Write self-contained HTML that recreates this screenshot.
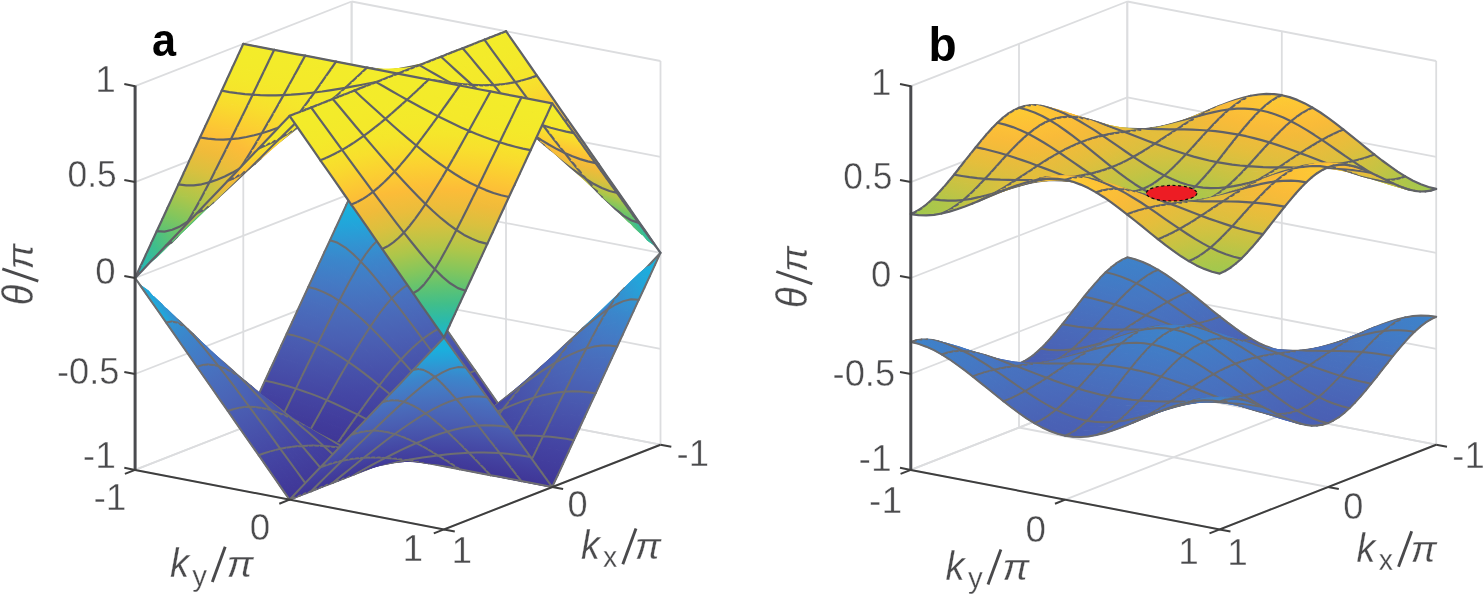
<!DOCTYPE html>
<html><head><meta charset="utf-8"><title>bands</title>
<style>
html,body{margin:0;padding:0;background:#fff;}
body{width:1484px;height:595px;overflow:hidden;font-family:"Liberation Sans",sans-serif;}
svg{display:block;}
path{stroke-width:1.2;stroke-linejoin:round;}
.c1{fill:url(#g1);stroke:url(#g1)}.c2{fill:url(#g2);stroke:url(#g2)}.c3{fill:url(#g3);stroke:url(#g3)}.c4{fill:url(#g4);stroke:url(#g4)}.c5{fill:url(#g5);stroke:url(#g5)}.c6{fill:url(#g6);stroke:url(#g6)}.c7{fill:url(#g7);stroke:url(#g7)}.c8{fill:url(#g8);stroke:url(#g8)}.c9{fill:url(#g9);stroke:url(#g9)}.c10{fill:url(#g10);stroke:url(#g10)}.c11{fill:url(#g11);stroke:url(#g11)}.c12{fill:url(#g12);stroke:url(#g12)}.c13{fill:url(#g13);stroke:url(#g13)}.c14{fill:url(#g14);stroke:url(#g14)}.c15{fill:url(#g15);stroke:url(#g15)}.c16{fill:url(#g16);stroke:url(#g16)}.c17{fill:url(#g17);stroke:url(#g17)}.c18{fill:url(#g18);stroke:url(#g18)}.c19{fill:url(#g19);stroke:url(#g19)}.c20{fill:url(#g20);stroke:url(#g20)}.c21{fill:url(#g21);stroke:url(#g21)}.c22{fill:url(#g22);stroke:url(#g22)}.c23{fill:url(#g23);stroke:url(#g23)}.c24{fill:url(#g24);stroke:url(#g24)}.c25{fill:url(#g25);stroke:url(#g25)}.c26{fill:url(#g26);stroke:url(#g26)}.c27{fill:url(#g27);stroke:url(#g27)}.c28{fill:url(#g28);stroke:url(#g28)}.c29{fill:url(#g29);stroke:url(#g29)}.c30{fill:url(#g30);stroke:url(#g30)}.c31{fill:url(#g31);stroke:url(#g31)}.c32{fill:url(#g32);stroke:url(#g32)}.c33{fill:url(#g33);stroke:url(#g33)}.c34{fill:url(#g34);stroke:url(#g34)}.c35{fill:url(#g35);stroke:url(#g35)}.c36{fill:url(#g36);stroke:url(#g36)}.c37{fill:url(#g37);stroke:url(#g37)}.c38{fill:url(#g38);stroke:url(#g38)}.c39{fill:url(#g39);stroke:url(#g39)}.c40{fill:url(#g40);stroke:url(#g40)}.c41{fill:url(#g41);stroke:url(#g41)}.c42{fill:url(#g42);stroke:url(#g42)}.c43{fill:url(#g43);stroke:url(#g43)}.c44{fill:url(#g44);stroke:url(#g44)}.c45{fill:url(#g45);stroke:url(#g45)}.c46{fill:url(#g46);stroke:url(#g46)}.c47{fill:url(#g47);stroke:url(#g47)}.c48{fill:url(#g48);stroke:url(#g48)}.c49{fill:url(#g49);stroke:url(#g49)}.c50{fill:url(#g50);stroke:url(#g50)}.c51{fill:url(#g51);stroke:url(#g51)}.c52{fill:url(#g52);stroke:url(#g52)}.c53{fill:url(#g53);stroke:url(#g53)}.c54{fill:url(#g54);stroke:url(#g54)}.c55{fill:url(#g55);stroke:url(#g55)}.c56{fill:url(#g56);stroke:url(#g56)}.c57{fill:url(#g57);stroke:url(#g57)}.c58{fill:url(#g58);stroke:url(#g58)}.c59{fill:url(#g59);stroke:url(#g59)}.c60{fill:url(#g60);stroke:url(#g60)}.c61{fill:url(#g61);stroke:url(#g61)}.c62{fill:url(#g62);stroke:url(#g62)}.c63{fill:url(#g63);stroke:url(#g63)}.c64{fill:url(#g64);stroke:url(#g64)}.c65{fill:url(#g65);stroke:url(#g65)}.c66{fill:url(#g66);stroke:url(#g66)}.c67{fill:url(#g67);stroke:url(#g67)}.c68{fill:url(#g68);stroke:url(#g68)}.c69{fill:url(#g69);stroke:url(#g69)}.c70{fill:url(#g70);stroke:url(#g70)}.c71{fill:url(#g71);stroke:url(#g71)}.c72{fill:url(#g72);stroke:url(#g72)}.c73{fill:url(#g73);stroke:url(#g73)}.c74{fill:url(#g74);stroke:url(#g74)}.c75{fill:url(#g75);stroke:url(#g75)}.c76{fill:url(#g76);stroke:url(#g76)}.c77{fill:url(#g77);stroke:url(#g77)}.c78{fill:url(#g78);stroke:url(#g78)}.c79{fill:url(#g79);stroke:url(#g79)}.c80{fill:url(#g80);stroke:url(#g80)}.c81{fill:url(#g81);stroke:url(#g81)}.c82{fill:url(#g82);stroke:url(#g82)}.c83{fill:url(#g83);stroke:url(#g83)}.c84{fill:url(#g84);stroke:url(#g84)}.c85{fill:url(#g85);stroke:url(#g85)}.c86{fill:url(#g86);stroke:url(#g86)}.c87{fill:url(#g87);stroke:url(#g87)}.c88{fill:url(#g88);stroke:url(#g88)}.c89{fill:url(#g89);stroke:url(#g89)}.c90{fill:url(#g90);stroke:url(#g90)}.c91{fill:url(#g91);stroke:url(#g91)}.c92{fill:url(#g92);stroke:url(#g92)}.c93{fill:url(#g93);stroke:url(#g93)}.c94{fill:url(#g94);stroke:url(#g94)}.c95{fill:url(#g95);stroke:url(#g95)}.c96{fill:url(#g96);stroke:url(#g96)}.c97{fill:url(#g97);stroke:url(#g97)}.c98{fill:url(#g98);stroke:url(#g98)}.c99{fill:url(#g99);stroke:url(#g99)}.c100{fill:url(#g100);stroke:url(#g100)}.c101{fill:url(#g101);stroke:url(#g101)}.c102{fill:url(#g102);stroke:url(#g102)}.c103{fill:url(#g103);stroke:url(#g103)}.c104{fill:url(#g104);stroke:url(#g104)}.c105{fill:url(#g105);stroke:url(#g105)}.c106{fill:url(#g106);stroke:url(#g106)}.c107{fill:url(#g107);stroke:url(#g107)}.c108{fill:url(#g108);stroke:url(#g108)}.c109{fill:url(#g109);stroke:url(#g109)}.c110{fill:url(#g110);stroke:url(#g110)}.c111{fill:url(#g111);stroke:url(#g111)}.c112{fill:url(#g112);stroke:url(#g112)}.c113{fill:url(#g113);stroke:url(#g113)}.c114{fill:url(#g114);stroke:url(#g114)}.c115{fill:url(#g115);stroke:url(#g115)}.c116{fill:url(#g116);stroke:url(#g116)}.c117{fill:url(#g117);stroke:url(#g117)}.c118{fill:url(#g118);stroke:url(#g118)}.c119{fill:url(#g119);stroke:url(#g119)}.c120{fill:url(#g120);stroke:url(#g120)}.c121{fill:url(#g121);stroke:url(#g121)}.c122{fill:url(#g122);stroke:url(#g122)}.c123{fill:url(#g123);stroke:url(#g123)}.c124{fill:url(#g124);stroke:url(#g124)}.c125{fill:url(#g125);stroke:url(#g125)}.c126{fill:url(#g126);stroke:url(#g126)}.c127{fill:url(#g127);stroke:url(#g127)}.c128{fill:url(#g128);stroke:url(#g128)}.c129{fill:url(#g129);stroke:url(#g129)}.c130{fill:url(#g130);stroke:url(#g130)}.c131{fill:url(#g131);stroke:url(#g131)}.c132{fill:url(#g132);stroke:url(#g132)}.c133{fill:url(#g133);stroke:url(#g133)}.c134{fill:url(#g134);stroke:url(#g134)}.c135{fill:url(#g135);stroke:url(#g135)}.c136{fill:url(#g136);stroke:url(#g136)}.c137{fill:url(#g137);stroke:url(#g137)}.c138{fill:url(#g138);stroke:url(#g138)}.c139{fill:url(#g139);stroke:url(#g139)}.c140{fill:url(#g140);stroke:url(#g140)}.c141{fill:url(#g141);stroke:url(#g141)}.c142{fill:url(#g142);stroke:url(#g142)}.c143{fill:url(#g143);stroke:url(#g143)}.c144{fill:url(#g144);stroke:url(#g144)}.c145{fill:url(#g145);stroke:url(#g145)}.c146{fill:url(#g146);stroke:url(#g146)}.c147{fill:url(#g147);stroke:url(#g147)}.c148{fill:url(#g148);stroke:url(#g148)}.c149{fill:url(#g149);stroke:url(#g149)}.c150{fill:url(#g150);stroke:url(#g150)}.c151{fill:url(#g151);stroke:url(#g151)}.c152{fill:url(#g152);stroke:url(#g152)}.c153{fill:url(#g153);stroke:url(#g153)}.c154{fill:url(#g154);stroke:url(#g154)}.c155{fill:url(#g155);stroke:url(#g155)}.c156{fill:url(#g156);stroke:url(#g156)}.c157{fill:url(#g157);stroke:url(#g157)}.c158{fill:url(#g158);stroke:url(#g158)}.c159{fill:url(#g159);stroke:url(#g159)}.c160{fill:url(#g160);stroke:url(#g160)}.c161{fill:url(#g161);stroke:url(#g161)}.c162{fill:url(#g162);stroke:url(#g162)}.c163{fill:url(#g163);stroke:url(#g163)}.c164{fill:url(#g164);stroke:url(#g164)}.c165{fill:url(#g165);stroke:url(#g165)}.c166{fill:url(#g166);stroke:url(#g166)}.c167{fill:url(#g167);stroke:url(#g167)}.c168{fill:url(#g168);stroke:url(#g168)}.c169{fill:url(#g169);stroke:url(#g169)}.c170{fill:url(#g170);stroke:url(#g170)}.c171{fill:url(#g171);stroke:url(#g171)}.c172{fill:url(#g172);stroke:url(#g172)}.c173{fill:url(#g173);stroke:url(#g173)}.c174{fill:url(#g174);stroke:url(#g174)}.c175{fill:url(#g175);stroke:url(#g175)}.c176{fill:url(#g176);stroke:url(#g176)}.c177{fill:url(#g177);stroke:url(#g177)}.c178{fill:url(#g178);stroke:url(#g178)}.c179{fill:url(#g179);stroke:url(#g179)}.c180{fill:url(#g180);stroke:url(#g180)}.c181{fill:url(#g181);stroke:url(#g181)}.c182{fill:url(#g182);stroke:url(#g182)}.c183{fill:url(#g183);stroke:url(#g183)}.c184{fill:url(#g184);stroke:url(#g184)}.c185{fill:url(#g185);stroke:url(#g185)}.c186{fill:url(#g186);stroke:url(#g186)}.c187{fill:url(#g187);stroke:url(#g187)}.c188{fill:url(#g188);stroke:url(#g188)}.c189{fill:url(#g189);stroke:url(#g189)}.c190{fill:url(#g190);stroke:url(#g190)}.c191{fill:url(#g191);stroke:url(#g191)}.c192{fill:url(#g192);stroke:url(#g192)}.c193{fill:url(#g193);stroke:url(#g193)}.c194{fill:url(#g194);stroke:url(#g194)}.c195{fill:url(#g195);stroke:url(#g195)}.c196{fill:url(#g196);stroke:url(#g196)}.c197{fill:url(#g197);stroke:url(#g197)}.c198{fill:url(#g198);stroke:url(#g198)}.c199{fill:url(#g199);stroke:url(#g199)}.c200{fill:url(#g200);stroke:url(#g200)}.c201{fill:url(#g201);stroke:url(#g201)}.c202{fill:url(#g202);stroke:url(#g202)}.c203{fill:url(#g203);stroke:url(#g203)}.c204{fill:url(#g204);stroke:url(#g204)}.c205{fill:url(#g205);stroke:url(#g205)}.c206{fill:url(#g206);stroke:url(#g206)}.c207{fill:url(#g207);stroke:url(#g207)}.c208{fill:#4870be;stroke:#4870be}.c209{fill:url(#g208);stroke:url(#g208)}.c210{fill:url(#g209);stroke:url(#g209)}.c211{fill:url(#g210);stroke:url(#g210)}.c212{fill:url(#g211);stroke:url(#g211)}.c213{fill:url(#g212);stroke:url(#g212)}.c214{fill:url(#g213);stroke:url(#g213)}.c215{fill:#4a67b8;stroke:#4a67b8}.c216{fill:url(#g214);stroke:url(#g214)}.c217{fill:url(#g215);stroke:url(#g215)}.c218{fill:url(#g216);stroke:url(#g216)}.c219{fill:url(#g217);stroke:url(#g217)}.c220{fill:url(#g218);stroke:url(#g218)}.c221{fill:url(#g219);stroke:url(#g219)}.c222{fill:url(#g220);stroke:url(#g220)}.c223{fill:#4870be;stroke:#4870be}.c224{fill:url(#g221);stroke:url(#g221)}.c225{fill:url(#g222);stroke:url(#g222)}.c226{fill:url(#g223);stroke:url(#g223)}.c227{fill:url(#g224);stroke:url(#g224)}.c228{fill:#4870be;stroke:#4870be}.c229{fill:url(#g225);stroke:url(#g225)}.c230{fill:url(#g226);stroke:url(#g226)}.c231{fill:url(#g227);stroke:url(#g227)}.c232{fill:url(#g228);stroke:url(#g228)}.c233{fill:url(#g229);stroke:url(#g229)}.c234{fill:url(#g230);stroke:url(#g230)}.c235{fill:url(#g231);stroke:url(#g231)}.c236{fill:#4479c4;stroke:#4479c4}.c237{fill:url(#g232);stroke:url(#g232)}.c238{fill:url(#g233);stroke:url(#g233)}.c239{fill:url(#g234);stroke:url(#g234)}.c240{fill:url(#g235);stroke:url(#g235)}.c241{fill:url(#g236);stroke:url(#g236)}.c242{fill:url(#g237);stroke:url(#g237)}.c243{fill:#4870be;stroke:#4870be}.c244{fill:url(#g238);stroke:url(#g238)}.c245{fill:url(#g239);stroke:url(#g239)}.c246{fill:url(#g240);stroke:url(#g240)}.c247{fill:url(#g241);stroke:url(#g241)}.c248{fill:url(#g242);stroke:url(#g242)}.c249{fill:url(#g243);stroke:url(#g243)}.c250{fill:url(#g244);stroke:url(#g244)}.c251{fill:url(#g245);stroke:url(#g245)}.c252{fill:url(#g246);stroke:url(#g246)}.c253{fill:#4870be;stroke:#4870be}.c254{fill:url(#g247);stroke:url(#g247)}.c255{fill:url(#g248);stroke:url(#g248)}.c256{fill:url(#g249);stroke:url(#g249)}.c257{fill:url(#g250);stroke:url(#g250)}.c258{fill:url(#g251);stroke:url(#g251)}.c259{fill:url(#g252);stroke:url(#g252)}.c260{fill:url(#g253);stroke:url(#g253)}.c261{fill:url(#g254);stroke:url(#g254)}.c262{fill:url(#g255);stroke:url(#g255)}.c263{fill:url(#g256);stroke:url(#g256)}.c264{fill:url(#g257);stroke:url(#g257)}.c265{fill:url(#g258);stroke:url(#g258)}.c266{fill:url(#g259);stroke:url(#g259)}.c267{fill:url(#g260);stroke:url(#g260)}.c268{fill:url(#g261);stroke:url(#g261)}.c269{fill:url(#g262);stroke:url(#g262)}.c270{fill:#4a67b8;stroke:#4a67b8}.c271{fill:url(#g263);stroke:url(#g263)}.c272{fill:url(#g264);stroke:url(#g264)}.c273{fill:#4870be;stroke:#4870be}.c274{fill:url(#g265);stroke:url(#g265)}.c275{fill:url(#g266);stroke:url(#g266)}.c276{fill:url(#g267);stroke:url(#g267)}.c277{fill:url(#g268);stroke:url(#g268)}.c278{fill:#4870be;stroke:#4870be}.c279{fill:url(#g269);stroke:url(#g269)}.c280{fill:url(#g270);stroke:url(#g270)}.c281{fill:#4479c4;stroke:#4479c4}.c282{fill:url(#g271);stroke:url(#g271)}.c283{fill:url(#g272);stroke:url(#g272)}.c284{fill:url(#g273);stroke:url(#g273)}.c285{fill:url(#g274);stroke:url(#g274)}.c286{fill:url(#g275);stroke:url(#g275)}.c287{fill:url(#g276);stroke:url(#g276)}.c288{fill:url(#g277);stroke:url(#g277)}.c289{fill:url(#g278);stroke:url(#g278)}.c290{fill:url(#g279);stroke:url(#g279)}.c291{fill:url(#g280);stroke:url(#g280)}.c292{fill:url(#g281);stroke:url(#g281)}.c293{fill:url(#g282);stroke:url(#g282)}.c294{fill:url(#g283);stroke:url(#g283)}.c295{fill:url(#g284);stroke:url(#g284)}.c296{fill:url(#g285);stroke:url(#g285)}.c297{fill:url(#g286);stroke:url(#g286)}.c298{fill:#4870be;stroke:#4870be}.c299{fill:url(#g287);stroke:url(#g287)}.c300{fill:url(#g288);stroke:url(#g288)}.c301{fill:url(#g289);stroke:url(#g289)}.c302{fill:url(#g290);stroke:url(#g290)}.c303{fill:#e4be3c;stroke:#e4be3c}.c304{fill:url(#g291);stroke:url(#g291)}.c305{fill:url(#g292);stroke:url(#g292)}.c306{fill:url(#g293);stroke:url(#g293)}.c307{fill:url(#g294);stroke:url(#g294)}.c308{fill:url(#g295);stroke:url(#g295)}.c309{fill:url(#g296);stroke:url(#g296)}.c310{fill:url(#g297);stroke:url(#g297)}.c311{fill:url(#g298);stroke:url(#g298)}.c312{fill:url(#g299);stroke:url(#g299)}.c313{fill:url(#g300);stroke:url(#g300)}.c314{fill:url(#g301);stroke:url(#g301)}.c315{fill:url(#g302);stroke:url(#g302)}.c316{fill:url(#g303);stroke:url(#g303)}.c317{fill:url(#g304);stroke:url(#g304)}.c318{fill:url(#g305);stroke:url(#g305)}.c319{fill:url(#g306);stroke:url(#g306)}.c320{fill:#c5c343;stroke:#c5c343}.c321{fill:url(#g307);stroke:url(#g307)}.c322{fill:url(#g308);stroke:url(#g308)}.c323{fill:#e4be3c;stroke:#e4be3c}.c324{fill:url(#g309);stroke:url(#g309)}.c325{fill:url(#g310);stroke:url(#g310)}.c326{fill:url(#g311);stroke:url(#g311)}.c327{fill:url(#g312);stroke:url(#g312)}.c328{fill:#e4be3c;stroke:#e4be3c}.c329{fill:url(#g313);stroke:url(#g313)}.c330{fill:url(#g314);stroke:url(#g314)}.c331{fill:#f9bb39;stroke:#f9bb39}.c332{fill:url(#g315);stroke:url(#g315)}.c333{fill:url(#g316);stroke:url(#g316)}.c334{fill:url(#g317);stroke:url(#g317)}.c335{fill:url(#g318);stroke:url(#g318)}.c336{fill:url(#g319);stroke:url(#g319)}.c337{fill:url(#g320);stroke:url(#g320)}.c338{fill:url(#g321);stroke:url(#g321)}.c339{fill:url(#g322);stroke:url(#g322)}.c340{fill:url(#g323);stroke:url(#g323)}.c341{fill:url(#g324);stroke:url(#g324)}.c342{fill:url(#g325);stroke:url(#g325)}.c343{fill:url(#g326);stroke:url(#g326)}.c344{fill:url(#g327);stroke:url(#g327)}.c345{fill:url(#g328);stroke:url(#g328)}.c346{fill:url(#g329);stroke:url(#g329)}.c347{fill:url(#g330);stroke:url(#g330)}.c348{fill:#e4be3c;stroke:#e4be3c}.c349{fill:url(#g331);stroke:url(#g331)}.c350{fill:url(#g332);stroke:url(#g332)}.c351{fill:url(#g333);stroke:url(#g333)}.c352{fill:url(#g334);stroke:url(#g334)}.c353{fill:url(#g335);stroke:url(#g335)}.c354{fill:url(#g336);stroke:url(#g336)}.c355{fill:url(#g337);stroke:url(#g337)}.c356{fill:url(#g338);stroke:url(#g338)}.c357{fill:url(#g339);stroke:url(#g339)}.c358{fill:#e4be3c;stroke:#e4be3c}.c359{fill:url(#g340);stroke:url(#g340)}.c360{fill:url(#g341);stroke:url(#g341)}.c361{fill:url(#g342);stroke:url(#g342)}.c362{fill:url(#g343);stroke:url(#g343)}.c363{fill:url(#g344);stroke:url(#g344)}.c364{fill:url(#g345);stroke:url(#g345)}.c365{fill:#c5c343;stroke:#c5c343}.c366{fill:url(#g346);stroke:url(#g346)}.c367{fill:url(#g347);stroke:url(#g347)}.c368{fill:url(#g348);stroke:url(#g348)}.c369{fill:url(#g349);stroke:url(#g349)}.c370{fill:url(#g350);stroke:url(#g350)}.c371{fill:url(#g351);stroke:url(#g351)}.c372{fill:url(#g352);stroke:url(#g352)}.c373{fill:#e4be3c;stroke:#e4be3c}.c374{fill:url(#g353);stroke:url(#g353)}.c375{fill:url(#g354);stroke:url(#g354)}.c376{fill:url(#g355);stroke:url(#g355)}.c377{fill:url(#g356);stroke:url(#g356)}.c378{fill:#e4be3c;stroke:#e4be3c}.c379{fill:url(#g357);stroke:url(#g357)}.c380{fill:url(#g358);stroke:url(#g358)}.c381{fill:url(#g359);stroke:url(#g359)}.c382{fill:url(#g360);stroke:url(#g360)}.c383{fill:url(#g361);stroke:url(#g361)}.c384{fill:url(#g362);stroke:url(#g362)}.c385{fill:url(#g363);stroke:url(#g363)}.c386{fill:#f9bb39;stroke:#f9bb39}.c387{fill:url(#g364);stroke:url(#g364)}.c388{fill:url(#g365);stroke:url(#g365)}.c389{fill:url(#g366);stroke:url(#g366)}.c390{fill:url(#g367);stroke:url(#g367)}.c391{fill:url(#g368);stroke:url(#g368)}.c392{fill:url(#g369);stroke:url(#g369)}.c393{fill:#e4be3c;stroke:#e4be3c}.c394{fill:url(#g370);stroke:url(#g370)}.c395{fill:url(#g371);stroke:url(#g371)}.c396{fill:url(#g372);stroke:url(#g372)}.c397{fill:url(#g373);stroke:url(#g373)}.c398{fill:url(#g374);stroke:url(#g374)}.c399{fill:url(#g375);stroke:url(#g375)}.c400{fill:url(#g376);stroke:url(#g376)}
.g{stroke:#dcdddf;stroke-width:1.8;fill:none;}
.ax{stroke:#3e3e3e;stroke-width:2;fill:none;stroke-linejoin:miter;}
.az{stroke:#4a4b4f;stroke-width:3;fill:none;}
.mu{stroke:#5f6168;stroke-width:2.2;fill:none;stroke-linejoin:round;stroke-linecap:round;}
.ml{stroke:#6e6e70;stroke-width:2;fill:none;stroke-linejoin:round;stroke-linecap:round;}
.mb{stroke:#6b6b6d;stroke-width:2;fill:none;stroke-linejoin:round;stroke-linecap:round;}
text{font-family:"Liberation Sans",sans-serif;fill:#4a4a4c;}
.th{stroke:#fff;stroke-width:.3;}
.tk{stroke:#fff;stroke-width:.45;}
.sl{stroke:#4a4a4c;stroke-width:2.9;fill:none;}
</style></head><body>
<svg width="1484" height="595" viewBox="0 0 1484 595">
<rect width="1484" height="595" fill="#fff"/>
<defs>
<linearGradient id="g1" gradientUnits="userSpaceOnUse" x1="357.7" y1="261.1" x2="354.3" y2="191.8"><stop offset="0" stop-color="#3b86cb"/><stop offset="0.25" stop-color="#3194d2"/><stop offset="0.5" stop-color="#24a3d9"/><stop offset="0.75" stop-color="#1ab0dd"/><stop offset="1" stop-color="#1ab4d6"/></linearGradient>
<linearGradient id="g2" gradientUnits="userSpaceOnUse" x1="393.2" y1="297.8" x2="380.8" y2="238"><stop offset="0" stop-color="#4871bf"/><stop offset="0.33" stop-color="#437bc5"/><stop offset="0.67" stop-color="#3b86cb"/><stop offset="1" stop-color="#3096d3"/></linearGradient>
<linearGradient id="g3" gradientUnits="userSpaceOnUse" x1="425.7" y1="338.1" x2="410.2" y2="282.9"><stop offset="0" stop-color="#4a5db1"/><stop offset="0.33" stop-color="#4a65b7"/><stop offset="0.67" stop-color="#496dbc"/><stop offset="1" stop-color="#4676c2"/></linearGradient>
<linearGradient id="g4" gradientUnits="userSpaceOnUse" x1="457.4" y1="379.6" x2="440.2" y2="327.6"><stop offset="0" stop-color="#4547a4"/><stop offset="0.33" stop-color="#474fa9"/><stop offset="0.67" stop-color="#4957ae"/><stop offset="1" stop-color="#4a5fb3"/></linearGradient>
<linearGradient id="g5" gradientUnits="userSpaceOnUse" x1="488.8" y1="421.6" x2="470.5" y2="372.3"><stop offset="0" stop-color="#3f3696"/><stop offset="0.33" stop-color="#413b9b"/><stop offset="0.67" stop-color="#4341a0"/><stop offset="1" stop-color="#4548a5"/></linearGradient>
<linearGradient id="g6" gradientUnits="userSpaceOnUse" x1="514" y1="411.4" x2="507.2" y2="394.9"><stop offset="0" stop-color="#3f3696"/><stop offset="0.33" stop-color="#413b9b"/><stop offset="0.67" stop-color="#4341a0"/><stop offset="1" stop-color="#4548a5"/></linearGradient>
<linearGradient id="g7" gradientUnits="userSpaceOnUse" x1="545.1" y1="379.2" x2="538" y2="364.1"><stop offset="0" stop-color="#4547a4"/><stop offset="0.33" stop-color="#474fa9"/><stop offset="0.67" stop-color="#4957ae"/><stop offset="1" stop-color="#4a5fb3"/></linearGradient>
<linearGradient id="g8" gradientUnits="userSpaceOnUse" x1="575.8" y1="346.3" x2="569.1" y2="334.4"><stop offset="0" stop-color="#4a5db1"/><stop offset="0.33" stop-color="#4a65b7"/><stop offset="0.67" stop-color="#496dbc"/><stop offset="1" stop-color="#4676c2"/></linearGradient>
<linearGradient id="g9" gradientUnits="userSpaceOnUse" x1="604" y1="310.8" x2="602.6" y2="309.3"><stop offset="0" stop-color="#4871bf"/><stop offset="0.33" stop-color="#437bc5"/><stop offset="0.67" stop-color="#3b86cb"/><stop offset="1" stop-color="#3096d3"/></linearGradient>
<linearGradient id="g10" gradientUnits="userSpaceOnUse" x1="606" y1="302.6" x2="670.8" y2="261"><stop offset="0" stop-color="#3b86cb"/><stop offset="0.25" stop-color="#3194d2"/><stop offset="0.5" stop-color="#24a3d9"/><stop offset="0.75" stop-color="#1ab0dd"/><stop offset="1" stop-color="#1ab4d6"/></linearGradient>
<linearGradient id="g11" gradientUnits="userSpaceOnUse" x1="332.1" y1="300.1" x2="337.2" y2="240.8"><stop offset="0" stop-color="#4871bf"/><stop offset="0.33" stop-color="#437bc5"/><stop offset="0.67" stop-color="#3b86cb"/><stop offset="1" stop-color="#3096d3"/></linearGradient>
<linearGradient id="g12" gradientUnits="userSpaceOnUse" x1="366.9" y1="326.6" x2="363.8" y2="260.9"><stop offset="0" stop-color="#4a65b7"/><stop offset="0.33" stop-color="#486fbd"/><stop offset="0.67" stop-color="#447ac4"/><stop offset="1" stop-color="#3b86cb"/></linearGradient>
<linearGradient id="g13" gradientUnits="userSpaceOnUse" x1="400.5" y1="359.1" x2="391.7" y2="297.9"><stop offset="0" stop-color="#4856ad"/><stop offset="0.33" stop-color="#4a5fb3"/><stop offset="0.67" stop-color="#4a68b8"/><stop offset="1" stop-color="#4871bf"/></linearGradient>
<linearGradient id="g14" gradientUnits="userSpaceOnUse" x1="433.3" y1="394.2" x2="420.5" y2="339.1"><stop offset="0" stop-color="#4444a2"/><stop offset="0.33" stop-color="#464ca7"/><stop offset="0.67" stop-color="#4855ac"/><stop offset="1" stop-color="#4a5db1"/></linearGradient>
<linearGradient id="g15" gradientUnits="userSpaceOnUse" x1="465.6" y1="430.3" x2="449.6" y2="381.8"><stop offset="0" stop-color="#3f3696"/><stop offset="0.33" stop-color="#413b9a"/><stop offset="0.67" stop-color="#43419f"/><stop offset="1" stop-color="#4547a4"/></linearGradient>
<linearGradient id="g16" gradientUnits="userSpaceOnUse" x1="491.6" y1="419.2" x2="486" y2="407.3"><stop offset="0" stop-color="#3f3696"/><stop offset="0.33" stop-color="#413b9a"/><stop offset="0.67" stop-color="#43419f"/><stop offset="1" stop-color="#4547a4"/></linearGradient>
<linearGradient id="g17" gradientUnits="userSpaceOnUse" x1="521.1" y1="387.7" x2="518.6" y2="384.3"><stop offset="0" stop-color="#4444a2"/><stop offset="0.33" stop-color="#464ca7"/><stop offset="0.67" stop-color="#4855ac"/><stop offset="1" stop-color="#4a5db1"/></linearGradient>
<linearGradient id="g18" gradientUnits="userSpaceOnUse" x1="540.3" y1="354.7" x2="562.6" y2="365.9"><stop offset="0" stop-color="#4856ad"/><stop offset="0.33" stop-color="#4a5fb3"/><stop offset="0.67" stop-color="#4a68b8"/><stop offset="1" stop-color="#4871bf"/></linearGradient>
<linearGradient id="g19" gradientUnits="userSpaceOnUse" x1="552.9" y1="356" x2="614.5" y2="316.5"><stop offset="0" stop-color="#4a65b7"/><stop offset="0.33" stop-color="#486fbd"/><stop offset="0.67" stop-color="#447ac4"/><stop offset="1" stop-color="#3b86cb"/></linearGradient>
<linearGradient id="g20" gradientUnits="userSpaceOnUse" x1="602" y1="353.8" x2="623.6" y2="294.1"><stop offset="0" stop-color="#4871bf"/><stop offset="0.33" stop-color="#437bc5"/><stop offset="0.67" stop-color="#3b86cb"/><stop offset="1" stop-color="#3096d3"/></linearGradient>
<linearGradient id="g21" gradientUnits="userSpaceOnUse" x1="309.3" y1="342.9" x2="316.6" y2="288.1"><stop offset="0" stop-color="#4a5db1"/><stop offset="0.33" stop-color="#4a65b7"/><stop offset="0.67" stop-color="#496dbc"/><stop offset="1" stop-color="#4676c2"/></linearGradient>
<linearGradient id="g22" gradientUnits="userSpaceOnUse" x1="342.7" y1="361.4" x2="345" y2="300.7"><stop offset="0" stop-color="#4856ad"/><stop offset="0.33" stop-color="#4a5fb3"/><stop offset="0.67" stop-color="#4a68b8"/><stop offset="1" stop-color="#4871bf"/></linearGradient>
<linearGradient id="g23" gradientUnits="userSpaceOnUse" x1="376" y1="384.9" x2="373.2" y2="326.2"><stop offset="0" stop-color="#464ba7"/><stop offset="0.33" stop-color="#4854ac"/><stop offset="0.67" stop-color="#4a5db1"/><stop offset="1" stop-color="#4a65b7"/></linearGradient>
<linearGradient id="g24" gradientUnits="userSpaceOnUse" x1="409" y1="411.5" x2="401.4" y2="358.7"><stop offset="0" stop-color="#42409e"/><stop offset="0.33" stop-color="#4446a4"/><stop offset="0.67" stop-color="#464ea8"/><stop offset="1" stop-color="#4856ad"/></linearGradient>
<linearGradient id="g25" gradientUnits="userSpaceOnUse" x1="441.9" y1="439" x2="429.4" y2="394.7"><stop offset="0" stop-color="#3f3696"/><stop offset="0.5" stop-color="#413c9c"/><stop offset="1" stop-color="#4444a2"/></linearGradient>
<linearGradient id="g26" gradientUnits="userSpaceOnUse" x1="468.1" y1="427" x2="466.4" y2="424"><stop offset="0" stop-color="#3f3696"/><stop offset="0.5" stop-color="#413c9c"/><stop offset="1" stop-color="#4444a2"/></linearGradient>
<linearGradient id="g27" gradientUnits="userSpaceOnUse" x1="486.9" y1="399.7" x2="512.1" y2="412.5"><stop offset="0" stop-color="#42409e"/><stop offset="0.33" stop-color="#4446a4"/><stop offset="0.67" stop-color="#464ea8"/><stop offset="1" stop-color="#4856ad"/></linearGradient>
<linearGradient id="g28" gradientUnits="userSpaceOnUse" x1="502.3" y1="404.8" x2="560.6" y2="367.4"><stop offset="0" stop-color="#464ba7"/><stop offset="0.33" stop-color="#4854ac"/><stop offset="0.67" stop-color="#4a5db1"/><stop offset="1" stop-color="#4a65b7"/></linearGradient>
<linearGradient id="g29" gradientUnits="userSpaceOnUse" x1="545.2" y1="402.8" x2="576.7" y2="342.6"><stop offset="0" stop-color="#4856ad"/><stop offset="0.33" stop-color="#4a5fb3"/><stop offset="0.67" stop-color="#4a68b8"/><stop offset="1" stop-color="#4871bf"/></linearGradient>
<linearGradient id="g30" gradientUnits="userSpaceOnUse" x1="583.6" y1="396.7" x2="598.3" y2="341.5"><stop offset="0" stop-color="#4a5db1"/><stop offset="0.33" stop-color="#4a65b7"/><stop offset="0.67" stop-color="#496dbc"/><stop offset="1" stop-color="#4676c2"/></linearGradient>
<linearGradient id="g31" gradientUnits="userSpaceOnUse" x1="287.1" y1="387.1" x2="295.5" y2="335.3"><stop offset="0" stop-color="#4547a4"/><stop offset="0.33" stop-color="#474fa9"/><stop offset="0.67" stop-color="#4957ae"/><stop offset="1" stop-color="#4a5fb3"/></linearGradient>
<linearGradient id="g32" gradientUnits="userSpaceOnUse" x1="319.5" y1="399" x2="325.1" y2="344.5"><stop offset="0" stop-color="#4444a2"/><stop offset="0.33" stop-color="#464ca7"/><stop offset="0.67" stop-color="#4855ac"/><stop offset="1" stop-color="#4a5db1"/></linearGradient>
<linearGradient id="g33" gradientUnits="userSpaceOnUse" x1="352.1" y1="413.7" x2="354.1" y2="361.5"><stop offset="0" stop-color="#42409e"/><stop offset="0.33" stop-color="#4446a4"/><stop offset="0.67" stop-color="#464ea8"/><stop offset="1" stop-color="#4856ad"/></linearGradient>
<linearGradient id="g34" gradientUnits="userSpaceOnUse" x1="384.9" y1="430.3" x2="382.7" y2="384.2"><stop offset="0" stop-color="#413b9a"/><stop offset="0.5" stop-color="#4342a0"/><stop offset="1" stop-color="#464ba7"/></linearGradient>
<linearGradient id="g35" gradientUnits="userSpaceOnUse" x1="417.8" y1="447.3" x2="410" y2="410.3"><stop offset="0" stop-color="#3f3696"/><stop offset="0.5" stop-color="#413b9a"/><stop offset="1" stop-color="#42409e"/></linearGradient>
<linearGradient id="g36" gradientUnits="userSpaceOnUse" x1="441.9" y1="434.5" x2="451.8" y2="446.1"><stop offset="0" stop-color="#3f3696"/><stop offset="0.5" stop-color="#413b9a"/><stop offset="1" stop-color="#42409e"/></linearGradient>
<linearGradient id="g37" gradientUnits="userSpaceOnUse" x1="454.2" y1="442.8" x2="506.7" y2="409.1"><stop offset="0" stop-color="#413b9a"/><stop offset="0.5" stop-color="#4342a0"/><stop offset="1" stop-color="#464ba7"/></linearGradient>
<linearGradient id="g38" gradientUnits="userSpaceOnUse" x1="495" y1="444.1" x2="522.8" y2="390.6"><stop offset="0" stop-color="#42409e"/><stop offset="0.33" stop-color="#4446a4"/><stop offset="0.67" stop-color="#464ea8"/><stop offset="1" stop-color="#4856ad"/></linearGradient>
<linearGradient id="g39" gradientUnits="userSpaceOnUse" x1="529.9" y1="441" x2="547.9" y2="385.7"><stop offset="0" stop-color="#4444a2"/><stop offset="0.33" stop-color="#464ca7"/><stop offset="0.67" stop-color="#4855ac"/><stop offset="1" stop-color="#4a5db1"/></linearGradient>
<linearGradient id="g40" gradientUnits="userSpaceOnUse" x1="563.4" y1="440.7" x2="575.3" y2="388.7"><stop offset="0" stop-color="#4547a4"/><stop offset="0.33" stop-color="#474fa9"/><stop offset="0.67" stop-color="#4957ae"/><stop offset="1" stop-color="#4a5fb3"/></linearGradient>
<linearGradient id="g41" gradientUnits="userSpaceOnUse" x1="265.2" y1="431.7" x2="274.2" y2="382.3"><stop offset="0" stop-color="#3f3696"/><stop offset="0.33" stop-color="#413b9b"/><stop offset="0.67" stop-color="#4341a0"/><stop offset="1" stop-color="#4548a5"/></linearGradient>
<linearGradient id="g42" gradientUnits="userSpaceOnUse" x1="296.9" y1="437.6" x2="304.6" y2="389.6"><stop offset="0" stop-color="#3f3696"/><stop offset="0.33" stop-color="#413b9a"/><stop offset="0.67" stop-color="#43419f"/><stop offset="1" stop-color="#4547a4"/></linearGradient>
<linearGradient id="g43" gradientUnits="userSpaceOnUse" x1="328.9" y1="443.6" x2="334.7" y2="400.4"><stop offset="0" stop-color="#3f3696"/><stop offset="0.5" stop-color="#413c9c"/><stop offset="1" stop-color="#4444a2"/></linearGradient>
<linearGradient id="g44" gradientUnits="userSpaceOnUse" x1="361.1" y1="449.2" x2="364.2" y2="413.7"><stop offset="0" stop-color="#3f3696"/><stop offset="0.5" stop-color="#413b9a"/><stop offset="1" stop-color="#42409e"/></linearGradient>
<linearGradient id="g45" gradientUnits="userSpaceOnUse" x1="393.5" y1="453.8" x2="392.2" y2="427.4"><stop offset="0" stop-color="#3f3696"/><stop offset="1" stop-color="#413b9a"/></linearGradient>
<linearGradient id="g46" gradientUnits="userSpaceOnUse" x1="413.1" y1="460.1" x2="456.5" y2="432.3"><stop offset="0" stop-color="#3f3696"/><stop offset="1" stop-color="#413b9a"/></linearGradient>
<linearGradient id="g47" gradientUnits="userSpaceOnUse" x1="449.7" y1="468.2" x2="463.4" y2="429.7"><stop offset="0" stop-color="#3f3696"/><stop offset="0.5" stop-color="#413b9a"/><stop offset="1" stop-color="#42409e"/></linearGradient>
<linearGradient id="g48" gradientUnits="userSpaceOnUse" x1="480.7" y1="473.7" x2="492.5" y2="429.6"><stop offset="0" stop-color="#3f3696"/><stop offset="0.5" stop-color="#413c9c"/><stop offset="1" stop-color="#4444a2"/></linearGradient>
<linearGradient id="g49" gradientUnits="userSpaceOnUse" x1="511.6" y1="479.4" x2="522.6" y2="431.1"><stop offset="0" stop-color="#3f3696"/><stop offset="0.33" stop-color="#413b9a"/><stop offset="0.67" stop-color="#43419f"/><stop offset="1" stop-color="#4547a4"/></linearGradient>
<linearGradient id="g50" gradientUnits="userSpaceOnUse" x1="542.7" y1="485.3" x2="552.7" y2="435.8"><stop offset="0" stop-color="#3f3696"/><stop offset="0.33" stop-color="#413b9b"/><stop offset="0.67" stop-color="#4341a0"/><stop offset="1" stop-color="#4548a5"/></linearGradient>
<linearGradient id="g51" gradientUnits="userSpaceOnUse" x1="245.6" y1="427.8" x2="250.5" y2="403.6"><stop offset="0" stop-color="#3f3696"/><stop offset="0.33" stop-color="#413b9b"/><stop offset="0.67" stop-color="#4341a0"/><stop offset="1" stop-color="#4548a5"/></linearGradient>
<linearGradient id="g52" gradientUnits="userSpaceOnUse" x1="276.6" y1="433.5" x2="281.4" y2="412.6"><stop offset="0" stop-color="#3f3696"/><stop offset="0.33" stop-color="#413b9a"/><stop offset="0.67" stop-color="#43419f"/><stop offset="1" stop-color="#4547a4"/></linearGradient>
<linearGradient id="g53" gradientUnits="userSpaceOnUse" x1="308.2" y1="439.1" x2="311.8" y2="425.6"><stop offset="0" stop-color="#3f3696"/><stop offset="0.5" stop-color="#413c9c"/><stop offset="1" stop-color="#4444a2"/></linearGradient>
<linearGradient id="g54" gradientUnits="userSpaceOnUse" x1="340.5" y1="444.4" x2="340.9" y2="443.4"><stop offset="0" stop-color="#3f3696"/><stop offset="0.5" stop-color="#413b9a"/><stop offset="1" stop-color="#42409e"/></linearGradient>
<linearGradient id="g55" gradientUnits="userSpaceOnUse" x1="379.8" y1="450.3" x2="347" y2="471.3"><stop offset="0" stop-color="#3f3696"/><stop offset="1" stop-color="#413b9a"/></linearGradient>
<linearGradient id="g56" gradientUnits="userSpaceOnUse" x1="402.4" y1="460.8" x2="402.5" y2="463.9"><stop offset="0" stop-color="#3f3696"/><stop offset="1" stop-color="#413b9a"/></linearGradient>
<linearGradient id="g57" gradientUnits="userSpaceOnUse" x1="433" y1="465.2" x2="433.8" y2="456.5"><stop offset="0" stop-color="#3f3696"/><stop offset="0.5" stop-color="#413b9a"/><stop offset="1" stop-color="#42409e"/></linearGradient>
<linearGradient id="g58" gradientUnits="userSpaceOnUse" x1="463.2" y1="470.6" x2="465.5" y2="453.1"><stop offset="0" stop-color="#3f3696"/><stop offset="0.5" stop-color="#413c9c"/><stop offset="1" stop-color="#4444a2"/></linearGradient>
<linearGradient id="g59" gradientUnits="userSpaceOnUse" x1="493.4" y1="476.1" x2="497.1" y2="453.1"><stop offset="0" stop-color="#3f3696"/><stop offset="0.33" stop-color="#413b9a"/><stop offset="0.67" stop-color="#43419f"/><stop offset="1" stop-color="#4547a4"/></linearGradient>
<linearGradient id="g60" gradientUnits="userSpaceOnUse" x1="523.8" y1="481.7" x2="528.3" y2="456.8"><stop offset="0" stop-color="#3f3696"/><stop offset="0.33" stop-color="#413b9b"/><stop offset="0.67" stop-color="#4341a0"/><stop offset="1" stop-color="#4548a5"/></linearGradient>
<linearGradient id="g61" gradientUnits="userSpaceOnUse" x1="223.5" y1="399" x2="229.2" y2="374.4"><stop offset="0" stop-color="#4547a4"/><stop offset="0.33" stop-color="#474fa9"/><stop offset="0.67" stop-color="#4957ae"/><stop offset="1" stop-color="#4a5fb3"/></linearGradient>
<linearGradient id="g62" gradientUnits="userSpaceOnUse" x1="254.2" y1="408.1" x2="260.6" y2="388.1"><stop offset="0" stop-color="#4444a2"/><stop offset="0.33" stop-color="#464ca7"/><stop offset="0.67" stop-color="#4855ac"/><stop offset="1" stop-color="#4a5db1"/></linearGradient>
<linearGradient id="g63" gradientUnits="userSpaceOnUse" x1="286.5" y1="418.6" x2="290" y2="411.9"><stop offset="0" stop-color="#42409e"/><stop offset="0.33" stop-color="#4446a4"/><stop offset="0.67" stop-color="#464ea8"/><stop offset="1" stop-color="#4856ad"/></linearGradient>
<linearGradient id="g64" gradientUnits="userSpaceOnUse" x1="329.2" y1="429.4" x2="305.3" y2="444.8"><stop offset="0" stop-color="#413b9a"/><stop offset="0.5" stop-color="#4342a0"/><stop offset="1" stop-color="#464ba7"/></linearGradient>
<linearGradient id="g65" gradientUnits="userSpaceOnUse" x1="362.2" y1="472.8" x2="330.2" y2="435.5"><stop offset="0" stop-color="#3f3696"/><stop offset="0.5" stop-color="#413b9a"/><stop offset="1" stop-color="#42409e"/></linearGradient>
<linearGradient id="g66" gradientUnits="userSpaceOnUse" x1="381.2" y1="466.6" x2="380" y2="460.8"><stop offset="0" stop-color="#3f3696"/><stop offset="0.5" stop-color="#413b9a"/><stop offset="1" stop-color="#42409e"/></linearGradient>
<linearGradient id="g67" gradientUnits="userSpaceOnUse" x1="412" y1="460.9" x2="411.2" y2="444.3"><stop offset="0" stop-color="#413b9a"/><stop offset="0.5" stop-color="#4342a0"/><stop offset="1" stop-color="#464ba7"/></linearGradient>
<linearGradient id="g68" gradientUnits="userSpaceOnUse" x1="442.1" y1="456.2" x2="443.1" y2="432.1"><stop offset="0" stop-color="#42409e"/><stop offset="0.33" stop-color="#4446a4"/><stop offset="0.67" stop-color="#464ea8"/><stop offset="1" stop-color="#4856ad"/></linearGradient>
<linearGradient id="g69" gradientUnits="userSpaceOnUse" x1="472.1" y1="453.5" x2="474.9" y2="425.6"><stop offset="0" stop-color="#4444a2"/><stop offset="0.33" stop-color="#464ca7"/><stop offset="0.67" stop-color="#4855ac"/><stop offset="1" stop-color="#4a5db1"/></linearGradient>
<linearGradient id="g70" gradientUnits="userSpaceOnUse" x1="502.2" y1="453.6" x2="506.5" y2="426.9"><stop offset="0" stop-color="#4547a4"/><stop offset="0.33" stop-color="#474fa9"/><stop offset="0.67" stop-color="#4957ae"/><stop offset="1" stop-color="#4a5fb3"/></linearGradient>
<linearGradient id="g71" gradientUnits="userSpaceOnUse" x1="201.4" y1="370.2" x2="208" y2="345.7"><stop offset="0" stop-color="#4a5db1"/><stop offset="0.33" stop-color="#4a65b7"/><stop offset="0.67" stop-color="#496dbc"/><stop offset="1" stop-color="#4676c2"/></linearGradient>
<linearGradient id="g72" gradientUnits="userSpaceOnUse" x1="232.3" y1="381.3" x2="239.2" y2="368.1"><stop offset="0" stop-color="#4856ad"/><stop offset="0.33" stop-color="#4a5fb3"/><stop offset="0.67" stop-color="#4a68b8"/><stop offset="1" stop-color="#4871bf"/></linearGradient>
<linearGradient id="g73" gradientUnits="userSpaceOnUse" x1="274.9" y1="394.8" x2="256.6" y2="406.6"><stop offset="0" stop-color="#464ba7"/><stop offset="0.33" stop-color="#4854ac"/><stop offset="0.67" stop-color="#4a5db1"/><stop offset="1" stop-color="#4a65b7"/></linearGradient>
<linearGradient id="g74" gradientUnits="userSpaceOnUse" x1="322.6" y1="442.8" x2="266.6" y2="414.4"><stop offset="0" stop-color="#42409e"/><stop offset="0.33" stop-color="#4446a4"/><stop offset="0.67" stop-color="#464ea8"/><stop offset="1" stop-color="#4856ad"/></linearGradient>
<linearGradient id="g75" gradientUnits="userSpaceOnUse" x1="339" y1="481.2" x2="314.3" y2="437.3"><stop offset="0" stop-color="#3f3696"/><stop offset="0.5" stop-color="#413c9c"/><stop offset="1" stop-color="#4444a2"/></linearGradient>
<linearGradient id="g76" gradientUnits="userSpaceOnUse" x1="360.7" y1="473.6" x2="357.1" y2="460.8"><stop offset="0" stop-color="#3f3696"/><stop offset="0.5" stop-color="#413c9c"/><stop offset="1" stop-color="#4444a2"/></linearGradient>
<linearGradient id="g77" gradientUnits="userSpaceOnUse" x1="391.4" y1="457.8" x2="388.3" y2="435.8"><stop offset="0" stop-color="#42409e"/><stop offset="0.33" stop-color="#4446a4"/><stop offset="0.67" stop-color="#464ea8"/><stop offset="1" stop-color="#4856ad"/></linearGradient>
<linearGradient id="g78" gradientUnits="userSpaceOnUse" x1="421.5" y1="443.4" x2="420.1" y2="414.3"><stop offset="0" stop-color="#464ba7"/><stop offset="0.33" stop-color="#4854ac"/><stop offset="0.67" stop-color="#4a5db1"/><stop offset="1" stop-color="#4a65b7"/></linearGradient>
<linearGradient id="g79" gradientUnits="userSpaceOnUse" x1="451.2" y1="432.1" x2="452.4" y2="399.5"><stop offset="0" stop-color="#4856ad"/><stop offset="0.33" stop-color="#4a5fb3"/><stop offset="0.67" stop-color="#4a68b8"/><stop offset="1" stop-color="#4871bf"/></linearGradient>
<linearGradient id="g80" gradientUnits="userSpaceOnUse" x1="480.8" y1="426" x2="484.6" y2="397"><stop offset="0" stop-color="#4a5db1"/><stop offset="0.33" stop-color="#4a65b7"/><stop offset="0.67" stop-color="#496dbc"/><stop offset="1" stop-color="#4676c2"/></linearGradient>
<linearGradient id="g81" gradientUnits="userSpaceOnUse" x1="179.1" y1="341" x2="187.1" y2="319"><stop offset="0" stop-color="#4871bf"/><stop offset="0.33" stop-color="#437bc5"/><stop offset="0.67" stop-color="#3b86cb"/><stop offset="1" stop-color="#3096d3"/></linearGradient>
<linearGradient id="g82" gradientUnits="userSpaceOnUse" x1="221.1" y1="350.6" x2="205.7" y2="360.4"><stop offset="0" stop-color="#4a65b7"/><stop offset="0.33" stop-color="#486fbd"/><stop offset="0.67" stop-color="#447ac4"/><stop offset="1" stop-color="#3b86cb"/></linearGradient>
<linearGradient id="g83" gradientUnits="userSpaceOnUse" x1="272.9" y1="403.6" x2="213.3" y2="373.8"><stop offset="0" stop-color="#4856ad"/><stop offset="0.33" stop-color="#4a5fb3"/><stop offset="0.67" stop-color="#4a68b8"/><stop offset="1" stop-color="#4871bf"/></linearGradient>
<linearGradient id="g84" gradientUnits="userSpaceOnUse" x1="293.2" y1="451.3" x2="256" y2="401"><stop offset="0" stop-color="#4444a2"/><stop offset="0.33" stop-color="#464ca7"/><stop offset="0.67" stop-color="#4855ac"/><stop offset="1" stop-color="#4a5db1"/></linearGradient>
<linearGradient id="g85" gradientUnits="userSpaceOnUse" x1="317" y1="489.3" x2="294.6" y2="441.4"><stop offset="0" stop-color="#3f3696"/><stop offset="0.33" stop-color="#413b9a"/><stop offset="0.67" stop-color="#43419f"/><stop offset="1" stop-color="#4547a4"/></linearGradient>
<linearGradient id="g86" gradientUnits="userSpaceOnUse" x1="340.1" y1="481" x2="334.4" y2="463.8"><stop offset="0" stop-color="#3f3696"/><stop offset="0.33" stop-color="#413b9a"/><stop offset="0.67" stop-color="#43419f"/><stop offset="1" stop-color="#4547a4"/></linearGradient>
<linearGradient id="g87" gradientUnits="userSpaceOnUse" x1="371" y1="456.6" x2="365.4" y2="432.8"><stop offset="0" stop-color="#4444a2"/><stop offset="0.33" stop-color="#464ca7"/><stop offset="0.67" stop-color="#4855ac"/><stop offset="1" stop-color="#4a5db1"/></linearGradient>
<linearGradient id="g88" gradientUnits="userSpaceOnUse" x1="401.3" y1="433.6" x2="396.9" y2="403.2"><stop offset="0" stop-color="#4856ad"/><stop offset="0.33" stop-color="#4a5fb3"/><stop offset="0.67" stop-color="#4a68b8"/><stop offset="1" stop-color="#4871bf"/></linearGradient>
<linearGradient id="g89" gradientUnits="userSpaceOnUse" x1="430.9" y1="413.6" x2="429.2" y2="377.7"><stop offset="0" stop-color="#4a65b7"/><stop offset="0.33" stop-color="#486fbd"/><stop offset="0.67" stop-color="#447ac4"/><stop offset="1" stop-color="#3b86cb"/></linearGradient>
<linearGradient id="g90" gradientUnits="userSpaceOnUse" x1="459.7" y1="399.7" x2="462.4" y2="367.2"><stop offset="0" stop-color="#4871bf"/><stop offset="0.33" stop-color="#437bc5"/><stop offset="0.67" stop-color="#3b86cb"/><stop offset="1" stop-color="#3096d3"/></linearGradient>
<linearGradient id="g91" gradientUnits="userSpaceOnUse" x1="168.3" y1="302.7" x2="152.4" y2="312.9"><stop offset="0" stop-color="#3b86cb"/><stop offset="0.25" stop-color="#3194d2"/><stop offset="0.5" stop-color="#24a3d9"/><stop offset="0.75" stop-color="#1ab0dd"/><stop offset="1" stop-color="#1ab4d6"/></linearGradient>
<linearGradient id="g92" gradientUnits="userSpaceOnUse" x1="214.1" y1="369.4" x2="169.6" y2="319"><stop offset="0" stop-color="#4871bf"/><stop offset="0.33" stop-color="#437bc5"/><stop offset="0.67" stop-color="#3b86cb"/><stop offset="1" stop-color="#3096d3"/></linearGradient>
<linearGradient id="g93" gradientUnits="userSpaceOnUse" x1="238" y1="413.1" x2="208.1" y2="360.3"><stop offset="0" stop-color="#4a5db1"/><stop offset="0.33" stop-color="#4a65b7"/><stop offset="0.67" stop-color="#496dbc"/><stop offset="1" stop-color="#4676c2"/></linearGradient>
<linearGradient id="g94" gradientUnits="userSpaceOnUse" x1="265.9" y1="455.4" x2="242" y2="404.3"><stop offset="0" stop-color="#4547a4"/><stop offset="0.33" stop-color="#474fa9"/><stop offset="0.67" stop-color="#4957ae"/><stop offset="1" stop-color="#4a5fb3"/></linearGradient>
<linearGradient id="g95" gradientUnits="userSpaceOnUse" x1="294.9" y1="497.7" x2="274.6" y2="448.6"><stop offset="0" stop-color="#3f3696"/><stop offset="0.33" stop-color="#413b9b"/><stop offset="0.67" stop-color="#4341a0"/><stop offset="1" stop-color="#4548a5"/></linearGradient>
<linearGradient id="g96" gradientUnits="userSpaceOnUse" x1="319.1" y1="488.5" x2="312.4" y2="470.3"><stop offset="0" stop-color="#3f3696"/><stop offset="0.33" stop-color="#413b9b"/><stop offset="0.67" stop-color="#4341a0"/><stop offset="1" stop-color="#4548a5"/></linearGradient>
<linearGradient id="g97" gradientUnits="userSpaceOnUse" x1="350.1" y1="458.2" x2="343.3" y2="437.5"><stop offset="0" stop-color="#4547a4"/><stop offset="0.33" stop-color="#474fa9"/><stop offset="0.67" stop-color="#4957ae"/><stop offset="1" stop-color="#4a5fb3"/></linearGradient>
<linearGradient id="g98" gradientUnits="userSpaceOnUse" x1="380.9" y1="428.5" x2="374.2" y2="404.6"><stop offset="0" stop-color="#4a5db1"/><stop offset="0.33" stop-color="#4a65b7"/><stop offset="0.67" stop-color="#496dbc"/><stop offset="1" stop-color="#4676c2"/></linearGradient>
<linearGradient id="g99" gradientUnits="userSpaceOnUse" x1="411.4" y1="400.4" x2="405.4" y2="371.6"><stop offset="0" stop-color="#4871bf"/><stop offset="0.33" stop-color="#437bc5"/><stop offset="0.67" stop-color="#3b86cb"/><stop offset="1" stop-color="#3096d3"/></linearGradient>
<linearGradient id="g100" gradientUnits="userSpaceOnUse" x1="440.2" y1="377.3" x2="438.3" y2="339.2"><stop offset="0" stop-color="#3b86cb"/><stop offset="0.25" stop-color="#3194d2"/><stop offset="0.5" stop-color="#24a3d9"/><stop offset="0.75" stop-color="#1ab0dd"/><stop offset="1" stop-color="#1ab4d6"/></linearGradient>
<linearGradient id="g101" gradientUnits="userSpaceOnUse" x1="357.3" y1="191.7" x2="355.4" y2="153.6"><stop offset="0" stop-color="#1ab4d6"/><stop offset="0.25" stop-color="#2ab9ad"/><stop offset="0.5" stop-color="#40be8b"/><stop offset="0.75" stop-color="#5fc372"/><stop offset="1" stop-color="#84c65c"/></linearGradient>
<linearGradient id="g102" gradientUnits="userSpaceOnUse" x1="390.2" y1="159.3" x2="384.2" y2="130.5"><stop offset="0" stop-color="#5ac275"/><stop offset="0.33" stop-color="#84c65c"/><stop offset="0.67" stop-color="#aec64a"/><stop offset="1" stop-color="#cfc240"/></linearGradient>
<linearGradient id="g103" gradientUnits="userSpaceOnUse" x1="421.4" y1="126.3" x2="414.7" y2="102.4"><stop offset="0" stop-color="#bfc445"/><stop offset="0.33" stop-color="#dbc03e"/><stop offset="0.67" stop-color="#f0bb3a"/><stop offset="1" stop-color="#fcc037"/></linearGradient>
<linearGradient id="g104" gradientUnits="userSpaceOnUse" x1="452.3" y1="93.4" x2="445.5" y2="72.7"><stop offset="0" stop-color="#fcbb38"/><stop offset="0.33" stop-color="#fcca33"/><stop offset="0.67" stop-color="#f9da2e"/><stop offset="1" stop-color="#f6e52b"/></linearGradient>
<linearGradient id="g105" gradientUnits="userSpaceOnUse" x1="483.2" y1="60.6" x2="476.5" y2="42.4"><stop offset="0" stop-color="#f6e42b"/><stop offset="0.33" stop-color="#f4e92a"/><stop offset="0.67" stop-color="#f3eb2a"/><stop offset="1" stop-color="#f3ec2a"/></linearGradient>
<linearGradient id="g106" gradientUnits="userSpaceOnUse" x1="521" y1="82.3" x2="500.7" y2="33.2"><stop offset="0" stop-color="#f6e42b"/><stop offset="0.33" stop-color="#f4e92a"/><stop offset="0.67" stop-color="#f3eb2a"/><stop offset="1" stop-color="#f3ec2a"/></linearGradient>
<linearGradient id="g107" gradientUnits="userSpaceOnUse" x1="553.6" y1="126.6" x2="529.7" y2="75.5"><stop offset="0" stop-color="#fcbb38"/><stop offset="0.33" stop-color="#fcca33"/><stop offset="0.67" stop-color="#f9da2e"/><stop offset="1" stop-color="#f6e52b"/></linearGradient>
<linearGradient id="g108" gradientUnits="userSpaceOnUse" x1="587.5" y1="170.6" x2="557.6" y2="117.8"><stop offset="0" stop-color="#bfc445"/><stop offset="0.33" stop-color="#dbc03e"/><stop offset="0.67" stop-color="#f0bb3a"/><stop offset="1" stop-color="#fcc037"/></linearGradient>
<linearGradient id="g109" gradientUnits="userSpaceOnUse" x1="626" y1="211.9" x2="581.5" y2="161.5"><stop offset="0" stop-color="#5ac275"/><stop offset="0.33" stop-color="#84c65c"/><stop offset="0.67" stop-color="#aec64a"/><stop offset="1" stop-color="#cfc240"/></linearGradient>
<linearGradient id="g110" gradientUnits="userSpaceOnUse" x1="643.2" y1="218" x2="627.3" y2="228.2"><stop offset="0" stop-color="#1ab4d6"/><stop offset="0.25" stop-color="#2ab9ad"/><stop offset="0.5" stop-color="#40be8b"/><stop offset="0.75" stop-color="#5fc372"/><stop offset="1" stop-color="#84c65c"/></linearGradient>
<linearGradient id="g111" gradientUnits="userSpaceOnUse" x1="333.2" y1="163.7" x2="335.9" y2="131.2"><stop offset="0" stop-color="#5ac275"/><stop offset="0.33" stop-color="#84c65c"/><stop offset="0.67" stop-color="#aec64a"/><stop offset="1" stop-color="#cfc240"/></linearGradient>
<linearGradient id="g112" gradientUnits="userSpaceOnUse" x1="366.4" y1="153.2" x2="364.7" y2="117.3"><stop offset="0" stop-color="#84c65c"/><stop offset="0.33" stop-color="#b1c649"/><stop offset="0.67" stop-color="#d5c13f"/><stop offset="1" stop-color="#efbb3a"/></linearGradient>
<linearGradient id="g113" gradientUnits="userSpaceOnUse" x1="398.7" y1="127.7" x2="394.3" y2="97.3"><stop offset="0" stop-color="#cfc240"/><stop offset="0.33" stop-color="#eabd3b"/><stop offset="0.67" stop-color="#fcbc38"/><stop offset="1" stop-color="#fcce32"/></linearGradient>
<linearGradient id="g114" gradientUnits="userSpaceOnUse" x1="430.2" y1="98.1" x2="424.6" y2="74.3"><stop offset="0" stop-color="#fcc037"/><stop offset="0.33" stop-color="#fbd031"/><stop offset="0.67" stop-color="#f8df2d"/><stop offset="1" stop-color="#f4e82a"/></linearGradient>
<linearGradient id="g115" gradientUnits="userSpaceOnUse" x1="461.2" y1="67.1" x2="455.5" y2="49.9"><stop offset="0" stop-color="#f6e52b"/><stop offset="0.33" stop-color="#f4e92a"/><stop offset="0.67" stop-color="#f3eb2a"/><stop offset="1" stop-color="#f3ec2a"/></linearGradient>
<linearGradient id="g116" gradientUnits="userSpaceOnUse" x1="501" y1="89.5" x2="478.6" y2="41.6"><stop offset="0" stop-color="#f6e52b"/><stop offset="0.33" stop-color="#f4e92a"/><stop offset="0.67" stop-color="#f3eb2a"/><stop offset="1" stop-color="#f3ec2a"/></linearGradient>
<linearGradient id="g117" gradientUnits="userSpaceOnUse" x1="539.6" y1="129.9" x2="502.4" y2="79.6"><stop offset="0" stop-color="#fcc037"/><stop offset="0.33" stop-color="#fbd031"/><stop offset="0.67" stop-color="#f8df2d"/><stop offset="1" stop-color="#f4e82a"/></linearGradient>
<linearGradient id="g118" gradientUnits="userSpaceOnUse" x1="582.3" y1="157.1" x2="522.7" y2="127.3"><stop offset="0" stop-color="#cfc240"/><stop offset="0.33" stop-color="#eabd3b"/><stop offset="0.67" stop-color="#fcbc38"/><stop offset="1" stop-color="#fcce32"/></linearGradient>
<linearGradient id="g119" gradientUnits="userSpaceOnUse" x1="589.9" y1="170.5" x2="574.5" y2="180.3"><stop offset="0" stop-color="#84c65c"/><stop offset="0.33" stop-color="#b1c649"/><stop offset="0.67" stop-color="#d5c13f"/><stop offset="1" stop-color="#efbb3a"/></linearGradient>
<linearGradient id="g120" gradientUnits="userSpaceOnUse" x1="608.5" y1="211.9" x2="616.5" y2="189.9"><stop offset="0" stop-color="#5ac275"/><stop offset="0.33" stop-color="#84c65c"/><stop offset="0.67" stop-color="#aec64a"/><stop offset="1" stop-color="#cfc240"/></linearGradient>
<linearGradient id="g121" gradientUnits="userSpaceOnUse" x1="311" y1="133.9" x2="314.8" y2="104.9"><stop offset="0" stop-color="#bfc445"/><stop offset="0.33" stop-color="#dbc03e"/><stop offset="0.67" stop-color="#f0bb3a"/><stop offset="1" stop-color="#fcc037"/></linearGradient>
<linearGradient id="g122" gradientUnits="userSpaceOnUse" x1="343.2" y1="131.4" x2="344.4" y2="98.8"><stop offset="0" stop-color="#cfc240"/><stop offset="0.33" stop-color="#eabd3b"/><stop offset="0.67" stop-color="#fcbc38"/><stop offset="1" stop-color="#fcce32"/></linearGradient>
<linearGradient id="g123" gradientUnits="userSpaceOnUse" x1="375.5" y1="116.6" x2="374.1" y2="87.5"><stop offset="0" stop-color="#efbb3a"/><stop offset="0.33" stop-color="#fcc037"/><stop offset="0.67" stop-color="#fbd131"/><stop offset="1" stop-color="#f7e12c"/></linearGradient>
<linearGradient id="g124" gradientUnits="userSpaceOnUse" x1="407.3" y1="95.1" x2="404.2" y2="73.1"><stop offset="0" stop-color="#fcce32"/><stop offset="0.33" stop-color="#f8dc2d"/><stop offset="0.67" stop-color="#f5e62b"/><stop offset="1" stop-color="#f4ea2a"/></linearGradient>
<linearGradient id="g125" gradientUnits="userSpaceOnUse" x1="438.5" y1="70.1" x2="434.9" y2="57.3"><stop offset="0" stop-color="#f4e82a"/><stop offset="0.5" stop-color="#f4ea2a"/><stop offset="1" stop-color="#f3ec2a"/></linearGradient>
<linearGradient id="g126" gradientUnits="userSpaceOnUse" x1="481.3" y1="93.6" x2="456.6" y2="49.7"><stop offset="0" stop-color="#f4e82a"/><stop offset="0.5" stop-color="#f4ea2a"/><stop offset="1" stop-color="#f3ec2a"/></linearGradient>
<linearGradient id="g127" gradientUnits="userSpaceOnUse" x1="529" y1="116.5" x2="473" y2="88.1"><stop offset="0" stop-color="#fcce32"/><stop offset="0.33" stop-color="#f8dc2d"/><stop offset="0.67" stop-color="#f5e62b"/><stop offset="1" stop-color="#f4ea2a"/></linearGradient>
<linearGradient id="g128" gradientUnits="userSpaceOnUse" x1="539" y1="124.3" x2="520.7" y2="136.1"><stop offset="0" stop-color="#efbb3a"/><stop offset="0.33" stop-color="#fcc037"/><stop offset="0.67" stop-color="#fbd131"/><stop offset="1" stop-color="#f7e12c"/></linearGradient>
<linearGradient id="g129" gradientUnits="userSpaceOnUse" x1="556.4" y1="162.8" x2="563.3" y2="149.6"><stop offset="0" stop-color="#cfc240"/><stop offset="0.33" stop-color="#eabd3b"/><stop offset="0.67" stop-color="#fcbc38"/><stop offset="1" stop-color="#fcce32"/></linearGradient>
<linearGradient id="g130" gradientUnits="userSpaceOnUse" x1="587.6" y1="185.2" x2="594.2" y2="160.7"><stop offset="0" stop-color="#bfc445"/><stop offset="0.33" stop-color="#dbc03e"/><stop offset="0.67" stop-color="#f0bb3a"/><stop offset="1" stop-color="#fcc037"/></linearGradient>
<linearGradient id="g131" gradientUnits="userSpaceOnUse" x1="289.1" y1="104" x2="293.4" y2="77.3"><stop offset="0" stop-color="#fcbb38"/><stop offset="0.33" stop-color="#fcca33"/><stop offset="0.67" stop-color="#f9da2e"/><stop offset="1" stop-color="#f6e52b"/></linearGradient>
<linearGradient id="g132" gradientUnits="userSpaceOnUse" x1="320.7" y1="105.3" x2="323.5" y2="77.4"><stop offset="0" stop-color="#fcc037"/><stop offset="0.33" stop-color="#fbd031"/><stop offset="0.67" stop-color="#f8df2d"/><stop offset="1" stop-color="#f4e82a"/></linearGradient>
<linearGradient id="g133" gradientUnits="userSpaceOnUse" x1="352.5" y1="98.8" x2="353.5" y2="74.7"><stop offset="0" stop-color="#fcce32"/><stop offset="0.33" stop-color="#f8dc2d"/><stop offset="0.67" stop-color="#f5e62b"/><stop offset="1" stop-color="#f4ea2a"/></linearGradient>
<linearGradient id="g134" gradientUnits="userSpaceOnUse" x1="384.4" y1="86.6" x2="383.6" y2="70"><stop offset="0" stop-color="#f7e12c"/><stop offset="0.5" stop-color="#f4e92a"/><stop offset="1" stop-color="#f3eb2a"/></linearGradient>
<linearGradient id="g135" gradientUnits="userSpaceOnUse" x1="415.6" y1="70.1" x2="414.4" y2="64.3"><stop offset="0" stop-color="#f4ea2a"/><stop offset="0.5" stop-color="#f3eb2a"/><stop offset="1" stop-color="#f3ec2a"/></linearGradient>
<linearGradient id="g136" gradientUnits="userSpaceOnUse" x1="465.4" y1="95.4" x2="433.4" y2="58.1"><stop offset="0" stop-color="#f4ea2a"/><stop offset="0.5" stop-color="#f3eb2a"/><stop offset="1" stop-color="#f3ec2a"/></linearGradient>
<linearGradient id="g137" gradientUnits="userSpaceOnUse" x1="490.3" y1="86.1" x2="466.4" y2="101.5"><stop offset="0" stop-color="#f7e12c"/><stop offset="0.5" stop-color="#f4e92a"/><stop offset="1" stop-color="#f3eb2a"/></linearGradient>
<linearGradient id="g138" gradientUnits="userSpaceOnUse" x1="505.6" y1="119" x2="509.1" y2="112.3"><stop offset="0" stop-color="#fcce32"/><stop offset="0.33" stop-color="#f8dc2d"/><stop offset="0.67" stop-color="#f5e62b"/><stop offset="1" stop-color="#f4ea2a"/></linearGradient>
<linearGradient id="g139" gradientUnits="userSpaceOnUse" x1="535" y1="142.8" x2="541.4" y2="122.8"><stop offset="0" stop-color="#fcc037"/><stop offset="0.33" stop-color="#fbd031"/><stop offset="0.67" stop-color="#f8df2d"/><stop offset="1" stop-color="#f4e82a"/></linearGradient>
<linearGradient id="g140" gradientUnits="userSpaceOnUse" x1="566.4" y1="156.5" x2="572.1" y2="131.9"><stop offset="0" stop-color="#fcbb38"/><stop offset="0.33" stop-color="#fcca33"/><stop offset="0.67" stop-color="#f9da2e"/><stop offset="1" stop-color="#f6e52b"/></linearGradient>
<linearGradient id="g141" gradientUnits="userSpaceOnUse" x1="267.3" y1="74.1" x2="271.8" y2="49.2"><stop offset="0" stop-color="#f6e42b"/><stop offset="0.33" stop-color="#f4e92a"/><stop offset="0.67" stop-color="#f3eb2a"/><stop offset="1" stop-color="#f3ec2a"/></linearGradient>
<linearGradient id="g142" gradientUnits="userSpaceOnUse" x1="298.5" y1="77.8" x2="302.2" y2="54.8"><stop offset="0" stop-color="#f6e52b"/><stop offset="0.33" stop-color="#f4e92a"/><stop offset="0.67" stop-color="#f3eb2a"/><stop offset="1" stop-color="#f3ec2a"/></linearGradient>
<linearGradient id="g143" gradientUnits="userSpaceOnUse" x1="330.1" y1="77.8" x2="332.4" y2="60.3"><stop offset="0" stop-color="#f4e82a"/><stop offset="0.5" stop-color="#f4ea2a"/><stop offset="1" stop-color="#f3ec2a"/></linearGradient>
<linearGradient id="g144" gradientUnits="userSpaceOnUse" x1="361.8" y1="74.4" x2="362.6" y2="65.7"><stop offset="0" stop-color="#f4ea2a"/><stop offset="0.5" stop-color="#f3eb2a"/><stop offset="1" stop-color="#f3ec2a"/></linearGradient>
<linearGradient id="g145" gradientUnits="userSpaceOnUse" x1="393.1" y1="67" x2="393.2" y2="70.1"><stop offset="0" stop-color="#f3eb2a"/><stop offset="1" stop-color="#f3ec2a"/></linearGradient>
<linearGradient id="g146" gradientUnits="userSpaceOnUse" x1="448.6" y1="59.6" x2="415.8" y2="80.6"><stop offset="0" stop-color="#f3eb2a"/><stop offset="1" stop-color="#f3ec2a"/></linearGradient>
<linearGradient id="g147" gradientUnits="userSpaceOnUse" x1="454.7" y1="87.5" x2="455.1" y2="86.5"><stop offset="0" stop-color="#f4ea2a"/><stop offset="0.5" stop-color="#f3eb2a"/><stop offset="1" stop-color="#f3ec2a"/></linearGradient>
<linearGradient id="g148" gradientUnits="userSpaceOnUse" x1="483.8" y1="105.3" x2="487.4" y2="91.8"><stop offset="0" stop-color="#f4e82a"/><stop offset="0.5" stop-color="#f4ea2a"/><stop offset="1" stop-color="#f3ec2a"/></linearGradient>
<linearGradient id="g149" gradientUnits="userSpaceOnUse" x1="514.2" y1="118.3" x2="519" y2="97.4"><stop offset="0" stop-color="#f6e52b"/><stop offset="0.33" stop-color="#f4e92a"/><stop offset="0.67" stop-color="#f3eb2a"/><stop offset="1" stop-color="#f3ec2a"/></linearGradient>
<linearGradient id="g150" gradientUnits="userSpaceOnUse" x1="545.1" y1="127.3" x2="550" y2="103.1"><stop offset="0" stop-color="#f6e42b"/><stop offset="0.33" stop-color="#f4e92a"/><stop offset="0.67" stop-color="#f3eb2a"/><stop offset="1" stop-color="#f3ec2a"/></linearGradient>
<linearGradient id="g151" gradientUnits="userSpaceOnUse" x1="242.9" y1="95.1" x2="252.9" y2="45.6"><stop offset="0" stop-color="#f6e42b"/><stop offset="0.33" stop-color="#f4e92a"/><stop offset="0.67" stop-color="#f3eb2a"/><stop offset="1" stop-color="#f3ec2a"/></linearGradient>
<linearGradient id="g152" gradientUnits="userSpaceOnUse" x1="273" y1="99.8" x2="284" y2="51.5"><stop offset="0" stop-color="#f6e52b"/><stop offset="0.33" stop-color="#f4e92a"/><stop offset="0.67" stop-color="#f3eb2a"/><stop offset="1" stop-color="#f3ec2a"/></linearGradient>
<linearGradient id="g153" gradientUnits="userSpaceOnUse" x1="303.1" y1="101.3" x2="314.9" y2="57.2"><stop offset="0" stop-color="#f4e82a"/><stop offset="0.5" stop-color="#f4ea2a"/><stop offset="1" stop-color="#f3ec2a"/></linearGradient>
<linearGradient id="g154" gradientUnits="userSpaceOnUse" x1="332.2" y1="101.2" x2="345.9" y2="62.7"><stop offset="0" stop-color="#f4ea2a"/><stop offset="0.5" stop-color="#f3eb2a"/><stop offset="1" stop-color="#f3ec2a"/></linearGradient>
<linearGradient id="g155" gradientUnits="userSpaceOnUse" x1="339.1" y1="98.6" x2="382.5" y2="70.8"><stop offset="0" stop-color="#f3eb2a"/><stop offset="1" stop-color="#f3ec2a"/></linearGradient>
<linearGradient id="g156" gradientUnits="userSpaceOnUse" x1="403.4" y1="103.5" x2="402.1" y2="77.1"><stop offset="0" stop-color="#f3eb2a"/><stop offset="1" stop-color="#f3ec2a"/></linearGradient>
<linearGradient id="g157" gradientUnits="userSpaceOnUse" x1="431.4" y1="117.2" x2="434.5" y2="81.7"><stop offset="0" stop-color="#f4ea2a"/><stop offset="0.5" stop-color="#f3eb2a"/><stop offset="1" stop-color="#f3ec2a"/></linearGradient>
<linearGradient id="g158" gradientUnits="userSpaceOnUse" x1="460.9" y1="130.5" x2="466.7" y2="87.3"><stop offset="0" stop-color="#f4e82a"/><stop offset="0.5" stop-color="#f4ea2a"/><stop offset="1" stop-color="#f3ec2a"/></linearGradient>
<linearGradient id="g159" gradientUnits="userSpaceOnUse" x1="491" y1="141.3" x2="498.7" y2="93.3"><stop offset="0" stop-color="#f6e52b"/><stop offset="0.33" stop-color="#f4e92a"/><stop offset="0.67" stop-color="#f3eb2a"/><stop offset="1" stop-color="#f3ec2a"/></linearGradient>
<linearGradient id="g160" gradientUnits="userSpaceOnUse" x1="521.4" y1="148.6" x2="530.4" y2="99.2"><stop offset="0" stop-color="#f6e42b"/><stop offset="0.33" stop-color="#f4e92a"/><stop offset="0.67" stop-color="#f3eb2a"/><stop offset="1" stop-color="#f3ec2a"/></linearGradient>
<linearGradient id="g161" gradientUnits="userSpaceOnUse" x1="220.3" y1="142.2" x2="232.2" y2="90.2"><stop offset="0" stop-color="#fcbb38"/><stop offset="0.33" stop-color="#fcca33"/><stop offset="0.67" stop-color="#f9da2e"/><stop offset="1" stop-color="#f6e52b"/></linearGradient>
<linearGradient id="g162" gradientUnits="userSpaceOnUse" x1="247.7" y1="145.2" x2="265.7" y2="89.9"><stop offset="0" stop-color="#fcc037"/><stop offset="0.33" stop-color="#fbd031"/><stop offset="0.67" stop-color="#f8df2d"/><stop offset="1" stop-color="#f4e82a"/></linearGradient>
<linearGradient id="g163" gradientUnits="userSpaceOnUse" x1="272.8" y1="140.3" x2="300.6" y2="86.8"><stop offset="0" stop-color="#fcce32"/><stop offset="0.33" stop-color="#f8dc2d"/><stop offset="0.67" stop-color="#f5e62b"/><stop offset="1" stop-color="#f4ea2a"/></linearGradient>
<linearGradient id="g164" gradientUnits="userSpaceOnUse" x1="288.9" y1="121.8" x2="341.4" y2="88.1"><stop offset="0" stop-color="#f7e12c"/><stop offset="0.5" stop-color="#f4e92a"/><stop offset="1" stop-color="#f3eb2a"/></linearGradient>
<linearGradient id="g165" gradientUnits="userSpaceOnUse" x1="343.8" y1="84.8" x2="353.7" y2="96.4"><stop offset="0" stop-color="#f4ea2a"/><stop offset="0.5" stop-color="#f3eb2a"/><stop offset="1" stop-color="#f3ec2a"/></linearGradient>
<linearGradient id="g166" gradientUnits="userSpaceOnUse" x1="385.6" y1="120.6" x2="377.8" y2="83.6"><stop offset="0" stop-color="#f4ea2a"/><stop offset="0.5" stop-color="#f3eb2a"/><stop offset="1" stop-color="#f3ec2a"/></linearGradient>
<linearGradient id="g167" gradientUnits="userSpaceOnUse" x1="412.9" y1="146.7" x2="410.7" y2="100.6"><stop offset="0" stop-color="#f7e12c"/><stop offset="0.5" stop-color="#f4e92a"/><stop offset="1" stop-color="#f3eb2a"/></linearGradient>
<linearGradient id="g168" gradientUnits="userSpaceOnUse" x1="441.5" y1="169.4" x2="443.5" y2="117.2"><stop offset="0" stop-color="#fcce32"/><stop offset="0.33" stop-color="#f8dc2d"/><stop offset="0.67" stop-color="#f5e62b"/><stop offset="1" stop-color="#f4ea2a"/></linearGradient>
<linearGradient id="g169" gradientUnits="userSpaceOnUse" x1="470.5" y1="186.4" x2="476.1" y2="131.9"><stop offset="0" stop-color="#fcc037"/><stop offset="0.33" stop-color="#fbd031"/><stop offset="0.67" stop-color="#f8df2d"/><stop offset="1" stop-color="#f4e82a"/></linearGradient>
<linearGradient id="g170" gradientUnits="userSpaceOnUse" x1="500.1" y1="195.6" x2="508.5" y2="143.8"><stop offset="0" stop-color="#fcbb38"/><stop offset="0.33" stop-color="#fcca33"/><stop offset="0.67" stop-color="#f9da2e"/><stop offset="1" stop-color="#f6e52b"/></linearGradient>
<linearGradient id="g171" gradientUnits="userSpaceOnUse" x1="197.3" y1="189.4" x2="212" y2="134.2"><stop offset="0" stop-color="#bfc445"/><stop offset="0.33" stop-color="#dbc03e"/><stop offset="0.67" stop-color="#f0bb3a"/><stop offset="1" stop-color="#fcc037"/></linearGradient>
<linearGradient id="g172" gradientUnits="userSpaceOnUse" x1="218.9" y1="188.3" x2="250.4" y2="128.1"><stop offset="0" stop-color="#cfc240"/><stop offset="0.33" stop-color="#eabd3b"/><stop offset="0.67" stop-color="#fcbc38"/><stop offset="1" stop-color="#fcce32"/></linearGradient>
<linearGradient id="g173" gradientUnits="userSpaceOnUse" x1="235" y1="163.5" x2="293.3" y2="126.1"><stop offset="0" stop-color="#efbb3a"/><stop offset="0.33" stop-color="#fcc037"/><stop offset="0.67" stop-color="#fbd131"/><stop offset="1" stop-color="#f7e12c"/></linearGradient>
<linearGradient id="g174" gradientUnits="userSpaceOnUse" x1="283.5" y1="118.4" x2="308.7" y2="131.2"><stop offset="0" stop-color="#fcce32"/><stop offset="0.33" stop-color="#f8dc2d"/><stop offset="0.67" stop-color="#f5e62b"/><stop offset="1" stop-color="#f4ea2a"/></linearGradient>
<linearGradient id="g175" gradientUnits="userSpaceOnUse" x1="329.2" y1="106.9" x2="327.5" y2="103.9"><stop offset="0" stop-color="#f4e82a"/><stop offset="0.5" stop-color="#f4ea2a"/><stop offset="1" stop-color="#f3ec2a"/></linearGradient>
<linearGradient id="g176" gradientUnits="userSpaceOnUse" x1="366.2" y1="136.2" x2="353.7" y2="91.9"><stop offset="0" stop-color="#f4e82a"/><stop offset="0.5" stop-color="#f4ea2a"/><stop offset="1" stop-color="#f3ec2a"/></linearGradient>
<linearGradient id="g177" gradientUnits="userSpaceOnUse" x1="394.2" y1="172.2" x2="386.6" y2="119.4"><stop offset="0" stop-color="#fcce32"/><stop offset="0.33" stop-color="#f8dc2d"/><stop offset="0.67" stop-color="#f5e62b"/><stop offset="1" stop-color="#f4ea2a"/></linearGradient>
<linearGradient id="g178" gradientUnits="userSpaceOnUse" x1="422.4" y1="204.7" x2="419.6" y2="146"><stop offset="0" stop-color="#efbb3a"/><stop offset="0.33" stop-color="#fcc037"/><stop offset="0.67" stop-color="#fbd131"/><stop offset="1" stop-color="#f7e12c"/></linearGradient>
<linearGradient id="g179" gradientUnits="userSpaceOnUse" x1="450.6" y1="230.2" x2="452.9" y2="169.5"><stop offset="0" stop-color="#cfc240"/><stop offset="0.33" stop-color="#eabd3b"/><stop offset="0.67" stop-color="#fcbc38"/><stop offset="1" stop-color="#fcce32"/></linearGradient>
<linearGradient id="g180" gradientUnits="userSpaceOnUse" x1="479" y1="242.8" x2="486.3" y2="188"><stop offset="0" stop-color="#bfc445"/><stop offset="0.33" stop-color="#dbc03e"/><stop offset="0.67" stop-color="#f0bb3a"/><stop offset="1" stop-color="#fcc037"/></linearGradient>
<linearGradient id="g181" gradientUnits="userSpaceOnUse" x1="172" y1="236.8" x2="193.6" y2="177.1"><stop offset="0" stop-color="#5ac275"/><stop offset="0.33" stop-color="#84c65c"/><stop offset="0.67" stop-color="#aec64a"/><stop offset="1" stop-color="#cfc240"/></linearGradient>
<linearGradient id="g182" gradientUnits="userSpaceOnUse" x1="181.1" y1="214.4" x2="242.7" y2="174.9"><stop offset="0" stop-color="#84c65c"/><stop offset="0.33" stop-color="#b1c649"/><stop offset="0.67" stop-color="#d5c13f"/><stop offset="1" stop-color="#efbb3a"/></linearGradient>
<linearGradient id="g183" gradientUnits="userSpaceOnUse" x1="233" y1="165" x2="255.3" y2="176.2"><stop offset="0" stop-color="#cfc240"/><stop offset="0.33" stop-color="#eabd3b"/><stop offset="0.67" stop-color="#fcbc38"/><stop offset="1" stop-color="#fcce32"/></linearGradient>
<linearGradient id="g184" gradientUnits="userSpaceOnUse" x1="277" y1="146.6" x2="274.5" y2="143.2"><stop offset="0" stop-color="#fcc037"/><stop offset="0.33" stop-color="#fbd031"/><stop offset="0.67" stop-color="#f8df2d"/><stop offset="1" stop-color="#f4e82a"/></linearGradient>
<linearGradient id="g185" gradientUnits="userSpaceOnUse" x1="309.6" y1="123.6" x2="304" y2="111.7"><stop offset="0" stop-color="#f6e52b"/><stop offset="0.33" stop-color="#f4e92a"/><stop offset="0.67" stop-color="#f3eb2a"/><stop offset="1" stop-color="#f3ec2a"/></linearGradient>
<linearGradient id="g186" gradientUnits="userSpaceOnUse" x1="346" y1="149.1" x2="330" y2="100.6"><stop offset="0" stop-color="#f6e52b"/><stop offset="0.33" stop-color="#f4e92a"/><stop offset="0.67" stop-color="#f3eb2a"/><stop offset="1" stop-color="#f3ec2a"/></linearGradient>
<linearGradient id="g187" gradientUnits="userSpaceOnUse" x1="375.1" y1="191.8" x2="362.3" y2="136.7"><stop offset="0" stop-color="#fcc037"/><stop offset="0.33" stop-color="#fbd031"/><stop offset="0.67" stop-color="#f8df2d"/><stop offset="1" stop-color="#f4e82a"/></linearGradient>
<linearGradient id="g188" gradientUnits="userSpaceOnUse" x1="403.9" y1="233" x2="395.1" y2="171.8"><stop offset="0" stop-color="#cfc240"/><stop offset="0.33" stop-color="#eabd3b"/><stop offset="0.67" stop-color="#fcbc38"/><stop offset="1" stop-color="#fcce32"/></linearGradient>
<linearGradient id="g189" gradientUnits="userSpaceOnUse" x1="431.8" y1="270" x2="428.7" y2="204.3"><stop offset="0" stop-color="#84c65c"/><stop offset="0.33" stop-color="#b1c649"/><stop offset="0.67" stop-color="#d5c13f"/><stop offset="1" stop-color="#efbb3a"/></linearGradient>
<linearGradient id="g190" gradientUnits="userSpaceOnUse" x1="458.4" y1="290.1" x2="463.5" y2="230.8"><stop offset="0" stop-color="#5ac275"/><stop offset="0.33" stop-color="#84c65c"/><stop offset="0.67" stop-color="#aec64a"/><stop offset="1" stop-color="#cfc240"/></linearGradient>
<linearGradient id="g191" gradientUnits="userSpaceOnUse" x1="124.8" y1="269.9" x2="189.6" y2="228.3"><stop offset="0" stop-color="#1ab4d6"/><stop offset="0.25" stop-color="#2ab9ad"/><stop offset="0.5" stop-color="#40be8b"/><stop offset="0.75" stop-color="#5fc372"/><stop offset="1" stop-color="#84c65c"/></linearGradient>
<linearGradient id="g192" gradientUnits="userSpaceOnUse" x1="193" y1="221.6" x2="191.6" y2="220.1"><stop offset="0" stop-color="#5ac275"/><stop offset="0.33" stop-color="#84c65c"/><stop offset="0.67" stop-color="#aec64a"/><stop offset="1" stop-color="#cfc240"/></linearGradient>
<linearGradient id="g193" gradientUnits="userSpaceOnUse" x1="226.5" y1="196.5" x2="219.8" y2="184.6"><stop offset="0" stop-color="#bfc445"/><stop offset="0.33" stop-color="#dbc03e"/><stop offset="0.67" stop-color="#f0bb3a"/><stop offset="1" stop-color="#fcc037"/></linearGradient>
<linearGradient id="g194" gradientUnits="userSpaceOnUse" x1="257.6" y1="166.8" x2="250.5" y2="151.7"><stop offset="0" stop-color="#fcbb38"/><stop offset="0.33" stop-color="#fcca33"/><stop offset="0.67" stop-color="#f9da2e"/><stop offset="1" stop-color="#f6e52b"/></linearGradient>
<linearGradient id="g195" gradientUnits="userSpaceOnUse" x1="288.4" y1="136" x2="281.6" y2="119.5"><stop offset="0" stop-color="#f6e42b"/><stop offset="0.33" stop-color="#f4e92a"/><stop offset="0.67" stop-color="#f3eb2a"/><stop offset="1" stop-color="#f3ec2a"/></linearGradient>
<linearGradient id="g196" gradientUnits="userSpaceOnUse" x1="325.1" y1="158.6" x2="306.8" y2="109.3"><stop offset="0" stop-color="#f6e42b"/><stop offset="0.33" stop-color="#f4e92a"/><stop offset="0.67" stop-color="#f3eb2a"/><stop offset="1" stop-color="#f3ec2a"/></linearGradient>
<linearGradient id="g197" gradientUnits="userSpaceOnUse" x1="355.4" y1="203.3" x2="338.2" y2="151.3"><stop offset="0" stop-color="#fcbb38"/><stop offset="0.33" stop-color="#fcca33"/><stop offset="0.67" stop-color="#f9da2e"/><stop offset="1" stop-color="#f6e52b"/></linearGradient>
<linearGradient id="g198" gradientUnits="userSpaceOnUse" x1="385.4" y1="248" x2="369.9" y2="192.8"><stop offset="0" stop-color="#bfc445"/><stop offset="0.33" stop-color="#dbc03e"/><stop offset="0.67" stop-color="#f0bb3a"/><stop offset="1" stop-color="#fcc037"/></linearGradient>
<linearGradient id="g199" gradientUnits="userSpaceOnUse" x1="414.8" y1="292.9" x2="402.4" y2="233.1"><stop offset="0" stop-color="#5ac275"/><stop offset="0.33" stop-color="#84c65c"/><stop offset="0.67" stop-color="#aec64a"/><stop offset="1" stop-color="#cfc240"/></linearGradient>
<linearGradient id="g200" gradientUnits="userSpaceOnUse" x1="441.3" y1="339.1" x2="437.9" y2="269.8"><stop offset="0" stop-color="#1ab4d6"/><stop offset="0.25" stop-color="#2ab9ad"/><stop offset="0.5" stop-color="#40be8b"/><stop offset="0.75" stop-color="#5fc372"/><stop offset="1" stop-color="#84c65c"/></linearGradient>
<linearGradient id="g201" gradientUnits="userSpaceOnUse" x1="1132.7" y1="284.6" x2="1131.4" y2="258.6"><stop offset="0" stop-color="#427bc5"/><stop offset="1" stop-color="#3e82c9"/></linearGradient>
<linearGradient id="g202" gradientUnits="userSpaceOnUse" x1="1166.7" y1="301.9" x2="1158.9" y2="269.8"><stop offset="0" stop-color="#4774c1"/><stop offset="0.5" stop-color="#4479c4"/><stop offset="1" stop-color="#407ec7"/></linearGradient>
<linearGradient id="g203" gradientUnits="userSpaceOnUse" x1="1200.2" y1="325" x2="1187.2" y2="291.8"><stop offset="0" stop-color="#4a6bba"/><stop offset="0.5" stop-color="#4870be"/><stop offset="1" stop-color="#4675c2"/></linearGradient>
<linearGradient id="g204" gradientUnits="userSpaceOnUse" x1="1236.5" y1="348.1" x2="1212.8" y2="313.8"><stop offset="0" stop-color="#4a62b5"/><stop offset="0.5" stop-color="#4a67b8"/><stop offset="1" stop-color="#496cbb"/></linearGradient>
<linearGradient id="g205" gradientUnits="userSpaceOnUse" x1="1268.6" y1="339.1" x2="1236.7" y2="359.5"><stop offset="0" stop-color="#4a5fb3"/><stop offset="1" stop-color="#4a65b7"/></linearGradient>
<linearGradient id="g206" gradientUnits="userSpaceOnUse" x1="1286.3" y1="352.3" x2="1286.4" y2="355.1"><stop offset="0" stop-color="#4a5fb3"/><stop offset="1" stop-color="#4a65b7"/></linearGradient>
<linearGradient id="g207" gradientUnits="userSpaceOnUse" x1="1317.4" y1="349.4" x2="1317.1" y2="348"><stop offset="0" stop-color="#4a62b5"/><stop offset="0.5" stop-color="#4a67b8"/><stop offset="1" stop-color="#496cbb"/></linearGradient>
<linearGradient id="g208" gradientUnits="userSpaceOnUse" x1="1375.5" y1="322.5" x2="1382.6" y2="332.7"><stop offset="0" stop-color="#4774c1"/><stop offset="0.5" stop-color="#4479c4"/><stop offset="1" stop-color="#407ec7"/></linearGradient>
<linearGradient id="g209" gradientUnits="userSpaceOnUse" x1="1384.9" y1="338.9" x2="1427.3" y2="311.7"><stop offset="0" stop-color="#427bc5"/><stop offset="1" stop-color="#3e82c9"/></linearGradient>
<linearGradient id="g210" gradientUnits="userSpaceOnUse" x1="1108.6" y1="303.6" x2="1111.9" y2="273.2"><stop offset="0" stop-color="#4774c1"/><stop offset="0.5" stop-color="#4479c4"/><stop offset="1" stop-color="#407ec7"/></linearGradient>
<linearGradient id="g211" gradientUnits="userSpaceOnUse" x1="1141.8" y1="313.9" x2="1140.3" y2="282.1"><stop offset="0" stop-color="#4772bf"/><stop offset="0.5" stop-color="#4677c2"/><stop offset="1" stop-color="#427bc5"/></linearGradient>
<linearGradient id="g212" gradientUnits="userSpaceOnUse" x1="1179" y1="334.5" x2="1165.1" y2="299.2"><stop offset="0" stop-color="#496cbb"/><stop offset="1" stop-color="#4774c1"/></linearGradient>
<linearGradient id="g213" gradientUnits="userSpaceOnUse" x1="1220.3" y1="321.8" x2="1190.7" y2="340.7"><stop offset="0" stop-color="#4a65b7"/><stop offset="0.5" stop-color="#4a69ba"/><stop offset="1" stop-color="#496ebd"/></linearGradient>
<linearGradient id="g214" gradientUnits="userSpaceOnUse" x1="1264.5" y1="353.6" x2="1265" y2="348.9"><stop offset="0" stop-color="#4a62b5"/><stop offset="0.5" stop-color="#4a67b8"/><stop offset="1" stop-color="#496cbb"/></linearGradient>
<linearGradient id="g215" gradientUnits="userSpaceOnUse" x1="1295.7" y1="352.5" x2="1295.6" y2="349.6"><stop offset="0" stop-color="#4a65b7"/><stop offset="0.5" stop-color="#4a69ba"/><stop offset="1" stop-color="#496ebd"/></linearGradient>
<linearGradient id="g216" gradientUnits="userSpaceOnUse" x1="1324.8" y1="342.2" x2="1328.2" y2="351"><stop offset="0" stop-color="#496cbb"/><stop offset="1" stop-color="#4774c1"/></linearGradient>
<linearGradient id="g217" gradientUnits="userSpaceOnUse" x1="1338.7" y1="354.4" x2="1384" y2="325.4"><stop offset="0" stop-color="#4772bf"/><stop offset="0.5" stop-color="#4677c2"/><stop offset="1" stop-color="#427bc5"/></linearGradient>
<linearGradient id="g218" gradientUnits="userSpaceOnUse" x1="1383.2" y1="358.4" x2="1393.4" y2="325.5"><stop offset="0" stop-color="#4774c1"/><stop offset="0.5" stop-color="#4479c4"/><stop offset="1" stop-color="#407ec7"/></linearGradient>
<linearGradient id="g219" gradientUnits="userSpaceOnUse" x1="1085.6" y1="329.1" x2="1091.6" y2="297.7"><stop offset="0" stop-color="#4a6bba"/><stop offset="0.5" stop-color="#4870be"/><stop offset="1" stop-color="#4675c2"/></linearGradient>
<linearGradient id="g220" gradientUnits="userSpaceOnUse" x1="1116.4" y1="335.3" x2="1122.6" y2="303.4"><stop offset="0" stop-color="#496cbb"/><stop offset="1" stop-color="#4774c1"/></linearGradient>
<linearGradient id="g221" gradientUnits="userSpaceOnUse" x1="1181.5" y1="330.1" x2="1181.1" y2="332.5"><stop offset="0" stop-color="#496cbb"/><stop offset="1" stop-color="#4774c1"/></linearGradient>
<linearGradient id="g222" gradientUnits="userSpaceOnUse" x1="1211.7" y1="339.8" x2="1212.7" y2="334.6"><stop offset="0" stop-color="#4a6bba"/><stop offset="0.5" stop-color="#4870be"/><stop offset="1" stop-color="#4675c2"/></linearGradient>
<linearGradient id="g223" gradientUnits="userSpaceOnUse" x1="1242.6" y1="345.8" x2="1243.6" y2="340.6"><stop offset="0" stop-color="#4a6bba"/><stop offset="0.5" stop-color="#4870be"/><stop offset="1" stop-color="#4675c2"/></linearGradient>
<linearGradient id="g224" gradientUnits="userSpaceOnUse" x1="1274.2" y1="347.9" x2="1273.7" y2="350.3"><stop offset="0" stop-color="#496cbb"/><stop offset="1" stop-color="#4774c1"/></linearGradient>
<linearGradient id="g225" gradientUnits="userSpaceOnUse" x1="1332.7" y1="377" x2="1338.8" y2="345.1"><stop offset="0" stop-color="#496cbb"/><stop offset="1" stop-color="#4774c1"/></linearGradient>
<linearGradient id="g226" gradientUnits="userSpaceOnUse" x1="1363.6" y1="382.7" x2="1369.7" y2="351.3"><stop offset="0" stop-color="#4a6bba"/><stop offset="0.5" stop-color="#4870be"/><stop offset="1" stop-color="#4675c2"/></linearGradient>
<linearGradient id="g227" gradientUnits="userSpaceOnUse" x1="1061.9" y1="354.9" x2="1072" y2="322"><stop offset="0" stop-color="#4a62b5"/><stop offset="0.5" stop-color="#4a67b8"/><stop offset="1" stop-color="#496cbb"/></linearGradient>
<linearGradient id="g228" gradientUnits="userSpaceOnUse" x1="1071.2" y1="355" x2="1116.6" y2="326"><stop offset="0" stop-color="#4a65b7"/><stop offset="0.5" stop-color="#4a69ba"/><stop offset="1" stop-color="#496ebd"/></linearGradient>
<linearGradient id="g229" gradientUnits="userSpaceOnUse" x1="1127" y1="329.4" x2="1130.5" y2="338.2"><stop offset="0" stop-color="#496cbb"/><stop offset="1" stop-color="#4774c1"/></linearGradient>
<linearGradient id="g230" gradientUnits="userSpaceOnUse" x1="1159.7" y1="330.8" x2="1159.6" y2="327.9"><stop offset="0" stop-color="#4772bf"/><stop offset="0.5" stop-color="#4677c2"/><stop offset="1" stop-color="#427bc5"/></linearGradient>
<linearGradient id="g231" gradientUnits="userSpaceOnUse" x1="1190.3" y1="331.5" x2="1190.8" y2="326.8"><stop offset="0" stop-color="#4774c1"/><stop offset="0.5" stop-color="#4479c4"/><stop offset="1" stop-color="#407ec7"/></linearGradient>
<linearGradient id="g232" gradientUnits="userSpaceOnUse" x1="1264.5" y1="339.7" x2="1235" y2="358.6"><stop offset="0" stop-color="#4772bf"/><stop offset="0.5" stop-color="#4677c2"/><stop offset="1" stop-color="#427bc5"/></linearGradient>
<linearGradient id="g233" gradientUnits="userSpaceOnUse" x1="1290.1" y1="381.2" x2="1276.3" y2="345.9"><stop offset="0" stop-color="#496cbb"/><stop offset="1" stop-color="#4774c1"/></linearGradient>
<linearGradient id="g234" gradientUnits="userSpaceOnUse" x1="1315" y1="398.3" x2="1313.5" y2="366.5"><stop offset="0" stop-color="#4a65b7"/><stop offset="0.5" stop-color="#4a69ba"/><stop offset="1" stop-color="#496ebd"/></linearGradient>
<linearGradient id="g235" gradientUnits="userSpaceOnUse" x1="1343.3" y1="407.2" x2="1346.6" y2="376.8"><stop offset="0" stop-color="#4a62b5"/><stop offset="0.5" stop-color="#4a67b8"/><stop offset="1" stop-color="#496cbb"/></linearGradient>
<linearGradient id="g236" gradientUnits="userSpaceOnUse" x1="1027.9" y1="368.7" x2="1070.3" y2="341.5"><stop offset="0" stop-color="#4a5fb3"/><stop offset="1" stop-color="#4a65b7"/></linearGradient>
<linearGradient id="g237" gradientUnits="userSpaceOnUse" x1="1072.7" y1="347.7" x2="1079.7" y2="357.9"><stop offset="0" stop-color="#4a62b5"/><stop offset="0.5" stop-color="#4a67b8"/><stop offset="1" stop-color="#496cbb"/></linearGradient>
<linearGradient id="g238" gradientUnits="userSpaceOnUse" x1="1138.2" y1="332.4" x2="1137.8" y2="331"><stop offset="0" stop-color="#4774c1"/><stop offset="0.5" stop-color="#4479c4"/><stop offset="1" stop-color="#407ec7"/></linearGradient>
<linearGradient id="g239" gradientUnits="userSpaceOnUse" x1="1168.8" y1="325.3" x2="1168.9" y2="328.1"><stop offset="0" stop-color="#427bc5"/><stop offset="1" stop-color="#3e82c9"/></linearGradient>
<linearGradient id="g240" gradientUnits="userSpaceOnUse" x1="1218.6" y1="320.9" x2="1186.7" y2="341.3"><stop offset="0" stop-color="#427bc5"/><stop offset="1" stop-color="#3e82c9"/></linearGradient>
<linearGradient id="g241" gradientUnits="userSpaceOnUse" x1="1242.5" y1="366.6" x2="1218.8" y2="332.3"><stop offset="0" stop-color="#4774c1"/><stop offset="0.5" stop-color="#4479c4"/><stop offset="1" stop-color="#407ec7"/></linearGradient>
<linearGradient id="g242" gradientUnits="userSpaceOnUse" x1="1268.1" y1="388.6" x2="1255" y2="355.4"><stop offset="0" stop-color="#4a6bba"/><stop offset="0.5" stop-color="#4870be"/><stop offset="1" stop-color="#4675c2"/></linearGradient>
<linearGradient id="g243" gradientUnits="userSpaceOnUse" x1="1296.4" y1="410.6" x2="1288.6" y2="378.5"><stop offset="0" stop-color="#4a62b5"/><stop offset="0.5" stop-color="#4a67b8"/><stop offset="1" stop-color="#496cbb"/></linearGradient>
<linearGradient id="g244" gradientUnits="userSpaceOnUse" x1="1323.8" y1="421.8" x2="1322.6" y2="395.8"><stop offset="0" stop-color="#4a5fb3"/><stop offset="1" stop-color="#4a65b7"/></linearGradient>
<linearGradient id="g245" gradientUnits="userSpaceOnUse" x1="1023.6" y1="364.9" x2="1023.7" y2="367.7"><stop offset="0" stop-color="#4a5fb3"/><stop offset="1" stop-color="#4a65b7"/></linearGradient>
<linearGradient id="g246" gradientUnits="userSpaceOnUse" x1="1054.7" y1="362" x2="1054.4" y2="360.6"><stop offset="0" stop-color="#4a62b5"/><stop offset="0.5" stop-color="#4a67b8"/><stop offset="1" stop-color="#496cbb"/></linearGradient>
<linearGradient id="g247" gradientUnits="userSpaceOnUse" x1="1112.8" y1="335.1" x2="1119.9" y2="345.3"><stop offset="0" stop-color="#4774c1"/><stop offset="0.5" stop-color="#4479c4"/><stop offset="1" stop-color="#407ec7"/></linearGradient>
<linearGradient id="g248" gradientUnits="userSpaceOnUse" x1="1122.2" y1="351.5" x2="1164.6" y2="324.3"><stop offset="0" stop-color="#427bc5"/><stop offset="1" stop-color="#3e82c9"/></linearGradient>
<linearGradient id="g249" gradientUnits="userSpaceOnUse" x1="1178.9" y1="356.7" x2="1177.6" y2="330.7"><stop offset="0" stop-color="#427bc5"/><stop offset="1" stop-color="#3e82c9"/></linearGradient>
<linearGradient id="g250" gradientUnits="userSpaceOnUse" x1="1212.9" y1="374" x2="1205.1" y2="341.9"><stop offset="0" stop-color="#4774c1"/><stop offset="0.5" stop-color="#4479c4"/><stop offset="1" stop-color="#407ec7"/></linearGradient>
<linearGradient id="g251" gradientUnits="userSpaceOnUse" x1="1246.4" y1="397.1" x2="1233.4" y2="363.9"><stop offset="0" stop-color="#4a6bba"/><stop offset="0.5" stop-color="#4870be"/><stop offset="1" stop-color="#4675c2"/></linearGradient>
<linearGradient id="g252" gradientUnits="userSpaceOnUse" x1="1282.7" y1="420.2" x2="1259" y2="385.9"><stop offset="0" stop-color="#4a62b5"/><stop offset="0.5" stop-color="#4a67b8"/><stop offset="1" stop-color="#496cbb"/></linearGradient>
<linearGradient id="g253" gradientUnits="userSpaceOnUse" x1="1314.8" y1="411.2" x2="1282.9" y2="431.6"><stop offset="0" stop-color="#4a5fb3"/><stop offset="1" stop-color="#4a65b7"/></linearGradient>
<linearGradient id="g254" gradientUnits="userSpaceOnUse" x1="1001.8" y1="366.2" x2="1002.3" y2="361.5"><stop offset="0" stop-color="#4a62b5"/><stop offset="0.5" stop-color="#4a67b8"/><stop offset="1" stop-color="#496cbb"/></linearGradient>
<linearGradient id="g255" gradientUnits="userSpaceOnUse" x1="1033" y1="365.1" x2="1032.9" y2="362.2"><stop offset="0" stop-color="#4a65b7"/><stop offset="0.5" stop-color="#4a69ba"/><stop offset="1" stop-color="#496ebd"/></linearGradient>
<linearGradient id="g256" gradientUnits="userSpaceOnUse" x1="1062.1" y1="354.8" x2="1065.5" y2="363.6"><stop offset="0" stop-color="#496cbb"/><stop offset="1" stop-color="#4774c1"/></linearGradient>
<linearGradient id="g257" gradientUnits="userSpaceOnUse" x1="1076" y1="367" x2="1121.3" y2="338"><stop offset="0" stop-color="#4772bf"/><stop offset="0.5" stop-color="#4677c2"/><stop offset="1" stop-color="#427bc5"/></linearGradient>
<linearGradient id="g258" gradientUnits="userSpaceOnUse" x1="1120.5" y1="371" x2="1130.7" y2="338.1"><stop offset="0" stop-color="#4774c1"/><stop offset="0.5" stop-color="#4479c4"/><stop offset="1" stop-color="#407ec7"/></linearGradient>
<linearGradient id="g259" gradientUnits="userSpaceOnUse" x1="1154.8" y1="375.7" x2="1158.1" y2="345.3"><stop offset="0" stop-color="#4774c1"/><stop offset="0.5" stop-color="#4479c4"/><stop offset="1" stop-color="#407ec7"/></linearGradient>
<linearGradient id="g260" gradientUnits="userSpaceOnUse" x1="1188" y1="386" x2="1186.5" y2="354.2"><stop offset="0" stop-color="#4772bf"/><stop offset="0.5" stop-color="#4677c2"/><stop offset="1" stop-color="#427bc5"/></linearGradient>
<linearGradient id="g261" gradientUnits="userSpaceOnUse" x1="1225.2" y1="406.6" x2="1211.3" y2="371.3"><stop offset="0" stop-color="#496cbb"/><stop offset="1" stop-color="#4774c1"/></linearGradient>
<linearGradient id="g262" gradientUnits="userSpaceOnUse" x1="1266.5" y1="393.9" x2="1236.9" y2="412.8"><stop offset="0" stop-color="#4a65b7"/><stop offset="0.5" stop-color="#4a69ba"/><stop offset="1" stop-color="#496ebd"/></linearGradient>
<linearGradient id="g263" gradientUnits="userSpaceOnUse" x1="979.9" y1="358.4" x2="980.9" y2="353.2"><stop offset="0" stop-color="#4a6bba"/><stop offset="0.5" stop-color="#4870be"/><stop offset="1" stop-color="#4675c2"/></linearGradient>
<linearGradient id="g264" gradientUnits="userSpaceOnUse" x1="1011.5" y1="360.5" x2="1011" y2="362.9"><stop offset="0" stop-color="#496cbb"/><stop offset="1" stop-color="#4774c1"/></linearGradient>
<linearGradient id="g265" gradientUnits="userSpaceOnUse" x1="1070" y1="389.6" x2="1076.1" y2="357.7"><stop offset="0" stop-color="#496cbb"/><stop offset="1" stop-color="#4774c1"/></linearGradient>
<linearGradient id="g266" gradientUnits="userSpaceOnUse" x1="1100.9" y1="395.3" x2="1107" y2="363.9"><stop offset="0" stop-color="#4a6bba"/><stop offset="0.5" stop-color="#4870be"/><stop offset="1" stop-color="#4675c2"/></linearGradient>
<linearGradient id="g267" gradientUnits="userSpaceOnUse" x1="1131.8" y1="401.2" x2="1137.8" y2="369.8"><stop offset="0" stop-color="#4a6bba"/><stop offset="0.5" stop-color="#4870be"/><stop offset="1" stop-color="#4675c2"/></linearGradient>
<linearGradient id="g268" gradientUnits="userSpaceOnUse" x1="1162.6" y1="407.4" x2="1168.8" y2="375.5"><stop offset="0" stop-color="#496cbb"/><stop offset="1" stop-color="#4774c1"/></linearGradient>
<linearGradient id="g269" gradientUnits="userSpaceOnUse" x1="1227.7" y1="402.2" x2="1227.3" y2="404.6"><stop offset="0" stop-color="#496cbb"/><stop offset="1" stop-color="#4774c1"/></linearGradient>
<linearGradient id="g270" gradientUnits="userSpaceOnUse" x1="1257.9" y1="411.9" x2="1258.9" y2="406.7"><stop offset="0" stop-color="#4a6bba"/><stop offset="0.5" stop-color="#4870be"/><stop offset="1" stop-color="#4675c2"/></linearGradient>
<linearGradient id="g271" gradientUnits="userSpaceOnUse" x1="1001.8" y1="352.3" x2="972.3" y2="371.2"><stop offset="0" stop-color="#4772bf"/><stop offset="0.5" stop-color="#4677c2"/><stop offset="1" stop-color="#427bc5"/></linearGradient>
<linearGradient id="g272" gradientUnits="userSpaceOnUse" x1="1027.4" y1="393.8" x2="1013.6" y2="358.5"><stop offset="0" stop-color="#496cbb"/><stop offset="1" stop-color="#4774c1"/></linearGradient>
<linearGradient id="g273" gradientUnits="userSpaceOnUse" x1="1052.3" y1="410.9" x2="1050.8" y2="379.1"><stop offset="0" stop-color="#4a65b7"/><stop offset="0.5" stop-color="#4a69ba"/><stop offset="1" stop-color="#496ebd"/></linearGradient>
<linearGradient id="g274" gradientUnits="userSpaceOnUse" x1="1080.6" y1="419.8" x2="1083.9" y2="389.4"><stop offset="0" stop-color="#4a62b5"/><stop offset="0.5" stop-color="#4a67b8"/><stop offset="1" stop-color="#496cbb"/></linearGradient>
<linearGradient id="g275" gradientUnits="userSpaceOnUse" x1="1108.1" y1="427" x2="1118.2" y2="394.1"><stop offset="0" stop-color="#4a62b5"/><stop offset="0.5" stop-color="#4a67b8"/><stop offset="1" stop-color="#496cbb"/></linearGradient>
<linearGradient id="g276" gradientUnits="userSpaceOnUse" x1="1117.4" y1="427.1" x2="1162.8" y2="398.1"><stop offset="0" stop-color="#4a65b7"/><stop offset="0.5" stop-color="#4a69ba"/><stop offset="1" stop-color="#496ebd"/></linearGradient>
<linearGradient id="g277" gradientUnits="userSpaceOnUse" x1="1173.2" y1="401.5" x2="1176.7" y2="410.3"><stop offset="0" stop-color="#496cbb"/><stop offset="1" stop-color="#4774c1"/></linearGradient>
<linearGradient id="g278" gradientUnits="userSpaceOnUse" x1="1205.9" y1="402.9" x2="1205.8" y2="400"><stop offset="0" stop-color="#4772bf"/><stop offset="0.5" stop-color="#4677c2"/><stop offset="1" stop-color="#427bc5"/></linearGradient>
<linearGradient id="g279" gradientUnits="userSpaceOnUse" x1="1236.5" y1="403.6" x2="1237" y2="398.9"><stop offset="0" stop-color="#4774c1"/><stop offset="0.5" stop-color="#4479c4"/><stop offset="1" stop-color="#407ec7"/></linearGradient>
<linearGradient id="g280" gradientUnits="userSpaceOnUse" x1="955.9" y1="333.5" x2="924" y2="353.9"><stop offset="0" stop-color="#427bc5"/><stop offset="1" stop-color="#3e82c9"/></linearGradient>
<linearGradient id="g281" gradientUnits="userSpaceOnUse" x1="979.8" y1="379.2" x2="956.1" y2="344.9"><stop offset="0" stop-color="#4774c1"/><stop offset="0.5" stop-color="#4479c4"/><stop offset="1" stop-color="#407ec7"/></linearGradient>
<linearGradient id="g282" gradientUnits="userSpaceOnUse" x1="1005.4" y1="401.2" x2="992.3" y2="368"><stop offset="0" stop-color="#4a6bba"/><stop offset="0.5" stop-color="#4870be"/><stop offset="1" stop-color="#4675c2"/></linearGradient>
<linearGradient id="g283" gradientUnits="userSpaceOnUse" x1="1033.7" y1="423.2" x2="1025.9" y2="391.1"><stop offset="0" stop-color="#4a62b5"/><stop offset="0.5" stop-color="#4a67b8"/><stop offset="1" stop-color="#496cbb"/></linearGradient>
<linearGradient id="g284" gradientUnits="userSpaceOnUse" x1="1061.1" y1="434.4" x2="1059.9" y2="408.4"><stop offset="0" stop-color="#4a5fb3"/><stop offset="1" stop-color="#4a65b7"/></linearGradient>
<linearGradient id="g285" gradientUnits="userSpaceOnUse" x1="1074.1" y1="440.8" x2="1116.5" y2="413.6"><stop offset="0" stop-color="#4a5fb3"/><stop offset="1" stop-color="#4a65b7"/></linearGradient>
<linearGradient id="g286" gradientUnits="userSpaceOnUse" x1="1118.9" y1="419.8" x2="1125.9" y2="430"><stop offset="0" stop-color="#4a62b5"/><stop offset="0.5" stop-color="#4a67b8"/><stop offset="1" stop-color="#496cbb"/></linearGradient>
<linearGradient id="g287" gradientUnits="userSpaceOnUse" x1="1184.4" y1="404.5" x2="1184" y2="403.1"><stop offset="0" stop-color="#4774c1"/><stop offset="0.5" stop-color="#4479c4"/><stop offset="1" stop-color="#407ec7"/></linearGradient>
<linearGradient id="g288" gradientUnits="userSpaceOnUse" x1="1215" y1="397.4" x2="1215.1" y2="400.2"><stop offset="0" stop-color="#427bc5"/><stop offset="1" stop-color="#3e82c9"/></linearGradient>
<linearGradient id="g289" gradientUnits="userSpaceOnUse" x1="1131.9" y1="130.7" x2="1132" y2="133.5"><stop offset="0" stop-color="#a1c84e"/><stop offset="1" stop-color="#bcc445"/></linearGradient>
<linearGradient id="g290" gradientUnits="userSpaceOnUse" x1="1163" y1="127.8" x2="1162.6" y2="126.4"><stop offset="0" stop-color="#b1c649"/><stop offset="0.5" stop-color="#c5c343"/><stop offset="1" stop-color="#d6c03f"/></linearGradient>
<linearGradient id="g291" gradientUnits="userSpaceOnUse" x1="1221.1" y1="100.9" x2="1228.1" y2="111.1"><stop offset="0" stop-color="#eebb3b"/><stop offset="0.5" stop-color="#f9bb39"/><stop offset="1" stop-color="#fdc236"/></linearGradient>
<linearGradient id="g292" gradientUnits="userSpaceOnUse" x1="1230.5" y1="117.3" x2="1272.9" y2="90.1"><stop offset="0" stop-color="#fcbc38"/><stop offset="1" stop-color="#fdca33"/></linearGradient>
<linearGradient id="g293" gradientUnits="userSpaceOnUse" x1="1287.1" y1="122.5" x2="1285.9" y2="96.5"><stop offset="0" stop-color="#fcbc38"/><stop offset="1" stop-color="#fdca33"/></linearGradient>
<linearGradient id="g294" gradientUnits="userSpaceOnUse" x1="1321.1" y1="139.8" x2="1313.3" y2="107.7"><stop offset="0" stop-color="#eebb3b"/><stop offset="0.5" stop-color="#f9bb39"/><stop offset="1" stop-color="#fdc236"/></linearGradient>
<linearGradient id="g295" gradientUnits="userSpaceOnUse" x1="1354.7" y1="162.9" x2="1341.6" y2="129.7"><stop offset="0" stop-color="#d3c140"/><stop offset="0.5" stop-color="#e4be3c"/><stop offset="1" stop-color="#f0bb3a"/></linearGradient>
<linearGradient id="g296" gradientUnits="userSpaceOnUse" x1="1390.9" y1="186" x2="1367.2" y2="151.7"><stop offset="0" stop-color="#b1c649"/><stop offset="0.5" stop-color="#c5c343"/><stop offset="1" stop-color="#d6c03f"/></linearGradient>
<linearGradient id="g297" gradientUnits="userSpaceOnUse" x1="1423" y1="177" x2="1391.1" y2="197.4"><stop offset="0" stop-color="#a1c84e"/><stop offset="1" stop-color="#bcc445"/></linearGradient>
<linearGradient id="g298" gradientUnits="userSpaceOnUse" x1="1110" y1="132" x2="1110.5" y2="127.3"><stop offset="0" stop-color="#b1c649"/><stop offset="0.5" stop-color="#c5c343"/><stop offset="1" stop-color="#d6c03f"/></linearGradient>
<linearGradient id="g299" gradientUnits="userSpaceOnUse" x1="1141.2" y1="130.9" x2="1141.1" y2="128"><stop offset="0" stop-color="#bcc445"/><stop offset="0.5" stop-color="#cfc241"/><stop offset="1" stop-color="#dfbf3d"/></linearGradient>
<linearGradient id="g300" gradientUnits="userSpaceOnUse" x1="1170.3" y1="120.6" x2="1173.8" y2="129.4"><stop offset="0" stop-color="#d6c03f"/><stop offset="1" stop-color="#eebb3b"/></linearGradient>
<linearGradient id="g301" gradientUnits="userSpaceOnUse" x1="1184.2" y1="132.8" x2="1229.6" y2="103.8"><stop offset="0" stop-color="#e8bd3b"/><stop offset="0.5" stop-color="#f3ba3a"/><stop offset="1" stop-color="#fcbc38"/></linearGradient>
<linearGradient id="g302" gradientUnits="userSpaceOnUse" x1="1228.8" y1="136.8" x2="1238.9" y2="103.9"><stop offset="0" stop-color="#eebb3b"/><stop offset="0.5" stop-color="#f9bb39"/><stop offset="1" stop-color="#fdc236"/></linearGradient>
<linearGradient id="g303" gradientUnits="userSpaceOnUse" x1="1263.1" y1="141.5" x2="1266.4" y2="111.1"><stop offset="0" stop-color="#eebb3b"/><stop offset="0.5" stop-color="#f9bb39"/><stop offset="1" stop-color="#fdc236"/></linearGradient>
<linearGradient id="g304" gradientUnits="userSpaceOnUse" x1="1296.2" y1="151.8" x2="1294.7" y2="120"><stop offset="0" stop-color="#e8bd3b"/><stop offset="0.5" stop-color="#f3ba3a"/><stop offset="1" stop-color="#fcbc38"/></linearGradient>
<linearGradient id="g305" gradientUnits="userSpaceOnUse" x1="1333.4" y1="172.4" x2="1319.6" y2="137.1"><stop offset="0" stop-color="#d6c03f"/><stop offset="1" stop-color="#eebb3b"/></linearGradient>
<linearGradient id="g306" gradientUnits="userSpaceOnUse" x1="1374.7" y1="159.7" x2="1345.2" y2="178.6"><stop offset="0" stop-color="#bcc445"/><stop offset="0.5" stop-color="#cfc241"/><stop offset="1" stop-color="#dfbf3d"/></linearGradient>
<linearGradient id="g307" gradientUnits="userSpaceOnUse" x1="1088.1" y1="124.2" x2="1089.1" y2="119"><stop offset="0" stop-color="#d3c140"/><stop offset="0.5" stop-color="#e4be3c"/><stop offset="1" stop-color="#f0bb3a"/></linearGradient>
<linearGradient id="g308" gradientUnits="userSpaceOnUse" x1="1119.7" y1="126.3" x2="1119.3" y2="128.7"><stop offset="0" stop-color="#d6c03f"/><stop offset="1" stop-color="#eebb3b"/></linearGradient>
<linearGradient id="g309" gradientUnits="userSpaceOnUse" x1="1178.2" y1="155.4" x2="1184.4" y2="123.5"><stop offset="0" stop-color="#d6c03f"/><stop offset="1" stop-color="#eebb3b"/></linearGradient>
<linearGradient id="g310" gradientUnits="userSpaceOnUse" x1="1209.2" y1="161.1" x2="1215.2" y2="129.7"><stop offset="0" stop-color="#d3c140"/><stop offset="0.5" stop-color="#e4be3c"/><stop offset="1" stop-color="#f0bb3a"/></linearGradient>
<linearGradient id="g311" gradientUnits="userSpaceOnUse" x1="1240" y1="167" x2="1246.1" y2="135.6"><stop offset="0" stop-color="#d3c140"/><stop offset="0.5" stop-color="#e4be3c"/><stop offset="1" stop-color="#f0bb3a"/></linearGradient>
<linearGradient id="g312" gradientUnits="userSpaceOnUse" x1="1270.9" y1="173.2" x2="1277" y2="141.3"><stop offset="0" stop-color="#d6c03f"/><stop offset="1" stop-color="#eebb3b"/></linearGradient>
<linearGradient id="g313" gradientUnits="userSpaceOnUse" x1="1336" y1="168" x2="1335.5" y2="170.4"><stop offset="0" stop-color="#d6c03f"/><stop offset="1" stop-color="#eebb3b"/></linearGradient>
<linearGradient id="g314" gradientUnits="userSpaceOnUse" x1="1366.1" y1="177.7" x2="1367.1" y2="172.5"><stop offset="0" stop-color="#d3c140"/><stop offset="0.5" stop-color="#e4be3c"/><stop offset="1" stop-color="#f0bb3a"/></linearGradient>
<linearGradient id="g315" gradientUnits="userSpaceOnUse" x1="1110.1" y1="118.1" x2="1080.5" y2="137"><stop offset="0" stop-color="#e8bd3b"/><stop offset="0.5" stop-color="#f3ba3a"/><stop offset="1" stop-color="#fcbc38"/></linearGradient>
<linearGradient id="g316" gradientUnits="userSpaceOnUse" x1="1135.7" y1="159.6" x2="1121.8" y2="124.3"><stop offset="0" stop-color="#d6c03f"/><stop offset="1" stop-color="#eebb3b"/></linearGradient>
<linearGradient id="g317" gradientUnits="userSpaceOnUse" x1="1160.5" y1="176.7" x2="1159" y2="144.9"><stop offset="0" stop-color="#bcc445"/><stop offset="0.5" stop-color="#cfc241"/><stop offset="1" stop-color="#dfbf3d"/></linearGradient>
<linearGradient id="g318" gradientUnits="userSpaceOnUse" x1="1188.9" y1="185.6" x2="1192.2" y2="155.2"><stop offset="0" stop-color="#b1c649"/><stop offset="0.5" stop-color="#c5c343"/><stop offset="1" stop-color="#d6c03f"/></linearGradient>
<linearGradient id="g319" gradientUnits="userSpaceOnUse" x1="1216.3" y1="192.8" x2="1226.5" y2="159.9"><stop offset="0" stop-color="#b1c649"/><stop offset="0.5" stop-color="#c5c343"/><stop offset="1" stop-color="#d6c03f"/></linearGradient>
<linearGradient id="g320" gradientUnits="userSpaceOnUse" x1="1225.7" y1="192.9" x2="1271" y2="163.9"><stop offset="0" stop-color="#bcc445"/><stop offset="0.5" stop-color="#cfc241"/><stop offset="1" stop-color="#dfbf3d"/></linearGradient>
<linearGradient id="g321" gradientUnits="userSpaceOnUse" x1="1281.5" y1="167.3" x2="1284.9" y2="176.1"><stop offset="0" stop-color="#d6c03f"/><stop offset="1" stop-color="#eebb3b"/></linearGradient>
<linearGradient id="g322" gradientUnits="userSpaceOnUse" x1="1314.1" y1="168.7" x2="1314" y2="165.8"><stop offset="0" stop-color="#e8bd3b"/><stop offset="0.5" stop-color="#f3ba3a"/><stop offset="1" stop-color="#fcbc38"/></linearGradient>
<linearGradient id="g323" gradientUnits="userSpaceOnUse" x1="1344.7" y1="169.4" x2="1345.2" y2="164.7"><stop offset="0" stop-color="#eebb3b"/><stop offset="0.5" stop-color="#f9bb39"/><stop offset="1" stop-color="#fdc236"/></linearGradient>
<linearGradient id="g324" gradientUnits="userSpaceOnUse" x1="1064.1" y1="99.3" x2="1032.2" y2="119.7"><stop offset="0" stop-color="#fcbc38"/><stop offset="1" stop-color="#fdca33"/></linearGradient>
<linearGradient id="g325" gradientUnits="userSpaceOnUse" x1="1088" y1="145" x2="1064.3" y2="110.7"><stop offset="0" stop-color="#eebb3b"/><stop offset="0.5" stop-color="#f9bb39"/><stop offset="1" stop-color="#fdc236"/></linearGradient>
<linearGradient id="g326" gradientUnits="userSpaceOnUse" x1="1113.6" y1="167" x2="1100.6" y2="133.8"><stop offset="0" stop-color="#d3c140"/><stop offset="0.5" stop-color="#e4be3c"/><stop offset="1" stop-color="#f0bb3a"/></linearGradient>
<linearGradient id="g327" gradientUnits="userSpaceOnUse" x1="1141.9" y1="189" x2="1134.1" y2="156.9"><stop offset="0" stop-color="#b1c649"/><stop offset="0.5" stop-color="#c5c343"/><stop offset="1" stop-color="#d6c03f"/></linearGradient>
<linearGradient id="g328" gradientUnits="userSpaceOnUse" x1="1169.4" y1="200.2" x2="1168.1" y2="174.2"><stop offset="0" stop-color="#a1c84e"/><stop offset="1" stop-color="#bcc445"/></linearGradient>
<linearGradient id="g329" gradientUnits="userSpaceOnUse" x1="1182.4" y1="206.6" x2="1224.8" y2="179.4"><stop offset="0" stop-color="#a1c84e"/><stop offset="1" stop-color="#bcc445"/></linearGradient>
<linearGradient id="g330" gradientUnits="userSpaceOnUse" x1="1227.1" y1="185.6" x2="1234.2" y2="195.8"><stop offset="0" stop-color="#b1c649"/><stop offset="0.5" stop-color="#c5c343"/><stop offset="1" stop-color="#d6c03f"/></linearGradient>
<linearGradient id="g331" gradientUnits="userSpaceOnUse" x1="1292.6" y1="170.3" x2="1292.3" y2="168.9"><stop offset="0" stop-color="#eebb3b"/><stop offset="0.5" stop-color="#f9bb39"/><stop offset="1" stop-color="#fdc236"/></linearGradient>
<linearGradient id="g332" gradientUnits="userSpaceOnUse" x1="1323.3" y1="163.2" x2="1323.4" y2="166"><stop offset="0" stop-color="#fcbc38"/><stop offset="1" stop-color="#fdca33"/></linearGradient>
<linearGradient id="g333" gradientUnits="userSpaceOnUse" x1="1024.4" y1="135.1" x2="1023.2" y2="109.1"><stop offset="0" stop-color="#fcbc38"/><stop offset="1" stop-color="#fdca33"/></linearGradient>
<linearGradient id="g334" gradientUnits="userSpaceOnUse" x1="1058.4" y1="152.4" x2="1050.6" y2="120.3"><stop offset="0" stop-color="#eebb3b"/><stop offset="0.5" stop-color="#f9bb39"/><stop offset="1" stop-color="#fdc236"/></linearGradient>
<linearGradient id="g335" gradientUnits="userSpaceOnUse" x1="1092" y1="175.5" x2="1078.9" y2="142.3"><stop offset="0" stop-color="#d3c140"/><stop offset="0.5" stop-color="#e4be3c"/><stop offset="1" stop-color="#f0bb3a"/></linearGradient>
<linearGradient id="g336" gradientUnits="userSpaceOnUse" x1="1128.2" y1="198.6" x2="1104.5" y2="164.3"><stop offset="0" stop-color="#b1c649"/><stop offset="0.5" stop-color="#c5c343"/><stop offset="1" stop-color="#d6c03f"/></linearGradient>
<linearGradient id="g337" gradientUnits="userSpaceOnUse" x1="1160.3" y1="189.6" x2="1128.4" y2="210"><stop offset="0" stop-color="#a1c84e"/><stop offset="1" stop-color="#bcc445"/></linearGradient>
<linearGradient id="g338" gradientUnits="userSpaceOnUse" x1="1178.1" y1="202.8" x2="1178.2" y2="205.6"><stop offset="0" stop-color="#a1c84e"/><stop offset="1" stop-color="#bcc445"/></linearGradient>
<linearGradient id="g339" gradientUnits="userSpaceOnUse" x1="1209.2" y1="199.9" x2="1208.8" y2="198.5"><stop offset="0" stop-color="#b1c649"/><stop offset="0.5" stop-color="#c5c343"/><stop offset="1" stop-color="#d6c03f"/></linearGradient>
<linearGradient id="g340" gradientUnits="userSpaceOnUse" x1="1267.3" y1="173" x2="1274.3" y2="183.2"><stop offset="0" stop-color="#eebb3b"/><stop offset="0.5" stop-color="#f9bb39"/><stop offset="1" stop-color="#fdc236"/></linearGradient>
<linearGradient id="g341" gradientUnits="userSpaceOnUse" x1="1276.7" y1="189.4" x2="1319.1" y2="162.2"><stop offset="0" stop-color="#fcbc38"/><stop offset="1" stop-color="#fdca33"/></linearGradient>
<linearGradient id="g342" gradientUnits="userSpaceOnUse" x1="1000.4" y1="154.1" x2="1003.7" y2="123.7"><stop offset="0" stop-color="#eebb3b"/><stop offset="0.5" stop-color="#f9bb39"/><stop offset="1" stop-color="#fdc236"/></linearGradient>
<linearGradient id="g343" gradientUnits="userSpaceOnUse" x1="1033.5" y1="164.4" x2="1032" y2="132.6"><stop offset="0" stop-color="#e8bd3b"/><stop offset="0.5" stop-color="#f3ba3a"/><stop offset="1" stop-color="#fcbc38"/></linearGradient>
<linearGradient id="g344" gradientUnits="userSpaceOnUse" x1="1070.7" y1="185" x2="1056.9" y2="149.7"><stop offset="0" stop-color="#d6c03f"/><stop offset="1" stop-color="#eebb3b"/></linearGradient>
<linearGradient id="g345" gradientUnits="userSpaceOnUse" x1="1112" y1="172.3" x2="1082.5" y2="191.2"><stop offset="0" stop-color="#bcc445"/><stop offset="0.5" stop-color="#cfc241"/><stop offset="1" stop-color="#dfbf3d"/></linearGradient>
<linearGradient id="g346" gradientUnits="userSpaceOnUse" x1="1156.2" y1="204.1" x2="1156.7" y2="199.4"><stop offset="0" stop-color="#b1c649"/><stop offset="0.5" stop-color="#c5c343"/><stop offset="1" stop-color="#d6c03f"/></linearGradient>
<linearGradient id="g347" gradientUnits="userSpaceOnUse" x1="1187.4" y1="203" x2="1187.3" y2="200.1"><stop offset="0" stop-color="#bcc445"/><stop offset="0.5" stop-color="#cfc241"/><stop offset="1" stop-color="#dfbf3d"/></linearGradient>
<linearGradient id="g348" gradientUnits="userSpaceOnUse" x1="1216.5" y1="192.7" x2="1220" y2="201.5"><stop offset="0" stop-color="#d6c03f"/><stop offset="1" stop-color="#eebb3b"/></linearGradient>
<linearGradient id="g349" gradientUnits="userSpaceOnUse" x1="1230.4" y1="204.9" x2="1275.8" y2="175.9"><stop offset="0" stop-color="#e8bd3b"/><stop offset="0.5" stop-color="#f3ba3a"/><stop offset="1" stop-color="#fcbc38"/></linearGradient>
<linearGradient id="g350" gradientUnits="userSpaceOnUse" x1="1275" y1="208.9" x2="1285.1" y2="176"><stop offset="0" stop-color="#eebb3b"/><stop offset="0.5" stop-color="#f9bb39"/><stop offset="1" stop-color="#fdc236"/></linearGradient>
<linearGradient id="g351" gradientUnits="userSpaceOnUse" x1="977.3" y1="179.6" x2="983.4" y2="148.2"><stop offset="0" stop-color="#d3c140"/><stop offset="0.5" stop-color="#e4be3c"/><stop offset="1" stop-color="#f0bb3a"/></linearGradient>
<linearGradient id="g352" gradientUnits="userSpaceOnUse" x1="1008.2" y1="185.8" x2="1014.3" y2="153.9"><stop offset="0" stop-color="#d6c03f"/><stop offset="1" stop-color="#eebb3b"/></linearGradient>
<linearGradient id="g353" gradientUnits="userSpaceOnUse" x1="1073.3" y1="180.6" x2="1072.8" y2="183"><stop offset="0" stop-color="#d6c03f"/><stop offset="1" stop-color="#eebb3b"/></linearGradient>
<linearGradient id="g354" gradientUnits="userSpaceOnUse" x1="1103.4" y1="190.3" x2="1104.4" y2="185.1"><stop offset="0" stop-color="#d3c140"/><stop offset="0.5" stop-color="#e4be3c"/><stop offset="1" stop-color="#f0bb3a"/></linearGradient>
<linearGradient id="g355" gradientUnits="userSpaceOnUse" x1="1134.3" y1="196.3" x2="1135.3" y2="191.1"><stop offset="0" stop-color="#d3c140"/><stop offset="0.5" stop-color="#e4be3c"/><stop offset="1" stop-color="#f0bb3a"/></linearGradient>
<linearGradient id="g356" gradientUnits="userSpaceOnUse" x1="1165.9" y1="198.4" x2="1165.5" y2="200.8"><stop offset="0" stop-color="#d6c03f"/><stop offset="1" stop-color="#eebb3b"/></linearGradient>
<linearGradient id="g357" gradientUnits="userSpaceOnUse" x1="1224.4" y1="227.5" x2="1230.6" y2="195.6"><stop offset="0" stop-color="#d6c03f"/><stop offset="1" stop-color="#eebb3b"/></linearGradient>
<linearGradient id="g358" gradientUnits="userSpaceOnUse" x1="1255.4" y1="233.2" x2="1261.4" y2="201.8"><stop offset="0" stop-color="#d3c140"/><stop offset="0.5" stop-color="#e4be3c"/><stop offset="1" stop-color="#f0bb3a"/></linearGradient>
<linearGradient id="g359" gradientUnits="userSpaceOnUse" x1="953.6" y1="205.4" x2="963.8" y2="172.5"><stop offset="0" stop-color="#b1c649"/><stop offset="0.5" stop-color="#c5c343"/><stop offset="1" stop-color="#d6c03f"/></linearGradient>
<linearGradient id="g360" gradientUnits="userSpaceOnUse" x1="963" y1="205.5" x2="1008.3" y2="176.5"><stop offset="0" stop-color="#bcc445"/><stop offset="0.5" stop-color="#cfc241"/><stop offset="1" stop-color="#dfbf3d"/></linearGradient>
<linearGradient id="g361" gradientUnits="userSpaceOnUse" x1="1018.8" y1="179.9" x2="1022.2" y2="188.7"><stop offset="0" stop-color="#d6c03f"/><stop offset="1" stop-color="#eebb3b"/></linearGradient>
<linearGradient id="g362" gradientUnits="userSpaceOnUse" x1="1051.4" y1="181.3" x2="1051.3" y2="178.4"><stop offset="0" stop-color="#e8bd3b"/><stop offset="0.5" stop-color="#f3ba3a"/><stop offset="1" stop-color="#fcbc38"/></linearGradient>
<linearGradient id="g363" gradientUnits="userSpaceOnUse" x1="1082" y1="182" x2="1082.5" y2="177.3"><stop offset="0" stop-color="#eebb3b"/><stop offset="0.5" stop-color="#f9bb39"/><stop offset="1" stop-color="#fdc236"/></linearGradient>
<linearGradient id="g364" gradientUnits="userSpaceOnUse" x1="1156.3" y1="190.2" x2="1126.7" y2="209.1"><stop offset="0" stop-color="#e8bd3b"/><stop offset="0.5" stop-color="#f3ba3a"/><stop offset="1" stop-color="#fcbc38"/></linearGradient>
<linearGradient id="g365" gradientUnits="userSpaceOnUse" x1="1181.9" y1="231.7" x2="1168" y2="196.4"><stop offset="0" stop-color="#d6c03f"/><stop offset="1" stop-color="#eebb3b"/></linearGradient>
<linearGradient id="g366" gradientUnits="userSpaceOnUse" x1="1206.7" y1="248.8" x2="1205.2" y2="217"><stop offset="0" stop-color="#bcc445"/><stop offset="0.5" stop-color="#cfc241"/><stop offset="1" stop-color="#dfbf3d"/></linearGradient>
<linearGradient id="g367" gradientUnits="userSpaceOnUse" x1="1235.1" y1="257.7" x2="1238.4" y2="227.3"><stop offset="0" stop-color="#b1c649"/><stop offset="0.5" stop-color="#c5c343"/><stop offset="1" stop-color="#d6c03f"/></linearGradient>
<linearGradient id="g368" gradientUnits="userSpaceOnUse" x1="919.7" y1="219.2" x2="962.1" y2="192"><stop offset="0" stop-color="#a1c84e"/><stop offset="1" stop-color="#bcc445"/></linearGradient>
<linearGradient id="g369" gradientUnits="userSpaceOnUse" x1="964.4" y1="198.2" x2="971.5" y2="208.4"><stop offset="0" stop-color="#b1c649"/><stop offset="0.5" stop-color="#c5c343"/><stop offset="1" stop-color="#d6c03f"/></linearGradient>
<linearGradient id="g370" gradientUnits="userSpaceOnUse" x1="1029.9" y1="182.9" x2="1029.6" y2="181.5"><stop offset="0" stop-color="#eebb3b"/><stop offset="0.5" stop-color="#f9bb39"/><stop offset="1" stop-color="#fdc236"/></linearGradient>
<linearGradient id="g371" gradientUnits="userSpaceOnUse" x1="1060.6" y1="175.8" x2="1060.7" y2="178.6"><stop offset="0" stop-color="#fcbc38"/><stop offset="1" stop-color="#fdca33"/></linearGradient>
<linearGradient id="g372" gradientUnits="userSpaceOnUse" x1="1110.3" y1="171.4" x2="1078.4" y2="191.8"><stop offset="0" stop-color="#fcbc38"/><stop offset="1" stop-color="#fdca33"/></linearGradient>
<linearGradient id="g373" gradientUnits="userSpaceOnUse" x1="1134.2" y1="217.1" x2="1110.5" y2="182.8"><stop offset="0" stop-color="#eebb3b"/><stop offset="0.5" stop-color="#f9bb39"/><stop offset="1" stop-color="#fdc236"/></linearGradient>
<linearGradient id="g374" gradientUnits="userSpaceOnUse" x1="1159.8" y1="239.1" x2="1146.8" y2="205.9"><stop offset="0" stop-color="#d3c140"/><stop offset="0.5" stop-color="#e4be3c"/><stop offset="1" stop-color="#f0bb3a"/></linearGradient>
<linearGradient id="g375" gradientUnits="userSpaceOnUse" x1="1188.1" y1="261.1" x2="1180.3" y2="229"><stop offset="0" stop-color="#b1c649"/><stop offset="0.5" stop-color="#c5c343"/><stop offset="1" stop-color="#d6c03f"/></linearGradient>
<linearGradient id="g376" gradientUnits="userSpaceOnUse" x1="1215.6" y1="272.3" x2="1214.3" y2="246.3"><stop offset="0" stop-color="#a1c84e"/><stop offset="1" stop-color="#bcc445"/></linearGradient>
</defs>
<path class="g" d="M351.6 385.2L660.5 444.7"/>
<path class="g" d="M351.6 385.2L135.1 469.9"/>
<path class="g" d="M351.6 385.2L351.6 1.5"/>
<path class="g" d="M351.6 385.2L351.6 1.5"/>
<path class="g" d="M243.3 427.5L552.2 487"/>
<path class="g" d="M506 414.9L289.5 499.6"/>
<path class="g" d="M243.3 427.5L243.3 43.8"/>
<path class="g" d="M506 414.9L506 31.2"/>
<path class="g" d="M135.1 469.9L444 529.4"/>
<path class="g" d="M660.5 444.7L444 529.4"/>
<path class="g" d="M135.1 469.9L135.1 86.2"/>
<path class="g" d="M660.5 444.7L660.5 61"/>
<path class="g" d="M135.1 469.9L351.6 385.2"/>
<path class="g" d="M351.6 385.2L660.5 444.7"/>
<path class="g" d="M135.1 374L351.6 289.3"/>
<path class="g" d="M351.6 289.3L660.5 348.8"/>
<path class="g" d="M135.1 278L351.6 193.3"/>
<path class="g" d="M351.6 193.3L660.5 252.8"/>
<path class="g" d="M135.1 182.1L351.6 97.4"/>
<path class="g" d="M351.6 97.4L660.5 156.9"/>
<path class="g" d="M135.1 86.2L351.6 1.5"/>
<path class="g" d="M351.6 1.5L660.5 61"/>
<path class="g" d="M1127.3 385.2L1436.2 444.7"/>
<path class="g" d="M1127.3 385.2L910.8 469.9"/>
<path class="g" d="M1127.3 385.2L1127.3 1.5"/>
<path class="g" d="M1127.3 385.2L1127.3 1.5"/>
<path class="g" d="M1019 427.5L1328 487"/>
<path class="g" d="M1281.8 414.9L1065.2 499.6"/>
<path class="g" d="M1019 427.5L1019 43.8"/>
<path class="g" d="M1281.8 414.9L1281.8 31.2"/>
<path class="g" d="M910.8 469.9L1219.7 529.4"/>
<path class="g" d="M1436.2 444.7L1219.7 529.4"/>
<path class="g" d="M910.8 469.9L910.8 86.2"/>
<path class="g" d="M1436.2 444.7L1436.2 61"/>
<path class="g" d="M910.8 469.9L1127.3 385.2"/>
<path class="g" d="M1127.3 385.2L1436.2 444.7"/>
<path class="g" d="M910.8 374L1127.3 289.3"/>
<path class="g" d="M1127.3 289.3L1436.2 348.8"/>
<path class="g" d="M910.8 278L1127.3 193.3"/>
<path class="g" d="M1127.3 193.3L1436.2 252.8"/>
<path class="g" d="M910.8 182.1L1127.3 97.4"/>
<path class="g" d="M1127.3 97.4L1436.2 156.9"/>
<path class="g" d="M910.8 86.2L1127.3 1.5"/>
<path class="g" d="M1127.3 1.5L1436.2 61"/>
<path class="c1" d="M351.6 193.3l7.7 11.1 7.7 11.1 7.8 11.1 7.7 11.1-5.4 3.2-7.7-10.7-7.8-10.3-7.7-9.4-7.7-5.4z"/>
<path class="ml" d="M351.6 193.3l7.7 11.1 7.7 11.1 7.8 11.1 7.7 11.1M351.6 193.3l-5.4 11.8"/>
<path class="c2" d="M382.5 237.7l7.7 11 7.7 11.1 7.8 11.1 7.7 11.1-5.4 2.6-7.8-11-7.7-10.9-7.7-10.9-7.7-10.9z"/>
<path class="ml" d="M382.5 237.7l7.7 11 7.7 11.1 7.8 11.1 7.7 11.1M382.5 237.7l-5.4 3.2"/>
<path class="c3" d="M413.4 282l7.7 11.1 7.7 11.1 7.7 11 7.8 11.1-5.4 2.4-7.8-11-7.7-11.1-7.7-11-7.7-11z"/>
<path class="ml" d="M413.4 282l7.7 11.1 7.7 11.1 7.7 11 7.8 11.1M413.4 282l-5.4 2.6"/>
<path class="c4" d="M444.3 326.3l7.7 11.1 7.7 11.1 7.7 11 7.8 11.1-5.5 2.3-7.7-11.1-7.7-11-7.7-11.1-7.7-11z"/>
<path class="ml" d="M444.3 326.3l7.7 11.1 7.7 11.1 7.7 11 7.8 11.1M444.3 326.3l-5.4 2.4"/>
<path class="c5" d="M475.2 370.6l7.7 11.1 7.7 11.1 7.7 11.1 7.7 11-5.4 2.2-7.7-11.1-7.7-11-7.7-11.1-7.8-11z"/>
<path class="ml" d="M475.2 370.6l7.7 11.1 7.7 11.1 7.7 11.1 7.7 11M475.2 370.6l-5.5 2.3"/>
<path class="c6" d="M506 414.9l7.8-8.1 7.7-8.1 7.7-8.1 7.7-8.1-5.4 2.3-7.7 8-7.7 8.1-7.7 8.1-7.8 8.1z"/>
<path class="ml" d="M506 414.9l7.8-8.1 7.7-8.1 7.7-8.1 7.7-8.1M506 414.9l-5.4 2.2"/>
<path class="c7" d="M536.9 382.5l7.8-8.1 7.7-8.1 7.7-8.1 7.7-8.1-5.4 2.4-7.7 8.1-7.7 8-7.8 8.1-7.7 8.1z"/>
<path class="ml" d="M536.9 382.5l7.8-8.1 7.7-8.1 7.7-8.1 7.7-8.1M536.9 382.5l-5.4 2.3"/>
<path class="c8" d="M567.8 350.1l7.8-8.1 7.7-8.1 7.7-8.1 7.7-8.1-5.4 2.6-7.7 8.1-7.7 8-7.8 8-7.7 8.1z"/>
<path class="ml" d="M567.8 350.1l7.8-8.1 7.7-8.1 7.7-8.1 7.7-8.1M567.8 350.1l-5.4 2.4"/>
<path class="c9" d="M598.7 317.7l7.7-8.1 7.8-8.1 7.7-8.1 7.7-8.1-5.4 3.2-7.7 7.9-7.7 7.9-7.8 8-7.7 8z"/>
<path class="ml" d="M598.7 317.7l7.7-8.1 7.8-8.1 7.7-8.1 7.7-8.1M598.7 317.7l-5.4 2.6"/>
<path class="c10" d="M629.6 285.3l7.7-8.1 7.8-8.1 7.7-8.1 7.7-8.2-5.4 11.8-7.7 2.4-7.8 6.4-7.7 7.4-7.7 7.7z"/>
<path class="ml" d="M629.6 285.3l7.7-8.1 7.8-8.1 7.7-8.1 7.7-8.2M629.6 285.3l-5.4 3.2M660.5 252.8l-5.4 11.8"/>
<path class="c1" d="M346.2 205.1l7.7 5.4 7.7 9.4 7.8 10.3 7.7 10.7-5.4 5.4-7.8-9.8-7.7-8.9-7.7-7.1-7.7-3.7z"/>
<path class="ml" d="M346.2 205.1l-5.4 11.7"/>
<path class="c2" d="M377.1 240.9l7.7 10.9 7.7 10.9 7.7 10.9 7.8 11-5.4 3.7-7.8-10.7-7.7-10.7-7.7-10.4-7.7-10.2z"/>
<path class="ml" d="M377.1 240.9l-5.4 5.4"/>
<path class="c3" d="M408 284.6l7.7 11 7.7 11 7.7 11.1 7.8 11-5.5 2.9-7.7-10.9-7.7-10.8-7.7-10.8-7.7-10.8z"/>
<path class="ml" d="M408 284.6l-5.4 3.7"/>
<path class="c4" d="M438.9 328.7l7.7 11 7.7 11.1 7.7 11 7.7 11.1-5.4 2.5-7.7-11-7.7-10.9-7.7-11-7.8-10.9z"/>
<path class="ml" d="M438.9 328.7l-5.5 2.9"/>
<path class="c5" d="M469.7 372.9l7.8 11 7.7 11.1 7.7 11 7.7 11.1-5.4 2.1-7.7-11-7.7-10.9-7.7-11-7.8-10.9z"/>
<path class="ml" d="M469.7 372.9l-5.4 2.5"/>
<path class="c6" d="M500.6 417.1l7.8-8.1 7.7-8.1 7.7-8.1 7.7-8-5.4 2.5-7.7 7.9-7.7 8-7.8 8-7.7 8z"/>
<path class="ml" d="M500.6 417.1l-5.4 2.1"/>
<path class="c7" d="M531.5 384.8l7.7-8.1 7.8-8.1 7.7-8 7.7-8.1-5.4 2.9-7.7 8-7.7 7.9-7.8 8-7.7 8z"/>
<path class="ml" d="M531.5 384.8l-5.4 2.5"/>
<path class="c8" d="M562.4 352.5l7.7-8.1 7.8-8 7.7-8 7.7-8.1-5.4 3.7-7.7 7.8-7.8 7.8-7.7 7.9-7.7 7.9z"/>
<path class="ml" d="M562.4 352.5l-5.4 2.9"/>
<path class="c9" d="M593.3 320.3l7.7-8 7.8-8 7.7-7.9 7.7-7.9-5.4 5.4-7.7 7.2-7.8 7.5-7.7 7.6-7.7 7.8z"/>
<path class="ml" d="M593.3 320.3l-5.4 3.7"/>
<path class="c10" d="M624.2 288.5l7.7-7.7 7.7-7.4 7.8-6.4 7.7-2.4-5.4 11.7-7.7 .7-7.8 4.2-7.7 5.9-7.7 6.8z"/>
<path class="ml" d="M624.2 288.5l-5.4 5.4M655.1 264.6l-5.4 11.7"/>
<path class="c1" d="M340.8 216.8l7.7 3.7 7.7 7.1 7.7 8.9 7.8 9.8-5.4 7-7.8-8.6-7.7-7.5-7.7-5.7-7.7-3z"/>
<path class="ml" d="M340.8 216.8l-5.4 11.7"/>
<path class="c2" d="M371.7 246.3l7.7 10.2 7.7 10.4 7.7 10.7 7.8 10.7-5.5 4.6-7.7-10.3-7.7-10.1-7.7-9.8-7.7-9.4z"/>
<path class="ml" d="M371.7 246.3l-5.4 7"/>
<path class="c3" d="M402.6 288.3l7.7 10.8 7.7 10.8 7.7 10.8 7.7 10.9-5.4 3.5-7.7-10.7-7.7-10.6-7.7-10.5-7.8-10.4z"/>
<path class="ml" d="M402.6 288.3l-5.5 4.6"/>
<path class="c4" d="M433.4 331.6l7.8 10.9 7.7 11 7.7 10.9 7.7 11-5.4 2.7-7.7-10.8-7.7-10.8-7.7-10.7-7.8-10.7z"/>
<path class="ml" d="M433.4 331.6l-5.4 3.5"/>
<path class="c5" d="M464.3 375.4l7.8 10.9 7.7 11 7.7 10.9 7.7 11-5.4 2.1-7.7-10.8-7.7-10.8-7.8-10.8-7.7-10.8z"/>
<path class="ml" d="M464.3 375.4l-5.4 2.7"/>
<path class="c6" d="M495.2 419.2l7.7-8 7.8-8 7.7-8 7.7-7.9-5.4 2.7-7.7 7.8-7.7 7.8-7.8 7.9-7.7 7.8z"/>
<path class="ml" d="M495.2 419.2l-5.4 2.1"/>
<path class="c7" d="M526.1 387.3l7.7-8 7.8-8 7.7-7.9 7.7-8-5.4 3.5-7.7 7.7-7.8 7.8-7.7 7.8-7.7 7.8z"/>
<path class="ml" d="M526.1 387.3l-5.4 2.7"/>
<path class="c8" d="M557 355.4l7.7-7.9 7.7-7.9 7.8-7.8 7.7-7.8-5.4 4.6-7.7 7.4-7.8 7.6-7.7 7.6-7.7 7.7z"/>
<path class="ml" d="M557 355.4l-5.4 3.5"/>
<path class="c9" d="M587.9 324l7.7-7.8 7.7-7.6 7.8-7.5 7.7-7.2-5.4 7-7.8 6.4-7.7 6.8-7.7 7.2-7.7 7.3z"/>
<path class="ml" d="M587.9 324l-5.4 4.6"/>
<path class="c10" d="M618.8 293.9l7.7-6.8 7.7-5.9 7.8-4.2 7.7-.7-5.4 11.7-7.8 0-7.7 2.7-7.7 4.5-7.7 5.7z"/>
<path class="ml" d="M618.8 293.9l-5.4 7M649.7 276.3l-5.4 11.7"/>
<path class="c1" d="M335.4 228.5l7.7 3 7.7 5.7 7.7 7.5 7.8 8.6-5.5 8.3-7.7-7.6-7.7-6.4-7.7-4.8-7.7-2.6z"/>
<path class="ml" d="M335.4 228.5l-5.4 11.7"/>
<path class="c2" d="M366.3 253.3l7.7 9.4 7.7 9.8 7.7 10.1 7.7 10.3-5.4 5.4-7.7-9.7-7.7-9.5-7.7-9.1-7.8-8.4z"/>
<path class="ml" d="M366.3 253.3l-5.5 8.3"/>
<path class="c3" d="M397.1 292.9l7.8 10.4 7.7 10.5 7.7 10.6 7.7 10.7-5.4 4-7.7-10.4-7.7-10.2-7.7-10.2-7.8-10z"/>
<path class="ml" d="M397.1 292.9l-5.4 5.4"/>
<path class="c4" d="M428 335.1l7.8 10.7 7.7 10.7 7.7 10.8 7.7 10.8-5.4 2.9-7.7-10.5-7.7-10.5-7.8-10.5-7.7-10.4z"/>
<path class="ml" d="M428 335.1l-5.4 4"/>
<path class="c5" d="M458.9 378.1l7.7 10.8 7.8 10.8 7.7 10.8 7.7 10.8-5.4 2.1-7.7-10.6-7.7-10.6-7.8-10.6-7.7-10.6z"/>
<path class="ml" d="M458.9 378.1l-5.4 2.9"/>
<path class="c6" d="M489.8 421.3l7.7-7.8 7.8-7.9 7.7-7.8 7.7-7.8-5.4 2.9-7.7 7.6-7.8 7.7-7.7 7.6-7.7 7.6z"/>
<path class="ml" d="M489.8 421.3l-5.4 2.1"/>
<path class="c7" d="M520.7 390l7.7-7.8 7.7-7.8 7.8-7.8 7.7-7.7-5.4 4-7.7 7.4-7.8 7.5-7.7 7.6-7.7 7.5z"/>
<path class="ml" d="M520.7 390l-5.4 2.9"/>
<path class="c8" d="M551.6 358.9l7.7-7.7 7.7-7.6 7.8-7.6 7.7-7.4-5.4 5.4-7.8 7-7.7 7.2-7.7 7.3-7.7 7.4z"/>
<path class="ml" d="M551.6 358.9l-5.4 4"/>
<path class="c9" d="M582.5 328.6l7.7-7.3 7.7-7.2 7.7-6.8 7.8-6.4-5.4 8.3-7.8 5.5-7.7 6.1-7.7 6.5-7.7 6.7z"/>
<path class="ml" d="M582.5 328.6l-5.4 5.4"/>
<path class="c10" d="M613.4 300.9l7.7-5.7 7.7-4.5 7.7-2.7 7.8 0-5.5 11.7-7.7-.4-7.7 1.8-7.7 3.4-7.7 4.7z"/>
<path class="ml" d="M613.4 300.9l-5.4 8.3M644.3 288l-5.5 11.7"/>
<path class="c11" d="M330 240.2l7.7 2.6 7.7 4.8 7.7 6.4 7.7 7.6-5.4 9.1-7.7-6.8-7.7-5.5-7.7-4.1-7.8-2.4z"/>
<path class="ml" d="M330 240.2l7.7 2.6 7.7 4.8 7.7 6.4 7.7 7.6M330 240.2l-5.5 11.7"/>
<path class="c12" d="M360.8 261.6l7.8 8.4 7.7 9.1 7.7 9.5 7.7 9.7-5.4 6.3-7.7-9.2-7.7-8.8-7.7-8.3-7.8-7.6z"/>
<path class="ml" d="M360.8 261.6l7.8 8.4 7.7 9.1 7.7 9.5 7.7 9.7M360.8 261.6l-5.4 9.1"/>
<path class="c13" d="M391.7 298.3l7.8 10 7.7 10.2 7.7 10.2 7.7 10.4-5.4 4.4-7.7-9.9-7.7-9.9-7.8-9.7-7.7-9.4z"/>
<path class="ml" d="M391.7 298.3l7.8 10 7.7 10.2 7.7 10.2 7.7 10.4M391.7 298.3l-5.4 6.3"/>
<path class="c14" d="M422.6 339.1l7.7 10.4 7.8 10.5 7.7 10.5 7.7 10.5-5.4 3.2-7.7-10.2-7.7-10.3-7.8-10.1-7.7-10.1z"/>
<path class="ml" d="M422.6 339.1l7.7 10.4 7.8 10.5 7.7 10.5 7.7 10.5M422.6 339.1l-5.4 4.4"/>
<path class="c15" d="M453.5 381l7.7 10.6 7.8 10.6 7.7 10.6 7.7 10.6-5.4 2.1-7.7-10.3-7.8-10.4-7.7-10.3-7.7-10.3z"/>
<path class="ml" d="M453.5 381l7.7 10.6 7.8 10.6 7.7 10.6 7.7 10.6M453.5 381l-5.4 3.2"/>
<path class="c16" d="M484.4 423.4l7.7-7.6 7.7-7.6 7.8-7.7 7.7-7.6-5.4 3.2-7.7 7.3-7.8 7.4-7.7 7.4-7.7 7.3z"/>
<path class="ml" d="M484.4 423.4l7.7-7.6 7.7-7.6 7.8-7.7 7.7-7.6M484.4 423.4l-5.4 2.1"/>
<path class="c17" d="M515.3 392.9l7.7-7.5 7.7-7.6 7.8-7.5 7.7-7.4-5.4 4.4-7.8 7.1-7.7 7.2-7.7 7.2-7.7 7.3z"/>
<path class="ml" d="M515.3 392.9l7.7-7.5 7.7-7.6 7.8-7.5 7.7-7.4M515.3 392.9l-5.4 3.2"/>
<path class="c18" d="M546.2 362.9l7.7-7.4 7.7-7.3 7.7-7.2 7.8-7-5.4 6.3-7.8 6.5-7.7 6.7-7.7 6.8-7.7 7z"/>
<path class="ml" d="M546.2 362.9l7.7-7.4 7.7-7.3 7.7-7.2 7.8-7M546.2 362.9l-5.4 4.4"/>
<path class="c19" d="M577.1 334l7.7-6.7 7.7-6.5 7.7-6.1 7.8-5.5-5.5 9.1-7.7 4.6-7.7 5.4-7.7 5.8-7.7 6.2z"/>
<path class="ml" d="M577.1 334l7.7-6.7 7.7-6.5 7.7-6.1 7.8-5.5M577.1 334l-5.4 6.3"/>
<path class="c20" d="M608 309.2l7.7-4.7 7.7-3.4 7.7-1.8 7.7 .4-5.4 11.7-7.7-.6-7.7 1.1-7.7 2.6-7.8 3.8z"/>
<path class="ml" d="M608 309.2l7.7-4.7 7.7-3.4 7.7-1.8 7.7 .4M608 309.2l-5.5 9.1M638.8 299.7l-5.4 11.7"/>
<path class="c11" d="M324.5 251.9l7.8 2.4 7.7 4.1 7.7 5.5 7.7 6.8-5.4 9.7-7.7-6-7.7-4.9-7.8-3.7-7.7-2.2z"/>
<path class="ml" d="M324.5 251.9l-5.4 11.7"/>
<path class="c12" d="M355.4 270.7l7.8 7.6 7.7 8.3 7.7 8.8 7.7 9.2-5.4 6.9-7.7-8.6-7.7-8.1-7.8-7.6-7.7-6.8z"/>
<path class="ml" d="M355.4 270.7l-5.4 9.7"/>
<path class="c13" d="M386.3 304.6l7.7 9.4 7.8 9.7 7.7 9.9 7.7 9.9-5.4 4.9-7.7-9.5-7.8-9.4-7.7-9.1-7.7-8.9z"/>
<path class="ml" d="M386.3 304.6l-5.4 6.9"/>
<path class="c14" d="M417.2 343.5l7.7 10.1 7.8 10.1 7.7 10.3 7.7 10.2-5.4 3.4-7.7-9.9-7.8-9.8-7.7-9.8-7.7-9.7z"/>
<path class="ml" d="M417.2 343.5l-5.4 4.9"/>
<path class="c15" d="M448.1 384.2l7.7 10.3 7.7 10.3 7.8 10.4 7.7 10.3-5.4 2.2-7.7-10.1-7.8-10-7.7-10-7.7-10z"/>
<path class="ml" d="M448.1 384.2l-5.4 3.4"/>
<path class="c16" d="M479 425.5l7.7-7.3 7.7-7.4 7.8-7.4 7.7-7.3-5.4 3.4-7.8 7-7.7 7.1-7.7 7-7.7 7.1z"/>
<path class="ml" d="M479 425.5l-5.4 2.2"/>
<path class="c17" d="M509.9 396.1l7.7-7.3 7.7-7.2 7.7-7.2 7.8-7.1-5.4 4.9-7.8 6.7-7.7 6.8-7.7 6.9-7.7 6.9z"/>
<path class="ml" d="M509.9 396.1l-5.4 3.4"/>
<path class="c18" d="M540.8 367.3l7.7-7 7.7-6.8 7.7-6.7 7.8-6.5-5.5 6.9-7.7 5.9-7.7 6.2-7.7 6.4-7.7 6.5z"/>
<path class="ml" d="M540.8 367.3l-5.4 4.9"/>
<path class="c19" d="M571.7 340.3l7.7-6.2 7.7-5.8 7.7-5.4 7.7-4.6-5.4 9.7-7.7 3.9-7.7 4.6-7.7 5.1-7.8 5.6z"/>
<path class="ml" d="M571.7 340.3l-5.5 6.9"/>
<path class="c20" d="M602.5 318.3l7.8-3.8 7.7-2.6 7.7-1.1 7.7 .6-5.4 11.7-7.7-.7-7.7 .6-7.7 2-7.8 3z"/>
<path class="ml" d="M602.5 318.3l-5.4 9.7M633.4 311.4l-5.4 11.7"/>
<path class="c11" d="M319.1 263.6l7.7 2.2 7.8 3.7 7.7 4.9 7.7 6-5.4 10.1-7.7-5.4-7.7-4.4-7.8-3.3-7.7-2.1z"/>
<path class="ml" d="M319.1 263.6l-5.4 11.7"/>
<path class="c12" d="M350 280.4l7.7 6.8 7.8 7.6 7.7 8.1 7.7 8.6-5.4 7.5-7.7-8-7.8-7.4-7.7-6.9-7.7-6.2z"/>
<path class="ml" d="M350 280.4l-5.4 10.1"/>
<path class="c13" d="M380.9 311.5l7.7 8.9 7.7 9.1 7.8 9.4 7.7 9.5-5.4 5.4-7.7-9.1-7.8-8.8-7.7-8.6-7.7-8.3z"/>
<path class="ml" d="M380.9 311.5l-5.4 7.5"/>
<path class="c14" d="M411.8 348.4l7.7 9.7 7.7 9.8 7.8 9.8 7.7 9.9-5.4 3.7-7.7-9.6-7.8-9.4-7.7-9.3-7.7-9.2z"/>
<path class="ml" d="M411.8 348.4l-5.4 5.4"/>
<path class="c15" d="M442.7 387.6l7.7 10 7.7 10 7.8 10 7.7 10.1-5.4 2.1-7.8-9.7-7.7-9.6-7.7-9.7-7.7-9.5z"/>
<path class="ml" d="M442.7 387.6l-5.4 3.7"/>
<path class="c16" d="M473.6 427.7l7.7-7.1 7.7-7 7.7-7.1 7.8-7-5.4 3.7-7.8 6.6-7.7 6.6-7.7 6.7-7.7 6.7z"/>
<path class="ml" d="M473.6 427.7l-5.4 2.1"/>
<path class="c17" d="M504.5 399.5l7.7-6.9 7.7-6.9 7.7-6.8 7.8-6.7-5.5 5.4-7.7 6.2-7.7 6.4-7.7 6.4-7.7 6.6z"/>
<path class="ml" d="M504.5 399.5l-5.4 3.7"/>
<path class="c18" d="M535.4 372.2l7.7-6.5 7.7-6.4 7.7-6.2 7.7-5.9-5.4 7.5-7.7 5.3-7.7 5.6-7.7 5.9-7.8 6.1z"/>
<path class="ml" d="M535.4 372.2l-5.5 5.4"/>
<path class="c19" d="M566.2 347.2l7.8-5.6 7.7-5.1 7.7-4.6 7.7-3.9-5.4 10.1-7.7 3.2-7.7 3.9-7.7 4.5-7.8 5z"/>
<path class="ml" d="M566.2 347.2l-5.4 7.5"/>
<path class="c20" d="M597.1 328l7.8-3 7.7-2 7.7-.6 7.7 .7-5.4 11.7-7.7-.9-7.7 .4-7.8 1.4-7.7 2.4z"/>
<path class="ml" d="M597.1 328l-5.4 10.1M628 323.1l-5.4 11.7"/>
<path class="c11" d="M313.7 275.3l7.7 2.1 7.8 3.3 7.7 4.4 7.7 5.4-5.4 10.4-7.7-4.9-7.8-3.9-7.7-3.1-7.7-2z"/>
<path class="ml" d="M313.7 275.3l-5.4 11.7"/>
<path class="c12" d="M344.6 290.5l7.7 6.2 7.7 6.9 7.8 7.4 7.7 8-5.4 7.9-7.7-7.3-7.8-6.9-7.7-6.2-7.7-5.6z"/>
<path class="ml" d="M344.6 290.5l-5.4 10.4"/>
<path class="c13" d="M375.5 319l7.7 8.3 7.7 8.6 7.8 8.8 7.7 9.1-5.4 5.7-7.8-8.6-7.7-8.3-7.7-8-7.7-7.7z"/>
<path class="ml" d="M375.5 319l-5.4 7.9"/>
<path class="c14" d="M406.4 353.8l7.7 9.2 7.7 9.3 7.8 9.4 7.7 9.6-5.4 3.8-7.8-9.1-7.7-9-7.7-8.8-7.7-8.7z"/>
<path class="ml" d="M406.4 353.8l-5.4 5.7"/>
<path class="c15" d="M437.3 391.3l7.7 9.5 7.7 9.7 7.7 9.6 7.8 9.7-5.5 2.1-7.7-9.3-7.7-9.2-7.7-9.2-7.7-9.1z"/>
<path class="ml" d="M437.3 391.3l-5.4 3.8"/>
<path class="c16" d="M468.2 429.8l7.7-6.7 7.7-6.7 7.7-6.6 7.8-6.6-5.5 3.8-7.7 6.1-7.7 6.3-7.7 6.2-7.8 6.3z"/>
<path class="ml" d="M468.2 429.8l-5.5 2.1"/>
<path class="c17" d="M499.1 403.2l7.7-6.6 7.7-6.4 7.7-6.4 7.7-6.2-5.4 5.7-7.7 5.7-7.7 5.9-7.7 6-7.8 6.1z"/>
<path class="ml" d="M499.1 403.2l-5.5 3.8"/>
<path class="c18" d="M529.9 377.6l7.8-6.1 7.7-5.9 7.7-5.6 7.7-5.3-5.4 7.9-7.7 4.7-7.7 5.1-7.7 5.3-7.8 5.6z"/>
<path class="ml" d="M529.9 377.6l-5.4 5.7"/>
<path class="c19" d="M560.8 354.7l7.8-5 7.7-4.5 7.7-3.9 7.7-3.2-5.4 10.4-7.7 2.6-7.7 3.3-7.8 3.9-7.7 4.3z"/>
<path class="ml" d="M560.8 354.7l-5.4 7.9"/>
<path class="c20" d="M591.7 338.1l7.7-2.4 7.8-1.4 7.7-.4 7.7 .9-5.4 11.7-7.7-.9-7.7 0-7.8 1-7.7 1.9z"/>
<path class="ml" d="M591.7 338.1l-5.4 10.4M622.6 334.8l-5.4 11.7"/>
<path class="c21" d="M308.3 287l7.7 2 7.7 3.1 7.8 3.9 7.7 4.9-5.4 10.6-7.7-4.4-7.8-3.6-7.7-2.8-7.7-2z"/>
<path class="ml" d="M308.3 287l7.7 2 7.7 3.1 7.8 3.9 7.7 4.9M308.3 287l-5.4 11.7"/>
<path class="c22" d="M339.2 300.9l7.7 5.6 7.7 6.2 7.8 6.9 7.7 7.3-5.4 8.3-7.8-6.7-7.7-6.2-7.7-5.7-7.7-5.1z"/>
<path class="ml" d="M339.2 300.9l7.7 5.6 7.7 6.2 7.8 6.9 7.7 7.3M339.2 300.9l-5.4 10.6"/>
<path class="c23" d="M370.1 326.9l7.7 7.7 7.7 8 7.7 8.3 7.8 8.6-5.4 6-7.8-8-7.7-7.7-7.7-7.5-7.7-7.1z"/>
<path class="ml" d="M370.1 326.9l7.7 7.7 7.7 8 7.7 8.3 7.8 8.6M370.1 326.9l-5.4 8.3"/>
<path class="c24" d="M401 359.5l7.7 8.7 7.7 8.8 7.7 9 7.8 9.1-5.5 4-7.7-8.6-7.7-8.5-7.7-8.3-7.7-8.2z"/>
<path class="ml" d="M401 359.5l7.7 8.7 7.7 8.8 7.7 9 7.8 9.1M401 359.5l-5.4 6"/>
<path class="c25" d="M431.9 395.1l7.7 9.1 7.7 9.2 7.7 9.2 7.7 9.3-5.4 2.1-7.7-8.8-7.7-8.7-7.7-8.8-7.8-8.6z"/>
<path class="ml" d="M431.9 395.1l7.7 9.1 7.7 9.2 7.7 9.2 7.7 9.3M431.9 395.1l-5.5 4"/>
<path class="c26" d="M462.7 431.9l7.8-6.3 7.7-6.2 7.7-6.3 7.7-6.1-5.4 4-7.7 5.7-7.7 5.7-7.7 5.8-7.8 5.8z"/>
<path class="ml" d="M462.7 431.9l7.8-6.3 7.7-6.2 7.7-6.3 7.7-6.1M462.7 431.9l-5.4 2.1"/>
<path class="c27" d="M493.6 407l7.8-6.1 7.7-6 7.7-5.9 7.7-5.7-5.4 6-7.7 5.2-7.7 5.4-7.7 5.5-7.8 5.6z"/>
<path class="ml" d="M493.6 407l7.8-6.1 7.7-6 7.7-5.9 7.7-5.7M493.6 407l-5.4 4"/>
<path class="c28" d="M524.5 383.3l7.8-5.6 7.7-5.3 7.7-5.1 7.7-4.7-5.4 8.3-7.7 4.2-7.7 4.4-7.8 4.8-7.7 5z"/>
<path class="ml" d="M524.5 383.3l7.8-5.6 7.7-5.3 7.7-5.1 7.7-4.7M524.5 383.3l-5.4 6"/>
<path class="c29" d="M555.4 362.6l7.7-4.3 7.8-3.9 7.7-3.3 7.7-2.6-5.4 10.6-7.7 2.1-7.7 2.7-7.8 3.3-7.7 3.7z"/>
<path class="ml" d="M555.4 362.6l7.7-4.3 7.8-3.9 7.7-3.3 7.7-2.6M555.4 362.6l-5.4 8.3"/>
<path class="c30" d="M586.3 348.5l7.7-1.9 7.8-1 7.7 0 7.7 .9-5.4 11.7-7.7-1-7.8-.2-7.7 .7-7.7 1.4z"/>
<path class="ml" d="M586.3 348.5l7.7-1.9 7.8-1 7.7 0 7.7 .9M586.3 348.5l-5.4 10.6M617.2 346.5l-5.4 11.7"/>
<path class="c21" d="M302.9 298.7l7.7 2 7.7 2.8 7.8 3.6 7.7 4.4-5.4 10.7-7.8-4-7.7-3.3-7.7-2.6-7.7-1.9z"/>
<path class="ml" d="M302.9 298.7l-5.4 11.7"/>
<path class="c22" d="M333.8 311.5l7.7 5.1 7.7 5.7 7.7 6.2 7.8 6.7-5.4 8.7-7.8-6.2-7.7-5.6-7.7-5.2-7.7-4.7z"/>
<path class="ml" d="M333.8 311.5l-5.4 10.7"/>
<path class="c23" d="M364.7 335.2l7.7 7.1 7.7 7.5 7.7 7.7 7.8 8-5.5 6.4-7.7-7.4-7.7-7.2-7.7-6.9-7.7-6.5z"/>
<path class="ml" d="M364.7 335.2l-5.4 8.7"/>
<path class="c24" d="M395.6 365.5l7.7 8.2 7.7 8.3 7.7 8.5 7.7 8.6-5.4 4.2-7.7-8.1-7.7-7.9-7.7-7.8-7.8-7.6z"/>
<path class="ml" d="M395.6 365.5l-5.5 6.4"/>
<path class="c25" d="M426.4 399.1l7.8 8.6 7.7 8.8 7.7 8.7 7.7 8.8-5.4 2.1-7.7-8.2-7.7-8.3-7.7-8.2-7.8-8.1z"/>
<path class="ml" d="M426.4 399.1l-5.4 4.2"/>
<path class="c26" d="M457.3 434l7.8-5.8 7.7-5.8 7.7-5.7 7.7-5.7-5.4 4.2-7.7 5.1-7.7 5.3-7.8 5.2-7.7 5.3z"/>
<path class="ml" d="M457.3 434l-5.4 2.1"/>
<path class="c27" d="M488.2 411l7.8-5.6 7.7-5.5 7.7-5.4 7.7-5.2-5.4 6.4-7.7 4.6-7.7 4.8-7.8 5-7.7 5.1z"/>
<path class="ml" d="M488.2 411l-5.4 4.2"/>
<path class="c28" d="M519.1 389.3l7.7-5 7.8-4.8 7.7-4.4 7.7-4.2-5.4 8.7-7.7 3.6-7.7 3.8-7.8 4.2-7.7 4.5z"/>
<path class="ml" d="M519.1 389.3l-5.4 6.4"/>
<path class="c29" d="M550 370.9l7.7-3.7 7.8-3.3 7.7-2.7 7.7-2.1-5.4 10.7-7.7 1.7-7.8 2.2-7.7 2.7-7.7 3.2z"/>
<path class="ml" d="M550 370.9l-5.4 8.7"/>
<path class="c30" d="M580.9 359.1l7.7-1.4 7.7-.7 7.8 .2 7.7 1-5.4 11.7-7.7-1.1-7.8-.3-7.7 .3-7.7 1z"/>
<path class="ml" d="M580.9 359.1l-5.4 10.7M611.8 358.2l-5.4 11.7"/>
<path class="c21" d="M297.5 310.4l7.7 1.9 7.7 2.6 7.7 3.3 7.8 4-5.4 10.9-7.8-3.6-7.7-3.1-7.7-2.4-7.7-1.8z"/>
<path class="ml" d="M297.5 310.4l-5.4 11.8"/>
<path class="c22" d="M328.4 322.2l7.7 4.7 7.7 5.2 7.7 5.6 7.8 6.2-5.5 8.9-7.7-5.6-7.7-5.2-7.7-4.7-7.7-4.2z"/>
<path class="ml" d="M328.4 322.2l-5.4 10.9"/>
<path class="c23" d="M359.3 343.9l7.7 6.5 7.7 6.9 7.7 7.2 7.7 7.4-5.4 6.6-7.7-6.8-7.7-6.6-7.7-6.3-7.8-6z"/>
<path class="ml" d="M359.3 343.9l-5.5 8.9"/>
<path class="c24" d="M390.1 371.9l7.8 7.6 7.7 7.8 7.7 7.9 7.7 8.1-5.4 4.3-7.7-7.5-7.7-7.3-7.7-7.3-7.8-7z"/>
<path class="ml" d="M390.1 371.9l-5.4 6.6"/>
<path class="c25" d="M421 403.3l7.8 8.1 7.7 8.2 7.7 8.3 7.7 8.2-5.4 2.1-7.7-7.7-7.7-7.7-7.8-7.6-7.7-7.6z"/>
<path class="ml" d="M421 403.3l-5.4 4.3"/>
<path class="c26" d="M451.9 436.1l7.7-5.3 7.8-5.2 7.7-5.3 7.7-5.1-5.4 4.3-7.7 4.6-7.7 4.7-7.8 4.7-7.7 4.7z"/>
<path class="ml" d="M451.9 436.1l-5.4 2.1"/>
<path class="c27" d="M482.8 415.2l7.7-5.1 7.8-5 7.7-4.8 7.7-4.6-5.4 6.6-7.7 4.1-7.8 4.2-7.7 4.4-7.7 4.5z"/>
<path class="ml" d="M482.8 415.2l-5.4 4.3"/>
<path class="c28" d="M513.7 395.7l7.7-4.5 7.8-4.2 7.7-3.8 7.7-3.6-5.4 8.9-7.7 3-7.8 3.3-7.7 3.7-7.7 3.8z"/>
<path class="ml" d="M513.7 395.7l-5.4 6.6"/>
<path class="c29" d="M544.6 379.6l7.7-3.2 7.7-2.7 7.8-2.2 7.7-1.7-5.4 10.9-7.8 1.3-7.7 1.7-7.7 2.2-7.7 2.6z"/>
<path class="ml" d="M544.6 379.6l-5.4 8.9"/>
<path class="c30" d="M575.5 369.8l7.7-1 7.7-.3 7.8 .3 7.7 1.1-5.4 11.8-7.8-1.2-7.7-.5-7.7 .1-7.7 .6z"/>
<path class="ml" d="M575.5 369.8l-5.4 10.9M606.4 369.9l-5.4 11.8"/>
<path class="c21" d="M292.1 322.2l7.7 1.8 7.7 2.4 7.7 3.1 7.8 3.6-5.5 11-7.7-3.3-7.7-2.9-7.7-2.3-7.8-1.7z"/>
<path class="ml" d="M292.1 322.2l-5.5 11.7"/>
<path class="c22" d="M323 333.1l7.7 4.2 7.7 4.7 7.7 5.2 7.7 5.6-5.4 9.2-7.7-5.1-7.7-4.7-7.7-4.3-7.8-3.8z"/>
<path class="ml" d="M323 333.1l-5.5 11"/>
<path class="c23" d="M353.8 352.8l7.8 6 7.7 6.3 7.7 6.6 7.7 6.8-5.4 6.9-7.7-6.3-7.7-6-7.7-5.7-7.8-5.4z"/>
<path class="ml" d="M353.8 352.8l-5.4 9.2"/>
<path class="c24" d="M384.7 378.5l7.8 7 7.7 7.3 7.7 7.3 7.7 7.5-5.4 4.5-7.7-6.9-7.7-6.8-7.8-6.6-7.7-6.4z"/>
<path class="ml" d="M384.7 378.5l-5.4 6.9"/>
<path class="c25" d="M415.6 407.6l7.7 7.6 7.8 7.6 7.7 7.7 7.7 7.7-5.4 2.2-7.7-7.2-7.7-7.1-7.8-7-7.7-7z"/>
<path class="ml" d="M415.6 407.6l-5.4 4.5"/>
<path class="c26" d="M446.5 438.2l7.7-4.7 7.8-4.7 7.7-4.7 7.7-4.6-5.4 4.5-7.7 4-7.8 4.1-7.7 4.1-7.7 4.2z"/>
<path class="ml" d="M446.5 438.2l-5.4 2.2"/>
<path class="c27" d="M477.4 419.5l7.7-4.5 7.7-4.4 7.8-4.2 7.7-4.1-5.4 6.9-7.7 3.4-7.8 3.7-7.7 3.8-7.7 3.9z"/>
<path class="ml" d="M477.4 419.5l-5.4 4.5"/>
<path class="c28" d="M508.3 402.3l7.7-3.8 7.7-3.7 7.8-3.3 7.7-3-5.4 9.2-7.8 2.4-7.7 2.8-7.7 3-7.7 3.3z"/>
<path class="ml" d="M508.3 402.3l-5.4 6.9"/>
<path class="c29" d="M539.2 388.5l7.7-2.6 7.7-2.2 7.7-1.7 7.8-1.3-5.4 11-7.8 .9-7.7 1.3-7.7 1.7-7.7 2.1z"/>
<path class="ml" d="M539.2 388.5l-5.4 9.2"/>
<path class="c30" d="M570.1 380.7l7.7-.6 7.7-.1 7.7 .5 7.8 1.2-5.4 11.7-7.8-1.2-7.7-.7-7.7-.2-7.7 .4z"/>
<path class="ml" d="M570.1 380.7l-5.4 11M601 381.7l-5.4 11.7"/>
<path class="c31" d="M286.6 333.9l7.8 1.7 7.7 2.3 7.7 2.9 7.7 3.3-5.4 11.1-7.7-3.1-7.7-2.6-7.7-2.2-7.8-1.7z"/>
<path class="ml" d="M286.6 333.9l7.8 1.7 7.7 2.3 7.7 2.9 7.7 3.3M286.6 333.9l-5.4 11.7"/>
<path class="c32" d="M317.5 344.1l7.8 3.8 7.7 4.3 7.7 4.7 7.7 5.1-5.4 9.3-7.7-4.6-7.7-4.2-7.8-3.9-7.7-3.4z"/>
<path class="ml" d="M317.5 344.1l7.8 3.8 7.7 4.3 7.7 4.7 7.7 5.1M317.5 344.1l-5.4 11.1"/>
<path class="c33" d="M348.4 362l7.8 5.4 7.7 5.7 7.7 6 7.7 6.3-5.4 7.1-7.7-5.7-7.7-5.4-7.8-5.2-7.7-4.9z"/>
<path class="ml" d="M348.4 362l7.8 5.4 7.7 5.7 7.7 6 7.7 6.3M348.4 362l-5.4 9.3"/>
<path class="c34" d="M379.3 385.4l7.7 6.4 7.8 6.6 7.7 6.8 7.7 6.9-5.4 4.6-7.7-6.2-7.7-6.2-7.8-6-7.7-5.8z"/>
<path class="ml" d="M379.3 385.4l7.7 6.4 7.8 6.6 7.7 6.8 7.7 6.9M379.3 385.4l-5.4 7.1"/>
<path class="c35" d="M410.2 412.1l7.7 7 7.8 7 7.7 7.1 7.7 7.2-5.4 2.1-7.7-6.5-7.8-6.5-7.7-6.4-7.7-6.4z"/>
<path class="ml" d="M410.2 412.1l7.7 7 7.8 7 7.7 7.1 7.7 7.2M410.2 412.1l-5.4 4.6"/>
<path class="c36" d="M441.1 440.4l7.7-4.2 7.7-4.1 7.8-4.1 7.7-4-5.4 4.6-7.7 3.4-7.8 3.5-7.7 3.5-7.7 3.5z"/>
<path class="ml" d="M441.1 440.4l7.7-4.2 7.7-4.1 7.8-4.1 7.7-4M441.1 440.4l-5.4 2.1"/>
<path class="c37" d="M472 424l7.7-3.9 7.7-3.8 7.8-3.7 7.7-3.4-5.4 7.1-7.8 2.8-7.7 3.1-7.7 3.1-7.7 3.3z"/>
<path class="ml" d="M472 424l7.7-3.9 7.7-3.8 7.8-3.7 7.7-3.4M472 424l-5.4 4.6"/>
<path class="c38" d="M502.9 409.2l7.7-3.3 7.7-3 7.7-2.8 7.8-2.4-5.4 9.3-7.8 1.9-7.7 2.2-7.7 2.5-7.7 2.7z"/>
<path class="ml" d="M502.9 409.2l7.7-3.3 7.7-3 7.7-2.8 7.8-2.4M502.9 409.2l-5.4 7.1"/>
<path class="c39" d="M533.8 397.7l7.7-2.1 7.7-1.7 7.7-1.3 7.8-.9-5.5 11.1-7.7 .5-7.7 .9-7.7 1.2-7.7 1.6z"/>
<path class="ml" d="M533.8 397.7l7.7-2.1 7.7-1.7 7.7-1.3 7.8-.9M533.8 397.7l-5.4 9.3"/>
<path class="c40" d="M564.7 391.7l7.7-.4 7.7 .2 7.7 .7 7.8 1.2-5.5 11.7-7.7-1.3-7.7-.8-7.7-.3-7.8 .1z"/>
<path class="ml" d="M564.7 391.7l7.7-.4 7.7 .2 7.7 .7 7.8 1.2M564.7 391.7l-5.5 11.1M595.6 393.4l-5.5 11.7"/>
<path class="c31" d="M281.2 345.6l7.8 1.7 7.7 2.2 7.7 2.6 7.7 3.1-5.4 11.1-7.7-2.8-7.7-2.5-7.8-2-7.7-1.7z"/>
<path class="ml" d="M281.2 345.6l-5.4 11.7"/>
<path class="c32" d="M312.1 355.2l7.7 3.4 7.8 3.9 7.7 4.2 7.7 4.6-5.4 9.5-7.7-4.1-7.7-3.8-7.8-3.5-7.7-3.1z"/>
<path class="ml" d="M312.1 355.2l-5.4 11.1"/>
<path class="c33" d="M343 371.3l7.7 4.9 7.8 5.2 7.7 5.4 7.7 5.7-5.4 7.2-7.7-5-7.8-4.9-7.7-4.6-7.7-4.4z"/>
<path class="ml" d="M343 371.3l-5.4 9.5"/>
<path class="c34" d="M373.9 392.5l7.7 5.8 7.8 6 7.7 6.2 7.7 6.2-5.4 4.8-7.7-5.7-7.8-5.5-7.7-5.4-7.7-5.2z"/>
<path class="ml" d="M373.9 392.5l-5.4 7.2"/>
<path class="c35" d="M404.8 416.7l7.7 6.4 7.7 6.4 7.8 6.5 7.7 6.5-5.4 2.1-7.7-5.8-7.8-5.9-7.7-5.7-7.7-5.7z"/>
<path class="ml" d="M404.8 416.7l-5.4 4.8"/>
<path class="c36" d="M435.7 442.5l7.7-3.5 7.7-3.5 7.8-3.5 7.7-3.4-5.4 4.8-7.8 2.7-7.7 2.8-7.7 2.8-7.7 2.9z"/>
<path class="ml" d="M435.7 442.5l-5.4 2.1"/>
<path class="c37" d="M466.6 428.6l7.7-3.3 7.7-3.1 7.7-3.1 7.8-2.8-5.4 7.2-7.8 2.3-7.7 2.4-7.7 2.5-7.7 2.7z"/>
<path class="ml" d="M466.6 428.6l-5.4 4.8"/>
<path class="c38" d="M497.5 416.3l7.7-2.7 7.7-2.5 7.7-2.2 7.8-1.9-5.5 9.5-7.7 1.4-7.7 1.7-7.7 1.8-7.7 2.1z"/>
<path class="ml" d="M497.5 416.3l-5.4 7.2"/>
<path class="c39" d="M528.4 407l7.7-1.6 7.7-1.2 7.7-.9 7.7-.5-5.4 11.1-7.7 .1-7.7 .6-7.7 .8-7.8 1.1z"/>
<path class="ml" d="M528.4 407l-5.5 9.5"/>
<path class="c40" d="M559.2 402.8l7.8-.1 7.7 .3 7.7 .8 7.7 1.3-5.4 11.7-7.7-1.3-7.7-.9-7.7-.6-7.8-.1z"/>
<path class="ml" d="M559.2 402.8l-5.4 11.1M590.1 405.1l-5.4 11.7"/>
<path class="c31" d="M275.8 357.3l7.7 1.7 7.8 2 7.7 2.5 7.7 2.8-5.4 11.1-7.7-2.5-7.7-2.3-7.8-2-7.7-1.6z"/>
<path class="ml" d="M275.8 357.3l-5.4 11.7"/>
<path class="c32" d="M306.7 366.3l7.7 3.1 7.8 3.5 7.7 3.8 7.7 4.1-5.4 9.6-7.7-3.6-7.8-3.4-7.7-3.1-7.7-2.9z"/>
<path class="ml" d="M306.7 366.3l-5.4 11.1"/>
<path class="c33" d="M337.6 380.8l7.7 4.4 7.7 4.6 7.8 4.9 7.7 5-5.4 7.4-7.7-4.5-7.8-4.2-7.7-4.1-7.7-3.9z"/>
<path class="ml" d="M337.6 380.8l-5.4 9.6"/>
<path class="c34" d="M368.5 399.7l7.7 5.2 7.7 5.4 7.8 5.5 7.7 5.7-5.4 4.8-7.8-5-7.7-4.8-7.7-4.8-7.7-4.6z"/>
<path class="ml" d="M368.5 399.7l-5.4 7.4"/>
<path class="c35" d="M399.4 421.5l7.7 5.7 7.7 5.7 7.8 5.9 7.7 5.8-5.4 2.1-7.8-5.1-7.7-5.2-7.7-5.1-7.7-5z"/>
<path class="ml" d="M399.4 421.5l-5.4 4.8"/>
<path class="c36" d="M430.3 444.6l7.7-2.9 7.7-2.8 7.7-2.8 7.8-2.7-5.4 4.8-7.8 2-7.7 2.2-7.7 2.1-7.7 2.2z"/>
<path class="ml" d="M430.3 444.6l-5.4 2.1"/>
<path class="c37" d="M461.2 433.4l7.7-2.7 7.7-2.5 7.7-2.4 7.8-2.3-5.5 7.4-7.7 1.6-7.7 1.8-7.7 1.9-7.7 2z"/>
<path class="ml" d="M461.2 433.4l-5.4 4.8"/>
<path class="c38" d="M492.1 423.5l7.7-2.1 7.7-1.8 7.7-1.7 7.7-1.4-5.4 9.6-7.7 .9-7.7 1.1-7.7 1.3-7.8 1.5z"/>
<path class="ml" d="M492.1 423.5l-5.5 7.4"/>
<path class="c39" d="M522.9 416.5l7.8-1.1 7.7-.8 7.7-.6 7.7-.1-5.4 11.1-7.7-.1-7.7 .1-7.7 .5-7.8 .6z"/>
<path class="ml" d="M522.9 416.5l-5.4 9.6"/>
<path class="c40" d="M553.8 413.9l7.8 .1 7.7 .6 7.7 .9 7.7 1.3-5.4 11.7-7.7-1.3-7.7-1.1-7.8-.7-7.7-.4z"/>
<path class="ml" d="M553.8 413.9l-5.4 11.1M584.7 416.8l-5.4 11.7"/>
<path class="c31" d="M270.4 369l7.7 1.6 7.8 2 7.7 2.3 7.7 2.5-5.4 11.2-7.7-2.3-7.8-2.1-7.7-1.9-7.7-1.6z"/>
<path class="ml" d="M270.4 369l-5.4 11.7"/>
<path class="c32" d="M301.3 377.4l7.7 2.9 7.7 3.1 7.8 3.4 7.7 3.6-5.4 9.7-7.7-3.2-7.8-3-7.7-2.7-7.7-2.6z"/>
<path class="ml" d="M301.3 377.4l-5.4 11.2"/>
<path class="c33" d="M332.2 390.4l7.7 3.9 7.7 4.1 7.8 4.2 7.7 4.5-5.4 7.5-7.8-3.8-7.7-3.7-7.7-3.6-7.7-3.4z"/>
<path class="ml" d="M332.2 390.4l-5.4 9.7"/>
<path class="c34" d="M363.1 407.1l7.7 4.6 7.7 4.8 7.7 4.8 7.8 5-5.4 4.9-7.8-4.3-7.7-4.2-7.7-4.1-7.7-4z"/>
<path class="ml" d="M363.1 407.1l-5.4 7.5"/>
<path class="c35" d="M394 426.3l7.7 5 7.7 5.1 7.7 5.2 7.8 5.1-5.5 2.1-7.7-4.4-7.7-4.5-7.7-4.4-7.7-4.3z"/>
<path class="ml" d="M394 426.3l-5.4 4.9"/>
<path class="c36" d="M424.9 446.7l7.7-2.2 7.7-2.1 7.7-2.2 7.8-2-5.5 4.9-7.7 1.4-7.7 1.4-7.7 1.5-7.8 1.4z"/>
<path class="ml" d="M424.9 446.7l-5.5 2.1"/>
<path class="c37" d="M455.8 438.2l7.7-2 7.7-1.9 7.7-1.8 7.7-1.6-5.4 7.5-7.7 1-7.7 1.2-7.7 1.2-7.8 1.3z"/>
<path class="ml" d="M455.8 438.2l-5.5 4.9"/>
<path class="c38" d="M486.6 430.9l7.8-1.5 7.7-1.3 7.7-1.1 7.7-.9-5.4 9.7-7.7 .4-7.7 .6-7.7 .7-7.8 .9z"/>
<path class="ml" d="M486.6 430.9l-5.4 7.5"/>
<path class="c39" d="M517.5 426.1l7.8-.6 7.7-.5 7.7-.1 7.7 .1-5.4 11.2-7.7-.4-7.7-.2-7.8 0-7.7 .2z"/>
<path class="ml" d="M517.5 426.1l-5.4 9.7"/>
<path class="c40" d="M548.4 425l7.7 .4 7.8 .7 7.7 1.1 7.7 1.3-5.4 11.7-7.7-1.4-7.7-1.1-7.8-.9-7.7-.6z"/>
<path class="ml" d="M548.4 425l-5.4 11.2M579.3 428.5l-5.4 11.7"/>
<path class="c41" d="M265 380.7l7.7 1.6 7.7 1.9 7.8 2.1 7.7 2.3-5.4 11.2-7.7-2.1-7.8-1.9-7.7-1.8-7.7-1.6z"/>
<path class="ml" d="M265 380.7l7.7 1.6 7.7 1.9 7.8 2.1 7.7 2.3M265 380.7l-5.4 11.7"/>
<path class="c42" d="M295.9 388.6l7.7 2.6 7.7 2.7 7.8 3 7.7 3.2-5.4 9.8-7.8-2.8-7.7-2.6-7.7-2.4-7.7-2.3z"/>
<path class="ml" d="M295.9 388.6l7.7 2.6 7.7 2.7 7.8 3 7.7 3.2M295.9 388.6l-5.4 11.2"/>
<path class="c43" d="M326.8 400.1l7.7 3.4 7.7 3.6 7.7 3.7 7.8 3.8-5.4 7.6-7.8-3.2-7.7-3.2-7.7-3-7.7-2.9z"/>
<path class="ml" d="M326.8 400.1l7.7 3.4 7.7 3.6 7.7 3.7 7.8 3.8M326.8 400.1l-5.4 9.8"/>
<path class="c44" d="M357.7 414.6l7.7 4 7.7 4.1 7.7 4.2 7.8 4.3-5.5 5-7.7-3.6-7.7-3.5-7.7-3.5-7.7-3.4z"/>
<path class="ml" d="M357.7 414.6l7.7 4 7.7 4.1 7.7 4.2 7.8 4.3M357.7 414.6l-5.4 7.6"/>
<path class="c45" d="M388.6 431.2l7.7 4.3 7.7 4.4 7.7 4.5 7.7 4.4-5.4 2.1-7.7-3.7-7.7-3.7-7.7-3.7-7.8-3.6z"/>
<path class="ml" d="M388.6 431.2l7.7 4.3 7.7 4.4 7.7 4.5 7.7 4.4M388.6 431.2l-5.5 5"/>
<path class="c46" d="M419.4 448.8l7.8-1.4 7.7-1.5 7.7-1.4 7.7-1.4-5.4 5-7.7 .7-7.7 .7-7.7 .7-7.8 .7z"/>
<path class="ml" d="M419.4 448.8l7.8-1.4 7.7-1.5 7.7-1.4 7.7-1.4M419.4 448.8l-5.4 2.1"/>
<path class="c47" d="M450.3 443.1l7.8-1.3 7.7-1.2 7.7-1.2 7.7-1-5.4 7.6-7.7 .4-7.7 .5-7.8 .6-7.7 .6z"/>
<path class="ml" d="M450.3 443.1l7.8-1.3 7.7-1.2 7.7-1.2 7.7-1M450.3 443.1l-5.4 5"/>
<path class="c48" d="M481.2 438.4l7.8-.9 7.7-.7 7.7-.6 7.7-.4-5.4 9.8-7.7-.1-7.7 .1-7.8 .1-7.7 .3z"/>
<path class="ml" d="M481.2 438.4l7.8-.9 7.7-.7 7.7-.6 7.7-.4M481.2 438.4l-5.4 7.6"/>
<path class="c49" d="M512.1 435.8l7.7-.2 7.8 0 7.7 .2 7.7 .4-5.4 11.2-7.7-.7-7.7-.5-7.8-.4-7.7-.2z"/>
<path class="ml" d="M512.1 435.8l7.7-.2 7.8 0 7.7 .2 7.7 .4M512.1 435.8l-5.4 9.8"/>
<path class="c50" d="M543 436.2l7.7 .6 7.8 .9 7.7 1.1 7.7 1.4-5.4 11.7-7.7-1.4-7.8-1.2-7.7-1-7.7-.9z"/>
<path class="ml" d="M543 436.2l7.7 .6 7.8 .9 7.7 1.1 7.7 1.4M543 436.2l-5.4 11.2M573.9 440.2l-5.4 11.7"/>
<path class="c41" d="M259.6 392.4l7.7 1.6 7.7 1.8 7.8 1.9 7.7 2.1-5.4 11.2-7.8-1.9-7.7-1.8-7.7-1.6-7.7-1.6z"/>
<path class="ml" d="M259.6 392.4l-5.4 11.7"/>
<path class="c42" d="M290.5 399.8l7.7 2.3 7.7 2.4 7.7 2.6 7.8 2.8-5.4 9.8-7.8-2.3-7.7-2.2-7.7-2.2-7.7-2z"/>
<path class="ml" d="M290.5 399.8l-5.4 11.2"/>
<path class="c43" d="M321.4 409.9l7.7 2.9 7.7 3 7.7 3.2 7.8 3.2-5.5 7.7-7.7-2.7-7.7-2.5-7.7-2.6-7.7-2.4z"/>
<path class="ml" d="M321.4 409.9l-5.4 9.8"/>
<path class="c44" d="M352.3 422.2l7.7 3.4 7.7 3.5 7.7 3.5 7.7 3.6-5.4 5-7.7-2.9-7.7-2.8-7.7-2.8-7.8-2.8z"/>
<path class="ml" d="M352.3 422.2l-5.5 7.7"/>
<path class="c45" d="M383.1 436.2l7.8 3.6 7.7 3.7 7.7 3.7 7.7 3.7-5.4 2.2-7.7-3-7.7-3-7.7-3-7.8-2.9z"/>
<path class="ml" d="M383.1 436.2l-5.4 5"/>
<path class="c46" d="M414 450.9l7.8-.7 7.7-.7 7.7-.7 7.7-.7-5.4 5-7.7 0-7.7 0-7.8 0-7.7 0z"/>
<path class="ml" d="M414 450.9l-5.4 2.2"/>
<path class="c47" d="M444.9 448.1l7.7-.6 7.8-.6 7.7-.5 7.7-.4-5.4 7.7-7.7-.2-7.7-.2-7.8-.1-7.7-.1z"/>
<path class="ml" d="M444.9 448.1l-5.4 5"/>
<path class="c48" d="M475.8 446l7.7-.3 7.8-.1 7.7-.1 7.7 .1-5.4 9.8-7.7-.5-7.8-.5-7.7-.4-7.7-.3z"/>
<path class="ml" d="M475.8 446l-5.4 7.7"/>
<path class="c49" d="M506.7 445.6l7.7 .2 7.8 .4 7.7 .5 7.7 .7-5.4 11.2-7.7-.9-7.8-.9-7.7-.7-7.7-.7z"/>
<path class="ml" d="M506.7 445.6l-5.4 9.8"/>
<path class="c50" d="M537.6 447.4l7.7 .9 7.7 1 7.8 1.2 7.7 1.4-5.4 11.7-7.7-1.4-7.8-1.3-7.7-1.2-7.7-1.1z"/>
<path class="ml" d="M537.6 447.4l-5.4 11.2M568.5 451.9l-5.4 11.7"/>
<path class="c41" d="M254.2 404.1l7.7 1.6 7.7 1.6 7.7 1.8 7.8 1.9-5.4 11.3-7.8-1.7-7.7-1.7-7.7-1.5-7.7-1.6z"/>
<path class="ml" d="M254.2 404.1l-5.4 11.7"/>
<path class="c42" d="M285.1 411l7.7 2 7.7 2.2 7.7 2.2 7.8 2.3-5.5 9.9-7.7-1.9-7.7-1.9-7.7-1.8-7.7-1.7z"/>
<path class="ml" d="M285.1 411l-5.4 11.3"/>
<path class="c43" d="M316 419.7l7.7 2.4 7.7 2.6 7.7 2.5 7.7 2.7-5.4 7.7-7.7-2-7.7-2.1-7.7-2-7.8-1.9z"/>
<path class="ml" d="M316 419.7l-5.5 9.9"/>
<path class="c44" d="M346.8 429.9l7.8 2.8 7.7 2.8 7.7 2.8 7.7 2.9-5.4 5.1-7.7-2.2-7.7-2.2-7.7-2.1-7.8-2.2z"/>
<path class="ml" d="M346.8 429.9l-5.4 7.7"/>
<path class="c45" d="M377.7 441.2l7.8 2.9 7.7 3 7.7 3 7.7 3-5.4 2.1-7.7-2.3-7.7-2.2-7.8-2.2-7.7-2.2z"/>
<path class="ml" d="M377.7 441.2l-5.4 5.1"/>
<path class="c46" d="M408.6 453.1l7.7 0 7.8 0 7.7 0 7.7 0-5.4 5.1-7.7-.8-7.7-.7-7.8-.8-7.7-.7z"/>
<path class="ml" d="M408.6 453.1l-5.4 2.1"/>
<path class="c47" d="M439.5 453.1l7.7 .1 7.8 .1 7.7 .2 7.7 .2-5.4 7.7-7.7-.8-7.8-.8-7.7-.8-7.7-.8z"/>
<path class="ml" d="M439.5 453.1l-5.4 5.1"/>
<path class="c48" d="M470.4 453.7l7.7 .3 7.7 .4 7.8 .5 7.7 .5-5.4 9.9-7.7-1-7.8-1-7.7-1-7.7-.9z"/>
<path class="ml" d="M470.4 453.7l-5.4 7.7"/>
<path class="c49" d="M501.3 455.4l7.7 .7 7.7 .7 7.8 .9 7.7 .9-5.4 11.3-7.8-1.3-7.7-1.1-7.7-1.2-7.7-1z"/>
<path class="ml" d="M501.3 455.4l-5.4 9.9"/>
<path class="c50" d="M532.2 458.6l7.7 1.1 7.7 1.2 7.8 1.3 7.7 1.4-5.4 11.7-7.8-1.4-7.7-1.4-7.7-1.4-7.7-1.2z"/>
<path class="ml" d="M532.2 458.6l-5.4 11.3M563.1 463.6l-5.4 11.7"/>
<path class="c41" d="M248.8 415.8l7.7 1.6 7.7 1.5 7.7 1.7 7.8 1.7-5.5 11.2-7.7-1.5-7.7-1.5-7.7-1.5-7.8-1.4z"/>
<path class="ml" d="M248.8 415.8l-5.5 11.8"/>
<path class="c42" d="M279.7 422.3l7.7 1.7 7.7 1.8 7.7 1.9 7.7 1.9-5.4 9.8-7.7-1.4-7.7-1.5-7.7-1.5-7.8-1.5z"/>
<path class="ml" d="M279.7 422.3l-5.5 11.2"/>
<path class="c43" d="M310.5 429.6l7.8 1.9 7.7 2 7.7 2.1 7.7 2-5.4 7.8-7.7-1.5-7.7-1.5-7.7-1.5-7.8-1.5z"/>
<path class="ml" d="M310.5 429.6l-5.4 9.8"/>
<path class="c44" d="M341.4 437.6l7.8 2.2 7.7 2.1 7.7 2.2 7.7 2.2-5.4 5-7.7-1.4-7.7-1.5-7.8-1.5-7.7-1.5z"/>
<path class="ml" d="M341.4 437.6l-5.4 7.8"/>
<path class="c45" d="M372.3 446.3l7.7 2.2 7.8 2.2 7.7 2.2 7.7 2.3-5.4 2.1-7.7-1.5-7.7-1.5-7.8-1.5-7.7-1.5z"/>
<path class="ml" d="M372.3 446.3l-5.4 5"/>
<path class="c46" d="M403.2 455.2l7.7 .7 7.8 .8 7.7 .7 7.7 .8-5.4 5-7.7-1.4-7.8-1.5-7.7-1.5-7.7-1.5z"/>
<path class="ml" d="M403.2 455.2l-5.4 2.1"/>
<path class="c47" d="M434.1 458.2l7.7 .8 7.7 .8 7.8 .8 7.7 .8-5.4 7.8-7.7-1.5-7.8-1.5-7.7-1.5-7.7-1.5z"/>
<path class="ml" d="M434.1 458.2l-5.4 5"/>
<path class="c48" d="M465 461.4l7.7 .9 7.7 1 7.8 1 7.7 1-5.4 9.9-7.8-1.5-7.7-1.5-7.7-1.5-7.7-1.5z"/>
<path class="ml" d="M465 461.4l-5.4 7.8"/>
<path class="c49" d="M495.9 465.3l7.7 1 7.7 1.2 7.7 1.1 7.8 1.3-5.4 11.2-7.8-1.5-7.7-1.5-7.7-1.5-7.7-1.4z"/>
<path class="ml" d="M495.9 465.3l-5.4 9.9"/>
<path class="c50" d="M526.8 469.9l7.7 1.2 7.7 1.4 7.7 1.4 7.8 1.4-5.5 11.7-7.7-1.4-7.7-1.5-7.7-1.5-7.7-1.5z"/>
<path class="ml" d="M526.8 469.9l-5.4 11.2M557.7 475.3l-5.5 11.7"/>
<path class="c51" d="M243.3 427.6l7.8 1.4 7.7 1.5 7.7 1.5 7.7 1.5-5.4-7-7.7-1.7-7.7-1.6-7.7-1.6-7.8-1.5z"/>
<path class="ml" d="M243.3 427.6l7.8 1.4 7.7 1.5 7.7 1.5 7.7 1.5M243.3 427.6l-5.4-7.5"/>
<path class="c52" d="M274.2 433.5l7.8 1.5 7.7 1.5 7.7 1.5 7.7 1.4-5.4-5.6-7.7-1.9-7.7-1.9-7.8-1.8-7.7-1.7z"/>
<path class="ml" d="M274.2 433.5l7.8 1.5 7.7 1.5 7.7 1.5 7.7 1.4M274.2 433.5l-5.4-7"/>
<path class="c53" d="M305.1 439.4l7.8 1.5 7.7 1.5 7.7 1.5 7.7 1.5-5.4-3.5-7.7-2.1-7.7-2-7.8-2-7.7-2z"/>
<path class="ml" d="M305.1 439.4l7.8 1.5 7.7 1.5 7.7 1.5 7.7 1.5M305.1 439.4l-5.4-5.6"/>
<path class="c54" d="M336 445.4l7.7 1.5 7.8 1.5 7.7 1.5 7.7 1.4-5.4-.8-7.7-2.2-7.7-2.2-7.8-2.1-7.7-2.1z"/>
<path class="ml" d="M336 445.4l7.7 1.5 7.8 1.5 7.7 1.5 7.7 1.4M336 445.4l-5.4-3.5"/>
<path class="c55" d="M366.9 451.3l7.7 1.5 7.8 1.5 7.7 1.5 7.7 1.5-5.4 2.1-7.7-2.2-7.8-2.3-7.7-2.2-7.7-2.2z"/>
<path class="ml" d="M366.9 451.3l7.7 1.5 7.8 1.5 7.7 1.5 7.7 1.5M366.9 451.3l-5.4-.8"/>
<path class="c56" d="M397.8 457.3l7.7 1.5 7.7 1.5 7.8 1.5 7.7 1.4-5.4-.8-7.7-.8-7.8-.7-7.7-.7-7.7-.8z"/>
<path class="ml" d="M397.8 457.3l7.7 1.5 7.7 1.5 7.8 1.5 7.7 1.4M397.8 457.3l-5.4 2.1"/>
<path class="c57" d="M428.7 463.2l7.7 1.5 7.7 1.5 7.8 1.5 7.7 1.5-5.4-3.5-7.8-.9-7.7-.8-7.7-.8-7.7-.8z"/>
<path class="ml" d="M428.7 463.2l7.7 1.5 7.7 1.5 7.8 1.5 7.7 1.5M428.7 463.2l-5.4-.8"/>
<path class="c58" d="M459.6 469.2l7.7 1.5 7.7 1.5 7.7 1.5 7.8 1.5-5.4-5.7-7.8-1-7.7-1-7.7-.9-7.7-.9z"/>
<path class="ml" d="M459.6 469.2l7.7 1.5 7.7 1.5 7.7 1.5 7.8 1.5M459.6 469.2l-5.4-3.5"/>
<path class="c59" d="M490.5 475.2l7.7 1.4 7.7 1.5 7.7 1.5 7.8 1.5-5.5-7-7.7-1.2-7.7-1.2-7.7-1.1-7.7-1.1z"/>
<path class="ml" d="M490.5 475.2l7.7 1.4 7.7 1.5 7.7 1.5 7.8 1.5M490.5 475.2l-5.4-5.7"/>
<path class="c60" d="M521.4 481.1l7.7 1.5 7.7 1.5 7.7 1.5 7.7 1.4-5.4-7.4-7.7-1.5-7.7-1.4-7.7-1.3-7.8-1.3z"/>
<path class="ml" d="M521.4 481.1l7.7 1.5 7.7 1.5 7.7 1.5 7.7 1.4M521.4 481.1l-5.5-7M552.2 487l-5.4-7.4"/>
<path class="c51" d="M237.9 420.1l7.8 1.5 7.7 1.6 7.7 1.6 7.7 1.7-5.4-7-7.7-1.9-7.7-1.8-7.8-1.7-7.7-1.5z"/>
<path class="ml" d="M237.9 420.1l-5.4-7.5"/>
<path class="c52" d="M268.8 426.5l7.7 1.7 7.8 1.8 7.7 1.9 7.7 1.9-5.4-5.6-7.7-2.3-7.7-2.3-7.8-2.1-7.7-2z"/>
<path class="ml" d="M268.8 426.5l-5.4-7"/>
<path class="c53" d="M299.7 433.8l7.7 2 7.8 2 7.7 2 7.7 2.1-5.4-3.5-7.7-2.7-7.7-2.6-7.8-2.5-7.7-2.4z"/>
<path class="ml" d="M299.7 433.8l-5.4-5.6"/>
<path class="c54" d="M330.6 441.9l7.7 2.1 7.8 2.1 7.7 2.2 7.7 2.2-5.4-.8-7.7-2.9-7.8-2.9-7.7-2.8-7.7-2.7z"/>
<path class="ml" d="M330.6 441.9l-5.4-3.5"/>
<path class="c55" d="M361.5 450.5l7.7 2.2 7.7 2.2 7.8 2.3 7.7 2.2-5.4 2.1-7.7-3-7.8-2.9-7.7-3-7.7-2.9z"/>
<path class="ml" d="M361.5 450.5l-5.4-.8"/>
<path class="c56" d="M392.4 459.4l7.7 .8 7.7 .7 7.8 .7 7.7 .8-5.4-.8-7.8-.1-7.7 0-7.7 0-7.7 0z"/>
<path class="ml" d="M392.4 459.4l-5.4 2.1"/>
<path class="c57" d="M423.3 462.4l7.7 .8 7.7 .8 7.7 .8 7.8 .9-5.4-3.5-7.8-.2-7.7-.2-7.7-.1-7.7-.1z"/>
<path class="ml" d="M423.3 462.4l-5.4-.8"/>
<path class="c58" d="M454.2 465.7l7.7 .9 7.7 .9 7.7 1 7.8 1-5.5-5.6-7.7-.6-7.7-.4-7.7-.4-7.7-.3z"/>
<path class="ml" d="M454.2 465.7l-5.4-3.5"/>
<path class="c59" d="M485.1 469.5l7.7 1.1 7.7 1.1 7.7 1.2 7.7 1.2-5.4-7-7.7-1-7.7-.8-7.7-.8-7.8-.6z"/>
<path class="ml" d="M485.1 469.5l-5.5-5.6"/>
<path class="c60" d="M515.9 474.1l7.8 1.3 7.7 1.3 7.7 1.4 7.7 1.5-5.4-7.5-7.7-1.4-7.7-1.3-7.7-1.2-7.8-1.1z"/>
<path class="ml" d="M515.9 474.1l-5.4-7M546.8 479.6l-5.4-7.5"/>
<path class="c51" d="M232.5 412.6l7.7 1.5 7.8 1.7 7.7 1.8 7.7 1.9-5.4-7-7.7-2.1-7.7-1.9-7.8-1.8-7.7-1.6z"/>
<path class="ml" d="M232.5 412.6l-5.4-7.5"/>
<path class="c52" d="M263.4 419.5l7.7 2 7.8 2.1 7.7 2.3 7.7 2.3-5.4-5.6-7.7-2.8-7.8-2.6-7.7-2.4-7.7-2.3z"/>
<path class="ml" d="M263.4 419.5l-5.4-7"/>
<path class="c53" d="M294.3 428.2l7.7 2.4 7.8 2.5 7.7 2.6 7.7 2.7-5.4-3.5-7.7-3.2-7.8-3.2-7.7-3-7.7-2.9z"/>
<path class="ml" d="M294.3 428.2l-5.4-5.6"/>
<path class="c54" d="M325.2 438.4l7.7 2.7 7.7 2.8 7.8 2.9 7.7 2.9-5.4-.8-7.8-3.6-7.7-3.5-7.7-3.5-7.7-3.4z"/>
<path class="ml" d="M325.2 438.4l-5.4-3.5"/>
<path class="c55" d="M356.1 449.7l7.7 2.9 7.7 3 7.8 2.9 7.7 3-5.4 2.2-7.8-3.8-7.7-3.7-7.7-3.7-7.7-3.6z"/>
<path class="ml" d="M356.1 449.7l-5.4-.8"/>
<path class="c56" d="M387 461.5l7.7 0 7.7 0 7.7 0 7.8 .1-5.4-.8-7.8 .7-7.7 .7-7.7 .7-7.7 .8z"/>
<path class="ml" d="M387 461.5l-5.4 2.2"/>
<path class="c57" d="M417.9 461.6l7.7 .1 7.7 .1 7.7 .2 7.8 .2-5.5-3.5-7.7 .4-7.7 .5-7.7 .6-7.7 .6z"/>
<path class="ml" d="M417.9 461.6l-5.4-.8"/>
<path class="c58" d="M448.8 462.2l7.7 .3 7.7 .4 7.7 .4 7.7 .6-5.4-5.6-7.7-.1-7.7 .1-7.7 .2-7.8 .2z"/>
<path class="ml" d="M448.8 462.2l-5.5-3.5"/>
<path class="c59" d="M479.6 463.9l7.8 .6 7.7 .8 7.7 .8 7.7 1-5.4-7-7.7-.7-7.7-.5-7.7-.4-7.8-.2z"/>
<path class="ml" d="M479.6 463.9l-5.4-5.6"/>
<path class="c60" d="M510.5 467.1l7.8 1.1 7.7 1.2 7.7 1.3 7.7 1.4-5.4-7.5-7.7-1.4-7.7-1.2-7.8-1-7.7-.9z"/>
<path class="ml" d="M510.5 467.1l-5.4-7M541.4 472.1l-5.4-7.5"/>
<path class="c51" d="M227.1 405.1l7.7 1.6 7.8 1.8 7.7 1.9 7.7 2.1-5.4-7-7.7-2.3-7.8-2.1-7.7-1.8-7.7-1.7z"/>
<path class="ml" d="M227.1 405.1l-5.4-7.5"/>
<path class="c52" d="M258 412.5l7.7 2.3 7.7 2.4 7.8 2.6 7.7 2.8-5.4-5.5-7.7-3.2-7.8-3-7.7-2.8-7.7-2.6z"/>
<path class="ml" d="M258 412.5l-5.4-7"/>
<path class="c53" d="M288.9 422.6l7.7 2.9 7.7 3 7.8 3.2 7.7 3.2-5.4-3.3-7.8-3.9-7.7-3.7-7.7-3.6-7.7-3.3z"/>
<path class="ml" d="M288.9 422.6l-5.4-5.5"/>
<path class="c54" d="M319.8 434.9l7.7 3.4 7.7 3.5 7.7 3.5 7.8 3.6-5.4-.8-7.8-4.2-7.7-4.2-7.7-4.1-7.7-4z"/>
<path class="ml" d="M319.8 434.9l-5.4-3.3"/>
<path class="c55" d="M350.7 448.9l7.7 3.6 7.7 3.7 7.7 3.7 7.8 3.8-5.5 2.1-7.7-4.5-7.7-4.4-7.7-4.4-7.7-4.4z"/>
<path class="ml" d="M350.7 448.9l-5.4-.8"/>
<path class="c56" d="M381.6 463.7l7.7-.8 7.7-.7 7.7-.7 7.8-.7-5.5-.8-7.7 1.4-7.7 1.4-7.7 1.5-7.8 1.5z"/>
<path class="ml" d="M381.6 463.7l-5.5 2.1"/>
<path class="c57" d="M412.5 460.8l7.7-.6 7.7-.6 7.7-.5 7.7-.4-5.4-3.3-7.7 1-7.7 1.1-7.7 1.2-7.8 1.3z"/>
<path class="ml" d="M412.5 460.8l-5.5-.8"/>
<path class="c58" d="M443.3 458.7l7.8-.2 7.7-.2 7.7-.1 7.7 .1-5.4-5.5-7.7 .4-7.7 .5-7.7 .8-7.8 .9z"/>
<path class="ml" d="M443.3 458.7l-5.4-3.3"/>
<path class="c59" d="M474.2 458.3l7.8 .2 7.7 .4 7.7 .5 7.7 .7-5.4-7-7.7-.4-7.7-.2-7.8 0-7.7 .3z"/>
<path class="ml" d="M474.2 458.3l-5.4-5.5"/>
<path class="c60" d="M505.1 460.1l7.7 .9 7.8 1 7.7 1.2 7.7 1.4-5.4-7.5-7.7-1.3-7.7-1.1-7.8-.9-7.7-.7z"/>
<path class="ml" d="M505.1 460.1l-5.4-7M536 464.6l-5.4-7.5"/>
<path class="c61" d="M221.7 397.6l7.7 1.7 7.7 1.8 7.8 2.1 7.7 2.3-5.4-6.9-7.7-2.6-7.8-2.2-7.7-2-7.7-1.6z"/>
<path class="ml" d="M221.7 397.6l7.7 1.7 7.7 1.8 7.8 2.1 7.7 2.3M221.7 397.6l-5.4-7.4"/>
<path class="c62" d="M252.6 405.5l7.7 2.6 7.7 2.8 7.8 3 7.7 3.2-5.4-5.5-7.8-3.6-7.7-3.4-7.7-3.2-7.7-2.8z"/>
<path class="ml" d="M252.6 405.5l7.7 2.6 7.7 2.8 7.8 3 7.7 3.2M252.6 405.5l-5.4-6.9"/>
<path class="c63" d="M283.5 417.1l7.7 3.3 7.7 3.6 7.7 3.7 7.8 3.9-5.4-3.3-7.8-4.5-7.7-4.3-7.7-4-7.7-3.9z"/>
<path class="ml" d="M283.5 417.1l7.7 3.3 7.7 3.6 7.7 3.7 7.8 3.9M283.5 417.1l-5.4-5.5"/>
<path class="c64" d="M314.4 431.6l7.7 4 7.7 4.1 7.7 4.2 7.8 4.2-5.5-.6-7.7-5-7.7-4.9-7.7-4.7-7.7-4.6z"/>
<path class="ml" d="M314.4 431.6l7.7 4 7.7 4.1 7.7 4.2 7.8 4.2M314.4 431.6l-5.4-3.3"/>
<path class="c65" d="M345.3 448.1l7.7 4.4 7.7 4.4 7.7 4.4 7.7 4.5-5.4 2.1-7.7-5.2-7.7-5.1-7.7-5.1-7.8-5z"/>
<path class="ml" d="M345.3 448.1l7.7 4.4 7.7 4.4 7.7 4.4 7.7 4.5M345.3 448.1l-5.5-.6"/>
<path class="c66" d="M376.1 465.8l7.8-1.5 7.7-1.5 7.7-1.4 7.7-1.4-5.4-.6-7.7 2-7.7 2.1-7.7 2.2-7.8 2.2z"/>
<path class="ml" d="M376.1 465.8l7.8-1.5 7.7-1.5 7.7-1.4 7.7-1.4M376.1 465.8l-5.4 2.1"/>
<path class="c67" d="M407 460l7.8-1.3 7.7-1.2 7.7-1.1 7.7-1-5.4-3.3-7.7 1.6-7.7 1.8-7.8 1.9-7.7 2z"/>
<path class="ml" d="M407 460l7.8-1.3 7.7-1.2 7.7-1.1 7.7-1M407 460l-5.4-.6"/>
<path class="c68" d="M437.9 455.4l7.8-.9 7.7-.8 7.7-.5 7.7-.4-5.4-5.5-7.7 .9-7.7 1.1-7.8 1.3-7.7 1.5z"/>
<path class="ml" d="M437.9 455.4l7.8-.9 7.7-.8 7.7-.5 7.7-.4M437.9 455.4l-5.4-3.3"/>
<path class="c69" d="M468.8 452.8l7.7-.3 7.8 0 7.7 .2 7.7 .4-5.4-6.9-7.7-.1-7.7 .1-7.8 .4-7.7 .7z"/>
<path class="ml" d="M468.8 452.8l7.7-.3 7.8 0 7.7 .2 7.7 .4M468.8 452.8l-5.4-5.5"/>
<path class="c70" d="M499.7 453.1l7.7 .7 7.8 .9 7.7 1.1 7.7 1.3-5.4-7.4-7.7-1.4-7.8-1-7.7-.7-7.7-.4z"/>
<path class="ml" d="M499.7 453.1l7.7 .7 7.8 .9 7.7 1.1 7.7 1.3M499.7 453.1l-5.4-6.9M530.6 457.1l-5.4-7.4"/>
<path class="c61" d="M216.3 390.2l7.7 1.6 7.7 2 7.8 2.2 7.7 2.6-5.4-6.9-7.8-2.8-7.7-2.5-7.7-2-7.7-1.7z"/>
<path class="ml" d="M216.3 390.2l-5.4-7.5"/>
<path class="c62" d="M247.2 398.6l7.7 2.8 7.7 3.2 7.7 3.4 7.8 3.6-5.4-5.4-7.8-4.1-7.7-3.8-7.7-3.5-7.7-3.1z"/>
<path class="ml" d="M247.2 398.6l-5.4-6.9"/>
<path class="c63" d="M278.1 411.6l7.7 3.9 7.7 4 7.7 4.3 7.8 4.5-5.5-3.2-7.7-5-7.7-4.9-7.7-4.6-7.7-4.4z"/>
<path class="ml" d="M278.1 411.6l-5.4-5.4"/>
<path class="c64" d="M309 428.3l7.7 4.6 7.7 4.7 7.7 4.9 7.7 5-5.4-.6-7.7-5.7-7.7-5.5-7.7-5.4-7.8-5.2z"/>
<path class="ml" d="M309 428.3l-5.5-3.2"/>
<path class="c65" d="M339.8 447.5l7.8 5 7.7 5.1 7.7 5.1 7.7 5.2-5.4 2.1-7.7-5.8-7.7-5.9-7.7-5.7-7.8-5.7z"/>
<path class="ml" d="M339.8 447.5l-5.4-.6"/>
<path class="c66" d="M370.7 467.9l7.8-2.2 7.7-2.2 7.7-2.1 7.7-2-5.4-.6-7.7 2.7-7.7 2.8-7.8 2.8-7.7 2.9z"/>
<path class="ml" d="M370.7 467.9l-5.4 2.1"/>
<path class="c67" d="M401.6 459.4l7.7-2 7.8-1.9 7.7-1.8 7.7-1.6-5.4-3.2-7.7 2.3-7.7 2.4-7.8 2.5-7.7 2.7z"/>
<path class="ml" d="M401.6 459.4l-5.4-.6"/>
<path class="c68" d="M432.5 452.1l7.7-1.5 7.8-1.3 7.7-1.1 7.7-.9-5.4-5.4-7.7 1.4-7.7 1.7-7.8 1.8-7.7 2.1z"/>
<path class="ml" d="M432.5 452.1l-5.4-3.2"/>
<path class="c69" d="M463.4 447.3l7.7-.7 7.8-.4 7.7-.1 7.7 .1-5.4-6.9-7.7 .2-7.8 .5-7.7 .8-7.7 1.1z"/>
<path class="ml" d="M463.4 447.3l-5.4-5.4"/>
<path class="c70" d="M494.3 446.2l7.7 .4 7.7 .7 7.8 1 7.7 1.4-5.4-7.5-7.7-1.3-7.8-.9-7.7-.5-7.7-.2z"/>
<path class="ml" d="M494.3 446.2l-5.4-6.9M525.2 449.7l-5.4-7.5"/>
<path class="c61" d="M210.9 382.7l7.7 1.7 7.7 2 7.7 2.5 7.8 2.8-5.4-6.9-7.8-3.1-7.7-2.6-7.7-2.2-7.7-1.7z"/>
<path class="ml" d="M210.9 382.7l-5.4-7.5"/>
<path class="c62" d="M241.8 391.7l7.7 3.1 7.7 3.5 7.7 3.8 7.8 4.1-5.5-5.2-7.7-4.6-7.7-4.2-7.7-3.9-7.7-3.5z"/>
<path class="ml" d="M241.8 391.7l-5.4-6.9"/>
<path class="c63" d="M272.7 406.2l7.7 4.4 7.7 4.6 7.7 4.9 7.7 5-5.4-3-7.7-5.6-7.7-5.5-7.7-5.1-7.8-4.9z"/>
<path class="ml" d="M272.7 406.2l-5.5-5.2"/>
<path class="c64" d="M303.5 425.1l7.8 5.2 7.7 5.4 7.7 5.5 7.7 5.7-5.4-.5-7.7-6.3-7.7-6.2-7.7-6-7.8-5.8z"/>
<path class="ml" d="M303.5 425.1l-5.4-3"/>
<path class="c65" d="M334.4 446.9l7.8 5.7 7.7 5.7 7.7 5.9 7.7 5.8-5.4 2.1-7.7-6.5-7.7-6.4-7.8-6.5-7.7-6.3z"/>
<path class="ml" d="M334.4 446.9l-5.4-.5"/>
<path class="c66" d="M365.3 470l7.7-2.9 7.8-2.8 7.7-2.8 7.7-2.7-5.4-.5-7.7 3.4-7.7 3.4-7.8 3.5-7.7 3.5z"/>
<path class="ml" d="M365.3 470l-5.4 2.1"/>
<path class="c67" d="M396.2 458.8l7.7-2.7 7.8-2.5 7.7-2.4 7.7-2.3-5.4-3-7.7 2.9-7.8 3-7.7 3.2-7.7 3.3z"/>
<path class="ml" d="M396.2 458.8l-5.4-.5"/>
<path class="c68" d="M427.1 448.9l7.7-2.1 7.8-1.8 7.7-1.7 7.7-1.4-5.4-5.2-7.7 1.9-7.8 2.2-7.7 2.4-7.7 2.7z"/>
<path class="ml" d="M427.1 448.9l-5.4-3"/>
<path class="c69" d="M458 441.9l7.7-1.1 7.7-.8 7.8-.5 7.7-.2-5.4-6.9-7.8 .5-7.7 .9-7.7 1.3-7.7 1.6z"/>
<path class="ml" d="M458 441.9l-5.4-5.2"/>
<path class="c70" d="M488.9 439.3l7.7 .2 7.7 .5 7.8 .9 7.7 1.3-5.4-7.5-7.8-1.2-7.7-.8-7.7-.4-7.7 .1z"/>
<path class="ml" d="M488.9 439.3l-5.4-6.9M519.8 442.2l-5.4-7.5"/>
<path class="c61" d="M205.5 375.2l7.7 1.7 7.7 2.2 7.7 2.6 7.8 3.1-5.5-6.8-7.7-3.4-7.7-2.8-7.7-2.3-7.8-1.8z"/>
<path class="ml" d="M205.5 375.2l-5.5-7.5"/>
<path class="c62" d="M236.4 384.8l7.7 3.5 7.7 3.9 7.7 4.2 7.7 4.6-5.4-5.1-7.7-5.1-7.7-4.7-7.7-4.3-7.8-3.8z"/>
<path class="ml" d="M236.4 384.8l-5.5-6.8"/>
<path class="c63" d="M267.2 401l7.8 4.9 7.7 5.1 7.7 5.5 7.7 5.6-5.4-2.8-7.7-6.3-7.7-6-7.7-5.7-7.8-5.4z"/>
<path class="ml" d="M267.2 401l-5.4-5.1"/>
<path class="c64" d="M298.1 422.1l7.8 5.8 7.7 6 7.7 6.2 7.7 6.3-5.4-.4-7.7-6.9-7.7-6.8-7.8-6.6-7.7-6.4z"/>
<path class="ml" d="M298.1 422.1l-5.4-2.8"/>
<path class="c65" d="M329 446.4l7.7 6.3 7.8 6.5 7.7 6.4 7.7 6.5-5.4 2.1-7.7-7.1-7.7-7.1-7.8-7-7.7-7z"/>
<path class="ml" d="M329 446.4l-5.4-.4"/>
<path class="c66" d="M359.9 472.1l7.7-3.5 7.8-3.5 7.7-3.4 7.7-3.4-5.4-.4-7.7 4-7.8 4.1-7.7 4.1-7.7 4.1z"/>
<path class="ml" d="M359.9 472.1l-5.4 2.1"/>
<path class="c67" d="M390.8 458.3l7.7-3.3 7.7-3.2 7.8-3 7.7-2.9-5.4-2.8-7.7 3.4-7.8 3.7-7.7 3.8-7.7 3.9z"/>
<path class="ml" d="M390.8 458.3l-5.4-.4"/>
<path class="c68" d="M421.7 445.9l7.7-2.7 7.7-2.4 7.8-2.2 7.7-1.9-5.4-5.1-7.8 2.4-7.7 2.8-7.7 3-7.7 3.3z"/>
<path class="ml" d="M421.7 445.9l-5.4-2.8"/>
<path class="c69" d="M452.6 436.7l7.7-1.6 7.7-1.3 7.7-.9 7.8-.5-5.4-6.8-7.8 .8-7.7 1.3-7.7 1.8-7.7 2.1z"/>
<path class="ml" d="M452.6 436.7l-5.4-5.1"/>
<path class="c70" d="M483.5 432.4l7.7-.1 7.7 .4 7.7 .8 7.8 1.2-5.5-7.5-7.7-1.2-7.7-.6-7.7-.2-7.7 .4z"/>
<path class="ml" d="M483.5 432.4l-5.4-6.8M514.4 434.7l-5.5-7.5"/>
<path class="c71" d="M200 367.7l7.8 1.8 7.7 2.3 7.7 2.8 7.7 3.4-5.4-6.8-7.7-3.6-7.7-3.1-7.7-2.4-7.8-1.8z"/>
<path class="ml" d="M200 367.7l7.8 1.8 7.7 2.3 7.7 2.8 7.7 3.4M200 367.7l-5.4-7.4"/>
<path class="c72" d="M230.9 378l7.8 3.8 7.7 4.3 7.7 4.7 7.7 5.1-5.4-5-7.7-5.6-7.7-5.1-7.8-4.8-7.7-4.2z"/>
<path class="ml" d="M230.9 378l7.8 3.8 7.7 4.3 7.7 4.7 7.7 5.1M230.9 378l-5.4-6.8"/>
<path class="c73" d="M261.8 395.9l7.8 5.4 7.7 5.7 7.7 6 7.7 6.3-5.4-2.7-7.7-6.8-7.7-6.6-7.8-6.3-7.7-6z"/>
<path class="ml" d="M261.8 395.9l7.8 5.4 7.7 5.7 7.7 6 7.7 6.3M261.8 395.9l-5.4-5"/>
<path class="c74" d="M292.7 419.3l7.7 6.4 7.8 6.6 7.7 6.8 7.7 6.9-5.4-.3-7.7-7.5-7.7-7.3-7.8-7.2-7.7-7.1z"/>
<path class="ml" d="M292.7 419.3l7.7 6.4 7.8 6.6 7.7 6.8 7.7 6.9M292.7 419.3l-5.4-2.7"/>
<path class="c75" d="M323.6 446l7.7 7 7.8 7 7.7 7.1 7.7 7.1-5.4 2.2-7.7-7.8-7.8-7.6-7.7-7.7-7.7-7.6z"/>
<path class="ml" d="M323.6 446l7.7 7 7.8 7 7.7 7.1 7.7 7.1M323.6 446l-5.4-.3"/>
<path class="c76" d="M354.5 474.2l7.7-4.1 7.7-4.1 7.8-4.1 7.7-4-5.4-.3-7.7 4.6-7.8 4.7-7.7 4.7-7.7 4.8z"/>
<path class="ml" d="M354.5 474.2l7.7-4.1 7.7-4.1 7.8-4.1 7.7-4M354.5 474.2l-5.4 2.2"/>
<path class="c77" d="M385.4 457.9l7.7-3.9 7.7-3.8 7.8-3.7 7.7-3.4-5.4-2.7-7.8 4.1-7.7 4.2-7.7 4.4-7.7 4.5z"/>
<path class="ml" d="M385.4 457.9l7.7-3.9 7.7-3.8 7.8-3.7 7.7-3.4M385.4 457.9l-5.4-.3"/>
<path class="c78" d="M416.3 443.1l7.7-3.3 7.7-3 7.7-2.8 7.8-2.4-5.4-5-7.8 3-7.7 3.4-7.7 3.6-7.7 3.8z"/>
<path class="ml" d="M416.3 443.1l7.7-3.3 7.7-3 7.7-2.8 7.8-2.4M416.3 443.1l-5.4-2.7"/>
<path class="c79" d="M447.2 431.6l7.7-2.1 7.7-1.8 7.7-1.3 7.8-.8-5.5-6.8-7.7 1.3-7.7 1.7-7.7 2.2-7.7 2.6z"/>
<path class="ml" d="M447.2 431.6l7.7-2.1 7.7-1.8 7.7-1.3 7.8-.8M447.2 431.6l-5.4-5"/>
<path class="c80" d="M478.1 425.6l7.7-.4 7.7 .2 7.7 .6 7.7 1.2-5.4-7.4-7.7-1.2-7.7-.5-7.7 .1-7.8 .6z"/>
<path class="ml" d="M478.1 425.6l7.7-.4 7.7 .2 7.7 .6 7.7 1.2M478.1 425.6l-5.5-6.8M508.9 427.2l-5.4-7.4"/>
<path class="c71" d="M194.6 360.3l7.8 1.8 7.7 2.4 7.7 3.1 7.7 3.6-5.4-6.6-7.7-4-7.7-3.3-7.8-2.6-7.7-1.9z"/>
<path class="ml" d="M194.6 360.3l-5.4-7.5"/>
<path class="c72" d="M225.5 371.2l7.7 4.2 7.8 4.8 7.7 5.1 7.7 5.6-5.4-4.7-7.7-6.1-7.7-5.7-7.8-5.2-7.7-4.6z"/>
<path class="ml" d="M225.5 371.2l-5.4-6.6"/>
<path class="c73" d="M256.4 390.9l7.7 6 7.8 6.3 7.7 6.6 7.7 6.8-5.4-2.4-7.7-7.4-7.8-7.2-7.7-6.8-7.7-6.6z"/>
<path class="ml" d="M256.4 390.9l-5.4-4.7"/>
<path class="c74" d="M287.3 416.6l7.7 7.1 7.8 7.2 7.7 7.3 7.7 7.5-5.4-.1-7.7-8-7.8-8-7.7-7.8-7.7-7.6z"/>
<path class="ml" d="M287.3 416.6l-5.4-2.4"/>
<path class="c75" d="M318.2 445.7l7.7 7.6 7.7 7.7 7.8 7.6 7.7 7.8-5.4 2.1-7.7-8.3-7.8-8.2-7.7-8.2-7.7-8.2z"/>
<path class="ml" d="M318.2 445.7l-5.4-.1"/>
<path class="c76" d="M349.1 476.4l7.7-4.8 7.7-4.7 7.8-4.7 7.7-4.6-5.4-.1-7.8 5.2-7.7 5.2-7.7 5.3-7.7 5.3z"/>
<path class="ml" d="M349.1 476.4l-5.4 2.1"/>
<path class="c77" d="M380 457.6l7.7-4.5 7.7-4.4 7.7-4.2 7.8-4.1-5.4-2.4-7.8 4.7-7.7 4.8-7.7 4.9-7.7 5.1z"/>
<path class="ml" d="M380 457.6l-5.4-.1"/>
<path class="c78" d="M410.9 440.4l7.7-3.8 7.7-3.6 7.7-3.4 7.8-3-5.5-4.7-7.7 3.6-7.7 3.9-7.7 4.2-7.7 4.4z"/>
<path class="ml" d="M410.9 440.4l-5.4-2.4"/>
<path class="c79" d="M441.8 426.6l7.7-2.6 7.7-2.2 7.7-1.7 7.7-1.3-5.4-6.6-7.7 1.6-7.7 2.3-7.7 2.7-7.8 3.1z"/>
<path class="ml" d="M441.8 426.6l-5.5-4.7"/>
<path class="c80" d="M472.6 418.8l7.8-.6 7.7-.1 7.7 .5 7.7 1.2-5.4-7.5-7.7-1.1-7.7-.4-7.7 .4-7.8 1z"/>
<path class="ml" d="M472.6 418.8l-5.4-6.6M503.5 419.8l-5.4-7.5"/>
<path class="c71" d="M189.2 352.8l7.7 1.9 7.8 2.6 7.7 3.3 7.7 4-5.4-6.5-7.7-4.4-7.7-3.7-7.8-2.7-7.7-2z"/>
<path class="ml" d="M189.2 352.8l-5.4-7.5"/>
<path class="c72" d="M220.1 364.6l7.7 4.6 7.8 5.2 7.7 5.7 7.7 6.1-5.4-4.4-7.7-6.7-7.8-6.2-7.7-5.8-7.7-5z"/>
<path class="ml" d="M220.1 364.6l-5.4-6.5"/>
<path class="c73" d="M251 386.2l7.7 6.6 7.7 6.8 7.8 7.2 7.7 7.4-5.4-2.1-7.7-8-7.8-7.7-7.7-7.5-7.7-7.1z"/>
<path class="ml" d="M251 386.2l-5.4-4.4"/>
<path class="c74" d="M281.9 414.2l7.7 7.6 7.7 7.8 7.8 8 7.7 8-5.4 .1-7.8-8.6-7.7-8.5-7.7-8.3-7.7-8.2z"/>
<path class="ml" d="M281.9 414.2l-5.4-2.1"/>
<path class="c75" d="M312.8 445.6l7.7 8.2 7.7 8.2 7.8 8.2 7.7 8.3-5.4 2.1-7.8-8.8-7.7-8.7-7.7-8.8-7.7-8.6z"/>
<path class="ml" d="M312.8 445.6l-5.4 .1"/>
<path class="c76" d="M343.7 478.5l7.7-5.3 7.7-5.3 7.7-5.2 7.8-5.2-5.4 .1-7.8 5.7-7.7 5.7-7.7 5.8-7.7 5.8z"/>
<path class="ml" d="M343.7 478.5l-5.4 2.1"/>
<path class="c77" d="M374.6 457.5l7.7-5.1 7.7-4.9 7.7-4.8 7.8-4.7-5.5-2.1-7.7 5.2-7.7 5.4-7.7 5.5-7.7 5.6z"/>
<path class="ml" d="M374.6 457.5l-5.4 .1"/>
<path class="c78" d="M405.5 438l7.7-4.4 7.7-4.2 7.7-3.9 7.7-3.6-5.4-4.4-7.7 4.2-7.7 4.4-7.7 4.8-7.8 5z"/>
<path class="ml" d="M405.5 438l-5.5-2.1"/>
<path class="c79" d="M436.3 421.9l7.8-3.1 7.7-2.7 7.7-2.3 7.7-1.6-5.4-6.5-7.7 2.1-7.7 2.7-7.7 3.3-7.8 3.7z"/>
<path class="ml" d="M436.3 421.9l-5.4-4.4"/>
<path class="c80" d="M467.2 412.2l7.8-1 7.7-.4 7.7 .4 7.7 1.1-5.4-7.5-7.7-1-7.7-.2-7.8 .6-7.7 1.5z"/>
<path class="ml" d="M467.2 412.2l-5.4-6.5M498.1 412.3l-5.4-7.5"/>
<path class="c71" d="M183.8 345.3l7.7 2 7.8 2.7 7.7 3.7 7.7 4.4-5.4-6.4-7.7-4.9-7.8-3.9-7.7-3-7.7-2.1z"/>
<path class="ml" d="M183.8 345.3l-5.4-7.5"/>
<path class="c72" d="M214.7 358.1l7.7 5 7.7 5.8 7.8 6.2 7.7 6.7-5.4-4.1-7.7-7.3-7.8-6.8-7.7-6.3-7.7-5.6z"/>
<path class="ml" d="M214.7 358.1l-5.4-6.4"/>
<path class="c73" d="M245.6 381.8l7.7 7.1 7.7 7.5 7.8 7.7 7.7 8-5.4-1.8-7.8-8.5-7.7-8.3-7.7-8.1-7.7-7.7z"/>
<path class="ml" d="M245.6 381.8l-5.4-4.1"/>
<path class="c74" d="M276.5 412.1l7.7 8.2 7.7 8.3 7.7 8.5 7.8 8.6-5.4 .2-7.8-9.1-7.7-8.9-7.7-8.9-7.7-8.7z"/>
<path class="ml" d="M276.5 412.1l-5.4-1.8"/>
<path class="c75" d="M307.4 445.7l7.7 8.6 7.7 8.8 7.7 8.7 7.8 8.8-5.5 2.1-7.7-9.2-7.7-9.3-7.7-9.2-7.7-9.1z"/>
<path class="ml" d="M307.4 445.7l-5.4 .2"/>
<path class="c76" d="M338.3 480.6l7.7-5.8 7.7-5.8 7.7-5.7 7.8-5.7-5.5 .2-7.7 6.2-7.7 6.2-7.7 6.2-7.8 6.3z"/>
<path class="ml" d="M338.3 480.6l-5.5 2.1"/>
<path class="c77" d="M369.2 457.6l7.7-5.6 7.7-5.5 7.7-5.4 7.7-5.2-5.4-1.8-7.7 5.7-7.7 5.9-7.7 6-7.8 6.1z"/>
<path class="ml" d="M369.2 457.6l-5.5 .2"/>
<path class="c78" d="M400 435.9l7.8-5 7.7-4.8 7.7-4.4 7.7-4.2-5.4-4.1-7.7 4.7-7.7 5.1-7.7 5.3-7.8 5.6z"/>
<path class="ml" d="M400 435.9l-5.4-1.8"/>
<path class="c79" d="M430.9 417.5l7.8-3.7 7.7-3.3 7.7-2.7 7.7-2.1-5.4-6.4-7.7 2.6-7.7 3.3-7.8 3.9-7.7 4.3z"/>
<path class="ml" d="M430.9 417.5l-5.4-4.1"/>
<path class="c80" d="M461.8 405.7l7.7-1.5 7.8-.6 7.7 .2 7.7 1-5.4-7.5-7.7-.9-7.7 0-7.8 1-7.7 1.9z"/>
<path class="ml" d="M461.8 405.7l-5.4-6.4M492.7 404.8l-5.4-7.5"/>
<path class="c81" d="M178.4 337.8l7.7 2.1 7.7 3 7.8 3.9 7.7 4.9-5.4-6.2-7.7-5.3-7.8-4.4-7.7-3.3-7.7-2.1z"/>
<path class="ml" d="M178.4 337.8l7.7 2.1 7.7 3 7.8 3.9 7.7 4.9M178.4 337.8l-5.4-7.4"/>
<path class="c82" d="M209.3 351.7l7.7 5.6 7.7 6.3 7.8 6.8 7.7 7.3-5.4-3.7-7.8-7.9-7.7-7.5-7.7-6.9-7.7-6.2z"/>
<path class="ml" d="M209.3 351.7l7.7 5.6 7.7 6.3 7.8 6.8 7.7 7.3M209.3 351.7l-5.4-6.2"/>
<path class="c83" d="M240.2 377.7l7.7 7.7 7.7 8.1 7.7 8.3 7.8 8.5-5.4-1.5-7.8-9-7.7-8.9-7.7-8.6-7.7-8.3z"/>
<path class="ml" d="M240.2 377.7l7.7 7.7 7.7 8.1 7.7 8.3 7.8 8.5M240.2 377.7l-5.4-3.7"/>
<path class="c84" d="M271.1 410.3l7.7 8.7 7.7 8.9 7.7 8.9 7.8 9.1-5.5 .4-7.7-9.5-7.7-9.4-7.7-9.4-7.7-9.2z"/>
<path class="ml" d="M271.1 410.3l7.7 8.7 7.7 8.9 7.7 8.9 7.8 9.1M271.1 410.3l-5.4-1.5"/>
<path class="c85" d="M302 445.9l7.7 9.1 7.7 9.2 7.7 9.3 7.7 9.2-5.4 2.1-7.7-9.6-7.7-9.7-7.7-9.6-7.8-9.6z"/>
<path class="ml" d="M302 445.9l7.7 9.1 7.7 9.2 7.7 9.3 7.7 9.2M302 445.9l-5.5 .4"/>
<path class="c86" d="M332.8 482.7l7.8-6.3 7.7-6.2 7.7-6.2 7.7-6.2-5.4 .4-7.7 6.6-7.7 6.7-7.7 6.6-7.8 6.7z"/>
<path class="ml" d="M332.8 482.7l7.8-6.3 7.7-6.2 7.7-6.2 7.7-6.2M332.8 482.7l-5.4 2.1"/>
<path class="c87" d="M363.7 457.8l7.8-6.1 7.7-6 7.7-5.9 7.7-5.7-5.4-1.5-7.7 6.2-7.7 6.4-7.8 6.5-7.7 6.5z"/>
<path class="ml" d="M363.7 457.8l7.8-6.1 7.7-6 7.7-5.9 7.7-5.7M363.7 457.8l-5.4 .4"/>
<path class="c88" d="M394.6 434.1l7.8-5.6 7.7-5.3 7.7-5.1 7.7-4.7-5.4-3.7-7.7 5.3-7.7 5.7-7.8 5.8-7.7 6.1z"/>
<path class="ml" d="M394.6 434.1l7.8-5.6 7.7-5.3 7.7-5.1 7.7-4.7M394.6 434.1l-5.4-1.5"/>
<path class="c89" d="M425.5 413.4l7.7-4.3 7.8-3.9 7.7-3.3 7.7-2.6-5.4-6.2-7.7 3.2-7.7 4-7.8 4.5-7.7 4.9z"/>
<path class="ml" d="M425.5 413.4l7.7-4.3 7.8-3.9 7.7-3.3 7.7-2.6M425.5 413.4l-5.4-3.7"/>
<path class="c90" d="M456.4 399.3l7.7-1.9 7.8-1 7.7 0 7.7 .9-5.4-7.4-7.7-.9-7.8 .3-7.7 1.4-7.7 2.4z"/>
<path class="ml" d="M456.4 399.3l7.7-1.9 7.8-1 7.7 0 7.7 .9M456.4 399.3l-5.4-6.2M487.3 397.3l-5.4-7.4"/>
<path class="c81" d="M173 330.4l7.7 2.1 7.7 3.3 7.8 4.4 7.7 5.3-5.4-5.8-7.8-6-7.7-4.9-7.7-3.7-7.7-2.2z"/>
<path class="ml" d="M173 330.4l-5.4-7.5"/>
<path class="c82" d="M203.9 345.5l7.7 6.2 7.7 6.9 7.7 7.5 7.8 7.9-5.4-3.2-7.8-8.6-7.7-8.1-7.7-7.6-7.7-6.8z"/>
<path class="ml" d="M203.9 345.5l-5.4-5.8"/>
<path class="c83" d="M234.8 374l7.7 8.3 7.7 8.6 7.7 8.9 7.8 9-5.5-1.1-7.7-9.5-7.7-9.4-7.7-9.1-7.7-8.9z"/>
<path class="ml" d="M234.8 374l-5.4-3.2"/>
<path class="c84" d="M265.7 408.8l7.7 9.2 7.7 9.4 7.7 9.4 7.7 9.5-5.4 .6-7.7-9.9-7.7-9.8-7.7-9.8-7.8-9.7z"/>
<path class="ml" d="M265.7 408.8l-5.5-1.1"/>
<path class="c85" d="M296.5 446.3l7.8 9.6 7.7 9.6 7.7 9.7 7.7 9.6-5.4 2.1-7.7-10-7.7-10-7.7-10-7.8-10z"/>
<path class="ml" d="M296.5 446.3l-5.4 .6"/>
<path class="c86" d="M327.4 484.8l7.8-6.7 7.7-6.6 7.7-6.7 7.7-6.6-5.4 .6-7.7 7-7.7 7-7.8 7.1-7.7 7z"/>
<path class="ml" d="M327.4 484.8l-5.4 2.1"/>
<path class="c87" d="M358.3 458.2l7.7-6.5 7.8-6.5 7.7-6.4 7.7-6.2-5.4-1.1-7.7 6.7-7.7 6.8-7.8 6.9-7.7 6.9z"/>
<path class="ml" d="M358.3 458.2l-5.4 .6"/>
<path class="c88" d="M389.2 432.6l7.7-6.1 7.8-5.8 7.7-5.7 7.7-5.3-5.4-3.2-7.7 5.9-7.8 6.2-7.7 6.4-7.7 6.5z"/>
<path class="ml" d="M389.2 432.6l-5.4-1.1"/>
<path class="c89" d="M420.1 409.7l7.7-4.9 7.8-4.5 7.7-4 7.7-3.2-5.4-5.8-7.7 3.9-7.8 4.5-7.7 5.2-7.7 5.6z"/>
<path class="ml" d="M420.1 409.7l-5.4-3.2"/>
<path class="c90" d="M451 393.1l7.7-2.4 7.7-1.4 7.8-.3 7.7 .9-5.4-7.5-7.7-.8-7.8 .7-7.7 1.9-7.7 3.1z"/>
<path class="ml" d="M451 393.1l-5.4-5.8M481.9 389.9l-5.4-7.5"/>
<path class="c81" d="M167.6 322.9l7.7 2.2 7.7 3.7 7.7 4.9 7.8 6-5.4-5.5-7.8-6.7-7.7-5.6-7.7-4.1-7.7-2.4z"/>
<path class="ml" d="M167.6 322.9l-5.4-7.5"/>
<path class="c82" d="M198.5 339.7l7.7 6.8 7.7 7.6 7.7 8.1 7.8 8.6-5.5-2.7-7.7-9.2-7.7-8.8-7.7-8.3-7.7-7.6z"/>
<path class="ml" d="M198.5 339.7l-5.4-5.5"/>
<path class="c83" d="M229.4 370.8l7.7 8.9 7.7 9.1 7.7 9.4 7.7 9.5-5.4-.7-7.7-9.9-7.7-9.9-7.7-9.6-7.8-9.5z"/>
<path class="ml" d="M229.4 370.8l-5.5-2.7"/>
<path class="c84" d="M260.2 407.7l7.8 9.7 7.7 9.8 7.7 9.8 7.7 9.9-5.4 .9-7.7-10.3-7.7-10.2-7.7-10.2-7.8-10.1z"/>
<path class="ml" d="M260.2 407.7l-5.4-.7"/>
<path class="c85" d="M291.1 446.9l7.8 10 7.7 10 7.7 10 7.7 10-5.4 2.2-7.7-10.4-7.7-10.3-7.8-10.4-7.7-10.2z"/>
<path class="ml" d="M291.1 446.9l-5.4 .9"/>
<path class="c86" d="M322 486.9l7.7-7 7.8-7.1 7.7-7 7.7-7-5.4 .9-7.7 7.3-7.7 7.3-7.8 7.4-7.7 7.4z"/>
<path class="ml" d="M322 486.9l-5.4 2.2"/>
<path class="c87" d="M352.9 458.8l7.7-6.9 7.8-6.9 7.7-6.8 7.7-6.7-5.4-.7-7.7 7.1-7.8 7.2-7.7 7.3-7.7 7.3z"/>
<path class="ml" d="M352.9 458.8l-5.4 .9"/>
<path class="c88" d="M383.8 431.5l7.7-6.5 7.7-6.4 7.8-6.2 7.7-5.9-5.4-2.7-7.7 6.5-7.8 6.7-7.7 6.9-7.7 6.9z"/>
<path class="ml" d="M383.8 431.5l-5.4-.7"/>
<path class="c89" d="M414.7 406.5l7.7-5.6 7.7-5.2 7.8-4.5 7.7-3.9-5.4-5.5-7.8 4.7-7.7 5.3-7.7 5.8-7.7 6.2z"/>
<path class="ml" d="M414.7 406.5l-5.4-2.7"/>
<path class="c90" d="M445.6 387.3l7.7-3.1 7.7-1.9 7.8-.7 7.7 .8-5.4-7.5-7.8-.6-7.7 1.2-7.7 2.5-7.7 3.8z"/>
<path class="ml" d="M445.6 387.3l-5.4-5.5M476.5 382.4l-5.4-7.5"/>
<path class="c81" d="M162.2 315.4l7.7 2.4 7.7 4.1 7.7 5.6 7.8 6.7-5.5-4.9-7.7-7.6-7.7-6.4-7.7-4.7-7.8-2.7z"/>
<path class="ml" d="M162.2 315.4l-5.5-7.5"/>
<path class="c82" d="M193.1 334.2l7.7 7.6 7.7 8.3 7.7 8.8 7.7 9.2-5.4-2-7.7-9.8-7.7-9.4-7.7-9.1-7.8-8.5z"/>
<path class="ml" d="M193.1 334.2l-5.5-4.9"/>
<path class="c83" d="M223.9 368.1l7.8 9.5 7.7 9.6 7.7 9.9 7.7 9.9-5.4-.2-7.7-10.3-7.7-10.3-7.7-10.1-7.8-10z"/>
<path class="ml" d="M223.9 368.1l-5.4-2"/>
<path class="c84" d="M254.8 407l7.8 10.1 7.7 10.2 7.7 10.2 7.7 10.3-5.4 1-7.7-10.6-7.7-10.5-7.8-10.4-7.7-10.5z"/>
<path class="ml" d="M254.8 407l-5.4-.2"/>
<path class="c85" d="M285.7 447.8l7.7 10.2 7.8 10.4 7.7 10.3 7.7 10.4-5.4 2.1-7.7-10.6-7.7-10.6-7.8-10.6-7.7-10.6z"/>
<path class="ml" d="M285.7 447.8l-5.4 1"/>
<path class="c86" d="M316.6 489.1l7.7-7.4 7.8-7.4 7.7-7.3 7.7-7.3-5.4 1-7.7 7.6-7.8 7.6-7.7 7.6-7.7 7.7z"/>
<path class="ml" d="M316.6 489.1l-5.4 2.1"/>
<path class="c87" d="M347.5 459.7l7.7-7.3 7.7-7.3 7.8-7.2 7.7-7.1-5.4-.2-7.7 7.5-7.8 7.5-7.7 7.5-7.7 7.6z"/>
<path class="ml" d="M347.5 459.7l-5.4 1"/>
<path class="c88" d="M378.4 430.8l7.7-6.9 7.7-6.9 7.8-6.7 7.7-6.5-5.4-2-7.8 7-7.7 7.2-7.7 7.3-7.7 7.3z"/>
<path class="ml" d="M378.4 430.8l-5.4-.2"/>
<path class="c89" d="M409.3 403.8l7.7-6.2 7.7-5.8 7.7-5.3 7.8-4.7-5.4-4.9-7.8 5.5-7.7 6.1-7.7 6.5-7.7 6.8z"/>
<path class="ml" d="M409.3 403.8l-5.4-2"/>
<path class="c90" d="M440.2 381.8l7.7-3.8 7.7-2.5 7.7-1.2 7.8 .6-5.5-7.5-7.7-.3-7.7 1.8-7.7 3.4-7.7 4.6z"/>
<path class="ml" d="M440.2 381.8l-5.4-4.9M471.1 374.9l-5.5-7.5"/>
<path class="c91" d="M156.7 307.9l7.8 2.7 7.7 4.7 7.7 6.4 7.7 7.6-5.4-4-7.7-8.6-7.7-7.5-7.7-5.7-7.8-3z"/>
<path class="ml" d="M156.7 307.9l7.8 2.7 7.7 4.7 7.7 6.4 7.7 7.6M156.7 307.9l-5.4-7.4"/>
<path class="c92" d="M187.6 329.3l7.8 8.5 7.7 9.1 7.7 9.4 7.7 9.8-5.4-1.2-7.7-10.3-7.7-10.1-7.7-9.8-7.8-9.4z"/>
<path class="ml" d="M187.6 329.3l7.8 8.5 7.7 9.1 7.7 9.4 7.7 9.8M187.6 329.3l-5.4-4"/>
<path class="c93" d="M218.5 366.1l7.8 10 7.7 10.1 7.7 10.3 7.7 10.3-5.4 .3-7.7-10.7-7.7-10.6-7.8-10.5-7.7-10.4z"/>
<path class="ml" d="M218.5 366.1l7.8 10 7.7 10.1 7.7 10.3 7.7 10.3M218.5 366.1l-5.4-1.2"/>
<path class="c94" d="M249.4 406.8l7.7 10.5 7.8 10.4 7.7 10.5 7.7 10.6-5.4 1.3-7.7-10.8-7.7-10.8-7.8-10.7-7.7-10.7z"/>
<path class="ml" d="M249.4 406.8l7.7 10.5 7.8 10.4 7.7 10.5 7.7 10.6M249.4 406.8l-5.4 .3"/>
<path class="c95" d="M280.3 448.8l7.7 10.6 7.8 10.6 7.7 10.6 7.7 10.6-5.4 2.1-7.7-10.8-7.8-10.8-7.7-10.8-7.7-10.8z"/>
<path class="ml" d="M280.3 448.8l7.7 10.6 7.8 10.6 7.7 10.6 7.7 10.6M280.3 448.8l-5.4 1.3"/>
<path class="c96" d="M311.2 491.2l7.7-7.7 7.7-7.6 7.8-7.6 7.7-7.6-5.4 1.3-7.7 7.8-7.8 7.8-7.7 7.9-7.7 7.8z"/>
<path class="ml" d="M311.2 491.2l7.7-7.7 7.7-7.6 7.8-7.6 7.7-7.6M311.2 491.2l-5.4 2.1"/>
<path class="c97" d="M342.1 460.7l7.7-7.6 7.7-7.5 7.8-7.5 7.7-7.5-5.4 .3-7.8 7.7-7.7 7.8-7.7 7.8-7.7 7.8z"/>
<path class="ml" d="M342.1 460.7l7.7-7.6 7.7-7.5 7.8-7.5 7.7-7.5M342.1 460.7l-5.4 1.3"/>
<path class="c98" d="M373 430.6l7.7-7.3 7.7-7.3 7.7-7.2 7.8-7-5.4-1.2-7.8 7.4-7.7 7.6-7.7 7.6-7.7 7.7z"/>
<path class="ml" d="M373 430.6l7.7-7.3 7.7-7.3 7.7-7.2 7.8-7M373 430.6l-5.4 .3"/>
<path class="c99" d="M403.9 401.8l7.7-6.8 7.7-6.5 7.7-6.1 7.8-5.5-5.5-4-7.7 6.4-7.7 6.8-7.7 7.2-7.7 7.3z"/>
<path class="ml" d="M403.9 401.8l7.7-6.8 7.7-6.5 7.7-6.1 7.8-5.5M403.9 401.8l-5.4-1.2"/>
<path class="c100" d="M434.8 376.9l7.7-4.6 7.7-3.4 7.7-1.8 7.7 .3-5.4-7.4-7.7 0-7.7 2.7-7.7 4.5-7.8 5.7z"/>
<path class="ml" d="M434.8 376.9l7.7-4.6 7.7-3.4 7.7-1.8 7.7 .3M434.8 376.9l-5.5-4M465.6 367.4l-5.4-7.4"/>
<path class="c91" d="M151.3 300.5l7.8 3 7.7 5.7 7.7 7.5 7.7 8.6-5.4-2.8-7.7-9.7-7.7-8.9-7.8-7.2-7.7-3.7z"/>
<path class="ml" d="M151.3 300.5l-5.4-7.5"/>
<path class="c92" d="M182.2 325.3l7.8 9.4 7.7 9.8 7.7 10.1 7.7 10.3-5.4-.4-7.7-10.7-7.7-10.6-7.8-10.5-7.7-10.2z"/>
<path class="ml" d="M182.2 325.3l-5.4-2.8"/>
<path class="c93" d="M213.1 364.9l7.7 10.4 7.8 10.5 7.7 10.6 7.7 10.7-5.4 .8-7.7-10.9-7.8-10.9-7.7-10.8-7.7-10.8z"/>
<path class="ml" d="M213.1 364.9l-5.4-.4"/>
<path class="c94" d="M244 407.1l7.7 10.7 7.8 10.7 7.7 10.8 7.7 10.8-5.4 1.5-7.7-11-7.8-10.9-7.7-10.9-7.7-10.9z"/>
<path class="ml" d="M244 407.1l-5.4 .8"/>
<path class="c95" d="M274.9 450.1l7.7 10.8 7.7 10.8 7.8 10.8 7.7 10.8-5.4 2.1-7.7-10.9-7.8-11-7.7-11-7.7-10.9z"/>
<path class="ml" d="M274.9 450.1l-5.4 1.5"/>
<path class="c96" d="M305.8 493.3l7.7-7.8 7.7-7.9 7.8-7.8 7.7-7.8-5.4 1.5-7.8 8-7.7 7.9-7.7 8-7.7 8z"/>
<path class="ml" d="M305.8 493.3l-5.4 2.1"/>
<path class="c97" d="M336.7 462l7.7-7.8 7.7-7.8 7.7-7.8 7.8-7.7-5.4 .8-7.8 7.9-7.7 7.9-7.7 8-7.7 8z"/>
<path class="ml" d="M336.7 462l-5.4 1.5"/>
<path class="c98" d="M367.6 430.9l7.7-7.7 7.7-7.6 7.7-7.6 7.8-7.4-5.5-.4-7.7 7.8-7.7 7.9-7.7 7.8-7.7 8z"/>
<path class="ml" d="M367.6 430.9l-5.4 .8"/>
<path class="c99" d="M398.5 400.6l7.7-7.3 7.7-7.2 7.7-6.8 7.7-6.4-5.4-2.8-7.7 7.2-7.7 7.5-7.7 7.7-7.8 7.7z"/>
<path class="ml" d="M398.5 400.6l-5.5-.4"/>
<path class="c100" d="M429.3 372.9l7.8-5.7 7.7-4.5 7.7-2.7 7.7 0-5.4-7.5-7.7 .8-7.7 4.1-7.7 5.9-7.8 6.8z"/>
<path class="ml" d="M429.3 372.9l-5.4-2.8M460.2 360l-5.4-7.5"/>
<path class="c91" d="M145.9 293l7.7 3.7 7.8 7.2 7.7 8.9 7.7 9.7-5.4-1.1-7.7-10.7-7.7-10.4-7.8-9.3-7.7-5.5z"/>
<path class="ml" d="M145.9 293l-5.4-7.5"/>
<path class="c92" d="M176.8 322.5l7.7 10.2 7.8 10.5 7.7 10.6 7.7 10.7-5.4 .6-7.7-11-7.8-11-7.7-10.9-7.7-10.8z"/>
<path class="ml" d="M176.8 322.5l-5.4-1.1"/>
<path class="c93" d="M207.7 364.5l7.7 10.8 7.7 10.8 7.8 10.9 7.7 10.9-5.4 1.3-7.7-11.1-7.8-11-7.7-11-7.7-11z"/>
<path class="ml" d="M207.7 364.5l-5.4 .6"/>
<path class="c94" d="M238.6 407.9l7.7 10.9 7.7 10.9 7.8 10.9 7.7 11-5.4 1.7-7.8-11-7.7-11.1-7.7-11-7.7-11z"/>
<path class="ml" d="M238.6 407.9l-5.4 1.3"/>
<path class="c95" d="M269.5 451.6l7.7 10.9 7.7 11 7.8 11 7.7 10.9-5.4 2.1-7.8-11-7.7-11.1-7.7-11-7.7-11.1z"/>
<path class="ml" d="M269.5 451.6l-5.4 1.7"/>
<path class="c96" d="M300.4 495.4l7.7-8 7.7-8 7.7-7.9 7.8-8-5.4 1.7-7.8 8.1-7.7 8.1-7.7 8.1-7.7 8z"/>
<path class="ml" d="M300.4 495.4l-5.4 2.1"/>
<path class="c97" d="M331.3 463.5l7.7-8 7.7-8 7.7-7.9 7.8-7.9-5.5 1.3-7.7 8-7.7 8.1-7.7 8.1-7.7 8z"/>
<path class="ml" d="M331.3 463.5l-5.4 1.7"/>
<path class="c98" d="M362.2 431.7l7.7-8 7.7-7.8 7.7-7.9 7.7-7.8-5.4 .6-7.7 8-7.7 8.1-7.7 8-7.8 8.1z"/>
<path class="ml" d="M362.2 431.7l-5.5 1.3"/>
<path class="c99" d="M393 400.2l7.8-7.7 7.7-7.7 7.7-7.5 7.7-7.2-5.4-1.1-7.7 7.9-7.7 7.9-7.7 8-7.8 8z"/>
<path class="ml" d="M393 400.2l-5.4 .6"/>
<path class="c100" d="M423.9 370.1l7.8-6.8 7.7-5.9 7.7-4.1 7.7-.8-5.4-7.5-7.7 2.5-7.7 6.4-7.8 7.4-7.7 7.7z"/>
<path class="ml" d="M423.9 370.1l-5.4-1.1M454.8 352.5l-5.4-7.5"/>
<path class="c91" d="M140.5 285.5l7.7 5.5 7.8 9.3 7.7 10.4 7.7 10.7-5.4 1-7.7-11.1-7.8-11.1-7.7-11.1-7.7-11.1z"/>
<path class="ml" d="M140.5 285.5l-5.4-7.5M135.1 278l7.7 11.1 7.7 11.1 7.8 11.1 7.7 11.1"/>
<path class="c92" d="M171.4 321.4l7.7 10.8 7.7 10.9 7.8 11 7.7 11-5.4 1.6-7.7-11.1-7.8-11.1-7.7-11.1-7.7-11z"/>
<path class="ml" d="M171.4 321.4l-5.4 1M166 322.4l7.7 11 7.7 11.1 7.8 11.1 7.7 11.1"/>
<path class="c93" d="M202.3 365.1l7.7 11 7.7 11 7.8 11 7.7 11.1-5.4 1.8-7.8-11.1-7.7-11.1-7.7-11-7.7-11.1z"/>
<path class="ml" d="M202.3 365.1l-5.4 1.6M196.9 366.7l7.7 11.1 7.7 11 7.7 11.1 7.8 11.1"/>
<path class="c94" d="M233.2 409.2l7.7 11 7.7 11 7.7 11.1 7.8 11-5.4 2-7.8-11.1-7.7-11-7.7-11.1-7.7-11.1z"/>
<path class="ml" d="M233.2 409.2l-5.4 1.8M227.8 411l7.7 11.1 7.7 11.1 7.7 11 7.8 11.1"/>
<path class="c95" d="M264.1 453.3l7.7 11.1 7.7 11 7.7 11.1 7.8 11-5.5 2.1-7.7-11-7.7-11.1-7.7-11.1-7.7-11.1z"/>
<path class="ml" d="M264.1 453.3l-5.4 2M258.7 455.3l7.7 11.1 7.7 11.1 7.7 11.1 7.7 11"/>
<path class="c96" d="M295 497.5l7.7-8 7.7-8.1 7.7-8.1 7.8-8.1-5.5 2-7.7 8.1-7.7 8.1-7.7 8.1-7.8 8.1z"/>
<path class="ml" d="M295 497.5l-5.5 2.1M289.5 499.6l7.8-8.1 7.7-8.1 7.7-8.1 7.7-8.1"/>
<path class="c97" d="M325.9 465.2l7.7-8 7.7-8.1 7.7-8.1 7.7-8-5.4 1.8-7.7 8.1-7.7 8.1-7.7 8.1-7.8 8.1z"/>
<path class="ml" d="M325.9 465.2l-5.5 2M320.4 467.2l7.8-8.1 7.7-8.1 7.7-8.1 7.7-8.1"/>
<path class="c98" d="M356.7 433l7.8-8.1 7.7-8 7.7-8.1 7.7-8-5.4 1.6-7.7 8.1-7.7 8.1-7.7 8.1-7.8 8.1z"/>
<path class="ml" d="M356.7 433l-5.4 1.8M351.3 434.8l7.8-8.1 7.7-8.1 7.7-8.1 7.7-8.1"/>
<path class="c99" d="M387.6 400.8l7.8-8 7.7-8 7.7-7.9 7.7-7.9-5.4 1-7.7 8.1-7.7 8.1-7.8 8.1-7.7 8.1z"/>
<path class="ml" d="M387.6 400.8l-5.4 1.6M382.2 402.4l7.7-8.1 7.8-8.1 7.7-8.1 7.7-8.1"/>
<path class="c100" d="M418.5 369l7.7-7.7 7.8-7.4 7.7-6.4 7.7-2.5-5.4-7.5-7.7 8.2-7.7 8.1-7.8 8.1-7.7 8.1z"/>
<path class="ml" d="M418.5 369l-5.4 1M449.4 345l-5.4-7.5M413.1 370l7.7-8.1 7.8-8.1 7.7-8.1 7.7-8.2"/>
<path class="c101" d="M351.6 193.3l7.7-8.1 7.7-8.1 7.8-8.1 7.7-8.1-5.4 1-7.7 7.7-7.8 7.4-7.7 6.4-7.7 2.5z"/>
<path class="mu" d="M351.6 193.3l7.7-8.1 7.7-8.1 7.8-8.1 7.7-8.1M351.6 193.3l-5.4-7.4"/>
<path class="c102" d="M382.5 160.9l7.7-8.1 7.7-8.1 7.8-8.1 7.7-8.1-5.4 1.6-7.8 8-7.7 8-7.7 7.9-7.7 7.9z"/>
<path class="mu" d="M382.5 160.9l7.7-8.1 7.7-8.1 7.8-8.1 7.7-8.1M382.5 160.9l-5.4 1"/>
<path class="c103" d="M413.4 128.5l7.7-8.1 7.7-8.1 7.7-8.1 7.8-8.1-5.4 1.8-7.8 8.1-7.7 8-7.7 8.1-7.7 8z"/>
<path class="mu" d="M413.4 128.5l7.7-8.1 7.7-8.1 7.7-8.1 7.8-8.1M413.4 128.5l-5.4 1.6"/>
<path class="c104" d="M444.3 96.1l7.7-8.1 7.7-8.1 7.7-8.1 7.8-8.1-5.5 2-7.7 8-7.7 8.1-7.7 8.1-7.7 8z"/>
<path class="mu" d="M444.3 96.1l7.7-8.1 7.7-8.1 7.7-8.1 7.8-8.1M444.3 96.1l-5.4 1.8"/>
<path class="c105" d="M475.2 63.7l7.7-8.1 7.7-8.1 7.7-8.1 7.7-8.2-5.4 2.2-7.7 8-7.7 8.1-7.7 8.1-7.8 8.1z"/>
<path class="mu" d="M475.2 63.7l7.7-8.1 7.7-8.1 7.7-8.1 7.7-8.2M475.2 63.7l-5.5 2"/>
<path class="c106" d="M506 31.2l7.8 11.1 7.7 11.1 7.7 11.1 7.7 11.1-5.4 2-7.7-11.1-7.7-11-7.7-11.1-7.8-11z"/>
<path class="mu" d="M506 31.2l7.8 11.1 7.7 11.1 7.7 11.1 7.7 11.1M506 31.2l-5.4 2.2"/>
<path class="c107" d="M536.9 75.6l7.8 11 7.7 11.1 7.7 11.1 7.7 11.1-5.4 1.8-7.7-11-7.7-11-7.8-11.1-7.7-11z"/>
<path class="mu" d="M536.9 75.6l7.8 11 7.7 11.1 7.7 11.1 7.7 11.1M536.9 75.6l-5.4 2"/>
<path class="c108" d="M567.8 119.9l7.8 11.1 7.7 11 7.7 11.1 7.7 11.1-5.4 1.6-7.7-11-7.7-11-7.8-11-7.7-11.1z"/>
<path class="mu" d="M567.8 119.9l7.8 11.1 7.7 11 7.7 11.1 7.7 11.1M567.8 119.9l-5.4 1.8"/>
<path class="c109" d="M598.7 164.2l7.7 11.1 7.8 11.1 7.7 11 7.7 11.1-5.4 1-7.7-10.8-7.7-10.9-7.8-11-7.7-11z"/>
<path class="mu" d="M598.7 164.2l7.7 11.1 7.8 11.1 7.7 11 7.7 11.1M598.7 164.2l-5.4 1.6"/>
<path class="c110" d="M629.6 208.5l7.7 11.1 7.8 11.1 7.7 11.1 7.7 11-5.4-7.4-7.7-5.5-7.8-9.3-7.7-10.4-7.7-10.7z"/>
<path class="mu" d="M629.6 208.5l7.7 11.1 7.8 11.1 7.7 11.1 7.7 11M629.6 208.5l-5.4 1M660.5 252.8l-5.4-7.4"/>
<path class="c101" d="M346.2 185.9l7.7-2.5 7.7-6.4 7.8-7.4 7.7-7.7-5.4-1.1-7.8 6.8-7.7 5.9-7.7 4.1-7.7 .8z"/>
<path class="mu" d="M346.2 185.9l-5.4-7.5"/>
<path class="c102" d="M377.1 161.9l7.7-7.9 7.7-7.9 7.7-8 7.8-8-5.4 .6-7.8 7.7-7.7 7.7-7.7 7.5-7.7 7.2z"/>
<path class="mu" d="M377.1 161.9l-5.4-1.1"/>
<path class="c103" d="M408 130.1l7.7-8 7.7-8.1 7.7-8 7.8-8.1-5.5 1.3-7.7 8-7.7 7.8-7.7 7.9-7.7 7.8z"/>
<path class="mu" d="M408 130.1l-5.4 .6"/>
<path class="c104" d="M438.9 97.9l7.7-8 7.7-8.1 7.7-8.1 7.7-8-5.4 1.7-7.7 8-7.7 8-7.7 7.9-7.8 7.9z"/>
<path class="mu" d="M438.9 97.9l-5.5 1.3"/>
<path class="c105" d="M469.7 65.7l7.8-8.1 7.7-8.1 7.7-8.1 7.7-8-5.4 2.1-7.7 8-7.7 8-7.7 7.9-7.8 8z"/>
<path class="mu" d="M469.7 65.7l-5.4 1.7"/>
<path class="c106" d="M500.6 33.4l7.8 11 7.7 11.1 7.7 11 7.7 11.1-5.4 1.7-7.7-10.9-7.7-11-7.8-11-7.7-10.9z"/>
<path class="mu" d="M500.6 33.4l-5.4 2.1"/>
<path class="c107" d="M531.5 77.6l7.7 11 7.8 11.1 7.7 11 7.7 11-5.4 1.3-7.7-10.9-7.7-10.9-7.8-10.9-7.7-11z"/>
<path class="mu" d="M531.5 77.6l-5.4 1.7"/>
<path class="c108" d="M562.4 121.7l7.7 11.1 7.8 11 7.7 11 7.7 11-5.4 .6-7.7-10.8-7.8-10.8-7.7-10.9-7.7-10.9z"/>
<path class="mu" d="M562.4 121.7l-5.4 1.3"/>
<path class="c109" d="M593.3 165.8l7.7 11 7.8 11 7.7 10.9 7.7 10.8-5.4-1.1-7.7-10.2-7.8-10.5-7.7-10.6-7.7-10.7z"/>
<path class="mu" d="M593.3 165.8l-5.4 .6"/>
<path class="c110" d="M624.2 209.5l7.7 10.7 7.7 10.4 7.8 9.3 7.7 5.5-5.4-7.5-7.7-3.7-7.8-7.2-7.7-8.9-7.7-9.7z"/>
<path class="mu" d="M624.2 209.5l-5.4-1.1M655.1 245.4l-5.4-7.5"/>
<path class="c101" d="M340.8 178.4l7.7-.8 7.7-4.1 7.7-5.9 7.8-6.8-5.4-2.8-7.8 5.7-7.7 4.5-7.7 2.7-7.7 0z"/>
<path class="mu" d="M340.8 178.4l-5.4-7.5"/>
<path class="c102" d="M371.7 160.8l7.7-7.2 7.7-7.5 7.7-7.7 7.8-7.7-5.5-.4-7.7 7.3-7.7 7.2-7.7 6.8-7.7 6.4z"/>
<path class="mu" d="M371.7 160.8l-5.4-2.8"/>
<path class="c103" d="M402.6 130.7l7.7-7.8 7.7-7.9 7.7-7.8 7.7-8-5.4 .8-7.7 7.7-7.7 7.6-7.7 7.6-7.8 7.4z"/>
<path class="mu" d="M402.6 130.7l-5.5-.4"/>
<path class="c104" d="M433.4 99.2l7.8-7.9 7.7-7.9 7.7-8 7.7-8-5.4 1.5-7.7 7.8-7.7 7.8-7.7 7.8-7.8 7.7z"/>
<path class="mu" d="M433.4 99.2l-5.4 .8"/>
<path class="c105" d="M464.3 67.4l7.8-8 7.7-7.9 7.7-8 7.7-8-5.4 2.1-7.7 7.8-7.7 7.9-7.8 7.8-7.7 7.8z"/>
<path class="mu" d="M464.3 67.4l-5.4 1.5"/>
<path class="c106" d="M495.2 35.5l7.7 10.9 7.8 11 7.7 11 7.7 10.9-5.4 1.5-7.7-10.8-7.7-10.8-7.8-10.8-7.7-10.8z"/>
<path class="mu" d="M495.2 35.5l-5.4 2.1"/>
<path class="c107" d="M526.1 79.3l7.7 11 7.8 10.9 7.7 10.9 7.7 10.9-5.4 .8-7.7-10.7-7.8-10.7-7.7-10.8-7.7-10.8z"/>
<path class="mu" d="M526.1 79.3l-5.4 1.5"/>
<path class="c108" d="M557 123l7.7 10.9 7.7 10.9 7.8 10.8 7.7 10.8-5.4-.4-7.7-10.4-7.8-10.5-7.7-10.6-7.7-10.7z"/>
<path class="mu" d="M557 123l-5.4 .8"/>
<path class="c109" d="M587.9 166.4l7.7 10.7 7.7 10.6 7.8 10.5 7.7 10.2-5.4-2.8-7.8-9.4-7.7-9.8-7.7-10.1-7.7-10.3z"/>
<path class="mu" d="M587.9 166.4l-5.4-.4"/>
<path class="c110" d="M618.8 208.4l7.7 9.7 7.7 8.9 7.8 7.2 7.7 3.7-5.4-7.5-7.8-3-7.7-5.7-7.7-7.5-7.7-8.6z"/>
<path class="mu" d="M618.8 208.4l-5.4-2.8M649.7 237.9l-5.4-7.5"/>
<path class="c101" d="M335.4 170.9l7.7 0 7.7-2.7 7.7-4.5 7.8-5.7-5.5-4-7.7 4.6-7.7 3.4-7.7 1.8-7.7-.4z"/>
<path class="mu" d="M335.4 170.9l-5.4-7.5"/>
<path class="c102" d="M366.3 158l7.7-6.4 7.7-6.8 7.7-7.2 7.7-7.3-5.4-1.2-7.7 6.8-7.7 6.5-7.7 6.1-7.8 5.5z"/>
<path class="mu" d="M366.3 158l-5.5-4"/>
<path class="c103" d="M397.1 130.3l7.8-7.4 7.7-7.6 7.7-7.6 7.7-7.7-5.4 .3-7.7 7.3-7.7 7.3-7.7 7.2-7.8 7z"/>
<path class="mu" d="M397.1 130.3l-5.4-1.2"/>
<path class="c104" d="M428 100l7.8-7.7 7.7-7.8 7.7-7.8 7.7-7.8-5.4 1.3-7.7 7.6-7.7 7.5-7.8 7.5-7.7 7.5z"/>
<path class="mu" d="M428 100l-5.4 .3"/>
<path class="c105" d="M458.9 68.9l7.7-7.8 7.8-7.8 7.7-7.9 7.7-7.8-5.4 2.1-7.7 7.7-7.7 7.6-7.8 7.6-7.7 7.6z"/>
<path class="mu" d="M458.9 68.9l-5.4 1.3"/>
<path class="c106" d="M489.8 37.6l7.7 10.8 7.8 10.8 7.7 10.8 7.7 10.8-5.4 1.3-7.7-10.6-7.8-10.6-7.7-10.6-7.7-10.6z"/>
<path class="mu" d="M489.8 37.6l-5.4 2.1"/>
<path class="c107" d="M520.7 80.8l7.7 10.8 7.7 10.8 7.8 10.7 7.7 10.7-5.4 .3-7.7-10.5-7.8-10.4-7.7-10.5-7.7-10.6z"/>
<path class="mu" d="M520.7 80.8l-5.4 1.3"/>
<path class="c108" d="M551.6 123.8l7.7 10.7 7.7 10.6 7.8 10.5 7.7 10.4-5.4-1.2-7.8-10-7.7-10.1-7.7-10.3-7.7-10.3z"/>
<path class="mu" d="M551.6 123.8l-5.4 .3"/>
<path class="c109" d="M582.5 166l7.7 10.3 7.7 10.1 7.7 9.8 7.8 9.4-5.4-4-7.8-8.5-7.7-9.1-7.7-9.4-7.7-9.8z"/>
<path class="mu" d="M582.5 166l-5.4-1.2"/>
<path class="c110" d="M613.4 205.6l7.7 8.6 7.7 7.5 7.7 5.7 7.8 3-5.5-7.5-7.7-2.6-7.7-4.7-7.7-6.4-7.7-7.6z"/>
<path class="mu" d="M613.4 205.6l-5.4-4M644.3 230.4l-5.5-7.5"/>
<path class="c111" d="M330 163.4l7.7 .4 7.7-1.8 7.7-3.4 7.7-4.6-5.4-4.9-7.7 3.8-7.7 2.5-7.7 1.2-7.8-.6z"/>
<path class="mu" d="M330 163.4l7.7 .4 7.7-1.8 7.7-3.4 7.7-4.6M330 163.4l-5.5-7.4"/>
<path class="c112" d="M360.8 154l7.8-5.5 7.7-6.1 7.7-6.5 7.7-6.8-5.4-2-7.7 6.2-7.7 5.8-7.7 5.3-7.8 4.7z"/>
<path class="mu" d="M360.8 154l7.8-5.5 7.7-6.1 7.7-6.5 7.7-6.8M360.8 154l-5.4-4.9"/>
<path class="c113" d="M391.7 129.1l7.8-7 7.7-7.2 7.7-7.3 7.7-7.3-5.4-.2-7.7 6.9-7.7 6.9-7.8 6.7-7.7 6.5z"/>
<path class="mu" d="M391.7 129.1l7.8-7 7.7-7.2 7.7-7.3 7.7-7.3M391.7 129.1l-5.4-2"/>
<path class="c114" d="M422.6 100.3l7.7-7.5 7.8-7.5 7.7-7.5 7.7-7.6-5.4 1-7.7 7.3-7.7 7.3-7.8 7.2-7.7 7.1z"/>
<path class="mu" d="M422.6 100.3l7.7-7.5 7.8-7.5 7.7-7.5 7.7-7.6M422.6 100.3l-5.4-.2"/>
<path class="c115" d="M453.5 70.2l7.7-7.6 7.8-7.6 7.7-7.6 7.7-7.7-5.4 2.1-7.7 7.4-7.8 7.4-7.7 7.3-7.7 7.3z"/>
<path class="mu" d="M453.5 70.2l7.7-7.6 7.8-7.6 7.7-7.6 7.7-7.7M453.5 70.2l-5.4 1"/>
<path class="c116" d="M484.4 39.7l7.7 10.6 7.7 10.6 7.8 10.6 7.7 10.6-5.4 1-7.7-10.2-7.8-10.4-7.7-10.3-7.7-10.4z"/>
<path class="mu" d="M484.4 39.7l7.7 10.6 7.7 10.6 7.8 10.6 7.7 10.6M484.4 39.7l-5.4 2.1"/>
<path class="c117" d="M515.3 82.1l7.7 10.6 7.7 10.5 7.8 10.4 7.7 10.5-5.4-.2-7.8-10.1-7.7-10.2-7.7-10.2-7.7-10.3z"/>
<path class="mu" d="M515.3 82.1l7.7 10.6 7.7 10.5 7.8 10.4 7.7 10.5M515.3 82.1l-5.4 1"/>
<path class="c118" d="M546.2 124.1l7.7 10.3 7.7 10.3 7.7 10.1 7.8 10-5.4-2-7.8-9.5-7.7-9.6-7.7-9.9-7.7-9.9z"/>
<path class="mu" d="M546.2 124.1l7.7 10.3 7.7 10.3 7.7 10.1 7.8 10M546.2 124.1l-5.4-.2"/>
<path class="c119" d="M577.1 164.8l7.7 9.8 7.7 9.4 7.7 9.1 7.8 8.5-5.5-4.9-7.7-7.6-7.7-8.3-7.7-8.8-7.7-9.2z"/>
<path class="mu" d="M577.1 164.8l7.7 9.8 7.7 9.4 7.7 9.1 7.8 8.5M577.1 164.8l-5.4-2"/>
<path class="c120" d="M608 201.6l7.7 7.6 7.7 6.4 7.7 4.7 7.7 2.6-5.4-7.4-7.7-2.4-7.7-4.1-7.7-5.6-7.8-6.7z"/>
<path class="mu" d="M608 201.6l7.7 7.6 7.7 6.4 7.7 4.7 7.7 2.6M608 201.6l-5.5-4.9M638.8 222.9l-5.4-7.4"/>
<path class="c111" d="M324.5 156l7.8 .6 7.7-1.2 7.7-2.5 7.7-3.8-5.4-5.5-7.7 3.1-7.7 1.9-7.8 .7-7.7-.8z"/>
<path class="mu" d="M324.5 156l-5.4-7.5"/>
<path class="c112" d="M355.4 149.1l7.8-4.7 7.7-5.3 7.7-5.8 7.7-6.2-5.4-2.7-7.7 5.6-7.7 5.2-7.8 4.5-7.7 3.9z"/>
<path class="mu" d="M355.4 149.1l-5.4-5.5"/>
<path class="c113" d="M386.3 127.1l7.7-6.5 7.8-6.7 7.7-6.9 7.7-6.9-5.4-.7-7.7 6.5-7.8 6.4-7.7 6.2-7.7 5.9z"/>
<path class="mu" d="M386.3 127.1l-5.4-2.7"/>
<path class="c114" d="M417.2 100.1l7.7-7.1 7.8-7.2 7.7-7.3 7.7-7.3-5.4 .9-7.7 6.9-7.8 6.9-7.7 6.8-7.7 6.7z"/>
<path class="mu" d="M417.2 100.1l-5.4-.7"/>
<path class="c115" d="M448.1 71.2l7.7-7.3 7.7-7.3 7.8-7.4 7.7-7.4-5.4 2.2-7.7 7-7.8 7.1-7.7 7-7.7 7z"/>
<path class="mu" d="M448.1 71.2l-5.4 .9"/>
<path class="c116" d="M479 41.8l7.7 10.4 7.7 10.3 7.8 10.4 7.7 10.2-5.4 .9-7.8-10-7.7-10-7.7-10-7.7-10z"/>
<path class="mu" d="M479 41.8l-5.4 2.2"/>
<path class="c117" d="M509.9 83.1l7.7 10.3 7.7 10.2 7.7 10.2 7.8 10.1-5.4-.7-7.8-9.7-7.7-9.8-7.7-9.8-7.7-9.9z"/>
<path class="mu" d="M509.9 83.1l-5.4 .9"/>
<path class="c118" d="M540.8 123.9l7.7 9.9 7.7 9.9 7.7 9.6 7.8 9.5-5.5-2.7-7.7-8.9-7.7-9.1-7.7-9.4-7.7-9.5z"/>
<path class="mu" d="M540.8 123.9l-5.4-.7"/>
<path class="c119" d="M571.7 162.8l7.7 9.2 7.7 8.8 7.7 8.3 7.7 7.6-5.4-5.5-7.7-6.8-7.7-7.6-7.7-8.1-7.8-8.6z"/>
<path class="mu" d="M571.7 162.8l-5.5-2.7"/>
<path class="c120" d="M602.5 196.7l7.8 6.7 7.7 5.6 7.7 4.1 7.7 2.4-5.4-7.5-7.7-2.2-7.7-3.7-7.7-4.9-7.8-6z"/>
<path class="mu" d="M602.5 196.7l-5.4-5.5M633.4 215.5l-5.4-7.5"/>
<path class="c111" d="M319.1 148.5l7.7 .8 7.8-.7 7.7-1.9 7.7-3.1-5.4-5.8-7.7 2.4-7.7 1.4-7.8 .3-7.7-.9z"/>
<path class="mu" d="M319.1 148.5l-5.4-7.5"/>
<path class="c112" d="M350 143.6l7.7-3.9 7.8-4.5 7.7-5.2 7.7-5.6-5.4-3.2-7.7 4.9-7.8 4.5-7.7 4-7.7 3.2z"/>
<path class="mu" d="M350 143.6l-5.4-5.8"/>
<path class="c113" d="M380.9 124.4l7.7-5.9 7.7-6.2 7.8-6.4 7.7-6.5-5.4-1.1-7.7 6.1-7.8 5.8-7.7 5.7-7.7 5.3z"/>
<path class="mu" d="M380.9 124.4l-5.4-3.2"/>
<path class="c114" d="M411.8 99.4l7.7-6.7 7.7-6.8 7.8-6.9 7.7-6.9-5.4 .6-7.7 6.5-7.8 6.5-7.7 6.4-7.7 6.2z"/>
<path class="mu" d="M411.8 99.4l-5.4-1.1"/>
<path class="c115" d="M442.7 72.1l7.7-7 7.7-7 7.8-7.1 7.7-7-5.4 2.1-7.8 6.7-7.7 6.6-7.7 6.7-7.7 6.6z"/>
<path class="mu" d="M442.7 72.1l-5.4 .6"/>
<path class="c116" d="M473.6 44l7.7 10 7.7 10 7.7 10 7.8 10-5.4 .6-7.8-9.6-7.7-9.6-7.7-9.7-7.7-9.6z"/>
<path class="mu" d="M473.6 44l-5.4 2.1"/>
<path class="c117" d="M504.5 84l7.7 9.9 7.7 9.8 7.7 9.8 7.8 9.7-5.5-1.1-7.7-9.2-7.7-9.4-7.7-9.4-7.7-9.5z"/>
<path class="mu" d="M504.5 84l-5.4 .6"/>
<path class="c118" d="M535.4 123.2l7.7 9.5 7.7 9.4 7.7 9.1 7.7 8.9-5.4-3.2-7.7-8.3-7.7-8.6-7.7-8.9-7.8-9z"/>
<path class="mu" d="M535.4 123.2l-5.5-1.1"/>
<path class="c119" d="M566.2 160.1l7.8 8.6 7.7 8.1 7.7 7.6 7.7 6.8-5.4-5.8-7.7-6.2-7.7-6.9-7.7-7.5-7.8-7.9z"/>
<path class="mu" d="M566.2 160.1l-5.4-3.2"/>
<path class="c120" d="M597.1 191.2l7.8 6 7.7 4.9 7.7 3.7 7.7 2.2-5.4-7.5-7.7-2.1-7.7-3.3-7.8-4.4-7.7-5.3z"/>
<path class="mu" d="M597.1 191.2l-5.4-5.8M628 208l-5.4-7.5"/>
<path class="c111" d="M313.7 141l7.7 .9 7.8-.3 7.7-1.4 7.7-2.4-5.4-6.2-7.7 1.9-7.8 1-7.7 0-7.7-1z"/>
<path class="mu" d="M313.7 141l-5.4-7.5"/>
<path class="c112" d="M344.6 137.8l7.7-3.2 7.7-4 7.8-4.5 7.7-4.9-5.4-3.7-7.7 4.3-7.8 3.9-7.7 3.3-7.7 2.6z"/>
<path class="mu" d="M344.6 137.8l-5.4-6.2"/>
<path class="c113" d="M375.5 121.2l7.7-5.3 7.7-5.7 7.8-5.8 7.7-6.1-5.4-1.5-7.8 5.6-7.7 5.3-7.7 5.1-7.7 4.7z"/>
<path class="mu" d="M375.5 121.2l-5.4-3.7"/>
<path class="c114" d="M406.4 98.3l7.7-6.2 7.7-6.4 7.8-6.5 7.7-6.5-5.4 .4-7.8 6.1-7.7 6-7.7 5.9-7.7 5.7z"/>
<path class="mu" d="M406.4 98.3l-5.4-1.5"/>
<path class="c115" d="M437.3 72.7l7.7-6.6 7.7-6.7 7.7-6.6 7.8-6.7-5.5 2.1-7.7 6.3-7.7 6.2-7.7 6.2-7.7 6.2z"/>
<path class="mu" d="M437.3 72.7l-5.4 .4"/>
<path class="c116" d="M468.2 46.1l7.7 9.6 7.7 9.7 7.7 9.6 7.8 9.6-5.5 .4-7.7-9.1-7.7-9.2-7.7-9.3-7.8-9.2z"/>
<path class="mu" d="M468.2 46.1l-5.5 2.1"/>
<path class="c117" d="M499.1 84.6l7.7 9.5 7.7 9.4 7.7 9.4 7.7 9.2-5.4-1.5-7.7-8.7-7.7-8.9-7.7-8.9-7.8-9.1z"/>
<path class="mu" d="M499.1 84.6l-5.5 .4"/>
<path class="c118" d="M529.9 122.1l7.8 9 7.7 8.9 7.7 8.6 7.7 8.3-5.4-3.7-7.7-7.7-7.7-8.1-7.7-8.3-7.8-8.5z"/>
<path class="mu" d="M529.9 122.1l-5.4-1.5"/>
<path class="c119" d="M560.8 156.9l7.8 7.9 7.7 7.5 7.7 6.9 7.7 6.2-5.4-6.2-7.7-5.6-7.7-6.3-7.8-6.8-7.7-7.3z"/>
<path class="mu" d="M560.8 156.9l-5.4-3.7"/>
<path class="c120" d="M591.7 185.4l7.7 5.3 7.8 4.4 7.7 3.3 7.7 2.1-5.4-7.5-7.7-2-7.7-3-7.8-3.9-7.7-4.9z"/>
<path class="mu" d="M591.7 185.4l-5.4-6.2M622.6 200.5l-5.4-7.5"/>
<path class="c121" d="M308.3 133.5l7.7 1 7.7 0 7.8-1 7.7-1.9-5.4-6.4-7.7 1.5-7.8 .6-7.7-.2-7.7-1z"/>
<path class="mu" d="M308.3 133.5l7.7 1 7.7 0 7.8-1 7.7-1.9M308.3 133.5l-5.4-7.4"/>
<path class="c122" d="M339.2 131.6l7.7-2.6 7.7-3.3 7.8-3.9 7.7-4.3-5.4-4.1-7.8 3.7-7.7 3.3-7.7 2.7-7.7 2.1z"/>
<path class="mu" d="M339.2 131.6l7.7-2.6 7.7-3.3 7.8-3.9 7.7-4.3M339.2 131.6l-5.4-6.4"/>
<path class="c123" d="M370.1 117.5l7.7-4.7 7.7-5.1 7.7-5.3 7.8-5.6-5.4-1.8-7.8 5-7.7 4.8-7.7 4.4-7.7 4.2z"/>
<path class="mu" d="M370.1 117.5l7.7-4.7 7.7-5.1 7.7-5.3 7.8-5.6M370.1 117.5l-5.4-4.1"/>
<path class="c124" d="M401 96.8l7.7-5.7 7.7-5.9 7.7-6 7.8-6.1-5.5 .2-7.7 5.6-7.7 5.5-7.7 5.4-7.7 5.2z"/>
<path class="mu" d="M401 96.8l7.7-5.7 7.7-5.9 7.7-6 7.8-6.1M401 96.8l-5.4-1.8"/>
<path class="c125" d="M431.9 73.1l7.7-6.2 7.7-6.2 7.7-6.2 7.7-6.3-5.4 2.1-7.7 5.8-7.7 5.8-7.7 5.7-7.8 5.7z"/>
<path class="mu" d="M431.9 73.1l7.7-6.2 7.7-6.2 7.7-6.2 7.7-6.3M431.9 73.1l-5.5 .2"/>
<path class="c126" d="M462.7 48.2l7.8 9.2 7.7 9.3 7.7 9.2 7.7 9.1-5.4 .2-7.7-8.6-7.7-8.8-7.7-8.7-7.8-8.8z"/>
<path class="mu" d="M462.7 48.2l7.8 9.2 7.7 9.3 7.7 9.2 7.7 9.1M462.7 48.2l-5.4 2.1"/>
<path class="c127" d="M493.6 85l7.8 9.1 7.7 8.9 7.7 8.9 7.7 8.7-5.4-1.8-7.7-8.2-7.7-8.3-7.7-8.5-7.8-8.6z"/>
<path class="mu" d="M493.6 85l7.8 9.1 7.7 8.9 7.7 8.9 7.7 8.7M493.6 85l-5.4 .2"/>
<path class="c128" d="M524.5 120.6l7.8 8.5 7.7 8.3 7.7 8.1 7.7 7.7-5.4-4.1-7.7-7.1-7.7-7.5-7.8-7.7-7.7-8z"/>
<path class="mu" d="M524.5 120.6l7.8 8.5 7.7 8.3 7.7 8.1 7.7 7.7M524.5 120.6l-5.4-1.8"/>
<path class="c129" d="M555.4 153.2l7.7 7.3 7.8 6.8 7.7 6.3 7.7 5.6-5.4-6.4-7.7-5-7.7-5.8-7.8-6.2-7.7-6.7z"/>
<path class="mu" d="M555.4 153.2l7.7 7.3 7.8 6.8 7.7 6.3 7.7 5.6M555.4 153.2l-5.4-4.1"/>
<path class="c130" d="M586.3 179.2l7.7 4.9 7.8 3.9 7.7 3 7.7 2-5.4-7.4-7.7-2-7.8-2.7-7.7-3.7-7.7-4.4z"/>
<path class="mu" d="M586.3 179.2l7.7 4.9 7.8 3.9 7.7 3 7.7 2M586.3 179.2l-5.4-6.4M617.2 193l-5.4-7.4"/>
<path class="c121" d="M302.9 126.1l7.7 1 7.7 .2 7.8-.6 7.7-1.5-5.4-6.5-7.8 1-7.7 .4-7.7-.4-7.7-1.1z"/>
<path class="mu" d="M302.9 126.1l-5.4-7.5"/>
<path class="c122" d="M333.8 125.2l7.7-2.1 7.7-2.7 7.7-3.3 7.8-3.7-5.4-4.4-7.8 3.1-7.7 2.7-7.7 2.3-7.7 1.6z"/>
<path class="mu" d="M333.8 125.2l-5.4-6.5"/>
<path class="c123" d="M364.7 113.4l7.7-4.2 7.7-4.4 7.7-4.8 7.8-5-5.5-2.1-7.7 4.4-7.7 4.2-7.7 3.9-7.7 3.6z"/>
<path class="mu" d="M364.7 113.4l-5.4-4.4"/>
<path class="c124" d="M395.6 95l7.7-5.2 7.7-5.4 7.7-5.5 7.7-5.6-5.4 .1-7.7 5.1-7.7 4.9-7.7 4.8-7.8 4.7z"/>
<path class="mu" d="M395.6 95l-5.5-2.1"/>
<path class="c125" d="M426.4 73.3l7.8-5.7 7.7-5.7 7.7-5.8 7.7-5.8-5.4 2.1-7.7 5.3-7.7 5.3-7.7 5.2-7.8 5.2z"/>
<path class="mu" d="M426.4 73.3l-5.4 .1"/>
<path class="c126" d="M457.3 50.3l7.8 8.8 7.7 8.7 7.7 8.8 7.7 8.6-5.4 .1-7.7-8.2-7.7-8.2-7.8-8.2-7.7-8.3z"/>
<path class="mu" d="M457.3 50.3l-5.4 2.1"/>
<path class="c127" d="M488.2 85.2l7.8 8.6 7.7 8.5 7.7 8.3 7.7 8.2-5.4-2.1-7.7-7.6-7.7-7.8-7.8-8-7.7-8z"/>
<path class="mu" d="M488.2 85.2l-5.4 .1"/>
<path class="c128" d="M519.1 118.8l7.7 8 7.8 7.7 7.7 7.5 7.7 7.1-5.4-4.4-7.7-6.6-7.7-6.9-7.8-7.1-7.7-7.4z"/>
<path class="mu" d="M519.1 118.8l-5.4-2.1"/>
<path class="c129" d="M550 149.1l7.7 6.7 7.8 6.2 7.7 5.8 7.7 5-5.4-6.5-7.7-4.6-7.8-5.2-7.7-5.7-7.7-6.1z"/>
<path class="mu" d="M550 149.1l-5.4-4.4"/>
<path class="c130" d="M580.9 172.8l7.7 4.4 7.7 3.7 7.8 2.7 7.7 2-5.4-7.5-7.7-1.9-7.8-2.6-7.7-3.3-7.7-4z"/>
<path class="mu" d="M580.9 172.8l-5.4-6.5M611.8 185.6l-5.4-7.5"/>
<path class="c121" d="M297.5 118.6l7.7 1.1 7.7 .4 7.7-.4 7.8-1-5.4-6.6-7.8 .6-7.7 .1-7.7-.5-7.7-1.2z"/>
<path class="mu" d="M297.5 118.6l-5.4-7.5"/>
<path class="c122" d="M328.4 118.7l7.7-1.6 7.7-2.3 7.7-2.7 7.8-3.1-5.5-4.7-7.7 2.6-7.7 2.2-7.7 1.7-7.7 1.3z"/>
<path class="mu" d="M328.4 118.7l-5.4-6.6"/>
<path class="c123" d="M359.3 109l7.7-3.6 7.7-3.9 7.7-4.2 7.7-4.4-5.4-2.4-7.7 3.8-7.7 3.6-7.7 3.4-7.8 3z"/>
<path class="mu" d="M359.3 109l-5.5-4.7"/>
<path class="c124" d="M390.1 92.9l7.8-4.7 7.7-4.8 7.7-4.9 7.7-5.1-5.4-.1-7.7 4.5-7.7 4.4-7.7 4.2-7.8 4.1z"/>
<path class="mu" d="M390.1 92.9l-5.4-2.4"/>
<path class="c125" d="M421 73.4l7.8-5.2 7.7-5.2 7.7-5.3 7.7-5.3-5.4 2.1-7.7 4.8-7.7 4.7-7.8 4.7-7.7 4.6z"/>
<path class="mu" d="M421 73.4l-5.4-.1"/>
<path class="c126" d="M451.9 52.4l7.7 8.3 7.8 8.2 7.7 8.2 7.7 8.2-5.4-.1-7.7-7.6-7.7-7.7-7.8-7.6-7.7-7.8z"/>
<path class="mu" d="M451.9 52.4l-5.4 2.1"/>
<path class="c127" d="M482.8 85.3l7.7 8 7.8 8 7.7 7.8 7.7 7.6-5.4-2.4-7.7-7.1-7.8-7.2-7.7-7.3-7.7-7.5z"/>
<path class="mu" d="M482.8 85.3l-5.4-.1"/>
<path class="c128" d="M513.7 116.7l7.7 7.4 7.8 7.1 7.7 6.9 7.7 6.6-5.4-4.7-7.7-6-7.8-6.3-7.7-6.6-7.7-6.8z"/>
<path class="mu" d="M513.7 116.7l-5.4-2.4"/>
<path class="c129" d="M544.6 144.7l7.7 6.1 7.7 5.7 7.8 5.2 7.7 4.6-5.4-6.6-7.8-4.2-7.7-4.8-7.7-5.1-7.7-5.6z"/>
<path class="mu" d="M544.6 144.7l-5.4-4.7"/>
<path class="c130" d="M575.5 166.3l7.7 4 7.7 3.3 7.8 2.6 7.7 1.9-5.4-7.5-7.8-1.8-7.7-2.4-7.7-3.1-7.7-3.6z"/>
<path class="mu" d="M575.5 166.3l-5.4-6.6M606.4 178.1l-5.4-7.5"/>
<path class="c121" d="M292.1 111.1l7.7 1.2 7.7 .5 7.7-.1 7.8-.6-5.5-6.8-7.7 .4-7.7-.2-7.7-.6-7.8-1.3z"/>
<path class="mu" d="M292.1 111.1l-5.5-7.5"/>
<path class="c122" d="M323 112.1l7.7-1.3 7.7-1.7 7.7-2.2 7.7-2.6-5.4-5-7.7 2.1-7.7 1.8-7.7 1.3-7.8 .8z"/>
<path class="mu" d="M323 112.1l-5.5-6.8"/>
<path class="c123" d="M353.8 104.3l7.8-3 7.7-3.4 7.7-3.6 7.7-3.8-5.4-2.7-7.7 3.3-7.7 3-7.7 2.8-7.8 2.4z"/>
<path class="mu" d="M353.8 104.3l-5.4-5"/>
<path class="c124" d="M384.7 90.5l7.8-4.1 7.7-4.2 7.7-4.4 7.7-4.5-5.4-.3-7.7 3.9-7.7 3.8-7.8 3.7-7.7 3.4z"/>
<path class="mu" d="M384.7 90.5l-5.4-2.7"/>
<path class="c125" d="M415.6 73.3l7.7-4.6 7.8-4.7 7.7-4.7 7.7-4.8-5.4 2.2-7.7 4.1-7.7 4.1-7.8 4.1-7.7 4z"/>
<path class="mu" d="M415.6 73.3l-5.4-.3"/>
<path class="c126" d="M446.5 54.5l7.7 7.8 7.8 7.6 7.7 7.7 7.7 7.6-5.4-.3-7.7-7-7.8-7-7.7-7.1-7.7-7.1z"/>
<path class="mu" d="M446.5 54.5l-5.4 2.2"/>
<path class="c127" d="M477.4 85.2l7.7 7.5 7.7 7.3 7.8 7.2 7.7 7.1-5.4-2.7-7.7-6.4-7.8-6.6-7.7-6.8-7.7-6.9z"/>
<path class="mu" d="M477.4 85.2l-5.4-.3"/>
<path class="c128" d="M508.3 114.3l7.7 6.8 7.7 6.6 7.8 6.3 7.7 6-5.4-5-7.8-5.4-7.7-5.7-7.7-6-7.7-6.3z"/>
<path class="mu" d="M508.3 114.3l-5.4-2.7"/>
<path class="c129" d="M539.2 140l7.7 5.6 7.7 5.1 7.7 4.8 7.8 4.2-5.4-6.8-7.8-3.8-7.7-4.3-7.7-4.7-7.7-5.1z"/>
<path class="mu" d="M539.2 140l-5.4-5"/>
<path class="c130" d="M570.1 159.7l7.7 3.6 7.7 3.1 7.7 2.4 7.8 1.8-5.4-7.5-7.8-1.7-7.7-2.3-7.7-2.8-7.7-3.4z"/>
<path class="mu" d="M570.1 159.7l-5.4-6.8M601 170.6l-5.4-7.5"/>
<path class="c131" d="M286.6 103.6l7.8 1.3 7.7 .6 7.7 .2 7.7-.4-5.4-6.8-7.7 .1-7.7-.4-7.7-.8-7.8-1.2z"/>
<path class="mu" d="M286.6 103.6l7.8 1.3 7.7 .6 7.7 .2 7.7-.4M286.6 103.6l-5.4-7.4"/>
<path class="c132" d="M317.5 105.3l7.8-.8 7.7-1.3 7.7-1.8 7.7-2.1-5.4-5.1-7.7 1.6-7.7 1.3-7.8 .9-7.7 .5z"/>
<path class="mu" d="M317.5 105.3l7.8-.8 7.7-1.3 7.7-1.8 7.7-2.1M317.5 105.3l-5.4-6.8"/>
<path class="c133" d="M348.4 99.3l7.8-2.4 7.7-2.8 7.7-3 7.7-3.3-5.4-2.8-7.7 2.7-7.7 2.4-7.8 2.2-7.7 1.9z"/>
<path class="mu" d="M348.4 99.3l7.8-2.4 7.7-2.8 7.7-3 7.7-3.3M348.4 99.3l-5.4-5.1"/>
<path class="c134" d="M379.3 87.8l7.7-3.4 7.8-3.7 7.7-3.8 7.7-3.9-5.4-.4-7.7 3.3-7.7 3.2-7.8 3-7.7 2.9z"/>
<path class="mu" d="M379.3 87.8l7.7-3.4 7.8-3.7 7.7-3.8 7.7-3.9M379.3 87.8l-5.4-2.8"/>
<path class="c135" d="M410.2 73l7.7-4 7.8-4.1 7.7-4.1 7.7-4.1-5.4 2.1-7.7 3.5-7.8 3.5-7.7 3.4-7.7 3.4z"/>
<path class="mu" d="M410.2 73l7.7-4 7.8-4.1 7.7-4.1 7.7-4.1M410.2 73l-5.4-.4"/>
<path class="c136" d="M441.1 56.7l7.7 7.1 7.7 7.1 7.8 7 7.7 7-5.4-.4-7.7-6.3-7.8-6.5-7.7-6.4-7.7-6.5z"/>
<path class="mu" d="M441.1 56.7l7.7 7.1 7.7 7.1 7.8 7 7.7 7M441.1 56.7l-5.4 2.1"/>
<path class="c137" d="M472 84.9l7.7 6.9 7.7 6.8 7.8 6.6 7.7 6.4-5.4-2.8-7.8-5.8-7.7-6-7.7-6.2-7.7-6.3z"/>
<path class="mu" d="M472 84.9l7.7 6.9 7.7 6.8 7.8 6.6 7.7 6.4M472 84.9l-5.4-.4"/>
<path class="c138" d="M502.9 111.6l7.7 6.3 7.7 6 7.7 5.7 7.8 5.4-5.4-5.1-7.8-4.9-7.7-5.1-7.7-5.5-7.7-5.6z"/>
<path class="mu" d="M502.9 111.6l7.7 6.3 7.7 6 7.7 5.7 7.8 5.4M502.9 111.6l-5.4-2.8"/>
<path class="c139" d="M533.8 135l7.7 5.1 7.7 4.7 7.7 4.3 7.8 3.8-5.5-6.8-7.7-3.5-7.7-3.9-7.7-4.2-7.7-4.6z"/>
<path class="mu" d="M533.8 135l7.7 5.1 7.7 4.7 7.7 4.3 7.8 3.8M533.8 135l-5.4-5.1"/>
<path class="c140" d="M564.7 152.9l7.7 3.4 7.7 2.8 7.7 2.3 7.8 1.7-5.5-7.4-7.7-1.7-7.7-2.2-7.7-2.6-7.8-3.1z"/>
<path class="mu" d="M564.7 152.9l7.7 3.4 7.7 2.8 7.7 2.3 7.8 1.7M564.7 152.9l-5.5-6.8M595.6 163.1l-5.5-7.4"/>
<path class="c131" d="M281.2 96.2l7.8 1.2 7.7 .8 7.7 .4 7.7-.1-5.4-6.9-7.7-.2-7.7-.5-7.8-.9-7.7-1.3z"/>
<path class="mu" d="M281.2 96.2l-5.4-7.5"/>
<path class="c132" d="M312.1 98.5l7.7-.5 7.8-.9 7.7-1.3 7.7-1.6-5.4-5.2-7.7 1.1-7.7 .8-7.8 .5-7.7 .2z"/>
<path class="mu" d="M312.1 98.5l-5.4-6.9"/>
<path class="c133" d="M343 94.2l7.7-1.9 7.8-2.2 7.7-2.4 7.7-2.7-5.4-3-7.7 2.1-7.8 1.8-7.7 1.7-7.7 1.4z"/>
<path class="mu" d="M343 94.2l-5.4-5.2"/>
<path class="c134" d="M373.9 85l7.7-2.9 7.8-3 7.7-3.2 7.7-3.3-5.4-.5-7.7 2.7-7.8 2.5-7.7 2.4-7.7 2.3z"/>
<path class="mu" d="M373.9 85l-5.4-3"/>
<path class="c135" d="M404.8 72.6l7.7-3.4 7.7-3.4 7.8-3.5 7.7-3.5-5.4 2.1-7.7 2.9-7.8 2.8-7.7 2.8-7.7 2.7z"/>
<path class="mu" d="M404.8 72.6l-5.4-.5"/>
<path class="c136" d="M435.7 58.8l7.7 6.5 7.7 6.4 7.8 6.5 7.7 6.3-5.4-.5-7.8-5.7-7.7-5.7-7.7-5.9-7.7-5.8z"/>
<path class="mu" d="M435.7 58.8l-5.4 2.1"/>
<path class="c137" d="M466.6 84.5l7.7 6.3 7.7 6.2 7.7 6 7.8 5.8-5.4-3-7.8-5.2-7.7-5.4-7.7-5.5-7.7-5.7z"/>
<path class="mu" d="M466.6 84.5l-5.4-.5"/>
<path class="c138" d="M497.5 108.8l7.7 5.6 7.7 5.5 7.7 5.1 7.8 4.9-5.5-5.2-7.7-4.4-7.7-4.6-7.7-4.9-7.7-5z"/>
<path class="mu" d="M497.5 108.8l-5.4-3"/>
<path class="c139" d="M528.4 129.9l7.7 4.6 7.7 4.2 7.7 3.9 7.7 3.5-5.4-6.9-7.7-3.1-7.7-3.5-7.7-3.8-7.8-4.1z"/>
<path class="mu" d="M528.4 129.9l-5.5-5.2"/>
<path class="c140" d="M559.2 146.1l7.8 3.1 7.7 2.6 7.7 2.2 7.7 1.7-5.4-7.5-7.7-1.7-7.7-2-7.7-2.5-7.8-2.8z"/>
<path class="mu" d="M559.2 146.1l-5.4-6.9M590.1 155.7l-5.4-7.5"/>
<path class="c131" d="M275.8 88.7l7.7 1.3 7.8 .9 7.7 .5 7.7 .2-5.4-6.9-7.7-.4-7.7-.7-7.8-1-7.7-1.4z"/>
<path class="mu" d="M275.8 88.7l-5.4-7.5"/>
<path class="c132" d="M306.7 91.6l7.7-.2 7.8-.5 7.7-.8 7.7-1.1-5.4-5.4-7.7 .7-7.8 .4-7.7 .1-7.7-.1z"/>
<path class="mu" d="M306.7 91.6l-5.4-6.9"/>
<path class="c133" d="M337.6 89l7.7-1.4 7.7-1.7 7.8-1.8 7.7-2.1-5.4-3.2-7.7 1.5-7.8 1.3-7.7 1.1-7.7 .9z"/>
<path class="mu" d="M337.6 89l-5.4-5.4"/>
<path class="c134" d="M368.5 82l7.7-2.3 7.7-2.4 7.8-2.5 7.7-2.7-5.4-.6-7.8 2-7.7 1.9-7.7 1.8-7.7 1.6z"/>
<path class="mu" d="M368.5 82l-5.4-3.2"/>
<path class="c135" d="M399.4 72.1l7.7-2.7 7.7-2.8 7.8-2.8 7.7-2.9-5.4 2.1-7.8 2.2-7.7 2.2-7.7 2.1-7.7 2z"/>
<path class="mu" d="M399.4 72.1l-5.4-.6"/>
<path class="c136" d="M430.3 60.9l7.7 5.8 7.7 5.9 7.7 5.7 7.8 5.7-5.4-.6-7.8-5-7.7-5.1-7.7-5.1-7.7-5.2z"/>
<path class="mu" d="M430.3 60.9l-5.4 2.1"/>
<path class="c137" d="M461.2 84l7.7 5.7 7.7 5.5 7.7 5.4 7.8 5.2-5.5-3.2-7.7-4.6-7.7-4.7-7.7-4.9-7.7-5z"/>
<path class="mu" d="M461.2 84l-5.4-.6"/>
<path class="c138" d="M492.1 105.8l7.7 5 7.7 4.9 7.7 4.6 7.7 4.4-5.4-5.4-7.7-3.9-7.7-4-7.7-4.3-7.8-4.5z"/>
<path class="mu" d="M492.1 105.8l-5.5-3.2"/>
<path class="c139" d="M522.9 124.7l7.8 4.1 7.7 3.8 7.7 3.5 7.7 3.1-5.4-6.9-7.7-2.8-7.7-3.2-7.7-3.4-7.8-3.6z"/>
<path class="mu" d="M522.9 124.7l-5.4-5.4"/>
<path class="c140" d="M553.8 139.2l7.8 2.8 7.7 2.5 7.7 2 7.7 1.7-5.4-7.5-7.7-1.6-7.7-2-7.8-2.2-7.7-2.6z"/>
<path class="mu" d="M553.8 139.2l-5.4-6.9M584.7 148.2l-5.4-7.5"/>
<path class="c131" d="M270.4 81.2l7.7 1.4 7.8 1 7.7 .7 7.7 .4-5.4-6.9-7.7-.7-7.8-.9-7.7-1.1-7.7-1.4z"/>
<path class="mu" d="M270.4 81.2l-5.4-7.5"/>
<path class="c132" d="M301.3 84.7l7.7 .1 7.7-.1 7.8-.4 7.7-.7-5.4-5.5-7.7 .3-7.8 0-7.7-.2-7.7-.4z"/>
<path class="mu" d="M301.3 84.7l-5.4-6.9"/>
<path class="c133" d="M332.2 83.6l7.7-.9 7.7-1.1 7.8-1.3 7.7-1.5-5.4-3.3-7.8 .9-7.7 .8-7.7 .5-7.7 .4z"/>
<path class="mu" d="M332.2 83.6l-5.4-5.5"/>
<path class="c134" d="M363.1 78.8l7.7-1.6 7.7-1.8 7.7-1.9 7.8-2-5.4-.6-7.8 1.3-7.7 1.2-7.7 1.1-7.7 1z"/>
<path class="mu" d="M363.1 78.8l-5.4-3.3"/>
<path class="c135" d="M394 71.5l7.7-2 7.7-2.1 7.7-2.2 7.8-2.2-5.5 2.1-7.7 1.5-7.7 1.5-7.7 1.4-7.7 1.4z"/>
<path class="mu" d="M394 71.5l-5.4-.6"/>
<path class="c136" d="M424.9 63l7.7 5.2 7.7 5.1 7.7 5.1 7.8 5-5.5-.6-7.7-4.4-7.7-4.4-7.7-4.4-7.8-4.5z"/>
<path class="mu" d="M424.9 63l-5.5 2.1"/>
<path class="c137" d="M455.8 83.4l7.7 5 7.7 4.9 7.7 4.7 7.7 4.6-5.4-3.3-7.7-4-7.7-4.1-7.7-4.2-7.8-4.2z"/>
<path class="mu" d="M455.8 83.4l-5.5-.6"/>
<path class="c138" d="M486.6 102.6l7.8 4.5 7.7 4.3 7.7 4 7.7 3.9-5.4-5.5-7.7-3.3-7.7-3.6-7.7-3.7-7.8-3.9z"/>
<path class="mu" d="M486.6 102.6l-5.4-3.3"/>
<path class="c139" d="M517.5 119.3l7.8 3.6 7.7 3.4 7.7 3.2 7.7 2.8-5.4-6.9-7.7-2.6-7.7-2.8-7.8-3-7.7-3.2z"/>
<path class="mu" d="M517.5 119.3l-5.4-5.5"/>
<path class="c140" d="M548.4 132.3l7.7 2.6 7.8 2.2 7.7 2 7.7 1.6-5.4-7.5-7.7-1.6-7.7-1.8-7.8-2.1-7.7-2.3z"/>
<path class="mu" d="M548.4 132.3l-5.4-6.9M579.3 140.7l-5.4-7.5"/>
<path class="c141" d="M265 73.7l7.7 1.4 7.7 1.1 7.8 .9 7.7 .7-5.4-7-7.7-.9-7.8-1-7.7-1.2-7.7-1.4z"/>
<path class="mu" d="M265 73.7l7.7 1.4 7.7 1.1 7.8 .9 7.7 .7M265 73.7l-5.4-7.4"/>
<path class="c142" d="M295.9 77.8l7.7 .4 7.7 .2 7.8 0 7.7-.3-5.4-5.5-7.8-.2-7.7-.4-7.7-.5-7.7-.7z"/>
<path class="mu" d="M295.9 77.8l7.7 .4 7.7 .2 7.8 0 7.7-.3M295.9 77.8l-5.4-7"/>
<path class="c143" d="M326.8 78.1l7.7-.4 7.7-.5 7.7-.8 7.8-.9-5.4-3.3-7.8 .2-7.7 .2-7.7 .1-7.7-.1z"/>
<path class="mu" d="M326.8 78.1l7.7-.4 7.7-.5 7.7-.8 7.8-.9M326.8 78.1l-5.4-5.5"/>
<path class="c144" d="M357.7 75.5l7.7-1 7.7-1.1 7.7-1.2 7.8-1.3-5.5-.8-7.7 .6-7.7 .6-7.7 .5-7.7 .4z"/>
<path class="mu" d="M357.7 75.5l7.7-1 7.7-1.1 7.7-1.2 7.8-1.3M357.7 75.5l-5.4-3.3"/>
<path class="c145" d="M388.6 70.9l7.7-1.4 7.7-1.4 7.7-1.5 7.7-1.5-5.4 2.1-7.7 .8-7.7 .7-7.7 .7-7.8 .7z"/>
<path class="mu" d="M388.6 70.9l7.7-1.4 7.7-1.4 7.7-1.5 7.7-1.5M388.6 70.9l-5.5-.8"/>
<path class="c146" d="M419.4 65.1l7.8 4.5 7.7 4.4 7.7 4.4 7.7 4.4-5.4-.8-7.7-3.6-7.7-3.7-7.7-3.7-7.8-3.8z"/>
<path class="mu" d="M419.4 65.1l7.8 4.5 7.7 4.4 7.7 4.4 7.7 4.4M419.4 65.1l-5.4 2.1"/>
<path class="c147" d="M450.3 82.8l7.8 4.2 7.7 4.2 7.7 4.1 7.7 4-5.4-3.3-7.7-3.4-7.7-3.5-7.8-3.5-7.7-3.6z"/>
<path class="mu" d="M450.3 82.8l7.8 4.2 7.7 4.2 7.7 4.1 7.7 4M450.3 82.8l-5.4-.8"/>
<path class="c148" d="M481.2 99.3l7.8 3.9 7.7 3.7 7.7 3.6 7.7 3.3-5.4-5.5-7.7-2.9-7.7-3-7.8-3.2-7.7-3.2z"/>
<path class="mu" d="M481.2 99.3l7.8 3.9 7.7 3.7 7.7 3.6 7.7 3.3M481.2 99.3l-5.4-3.3"/>
<path class="c149" d="M512.1 113.8l7.7 3.2 7.8 3 7.7 2.8 7.7 2.6-5.4-7-7.7-2.3-7.7-2.4-7.8-2.6-7.7-2.8z"/>
<path class="mu" d="M512.1 113.8l7.7 3.2 7.8 3 7.7 2.8 7.7 2.6M512.1 113.8l-5.4-5.5"/>
<path class="c150" d="M543 125.4l7.7 2.3 7.8 2.1 7.7 1.8 7.7 1.6-5.4-7.4-7.7-1.6-7.8-1.8-7.7-1.9-7.7-2.1z"/>
<path class="mu" d="M543 125.4l7.7 2.3 7.8 2.1 7.7 1.8 7.7 1.6M543 125.4l-5.4-7M573.9 133.2l-5.4-7.4"/>
<path class="c141" d="M259.6 66.3l7.7 1.4 7.7 1.2 7.8 1 7.7 .9-5.4-7-7.8-1.1-7.7-1.2-7.7-1.3-7.7-1.4z"/>
<path class="mu" d="M259.6 66.3l-5.4-7.5"/>
<path class="c142" d="M290.5 70.8l7.7 .7 7.7 .5 7.7 .4 7.8 .2-5.4-5.6-7.8-.6-7.7-.8-7.7-.8-7.7-1z"/>
<path class="mu" d="M290.5 70.8l-5.4-7"/>
<path class="c143" d="M321.4 72.6l7.7 .1 7.7-.1 7.7-.2 7.8-.2-5.5-3.5-7.7-.3-7.7-.4-7.7-.4-7.7-.6z"/>
<path class="mu" d="M321.4 72.6l-5.4-5.6"/>
<path class="c144" d="M352.3 72.2l7.7-.4 7.7-.5 7.7-.6 7.7-.6-5.4-.8-7.7-.1-7.7-.1-7.7-.2-7.8-.2z"/>
<path class="mu" d="M352.3 72.2l-5.5-3.5"/>
<path class="c145" d="M383.1 70.1l7.8-.7 7.7-.7 7.7-.7 7.7-.8-5.4 2.2-7.7 0-7.7 0-7.7 0-7.8-.1z"/>
<path class="mu" d="M383.1 70.1l-5.4-.8"/>
<path class="c146" d="M414 67.2l7.8 3.8 7.7 3.7 7.7 3.7 7.7 3.6-5.4-.8-7.7-2.9-7.7-3-7.8-2.9-7.7-3z"/>
<path class="mu" d="M414 67.2l-5.4 2.2"/>
<path class="c147" d="M444.9 82l7.7 3.6 7.8 3.5 7.7 3.5 7.7 3.4-5.4-3.5-7.7-2.7-7.7-2.8-7.8-2.9-7.7-2.9z"/>
<path class="mu" d="M444.9 82l-5.4-.8"/>
<path class="c148" d="M475.8 96l7.7 3.2 7.8 3.2 7.7 3 7.7 2.9-5.4-5.6-7.7-2.4-7.8-2.5-7.7-2.6-7.7-2.7z"/>
<path class="mu" d="M475.8 96l-5.4-3.5"/>
<path class="c149" d="M506.7 108.3l7.7 2.8 7.8 2.6 7.7 2.4 7.7 2.3-5.4-7-7.7-2-7.8-2.1-7.7-2.3-7.7-2.3z"/>
<path class="mu" d="M506.7 108.3l-5.4-5.6"/>
<path class="c150" d="M537.6 118.4l7.7 2.1 7.7 1.9 7.8 1.8 7.7 1.6-5.4-7.5-7.7-1.5-7.8-1.7-7.7-1.8-7.7-1.9z"/>
<path class="mu" d="M537.6 118.4l-5.4-7M568.5 125.8l-5.4-7.5"/>
<path class="c141" d="M254.2 58.8l7.7 1.4 7.7 1.3 7.7 1.2 7.8 1.1-5.4-7-7.8-1.3-7.7-1.3-7.7-1.4-7.7-1.5z"/>
<path class="mu" d="M254.2 58.8l-5.4-7.5"/>
<path class="c142" d="M285.1 63.8l7.7 1 7.7 .8 7.7 .8 7.8 .6-5.5-5.6-7.7-1.1-7.7-1.1-7.7-1.2-7.7-1.2z"/>
<path class="mu" d="M285.1 63.8l-5.4-7"/>
<path class="c143" d="M316 67l7.7 .6 7.7 .4 7.7 .4 7.7 .3-5.4-3.5-7.7-.9-7.7-.9-7.7-1-7.8-1z"/>
<path class="mu" d="M316 67l-5.5-5.6"/>
<path class="c144" d="M346.8 68.7l7.8 .2 7.7 .2 7.7 .1 7.7 .1-5.4-.8-7.7-.8-7.7-.8-7.7-.8-7.8-.9z"/>
<path class="mu" d="M346.8 68.7l-5.4-3.5"/>
<path class="c145" d="M377.7 69.3l7.8 .1 7.7 0 7.7 0 7.7 0-5.4 2.1-7.7-.8-7.7-.7-7.8-.7-7.7-.8z"/>
<path class="mu" d="M377.7 69.3l-5.4-.8"/>
<path class="c146" d="M408.6 69.4l7.7 3 7.8 2.9 7.7 3 7.7 2.9-5.4-.8-7.7-2.2-7.7-2.2-7.8-2.3-7.7-2.2z"/>
<path class="mu" d="M408.6 69.4l-5.4 2.1"/>
<path class="c147" d="M439.5 81.2l7.7 2.9 7.8 2.9 7.7 2.8 7.7 2.7-5.4-3.5-7.7-2.1-7.8-2.1-7.7-2.2-7.7-2.2z"/>
<path class="mu" d="M439.5 81.2l-5.4-.8"/>
<path class="c148" d="M470.4 92.5l7.7 2.7 7.7 2.6 7.8 2.5 7.7 2.4-5.4-5.6-7.7-2-7.8-2-7.7-2-7.7-2.1z"/>
<path class="mu" d="M470.4 92.5l-5.4-3.5"/>
<path class="c149" d="M501.3 102.7l7.7 2.3 7.7 2.3 7.8 2.1 7.7 2-5.4-7-7.8-1.7-7.7-1.8-7.7-1.9-7.7-1.9z"/>
<path class="mu" d="M501.3 102.7l-5.4-5.6"/>
<path class="c150" d="M532.2 111.4l7.7 1.9 7.7 1.8 7.8 1.7 7.7 1.5-5.4-7.5-7.8-1.5-7.7-1.6-7.7-1.6-7.7-1.7z"/>
<path class="mu" d="M532.2 111.4l-5.4-7M563.1 118.3l-5.4-7.5"/>
<path class="c141" d="M248.8 51.3l7.7 1.5 7.7 1.4 7.7 1.3 7.8 1.3-5.5-7-7.7-1.5-7.7-1.5-7.7-1.5-7.8-1.5z"/>
<path class="mu" d="M248.8 51.3l-5.5-7.5"/>
<path class="c142" d="M279.7 56.8l7.7 1.2 7.7 1.2 7.7 1.1 7.7 1.1-5.4-5.7-7.7-1.4-7.7-1.5-7.7-1.5-7.8-1.5z"/>
<path class="mu" d="M279.7 56.8l-5.5-7"/>
<path class="c143" d="M310.5 61.4l7.8 1 7.7 1 7.7 .9 7.7 .9-5.4-3.5-7.7-1.5-7.7-1.5-7.7-1.5-7.8-1.5z"/>
<path class="mu" d="M310.5 61.4l-5.4-5.7"/>
<path class="c144" d="M341.4 65.2l7.8 .9 7.7 .8 7.7 .8 7.7 .8-5.4-.9-7.7-1.4-7.7-1.5-7.8-1.5-7.7-1.5z"/>
<path class="mu" d="M341.4 65.2l-5.4-3.5"/>
<path class="c145" d="M372.3 68.5l7.7 .8 7.8 .7 7.7 .7 7.7 .8-5.4 2.1-7.7-1.5-7.7-1.5-7.8-1.5-7.7-1.5z"/>
<path class="mu" d="M372.3 68.5l-5.4-.9"/>
<path class="c146" d="M403.2 71.5l7.7 2.2 7.8 2.3 7.7 2.2 7.7 2.2-5.4-.9-7.7-1.4-7.8-1.5-7.7-1.5-7.7-1.5z"/>
<path class="mu" d="M403.2 71.5l-5.4 2.1"/>
<path class="c147" d="M434.1 80.4l7.7 2.2 7.7 2.2 7.8 2.1 7.7 2.1-5.4-3.5-7.7-1.5-7.8-1.5-7.7-1.5-7.7-1.5z"/>
<path class="mu" d="M434.1 80.4l-5.4-.9"/>
<path class="c148" d="M465 89l7.7 2.1 7.7 2 7.8 2 7.7 2-5.4-5.7-7.8-1.4-7.7-1.5-7.7-1.5-7.7-1.5z"/>
<path class="mu" d="M465 89l-5.4-3.5"/>
<path class="c149" d="M495.9 97.1l7.7 1.9 7.7 1.9 7.7 1.8 7.8 1.7-5.4-7-7.8-1.5-7.7-1.5-7.7-1.5-7.7-1.5z"/>
<path class="mu" d="M495.9 97.1l-5.4-5.7"/>
<path class="c150" d="M526.8 104.4l7.7 1.7 7.7 1.6 7.7 1.6 7.8 1.5-5.5-7.5-7.7-1.4-7.7-1.5-7.7-1.5-7.7-1.5z"/>
<path class="mu" d="M526.8 104.4l-5.4-7M557.7 110.8l-5.5-7.5"/>
<path class="c151" d="M243.3 43.8l7.8 1.5 7.7 1.5 7.7 1.5 7.7 1.5-5.4 11.2-7.7-1.2-7.7-1.4-7.7-1.4-7.8-1.4z"/>
<path class="mu" d="M243.3 43.8l7.8 1.5 7.7 1.5 7.7 1.5 7.7 1.5M243.3 43.8l-5.4 11.8"/>
<path class="c152" d="M274.2 49.8l7.8 1.5 7.7 1.5 7.7 1.5 7.7 1.4-5.4 9.9-7.7-1-7.7-1.2-7.8-1.1-7.7-1.3z"/>
<path class="mu" d="M274.2 49.8l7.8 1.5 7.7 1.5 7.7 1.5 7.7 1.4M274.2 49.8l-5.4 11.2"/>
<path class="c153" d="M305.1 55.7l7.8 1.5 7.7 1.5 7.7 1.5 7.7 1.5-5.4 7.8-7.7-.9-7.7-1-7.8-1-7.7-1z"/>
<path class="mu" d="M305.1 55.7l7.8 1.5 7.7 1.5 7.7 1.5 7.7 1.5M305.1 55.7l-5.4 9.9"/>
<path class="c154" d="M336 61.7l7.7 1.5 7.8 1.5 7.7 1.5 7.7 1.4-5.4 5.1-7.7-.8-7.7-.8-7.8-.8-7.7-.8z"/>
<path class="mu" d="M336 61.7l7.7 1.5 7.8 1.5 7.7 1.5 7.7 1.4M336 61.7l-5.4 7.8"/>
<path class="c155" d="M366.9 67.6l7.7 1.5 7.8 1.5 7.7 1.5 7.7 1.5-5.4 2.1-7.7-.7-7.8-.8-7.7-.7-7.7-.8z"/>
<path class="mu" d="M366.9 67.6l7.7 1.5 7.8 1.5 7.7 1.5 7.7 1.5M366.9 67.6l-5.4 5.1"/>
<path class="c156" d="M397.8 73.6l7.7 1.5 7.7 1.5 7.8 1.5 7.7 1.4-5.4 5.1-7.7-2.2-7.8-2.2-7.7-2.2-7.7-2.3z"/>
<path class="mu" d="M397.8 73.6l7.7 1.5 7.7 1.5 7.8 1.5 7.7 1.4M397.8 73.6l-5.4 2.1"/>
<path class="c157" d="M428.7 79.5l7.7 1.5 7.7 1.5 7.8 1.5 7.7 1.5-5.4 7.8-7.8-2.2-7.7-2.1-7.7-2.2-7.7-2.2z"/>
<path class="mu" d="M428.7 79.5l7.7 1.5 7.7 1.5 7.8 1.5 7.7 1.5M428.7 79.5l-5.4 5.1"/>
<path class="c158" d="M459.6 85.5l7.7 1.5 7.7 1.5 7.7 1.5 7.8 1.4-5.4 9.9-7.8-1.9-7.7-2-7.7-2.1-7.7-2z"/>
<path class="mu" d="M459.6 85.5l7.7 1.5 7.7 1.5 7.7 1.5 7.8 1.4M459.6 85.5l-5.4 7.8"/>
<path class="c159" d="M490.5 91.4l7.7 1.5 7.7 1.5 7.7 1.5 7.8 1.5-5.5 11.2-7.7-1.7-7.7-1.8-7.7-1.9-7.7-1.9z"/>
<path class="mu" d="M490.5 91.4l7.7 1.5 7.7 1.5 7.7 1.5 7.8 1.5M490.5 91.4l-5.4 9.9"/>
<path class="c160" d="M521.4 97.4l7.7 1.5 7.7 1.5 7.7 1.5 7.7 1.4-5.4 11.8-7.7-1.6-7.7-1.5-7.7-1.7-7.8-1.7z"/>
<path class="mu" d="M521.4 97.4l7.7 1.5 7.7 1.5 7.7 1.5 7.7 1.4M521.4 97.4l-5.5 11.2M552.2 103.3l-5.4 11.8"/>
<path class="c151" d="M237.9 55.6l7.8 1.4 7.7 1.4 7.7 1.4 7.7 1.2-5.4 11.3-7.7-1.1-7.7-1.2-7.8-1.3-7.7-1.4z"/>
<path class="mu" d="M237.9 55.6l-5.4 11.7"/>
<path class="c152" d="M268.8 61l7.7 1.3 7.8 1.1 7.7 1.2 7.7 1-5.4 9.9-7.7-.7-7.7-.7-7.8-.9-7.7-.9z"/>
<path class="mu" d="M268.8 61l-5.4 11.3"/>
<path class="c153" d="M299.7 65.6l7.7 1 7.8 1 7.7 1 7.7 .9-5.4 7.7-7.7-.3-7.7-.4-7.8-.5-7.7-.5z"/>
<path class="mu" d="M299.7 65.6l-5.4 9.9"/>
<path class="c154" d="M330.6 69.5l7.7 .8 7.8 .8 7.7 .8 7.7 .8-5.4 5.1-7.7-.1-7.8-.1-7.7-.2-7.7-.2z"/>
<path class="mu" d="M330.6 69.5l-5.4 7.7"/>
<path class="c155" d="M361.5 72.7l7.7 .8 7.7 .7 7.8 .8 7.7 .7-5.4 2.1-7.7 0-7.8 0-7.7 0-7.7 0z"/>
<path class="mu" d="M361.5 72.7l-5.4 5.1"/>
<path class="c156" d="M392.4 75.7l7.7 2.3 7.7 2.2 7.8 2.2 7.7 2.2-5.4 5.1-7.8-2.9-7.7-3-7.7-3-7.7-3z"/>
<path class="mu" d="M392.4 75.7l-5.4 2.1"/>
<path class="c157" d="M423.3 84.6l7.7 2.2 7.7 2.2 7.7 2.1 7.8 2.2-5.4 7.7-7.8-2.8-7.7-2.8-7.7-2.8-7.7-2.9z"/>
<path class="mu" d="M423.3 84.6l-5.4 5.1"/>
<path class="c158" d="M454.2 93.3l7.7 2 7.7 2.1 7.7 2 7.8 1.9-5.5 9.9-7.7-2.4-7.7-2.6-7.7-2.5-7.7-2.7z"/>
<path class="mu" d="M454.2 93.3l-5.4 7.7"/>
<path class="c159" d="M485.1 101.3l7.7 1.9 7.7 1.9 7.7 1.8 7.7 1.7-5.4 11.3-7.7-2-7.7-2.2-7.7-2.2-7.8-2.3z"/>
<path class="mu" d="M485.1 101.3l-5.5 9.9"/>
<path class="c160" d="M515.9 108.6l7.8 1.7 7.7 1.7 7.7 1.5 7.7 1.6-5.4 11.7-7.7-1.6-7.7-1.6-7.7-1.8-7.8-1.9z"/>
<path class="mu" d="M515.9 108.6l-5.4 11.3M546.8 115.1l-5.4 11.7"/>
<path class="c151" d="M232.5 67.3l7.7 1.4 7.8 1.3 7.7 1.2 7.7 1.1-5.4 11.2-7.7-.9-7.7-1-7.8-1.2-7.7-1.4z"/>
<path class="mu" d="M232.5 67.3l-5.4 11.7"/>
<path class="c152" d="M263.4 72.3l7.7 .9 7.8 .9 7.7 .7 7.7 .7-5.4 9.8-7.7-.2-7.8-.4-7.7-.5-7.7-.7z"/>
<path class="mu" d="M263.4 72.3l-5.4 11.2"/>
<path class="c153" d="M294.3 75.5l7.7 .5 7.8 .5 7.7 .4 7.7 .3-5.4 7.7-7.7 .3-7.8 .1-7.7 .1-7.7-.1z"/>
<path class="mu" d="M294.3 75.5l-5.4 9.8"/>
<path class="c154" d="M325.2 77.2l7.7 .2 7.7 .2 7.8 .1 7.7 .1-5.4 5-7.8 .6-7.7 .6-7.7 .5-7.7 .4z"/>
<path class="mu" d="M325.2 77.2l-5.4 7.7"/>
<path class="c155" d="M356.1 77.8l7.7 0 7.7 0 7.8 0 7.7 0-5.4 2.2-7.8 .7-7.7 .7-7.7 .7-7.7 .7z"/>
<path class="mu" d="M356.1 77.8l-5.4 5"/>
<path class="c156" d="M387 77.8l7.7 3 7.7 3 7.7 3 7.8 2.9-5.4 5-7.8-3.6-7.7-3.7-7.7-3.7-7.7-3.7z"/>
<path class="mu" d="M387 77.8l-5.4 2.2"/>
<path class="c157" d="M417.9 89.7l7.7 2.9 7.7 2.8 7.7 2.8 7.8 2.8-5.5 7.7-7.7-3.4-7.7-3.5-7.7-3.5-7.7-3.6z"/>
<path class="mu" d="M417.9 89.7l-5.4 5"/>
<path class="c158" d="M448.8 101l7.7 2.7 7.7 2.5 7.7 2.6 7.7 2.4-5.4 9.8-7.7-2.9-7.7-3-7.7-3.2-7.8-3.2z"/>
<path class="mu" d="M448.8 101l-5.5 7.7"/>
<path class="c159" d="M479.6 111.2l7.8 2.3 7.7 2.2 7.7 2.2 7.7 2-5.4 11.2-7.7-2.3-7.7-2.4-7.7-2.6-7.8-2.8z"/>
<path class="mu" d="M479.6 111.2l-5.4 9.8"/>
<path class="c160" d="M510.5 119.9l7.8 1.9 7.7 1.8 7.7 1.6 7.7 1.6-5.4 11.7-7.7-1.6-7.7-1.8-7.8-1.9-7.7-2.1z"/>
<path class="mu" d="M510.5 119.9l-5.4 11.2M541.4 126.8l-5.4 11.7"/>
<path class="c151" d="M227.1 79l7.7 1.4 7.8 1.2 7.7 1 7.7 .9-5.4 11.2-7.7-.6-7.8-.9-7.7-1.1-7.7-1.4z"/>
<path class="mu" d="M227.1 79l-5.4 11.7"/>
<path class="c152" d="M258 83.5l7.7 .7 7.7 .5 7.8 .4 7.7 .2-5.4 9.8-7.7 .2-7.8 0-7.7-.2-7.7-.4z"/>
<path class="mu" d="M258 83.5l-5.4 11.2"/>
<path class="c153" d="M288.9 85.3l7.7 .1 7.7-.1 7.8-.1 7.7-.3-5.4 7.6-7.8 .9-7.7 .7-7.7 .6-7.7 .4z"/>
<path class="mu" d="M288.9 85.3l-5.4 9.8"/>
<path class="c154" d="M319.8 84.9l7.7-.4 7.7-.5 7.7-.6 7.8-.6-5.4 5-7.8 1.3-7.7 1.2-7.7 1.2-7.7 1z"/>
<path class="mu" d="M319.8 84.9l-5.4 7.6"/>
<path class="c155" d="M350.7 82.8l7.7-.7 7.7-.7 7.7-.7 7.8-.7-5.5 2.1-7.7 1.4-7.7 1.5-7.7 1.4-7.7 1.4z"/>
<path class="mu" d="M350.7 82.8l-5.4 5"/>
<path class="c156" d="M381.6 80l7.7 3.7 7.7 3.7 7.7 3.7 7.8 3.6-5.5 5-7.7-4.3-7.7-4.4-7.7-4.5-7.8-4.4z"/>
<path class="mu" d="M381.6 80l-5.5 2.1"/>
<path class="c157" d="M412.5 94.7l7.7 3.6 7.7 3.5 7.7 3.5 7.7 3.4-5.4 7.6-7.7-4-7.7-4.1-7.7-4.2-7.8-4.3z"/>
<path class="mu" d="M412.5 94.7l-5.5 5"/>
<path class="c158" d="M443.3 108.7l7.8 3.2 7.7 3.2 7.7 3 7.7 2.9-5.4 9.8-7.7-3.4-7.7-3.6-7.7-3.7-7.8-3.8z"/>
<path class="mu" d="M443.3 108.7l-5.4 7.6"/>
<path class="c159" d="M474.2 121l7.8 2.8 7.7 2.6 7.7 2.4 7.7 2.3-5.4 11.2-7.7-2.6-7.7-2.7-7.8-3-7.7-3.2z"/>
<path class="mu" d="M474.2 121l-5.4 9.8"/>
<path class="c160" d="M505.1 131.1l7.7 2.1 7.8 1.9 7.7 1.8 7.7 1.6-5.4 11.7-7.7-1.6-7.7-1.9-7.8-2.1-7.7-2.3z"/>
<path class="mu" d="M505.1 131.1l-5.4 11.2M536 138.5l-5.4 11.7"/>
<path class="c161" d="M221.7 90.7l7.7 1.4 7.7 1.1 7.8 .9 7.7 .6-5.4 11.2-7.7-.4-7.8-.7-7.7-1.1-7.7-1.3z"/>
<path class="mu" d="M221.7 90.7l7.7 1.4 7.7 1.1 7.8 .9 7.7 .6M221.7 90.7l-5.4 11.7"/>
<path class="c162" d="M252.6 94.7l7.7 .4 7.7 .2 7.8 0 7.7-.2-5.4 9.7-7.8 .6-7.7 .5-7.7 .1-7.7-.1z"/>
<path class="mu" d="M252.6 94.7l7.7 .4 7.7 .2 7.8 0 7.7-.2M252.6 94.7l-5.4 11.2"/>
<path class="c163" d="M283.5 95.1l7.7-.4 7.7-.6 7.7-.7 7.8-.9-5.4 7.5-7.8 1.5-7.7 1.3-7.7 1.1-7.7 .9z"/>
<path class="mu" d="M283.5 95.1l7.7-.4 7.7-.6 7.7-.7 7.8-.9M283.5 95.1l-5.4 9.7"/>
<path class="c164" d="M314.4 92.5l7.7-1 7.7-1.2 7.7-1.2 7.8-1.3-5.5 4.9-7.7 2-7.7 1.9-7.7 1.8-7.7 1.6z"/>
<path class="mu" d="M314.4 92.5l7.7-1 7.7-1.2 7.7-1.2 7.8-1.3M314.4 92.5l-5.4 7.5"/>
<path class="c165" d="M345.3 87.8l7.7-1.4 7.7-1.4 7.7-1.5 7.7-1.4-5.4 2.1-7.7 2.2-7.7 2.1-7.7 2.2-7.8 2z"/>
<path class="mu" d="M345.3 87.8l7.7-1.4 7.7-1.4 7.7-1.5 7.7-1.4M345.3 87.8l-5.5 4.9"/>
<path class="c166" d="M376.1 82.1l7.8 4.4 7.7 4.5 7.7 4.4 7.7 4.3-5.4 4.9-7.7-5-7.7-5.1-7.7-5.2-7.8-5.1z"/>
<path class="mu" d="M376.1 82.1l7.8 4.4 7.7 4.5 7.7 4.4 7.7 4.3M376.1 82.1l-5.4 2.1"/>
<path class="c167" d="M407 99.7l7.8 4.3 7.7 4.2 7.7 4.1 7.7 4-5.4 7.5-7.7-4.6-7.7-4.8-7.8-4.8-7.7-5z"/>
<path class="mu" d="M407 99.7l7.8 4.3 7.7 4.2 7.7 4.1 7.7 4M407 99.7l-5.4 4.9"/>
<path class="c168" d="M437.9 116.3l7.8 3.8 7.7 3.7 7.7 3.6 7.7 3.4-5.4 9.7-7.7-3.9-7.7-4.1-7.8-4.2-7.7-4.5z"/>
<path class="mu" d="M437.9 116.3l7.8 3.8 7.7 3.7 7.7 3.6 7.7 3.4M437.9 116.3l-5.4 7.5"/>
<path class="c169" d="M468.8 130.8l7.7 3.2 7.8 3 7.7 2.7 7.7 2.6-5.4 11.2-7.7-2.9-7.7-3.1-7.8-3.4-7.7-3.6z"/>
<path class="mu" d="M468.8 130.8l7.7 3.2 7.8 3 7.7 2.7 7.7 2.6M468.8 130.8l-5.4 9.7"/>
<path class="c170" d="M499.7 142.3l7.7 2.3 7.8 2.1 7.7 1.9 7.7 1.6-5.4 11.7-7.7-1.6-7.8-2-7.7-2.3-7.7-2.5z"/>
<path class="mu" d="M499.7 142.3l7.7 2.3 7.8 2.1 7.7 1.9 7.7 1.6M499.7 142.3l-5.4 11.2M530.6 150.2l-5.4 11.7"/>
<path class="c161" d="M216.3 102.4l7.7 1.3 7.7 1.1 7.8 .7 7.7 .4-5.4 11.1-7.8-.1-7.7-.6-7.7-.9-7.7-1.3z"/>
<path class="mu" d="M216.3 102.4l-5.4 11.7"/>
<path class="c162" d="M247.2 105.9l7.7 .1 7.7-.1 7.7-.5 7.8-.6-5.4 9.6-7.8 1.1-7.7 .8-7.7 .6-7.7 .1z"/>
<path class="mu" d="M247.2 105.9l-5.4 11.1"/>
<path class="c163" d="M278.1 104.8l7.7-.9 7.7-1.1 7.7-1.3 7.8-1.5-5.5 7.4-7.7 2.1-7.7 1.8-7.7 1.7-7.7 1.4z"/>
<path class="mu" d="M278.1 104.8l-5.4 9.6"/>
<path class="c164" d="M309 100l7.7-1.6 7.7-1.8 7.7-1.9 7.7-2-5.4 4.8-7.7 2.7-7.7 2.5-7.7 2.4-7.8 2.3z"/>
<path class="mu" d="M309 100l-5.5 7.4"/>
<path class="c165" d="M339.8 92.7l7.8-2 7.7-2.2 7.7-2.1 7.7-2.2-5.4 2.1-7.7 2.9-7.7 2.8-7.7 2.8-7.8 2.7z"/>
<path class="mu" d="M339.8 92.7l-5.4 4.8"/>
<path class="c166" d="M370.7 84.2l7.8 5.1 7.7 5.2 7.7 5.1 7.7 5-5.4 4.8-7.7-5.7-7.7-5.7-7.8-5.9-7.7-5.8z"/>
<path class="mu" d="M370.7 84.2l-5.4 2.1"/>
<path class="c167" d="M401.6 104.6l7.7 5 7.8 4.8 7.7 4.8 7.7 4.6-5.4 7.4-7.7-5.2-7.7-5.4-7.8-5.5-7.7-5.7z"/>
<path class="mu" d="M401.6 104.6l-5.4 4.8"/>
<path class="c168" d="M432.5 123.8l7.7 4.5 7.8 4.2 7.7 4.1 7.7 3.9-5.4 9.6-7.7-4.4-7.7-4.6-7.8-4.9-7.7-5z"/>
<path class="mu" d="M432.5 123.8l-5.4 7.4"/>
<path class="c169" d="M463.4 140.5l7.7 3.6 7.8 3.4 7.7 3.1 7.7 2.9-5.4 11.1-7.7-3.1-7.8-3.5-7.7-3.8-7.7-4.1z"/>
<path class="mu" d="M463.4 140.5l-5.4 9.6"/>
<path class="c170" d="M494.3 153.5l7.7 2.5 7.7 2.3 7.8 2 7.7 1.6-5.4 11.7-7.7-1.7-7.8-2-7.7-2.5-7.7-2.8z"/>
<path class="mu" d="M494.3 153.5l-5.4 11.1M525.2 161.9l-5.4 11.7"/>
<path class="c161" d="M210.9 114.1l7.7 1.3 7.7 .9 7.7 .6 7.8 .1-5.4 11.1-7.8 .1-7.7-.3-7.7-.8-7.7-1.3z"/>
<path class="mu" d="M210.9 114.1l-5.4 11.7"/>
<path class="c162" d="M241.8 117l7.7-.1 7.7-.6 7.7-.8 7.8-1.1-5.5 9.5-7.7 1.6-7.7 1.2-7.7 .9-7.7 .5z"/>
<path class="mu" d="M241.8 117l-5.4 11.1"/>
<path class="c163" d="M272.7 114.4l7.7-1.4 7.7-1.7 7.7-1.8 7.7-2.1-5.4 7.2-7.7 2.7-7.7 2.5-7.7 2.2-7.8 1.9z"/>
<path class="mu" d="M272.7 114.4l-5.5 9.5"/>
<path class="c164" d="M303.5 107.4l7.8-2.3 7.7-2.4 7.7-2.5 7.7-2.7-5.4 4.8-7.7 3.3-7.7 3.1-7.7 3.1-7.8 2.8z"/>
<path class="mu" d="M303.5 107.4l-5.4 7.2"/>
<path class="c165" d="M334.4 97.5l7.8-2.7 7.7-2.8 7.7-2.8 7.7-2.9-5.4 2.1-7.7 3.5-7.7 3.5-7.8 3.5-7.7 3.4z"/>
<path class="mu" d="M334.4 97.5l-5.4 4.8"/>
<path class="c166" d="M365.3 86.3l7.7 5.8 7.8 5.9 7.7 5.7 7.7 5.7-5.4 4.8-7.7-6.4-7.7-6.4-7.8-6.5-7.7-6.5z"/>
<path class="mu" d="M365.3 86.3l-5.4 2.1"/>
<path class="c167" d="M396.2 109.4l7.7 5.7 7.8 5.5 7.7 5.4 7.7 5.2-5.4 7.2-7.7-5.8-7.8-6-7.7-6.2-7.7-6.2z"/>
<path class="mu" d="M396.2 109.4l-5.4 4.8"/>
<path class="c168" d="M427.1 131.2l7.7 5 7.8 4.9 7.7 4.6 7.7 4.4-5.4 9.5-7.7-4.9-7.8-5.2-7.7-5.4-7.7-5.7z"/>
<path class="mu" d="M427.1 131.2l-5.4 7.2"/>
<path class="c169" d="M458 150.1l7.7 4.1 7.7 3.8 7.8 3.5 7.7 3.1-5.4 11.1-7.8-3.4-7.7-3.9-7.7-4.2-7.7-4.6z"/>
<path class="mu" d="M458 150.1l-5.4 9.5"/>
<path class="c170" d="M488.9 164.6l7.7 2.8 7.7 2.5 7.8 2 7.7 1.7-5.4 11.7-7.8-1.7-7.7-2.2-7.7-2.6-7.7-3.1z"/>
<path class="mu" d="M488.9 164.6l-5.4 11.1M519.8 173.6l-5.4 11.7"/>
<path class="c161" d="M205.5 125.8l7.7 1.3 7.7 .8 7.7 .3 7.8-.1-5.5 11.1-7.7 .4-7.7-.2-7.7-.7-7.8-1.2z"/>
<path class="mu" d="M205.5 125.8l-5.5 11.7"/>
<path class="c162" d="M236.4 128.1l7.7-.5 7.7-.9 7.7-1.2 7.7-1.6-5.4 9.3-7.7 2.1-7.7 1.7-7.7 1.3-7.8 .9z"/>
<path class="mu" d="M236.4 128.1l-5.5 11.1"/>
<path class="c163" d="M267.2 123.9l7.8-1.9 7.7-2.2 7.7-2.5 7.7-2.7-5.4 7.1-7.7 3.3-7.7 3-7.7 2.8-7.8 2.4z"/>
<path class="mu" d="M267.2 123.9l-5.4 9.3"/>
<path class="c164" d="M298.1 114.6l7.8-2.8 7.7-3.1 7.7-3.1 7.7-3.3-5.4 4.6-7.7 3.9-7.7 3.8-7.8 3.7-7.7 3.4z"/>
<path class="mu" d="M298.1 114.6l-5.4 7.1"/>
<path class="c165" d="M329 102.3l7.7-3.4 7.8-3.5 7.7-3.5 7.7-3.5-5.4 2.1-7.7 4.2-7.7 4.1-7.8 4.1-7.7 4z"/>
<path class="mu" d="M329 102.3l-5.4 4.6"/>
<path class="c166" d="M359.9 88.4l7.7 6.5 7.8 6.5 7.7 6.4 7.7 6.4-5.4 4.6-7.7-7-7.8-7-7.7-7.1-7.7-7.2z"/>
<path class="mu" d="M359.9 88.4l-5.4 2.1"/>
<path class="c167" d="M390.8 114.2l7.7 6.2 7.7 6.2 7.8 6 7.7 5.8-5.4 7.1-7.7-6.4-7.8-6.6-7.7-6.8-7.7-6.9z"/>
<path class="mu" d="M390.8 114.2l-5.4 4.6"/>
<path class="c168" d="M421.7 138.4l7.7 5.7 7.7 5.4 7.8 5.2 7.7 4.9-5.4 9.3-7.8-5.4-7.7-5.7-7.7-6-7.7-6.3z"/>
<path class="mu" d="M421.7 138.4l-5.4 7.1"/>
<path class="c169" d="M452.6 159.6l7.7 4.6 7.7 4.2 7.7 3.9 7.8 3.4-5.4 11.1-7.8-3.8-7.7-4.3-7.7-4.7-7.7-5.1z"/>
<path class="mu" d="M452.6 159.6l-5.4 9.3"/>
<path class="c170" d="M483.5 175.7l7.7 3.1 7.7 2.6 7.7 2.2 7.8 1.7-5.5 11.7-7.7-1.7-7.7-2.3-7.7-2.9-7.7-3.3z"/>
<path class="mu" d="M483.5 175.7l-5.4 11.1M514.4 185.3l-5.5 11.7"/>
<path class="c171" d="M200 137.5l7.8 1.2 7.7 .7 7.7 .2 7.7-.4-5.4 11-7.7 .6-7.7 .1-7.7-.5-7.8-1.2z"/>
<path class="mu" d="M200 137.5l7.8 1.2 7.7 .7 7.7 .2 7.7-.4M200 137.5l-5.4 11.7"/>
<path class="c172" d="M230.9 139.2l7.8-.9 7.7-1.3 7.7-1.7 7.7-2.1-5.4 9.2-7.7 2.6-7.7 2.2-7.8 1.7-7.7 1.3z"/>
<path class="mu" d="M230.9 139.2l7.8-.9 7.7-1.3 7.7-1.7 7.7-2.1M230.9 139.2l-5.4 11"/>
<path class="c173" d="M261.8 133.2l7.8-2.4 7.7-2.8 7.7-3 7.7-3.3-5.4 6.9-7.7 3.8-7.7 3.7-7.8 3.3-7.7 3z"/>
<path class="mu" d="M261.8 133.2l7.8-2.4 7.7-2.8 7.7-3 7.7-3.3M261.8 133.2l-5.4 9.2"/>
<path class="c174" d="M292.7 121.7l7.7-3.4 7.8-3.7 7.7-3.8 7.7-3.9-5.4 4.5-7.7 4.5-7.7 4.4-7.8 4.2-7.7 4.1z"/>
<path class="mu" d="M292.7 121.7l7.7-3.4 7.8-3.7 7.7-3.8 7.7-3.9M292.7 121.7l-5.4 6.9"/>
<path class="c175" d="M323.6 106.9l7.7-4 7.8-4.1 7.7-4.1 7.7-4.2-5.4 2.2-7.7 4.7-7.8 4.7-7.7 4.7-7.7 4.6z"/>
<path class="mu" d="M323.6 106.9l7.7-4 7.8-4.1 7.7-4.1 7.7-4.2M323.6 106.9l-5.4 4.5"/>
<path class="c176" d="M354.5 90.5l7.7 7.2 7.7 7.1 7.8 7 7.7 7-5.4 4.5-7.7-7.6-7.8-7.6-7.7-7.7-7.7-7.7z"/>
<path class="mu" d="M354.5 90.5l7.7 7.2 7.7 7.1 7.8 7 7.7 7M354.5 90.5l-5.4 2.2"/>
<path class="c177" d="M385.4 118.8l7.7 6.9 7.7 6.8 7.8 6.6 7.7 6.4-5.4 6.9-7.8-7-7.7-7.3-7.7-7.3-7.7-7.5z"/>
<path class="mu" d="M385.4 118.8l7.7 6.9 7.7 6.8 7.8 6.6 7.7 6.4M385.4 118.8l-5.4 4.5"/>
<path class="c178" d="M416.3 145.5l7.7 6.3 7.7 6 7.7 5.7 7.8 5.4-5.4 9.2-7.8-6-7.7-6.3-7.7-6.6-7.7-6.8z"/>
<path class="mu" d="M416.3 145.5l7.7 6.3 7.7 6 7.7 5.7 7.8 5.4M416.3 145.5l-5.4 6.9"/>
<path class="c179" d="M447.2 168.9l7.7 5.1 7.7 4.7 7.7 4.3 7.8 3.8-5.5 11-7.7-4.2-7.7-4.7-7.7-5.2-7.7-5.6z"/>
<path class="mu" d="M447.2 168.9l7.7 5.1 7.7 4.7 7.7 4.3 7.8 3.8M447.2 168.9l-5.4 9.2"/>
<path class="c180" d="M478.1 186.8l7.7 3.3 7.7 2.9 7.7 2.3 7.7 1.7-5.4 11.7-7.7-1.8-7.7-2.4-7.7-3.1-7.8-3.6z"/>
<path class="mu" d="M478.1 186.8l7.7 3.3 7.7 2.9 7.7 2.3 7.7 1.7M478.1 186.8l-5.5 11M508.9 197l-5.4 11.7"/>
<path class="c171" d="M194.6 149.2l7.8 1.2 7.7 .5 7.7-.1 7.7-.6-5.4 10.9-7.7 1-7.7 .3-7.8-.3-7.7-1.2z"/>
<path class="mu" d="M194.6 149.2l-5.4 11.7"/>
<path class="c172" d="M225.5 150.2l7.7-1.3 7.8-1.7 7.7-2.2 7.7-2.6-5.4 8.9-7.7 3.2-7.7 2.7-7.8 2.2-7.7 1.7z"/>
<path class="mu" d="M225.5 150.2l-5.4 10.9"/>
<path class="c173" d="M256.4 142.4l7.7-3 7.8-3.3 7.7-3.7 7.7-3.8-5.4 6.6-7.7 4.5-7.8 4.1-7.7 3.9-7.7 3.6z"/>
<path class="mu" d="M256.4 142.4l-5.4 8.9"/>
<path class="c174" d="M287.3 128.6l7.7-4.1 7.8-4.2 7.7-4.4 7.7-4.5-5.4 4.3-7.7 5.1-7.8 5-7.7 4.8-7.7 4.6z"/>
<path class="mu" d="M287.3 128.6l-5.4 6.6"/>
<path class="c175" d="M318.2 111.4l7.7-4.6 7.7-4.7 7.8-4.7 7.7-4.7-5.4 2.1-7.7 5.3-7.8 5.2-7.7 5.3-7.7 5.1z"/>
<path class="mu" d="M318.2 111.4l-5.4 4.3"/>
<path class="c176" d="M349.1 92.7l7.7 7.7 7.7 7.7 7.8 7.6 7.7 7.6-5.4 4.3-7.8-8.1-7.7-8.2-7.7-8.3-7.7-8.2z"/>
<path class="mu" d="M349.1 92.7l-5.4 2.1"/>
<path class="c177" d="M380 123.3l7.7 7.5 7.7 7.3 7.7 7.3 7.8 7-5.4 6.6-7.8-7.6-7.7-7.8-7.7-7.9-7.7-8.1z"/>
<path class="mu" d="M380 123.3l-5.4 4.3"/>
<path class="c178" d="M410.9 152.4l7.7 6.8 7.7 6.6 7.7 6.3 7.8 6-5.5 8.9-7.7-6.5-7.7-6.9-7.7-7.2-7.7-7.4z"/>
<path class="mu" d="M410.9 152.4l-5.4 6.6"/>
<path class="c179" d="M441.8 178.1l7.7 5.6 7.7 5.2 7.7 4.7 7.7 4.2-5.4 10.9-7.7-4.7-7.7-5.2-7.7-5.6-7.8-6.2z"/>
<path class="mu" d="M441.8 178.1l-5.5 8.9"/>
<path class="c180" d="M472.6 197.8l7.8 3.6 7.7 3.1 7.7 2.4 7.7 1.8-5.4 11.7-7.7-1.8-7.7-2.6-7.7-3.3-7.8-4z"/>
<path class="mu" d="M472.6 197.8l-5.4 10.9M503.5 208.7l-5.4 11.7"/>
<path class="c171" d="M189.2 160.9l7.7 1.2 7.8 .3 7.7-.3 7.7-1-5.4 10.7-7.7 1.4-7.7 .7-7.8-.2-7.7-1z"/>
<path class="mu" d="M189.2 160.9l-5.4 11.8"/>
<path class="c172" d="M220.1 161.1l7.7-1.7 7.8-2.2 7.7-2.7 7.7-3.2-5.4 8.7-7.7 3.7-7.8 3.3-7.7 2.7-7.7 2.1z"/>
<path class="mu" d="M220.1 161.1l-5.4 10.7"/>
<path class="c173" d="M251 151.3l7.7-3.6 7.7-3.9 7.8-4.1 7.7-4.5-5.4 6.4-7.7 5-7.8 4.8-7.7 4.4-7.7 4.2z"/>
<path class="mu" d="M251 151.3l-5.4 8.7"/>
<path class="c174" d="M281.9 135.2l7.7-4.6 7.7-4.8 7.8-5 7.7-5.1-5.4 4.2-7.8 5.6-7.7 5.5-7.7 5.4-7.7 5.2z"/>
<path class="mu" d="M281.9 135.2l-5.4 6.4"/>
<path class="c175" d="M312.8 115.7l7.7-5.1 7.7-5.3 7.8-5.2 7.7-5.3-5.4 2.1-7.8 5.8-7.7 5.8-7.7 5.7-7.7 5.7z"/>
<path class="mu" d="M312.8 115.7l-5.4 4.2"/>
<path class="c176" d="M343.7 94.8l7.7 8.2 7.7 8.3 7.7 8.2 7.8 8.1-5.4 4.2-7.8-8.6-7.7-8.8-7.7-8.7-7.7-8.8z"/>
<path class="mu" d="M343.7 94.8l-5.4 2.1"/>
<path class="c177" d="M374.6 127.6l7.7 8.1 7.7 7.9 7.7 7.8 7.8 7.6-5.5 6.4-7.7-8.2-7.7-8.3-7.7-8.5-7.7-8.6z"/>
<path class="mu" d="M374.6 127.6l-5.4 4.2"/>
<path class="c178" d="M405.5 159l7.7 7.4 7.7 7.2 7.7 6.9 7.7 6.5-5.4 8.7-7.7-7.1-7.7-7.5-7.7-7.7-7.8-8z"/>
<path class="mu" d="M405.5 159l-5.5 6.4"/>
<path class="c179" d="M436.3 187l7.8 6.2 7.7 5.6 7.7 5.2 7.7 4.7-5.4 10.7-7.7-5.1-7.7-5.7-7.7-6.2-7.8-6.7z"/>
<path class="mu" d="M436.3 187l-5.4 8.7"/>
<path class="c180" d="M467.2 208.7l7.8 4 7.7 3.3 7.7 2.6 7.7 1.8-5.4 11.8-7.7-2-7.7-2.8-7.8-3.6-7.7-4.4z"/>
<path class="mu" d="M467.2 208.7l-5.4 10.7M498.1 220.4l-5.4 11.8"/>
<path class="c171" d="M183.8 172.7l7.7 1 7.8 .2 7.7-.7 7.7-1.4-5.4 10.6-7.7 1.9-7.8 1-7.7 0-7.7-.9z"/>
<path class="mu" d="M183.8 172.7l-5.4 11.7"/>
<path class="c172" d="M214.7 171.8l7.7-2.1 7.7-2.7 7.8-3.3 7.7-3.7-5.4 8.3-7.7 4.3-7.8 3.9-7.7 3.3-7.7 2.6z"/>
<path class="mu" d="M214.7 171.8l-5.4 10.6"/>
<path class="c173" d="M245.6 160l7.7-4.2 7.7-4.4 7.8-4.8 7.7-5-5.4 6-7.8 5.6-7.7 5.3-7.7 5.1-7.7 4.7z"/>
<path class="mu" d="M245.6 160l-5.4 8.3"/>
<path class="c174" d="M276.5 141.6l7.7-5.2 7.7-5.4 7.7-5.5 7.8-5.6-5.4 4-7.8 6.1-7.7 6-7.7 5.9-7.7 5.7z"/>
<path class="mu" d="M276.5 141.6l-5.4 6"/>
<path class="c175" d="M307.4 119.9l7.7-5.7 7.7-5.7 7.7-5.8 7.8-5.8-5.5 2.1-7.7 6.3-7.7 6.2-7.7 6.3-7.7 6.1z"/>
<path class="mu" d="M307.4 119.9l-5.4 4"/>
<path class="c176" d="M338.3 96.9l7.7 8.8 7.7 8.7 7.7 8.8 7.8 8.6-5.5 4-7.7-9.1-7.7-9.2-7.7-9.2-7.8-9.3z"/>
<path class="mu" d="M338.3 96.9l-5.5 2.1"/>
<path class="c177" d="M369.2 131.8l7.7 8.6 7.7 8.5 7.7 8.3 7.7 8.2-5.4 6-7.7-8.7-7.7-8.8-7.7-9-7.8-9.1z"/>
<path class="mu" d="M369.2 131.8l-5.5 4"/>
<path class="c178" d="M400 165.4l7.8 8 7.7 7.7 7.7 7.5 7.7 7.1-5.4 8.3-7.7-7.7-7.7-8-7.7-8.3-7.8-8.6z"/>
<path class="mu" d="M400 165.4l-5.4 6"/>
<path class="c179" d="M430.9 195.7l7.8 6.7 7.7 6.2 7.7 5.7 7.7 5.1-5.4 10.6-7.7-5.6-7.7-6.2-7.8-6.9-7.7-7.3z"/>
<path class="mu" d="M430.9 195.7l-5.4 8.3"/>
<path class="c180" d="M461.8 219.4l7.7 4.4 7.8 3.6 7.7 2.8 7.7 2-5.4 11.7-7.7-2-7.7-3.1-7.8-3.9-7.7-4.9z"/>
<path class="mu" d="M461.8 219.4l-5.4 10.6M492.7 232.2l-5.4 11.7"/>
<path class="c181" d="M178.4 184.4l7.7 .9 7.7 0 7.8-1 7.7-1.9-5.4 10.4-7.7 2.4-7.8 1.4-7.7 .4-7.7-.9z"/>
<path class="mu" d="M178.4 184.4l7.7 .9 7.7 0 7.8-1 7.7-1.9M178.4 184.4l-5.4 11.7"/>
<path class="c182" d="M209.3 182.4l7.7-2.6 7.7-3.3 7.8-3.9 7.7-4.3-5.4 7.9-7.8 5-7.7 4.5-7.7 3.9-7.7 3.2z"/>
<path class="mu" d="M209.3 182.4l7.7-2.6 7.7-3.3 7.8-3.9 7.7-4.3M209.3 182.4l-5.4 10.4"/>
<path class="c183" d="M240.2 168.3l7.7-4.7 7.7-5.1 7.7-5.3 7.8-5.6-5.4 5.7-7.8 6.1-7.7 5.9-7.7 5.6-7.7 5.3z"/>
<path class="mu" d="M240.2 168.3l7.7-4.7 7.7-5.1 7.7-5.3 7.8-5.6M240.2 168.3l-5.4 7.9"/>
<path class="c184" d="M271.1 147.6l7.7-5.7 7.7-5.9 7.7-6 7.8-6.1-5.5 3.8-7.7 6.6-7.7 6.4-7.7 6.4-7.7 6.2z"/>
<path class="mu" d="M271.1 147.6l7.7-5.7 7.7-5.9 7.7-6 7.8-6.1M271.1 147.6l-5.4 5.7"/>
<path class="c185" d="M302 123.9l7.7-6.1 7.7-6.3 7.7-6.2 7.7-6.3-5.4 2.1-7.7 6.7-7.7 6.7-7.7 6.6-7.8 6.6z"/>
<path class="mu" d="M302 123.9l7.7-6.1 7.7-6.3 7.7-6.2 7.7-6.3M302 123.9l-5.5 3.8"/>
<path class="c186" d="M332.8 99l7.8 9.3 7.7 9.2 7.7 9.2 7.7 9.1-5.4 3.8-7.7-9.5-7.7-9.7-7.7-9.6-7.8-9.7z"/>
<path class="mu" d="M332.8 99l7.8 9.3 7.7 9.2 7.7 9.2 7.7 9.1M332.8 99l-5.4 2.1"/>
<path class="c187" d="M363.7 135.8l7.8 9.1 7.7 9 7.7 8.8 7.7 8.7-5.4 5.7-7.7-9.2-7.7-9.3-7.8-9.4-7.7-9.6z"/>
<path class="mu" d="M363.7 135.8l7.8 9.1 7.7 9 7.7 8.8 7.7 8.7M363.7 135.8l-5.4 3.8"/>
<path class="c188" d="M394.6 171.4l7.8 8.6 7.7 8.3 7.7 8 7.7 7.7-5.4 7.9-7.7-8.3-7.7-8.6-7.8-8.8-7.7-9.1z"/>
<path class="mu" d="M394.6 171.4l7.8 8.6 7.7 8.3 7.7 8 7.7 7.7M394.6 171.4l-5.4 5.7"/>
<path class="c189" d="M425.5 204l7.7 7.3 7.8 6.9 7.7 6.2 7.7 5.6-5.4 10.4-7.7-6.2-7.7-6.9-7.8-7.4-7.7-8z"/>
<path class="mu" d="M425.5 204l7.7 7.3 7.8 6.9 7.7 6.2 7.7 5.6M425.5 204l-5.4 7.9"/>
<path class="c190" d="M456.4 230l7.7 4.9 7.8 3.9 7.7 3.1 7.7 2-5.4 11.7-7.7-2.1-7.8-3.3-7.7-4.4-7.7-5.4z"/>
<path class="mu" d="M456.4 230l7.7 4.9 7.8 3.9 7.7 3.1 7.7 2M456.4 230l-5.4 10.4M487.3 243.9l-5.4 11.7"/>
<path class="c181" d="M173 196.1l7.7 .9 7.7-.4 7.8-1.4 7.7-2.4-5.4 10.1-7.8 3-7.7 2-7.7 .6-7.7-.7z"/>
<path class="mu" d="M173 196.1l-5.4 11.7"/>
<path class="c182" d="M203.9 192.8l7.7-3.2 7.7-3.9 7.7-4.5 7.8-5-5.4 7.5-7.8 5.6-7.7 5.1-7.7 4.6-7.7 3.9z"/>
<path class="mu" d="M203.9 192.8l-5.4 10.1"/>
<path class="c183" d="M234.8 176.2l7.7-5.3 7.7-5.6 7.7-5.9 7.8-6.1-5.5 5.4-7.7 6.5-7.7 6.4-7.7 6.2-7.7 5.9z"/>
<path class="mu" d="M234.8 176.2l-5.4 7.5"/>
<path class="c184" d="M265.7 153.3l7.7-6.2 7.7-6.4 7.7-6.4 7.7-6.6-5.4 3.7-7.7 6.9-7.7 6.9-7.7 6.8-7.8 6.7z"/>
<path class="mu" d="M265.7 153.3l-5.5 5.4"/>
<path class="c185" d="M296.5 127.7l7.8-6.6 7.7-6.6 7.7-6.7 7.7-6.7-5.4 2.1-7.7 7.1-7.7 7-7.7 7.1-7.8 7z"/>
<path class="mu" d="M296.5 127.7l-5.4 3.7"/>
<path class="c186" d="M327.4 101.1l7.8 9.7 7.7 9.6 7.7 9.7 7.7 9.5-5.4 3.7-7.7-10-7.7-10-7.8-10-7.7-10.1z"/>
<path class="mu" d="M327.4 101.1l-5.4 2.1"/>
<path class="c187" d="M358.3 139.6l7.7 9.6 7.8 9.4 7.7 9.3 7.7 9.2-5.4 5.4-7.7-9.7-7.7-9.8-7.8-9.8-7.7-9.9z"/>
<path class="mu" d="M358.3 139.6l-5.4 3.7"/>
<path class="c188" d="M389.2 177.1l7.7 9.1 7.8 8.8 7.7 8.6 7.7 8.3-5.4 7.5-7.7-8.9-7.8-9.1-7.7-9.4-7.7-9.5z"/>
<path class="mu" d="M389.2 177.1l-5.4 5.4"/>
<path class="c189" d="M420.1 211.9l7.7 8 7.8 7.4 7.7 6.9 7.7 6.2-5.4 10.1-7.7-6.8-7.8-7.6-7.7-8.1-7.7-8.6z"/>
<path class="mu" d="M420.1 211.9l-5.4 7.5"/>
<path class="c190" d="M451 240.4l7.7 5.4 7.7 4.4 7.8 3.3 7.7 2.1-5.4 11.7-7.7-2.2-7.8-3.7-7.7-4.9-7.7-6z"/>
<path class="mu" d="M451 240.4l-5.4 10.1M481.9 255.6l-5.4 11.7"/>
<path class="c181" d="M167.6 207.8l7.7 .7 7.7-.6 7.7-2 7.8-3-5.4 9.7-7.8 3.8-7.7 2.6-7.7 1.1-7.7-.6z"/>
<path class="mu" d="M167.6 207.8l-5.4 11.7"/>
<path class="c182" d="M198.5 202.9l7.7-3.9 7.7-4.6 7.7-5.1 7.8-5.6-5.5 6.9-7.7 6.2-7.7 5.8-7.7 5.4-7.7 4.6z"/>
<path class="mu" d="M198.5 202.9l-5.4 9.7"/>
<path class="c183" d="M229.4 183.7l7.7-5.9 7.7-6.2 7.7-6.4 7.7-6.5-5.4 4.9-7.7 7-7.7 6.8-7.7 6.7-7.8 6.5z"/>
<path class="mu" d="M229.4 183.7l-5.5 6.9"/>
<path class="c184" d="M260.2 158.7l7.8-6.7 7.7-6.8 7.7-6.9 7.7-6.9-5.4 3.4-7.7 7.3-7.7 7.2-7.7 7.2-7.8 7.1z"/>
<path class="mu" d="M260.2 158.7l-5.4 4.9"/>
<path class="c185" d="M291.1 131.4l7.8-7 7.7-7.1 7.7-7 7.7-7.1-5.4 2.2-7.7 7.3-7.7 7.4-7.8 7.4-7.7 7.3z"/>
<path class="mu" d="M291.1 131.4l-5.4 3.4"/>
<path class="c186" d="M322 103.2l7.7 10.1 7.8 10 7.7 10 7.7 10-5.4 3.4-7.7-10.3-7.7-10.3-7.8-10.4-7.7-10.3z"/>
<path class="mu" d="M322 103.2l-5.4 2.2"/>
<path class="c187" d="M352.9 143.3l7.7 9.9 7.8 9.8 7.7 9.8 7.7 9.7-5.4 4.9-7.7-10.1-7.8-10.1-7.7-10.3-7.7-10.2z"/>
<path class="mu" d="M352.9 143.3l-5.4 3.4"/>
<path class="c188" d="M383.8 182.5l7.7 9.5 7.7 9.4 7.8 9.1 7.7 8.9-5.4 6.9-7.7-9.4-7.8-9.7-7.7-9.9-7.7-9.9z"/>
<path class="mu" d="M383.8 182.5l-5.4 4.9"/>
<path class="c189" d="M414.7 219.4l7.7 8.6 7.7 8.1 7.8 7.6 7.7 6.8-5.4 9.7-7.8-7.6-7.7-8.3-7.7-8.8-7.7-9.2z"/>
<path class="mu" d="M414.7 219.4l-5.4 6.9"/>
<path class="c190" d="M445.6 250.5l7.7 6 7.7 4.9 7.8 3.7 7.7 2.2-5.4 11.7-7.8-2.4-7.7-4.1-7.7-5.5-7.7-6.8z"/>
<path class="mu" d="M445.6 250.5l-5.4 9.7M476.5 267.3l-5.4 11.7"/>
<path class="c181" d="M162.2 219.5l7.7 .6 7.7-1.1 7.7-2.6 7.8-3.8-5.5 9.1-7.7 4.7-7.7 3.4-7.7 1.8-7.8-.4z"/>
<path class="mu" d="M162.2 219.5l-5.5 11.7"/>
<path class="c182" d="M193.1 212.6l7.7-4.6 7.7-5.4 7.7-5.8 7.7-6.2-5.4 6.3-7.7 6.7-7.7 6.5-7.7 6.1-7.8 5.5z"/>
<path class="mu" d="M193.1 212.6l-5.5 9.1"/>
<path class="c183" d="M223.9 190.6l7.8-6.5 7.7-6.7 7.7-6.8 7.7-7-5.4 4.4-7.7 7.4-7.7 7.3-7.7 7.2-7.8 7z"/>
<path class="mu" d="M223.9 190.6l-5.4 6.3"/>
<path class="c184" d="M254.8 163.6l7.8-7.1 7.7-7.2 7.7-7.2 7.7-7.3-5.4 3.2-7.7 7.5-7.7 7.6-7.8 7.5-7.7 7.4z"/>
<path class="mu" d="M254.8 163.6l-5.4 4.4"/>
<path class="c185" d="M285.7 134.8l7.7-7.3 7.8-7.4 7.7-7.4 7.7-7.3-5.4 2.1-7.7 7.6-7.7 7.6-7.8 7.7-7.7 7.6z"/>
<path class="mu" d="M285.7 134.8l-5.4 3.2"/>
<path class="c186" d="M316.6 105.4l7.7 10.3 7.8 10.4 7.7 10.3 7.7 10.3-5.4 3.2-7.7-10.6-7.8-10.6-7.7-10.6-7.7-10.6z"/>
<path class="mu" d="M316.6 105.4l-5.4 2.1"/>
<path class="c187" d="M347.5 146.7l7.7 10.2 7.7 10.3 7.8 10.1 7.7 10.1-5.4 4.4-7.7-10.4-7.8-10.5-7.7-10.5-7.7-10.5z"/>
<path class="mu" d="M347.5 146.7l-5.4 3.2"/>
<path class="c188" d="M378.4 187.4l7.7 9.9 7.7 9.9 7.8 9.7 7.7 9.4-5.4 6.3-7.8-10-7.7-10.2-7.7-10.2-7.7-10.4z"/>
<path class="mu" d="M378.4 187.4l-5.4 4.4"/>
<path class="c189" d="M409.3 226.3l7.7 9.2 7.7 8.8 7.7 8.3 7.8 7.6-5.4 9.1-7.8-8.4-7.7-9.1-7.7-9.5-7.7-9.7z"/>
<path class="mu" d="M409.3 226.3l-5.4 6.3"/>
<path class="c190" d="M440.2 260.2l7.7 6.8 7.7 5.5 7.7 4.1 7.8 2.4-5.5 11.7-7.7-2.6-7.7-4.8-7.7-6.4-7.7-7.6z"/>
<path class="mu" d="M440.2 260.2l-5.4 9.1M471.1 279l-5.5 11.7"/>
<path class="c191" d="M156.7 231.2l7.8 .4 7.7-1.8 7.7-3.4 7.7-4.7-5.4 8.3-7.7 5.7-7.7 4.5-7.7 2.7-7.8 0z"/>
<path class="mu" d="M156.7 231.2l7.8 .4 7.7-1.8 7.7-3.4 7.7-4.7M156.7 231.2l-5.4 11.7"/>
<path class="c192" d="M187.6 221.7l7.8-5.5 7.7-6.1 7.7-6.5 7.7-6.7-5.4 5.4-7.7 7.3-7.7 7.2-7.7 6.8-7.8 6.4z"/>
<path class="mu" d="M187.6 221.7l7.8-5.5 7.7-6.1 7.7-6.5 7.7-6.7M187.6 221.7l-5.4 8.3"/>
<path class="c193" d="M218.5 196.9l7.8-7 7.7-7.2 7.7-7.3 7.7-7.4-5.4 4-7.7 7.7-7.7 7.6-7.8 7.6-7.7 7.4z"/>
<path class="mu" d="M218.5 196.9l7.8-7 7.7-7.2 7.7-7.3 7.7-7.4M218.5 196.9l-5.4 5.4"/>
<path class="c194" d="M249.4 168l7.7-7.4 7.8-7.5 7.7-7.6 7.7-7.5-5.4 2.9-7.7 7.8-7.7 7.8-7.8 7.8-7.7 7.7z"/>
<path class="mu" d="M249.4 168l7.7-7.4 7.8-7.5 7.7-7.6 7.7-7.5M249.4 168l-5.4 4"/>
<path class="c195" d="M280.3 138l7.7-7.6 7.8-7.7 7.7-7.6 7.7-7.6-5.4 2.1-7.7 7.8-7.8 7.9-7.7 7.8-7.7 7.8z"/>
<path class="mu" d="M280.3 138l7.7-7.6 7.8-7.7 7.7-7.6 7.7-7.6M280.3 138l-5.4 2.9"/>
<path class="c196" d="M311.2 107.5l7.7 10.6 7.7 10.6 7.8 10.6 7.7 10.6-5.4 2.9-7.7-10.8-7.8-10.8-7.7-10.8-7.7-10.8z"/>
<path class="mu" d="M311.2 107.5l7.7 10.6 7.7 10.6 7.8 10.6 7.7 10.6M311.2 107.5l-5.4 2.1"/>
<path class="c197" d="M342.1 149.9l7.7 10.5 7.7 10.5 7.8 10.5 7.7 10.4-5.4 4-7.8-10.7-7.7-10.7-7.7-10.8-7.7-10.8z"/>
<path class="mu" d="M342.1 149.9l7.7 10.5 7.7 10.5 7.8 10.5 7.7 10.4M342.1 149.9l-5.4 2.9"/>
<path class="c198" d="M373 191.8l7.7 10.4 7.7 10.2 7.7 10.2 7.8 10-5.4 5.4-7.8-10.4-7.7-10.5-7.7-10.6-7.7-10.7z"/>
<path class="mu" d="M373 191.8l7.7 10.4 7.7 10.2 7.7 10.2 7.8 10M373 191.8l-5.4 4"/>
<path class="c199" d="M403.9 232.6l7.7 9.7 7.7 9.5 7.7 9.1 7.8 8.4-5.5 8.3-7.7-9.4-7.7-9.8-7.7-10.1-7.7-10.3z"/>
<path class="mu" d="M403.9 232.6l7.7 9.7 7.7 9.5 7.7 9.1 7.8 8.4M403.9 232.6l-5.4 5.4"/>
<path class="c200" d="M434.8 269.3l7.7 7.6 7.7 6.4 7.7 4.8 7.7 2.6-5.4 11.7-7.7-3-7.7-5.7-7.7-7.5-7.8-8.6z"/>
<path class="mu" d="M434.8 269.3l7.7 7.6 7.7 6.4 7.7 4.8 7.7 2.6M434.8 269.3l-5.5 8.3M465.6 290.7l-5.4 11.7"/>
<path class="c191" d="M151.3 242.9l7.8 0 7.7-2.7 7.7-4.5 7.7-5.7-5.4 7-7.7 6.8-7.7 5.9-7.8 4.2-7.7 .7z"/>
<path class="mu" d="M151.3 242.9l-5.4 11.7"/>
<path class="c192" d="M182.2 230l7.8-6.4 7.7-6.8 7.7-7.2 7.7-7.3-5.4 4.6-7.7 7.8-7.7 7.6-7.8 7.5-7.7 7.2z"/>
<path class="mu" d="M182.2 230l-5.4 7"/>
<path class="c193" d="M213.1 202.3l7.7-7.4 7.8-7.6 7.7-7.6 7.7-7.7-5.4 3.5-7.7 7.9-7.8 7.9-7.7 7.8-7.7 7.8z"/>
<path class="mu" d="M213.1 202.3l-5.4 4.6"/>
<path class="c194" d="M244 172l7.7-7.7 7.8-7.8 7.7-7.8 7.7-7.8-5.4 2.7-7.7 8-7.8 8-7.7 7.9-7.7 8z"/>
<path class="mu" d="M244 172l-5.4 3.5"/>
<path class="c195" d="M274.9 140.9l7.7-7.8 7.7-7.8 7.8-7.9 7.7-7.8-5.4 2.1-7.7 8-7.8 8-7.7 8-7.7 7.9z"/>
<path class="mu" d="M274.9 140.9l-5.4 2.7"/>
<path class="c196" d="M305.8 109.6l7.7 10.8 7.7 10.8 7.8 10.8 7.7 10.8-5.4 2.7-7.8-10.9-7.7-11-7.7-10.9-7.7-11z"/>
<path class="mu" d="M305.8 109.6l-5.4 2.1"/>
<path class="c197" d="M336.7 152.8l7.7 10.8 7.7 10.8 7.7 10.7 7.8 10.7-5.4 3.5-7.8-10.9-7.7-11-7.7-10.9-7.7-11z"/>
<path class="mu" d="M336.7 152.8l-5.4 2.7"/>
<path class="c198" d="M367.6 195.8l7.7 10.7 7.7 10.6 7.7 10.5 7.8 10.4-5.5 4.6-7.7-10.8-7.7-10.8-7.7-10.8-7.7-10.9z"/>
<path class="mu" d="M367.6 195.8l-5.4 3.5"/>
<path class="c199" d="M398.5 238l7.7 10.3 7.7 10.1 7.7 9.8 7.7 9.4-5.4 7-7.7-10.2-7.7-10.4-7.7-10.7-7.8-10.7z"/>
<path class="mu" d="M398.5 238l-5.5 4.6"/>
<path class="c200" d="M429.3 277.6l7.8 8.6 7.7 7.5 7.7 5.7 7.7 3-5.4 11.7-7.7-3.7-7.7-7.1-7.7-8.9-7.8-9.8z"/>
<path class="mu" d="M429.3 277.6l-5.4 7M460.2 302.4l-5.4 11.7"/>
<path class="c191" d="M145.9 254.6l7.7-.7 7.8-4.2 7.7-5.9 7.7-6.8-5.4 5.4-7.7 7.7-7.7 7.4-7.8 6.4-7.7 2.4z"/>
<path class="mu" d="M145.9 254.6l-5.4 11.7"/>
<path class="c192" d="M176.8 237l7.7-7.2 7.8-7.5 7.7-7.6 7.7-7.8-5.4 3.7-7.7 8-7.8 8-7.7 7.9-7.7 7.9z"/>
<path class="mu" d="M176.8 237l-5.4 5.4"/>
<path class="c193" d="M207.7 206.9l7.7-7.8 7.7-7.8 7.8-7.9 7.7-7.9-5.4 2.9-7.7 8.1-7.8 8-7.7 8-7.7 8.1z"/>
<path class="mu" d="M207.7 206.9l-5.4 3.7"/>
<path class="c194" d="M238.6 175.5l7.7-8 7.7-7.9 7.8-8 7.7-8-5.4 2.5-7.8 8.1-7.7 8.1-7.7 8-7.7 8.1z"/>
<path class="mu" d="M238.6 175.5l-5.4 2.9"/>
<path class="c195" d="M269.5 143.6l7.7-7.9 7.7-8 7.8-8 7.7-8-5.4 2.1-7.8 8.1-7.7 8.1-7.7 8.1-7.7 8z"/>
<path class="mu" d="M269.5 143.6l-5.4 2.5"/>
<path class="c196" d="M300.4 111.7l7.7 11 7.7 10.9 7.7 11 7.8 10.9-5.4 2.5-7.8-11-7.7-11.1-7.7-11-7.7-11.1z"/>
<path class="mu" d="M300.4 111.7l-5.4 2.1"/>
<path class="c197" d="M331.3 155.5l7.7 11 7.7 10.9 7.7 11 7.8 10.9-5.5 2.9-7.7-11-7.7-11.1-7.7-11-7.7-11.1z"/>
<path class="mu" d="M331.3 155.5l-5.4 2.5"/>
<path class="c198" d="M362.2 199.3l7.7 10.9 7.7 10.8 7.7 10.8 7.7 10.8-5.4 3.7-7.7-11-7.7-11-7.7-11.1-7.8-11z"/>
<path class="mu" d="M362.2 199.3l-5.5 2.9"/>
<path class="c199" d="M393 242.6l7.8 10.7 7.7 10.7 7.7 10.4 7.7 10.2-5.4 5.4-7.7-10.9-7.7-10.9-7.7-10.9-7.8-11z"/>
<path class="mu" d="M393 242.6l-5.4 3.7"/>
<path class="c200" d="M423.9 284.6l7.8 9.8 7.7 8.9 7.7 7.1 7.7 3.7-5.4 11.7-7.7-5.4-7.7-9.4-7.8-10.3-7.7-10.7z"/>
<path class="mu" d="M423.9 284.6l-5.4 5.4M454.8 314.1l-5.4 11.7"/>
<path class="c191" d="M140.5 266.3l7.7-2.4 7.8-6.4 7.7-7.4 7.7-7.7-5.4 3.2-7.7 8.1-7.8 8.1-7.7 8.1-7.7 8.1z"/>
<path class="mu" d="M140.5 266.3l-5.4 11.7M135.1 278l7.7-8.1 7.7-8.1 7.8-8.1 7.7-8.1"/>
<path class="c192" d="M171.4 242.4l7.7-7.9 7.7-7.9 7.8-8 7.7-8-5.4 2.6-7.7 8.1-7.8 8.1-7.7 8.1-7.7 8.1z"/>
<path class="mu" d="M171.4 242.4l-5.4 3.2M166 245.6l7.7-8.1 7.7-8.1 7.8-8.1 7.7-8.1"/>
<path class="c193" d="M202.3 210.6l7.7-8.1 7.7-8 7.8-8 7.7-8.1-5.4 2.4-7.8 8.1-7.7 8.1-7.7 8.1-7.7 8.1z"/>
<path class="mu" d="M202.3 210.6l-5.4 2.6M196.9 213.2l7.7-8.1 7.7-8.1 7.7-8.1 7.8-8.1"/>
<path class="c194" d="M233.2 178.4l7.7-8.1 7.7-8 7.7-8.1 7.8-8.1-5.4 2.3-7.8 8.1-7.7 8.1-7.7 8.1-7.7 8.1z"/>
<path class="mu" d="M233.2 178.4l-5.4 2.4M227.8 180.8l7.7-8.1 7.7-8.1 7.7-8.1 7.8-8.1"/>
<path class="c195" d="M264.1 146.1l7.7-8 7.7-8.1 7.7-8.1 7.8-8.1-5.5 2.1-7.7 8.2-7.7 8.1-7.7 8.1-7.7 8.1z"/>
<path class="mu" d="M264.1 146.1l-5.4 2.3M258.7 148.4l7.7-8.1 7.7-8.1 7.7-8.1 7.7-8.2"/>
<path class="c196" d="M295 113.8l7.7 11.1 7.7 11 7.7 11.1 7.8 11-5.5 2.3-7.7-11.1-7.7-11.1-7.7-11.1-7.8-11.1z"/>
<path class="mu" d="M295 113.8l-5.5 2.1M289.5 115.9l7.8 11.1 7.7 11.1 7.7 11.1 7.7 11.1"/>
<path class="c197" d="M325.9 158l7.7 11.1 7.7 11 7.7 11.1 7.7 11-5.4 2.4-7.7-11.1-7.7-11.1-7.7-11.1-7.8-11z"/>
<path class="mu" d="M325.9 158l-5.5 2.3M320.4 160.3l7.8 11 7.7 11.1 7.7 11.1 7.7 11.1"/>
<path class="c198" d="M356.7 202.2l7.8 11 7.7 11.1 7.7 11 7.7 11-5.4 2.6-7.7-11.1-7.7-11.1-7.7-11-7.8-11.1z"/>
<path class="mu" d="M356.7 202.2l-5.4 2.4M351.3 204.6l7.8 11.1 7.7 11 7.7 11.1 7.7 11.1"/>
<path class="c199" d="M387.6 246.3l7.8 11 7.7 10.9 7.7 10.9 7.7 10.9-5.4 3.2-7.7-11-7.7-11.1-7.8-11.1-7.7-11.1z"/>
<path class="mu" d="M387.6 246.3l-5.4 2.6M382.2 248.9l7.7 11.1 7.8 11.1 7.7 11.1 7.7 11"/>
<path class="c200" d="M418.5 290l7.7 10.7 7.8 10.3 7.7 9.4 7.7 5.4-5.4 11.7-7.7-11-7.7-11.1-7.8-11.1-7.7-11.1z"/>
<path class="mu" d="M418.5 290l-5.4 3.2M449.4 325.8l-5.4 11.7M413.1 293.2l7.7 11.1 7.8 11.1 7.7 11.1 7.7 11"/>
<path class="c201" d="M1127.3 257.3l7.7 1.9 7.7 2.8 7.8 3.5 7.7 4.3-5.4 2.4-7.7-4.2-7.8-3.5-7.7-2.7-7.7-1.9z"/>
<path class="mb" d="M1127.3 257.3l7.7 1.9 7.7 2.8 7.8 3.5 7.7 4.3M1127.3 257.3l-5.4 2.6"/>
<path class="c202" d="M1158.2 269.8l7.7 4.8 7.7 5.4 7.8 5.7 7.7 6-5.4 2.2-7.8-5.9-7.7-5.7-7.7-5.3-7.7-4.8z"/>
<path class="mb" d="M1158.2 269.8l7.7 4.8 7.7 5.4 7.8 5.7 7.7 6M1158.2 269.8l-5.4 2.4"/>
<path class="c203" d="M1189.1 291.7l7.7 6.2 7.7 6.2 7.7 6.3 7.8 6.2-5.4 2-7.8-6.1-7.7-6.2-7.7-6.2-7.7-6.2z"/>
<path class="mb" d="M1189.1 291.7l7.7 6.2 7.7 6.2 7.7 6.3 7.8 6.2M1189.1 291.7l-5.4 2.2"/>
<path class="c204" d="M1220 316.6l7.7 6 7.7 5.7 7.7 5.4 7.8 4.8-5.5 1.8-7.7-4.8-7.7-5.3-7.7-5.7-7.7-5.9z"/>
<path class="mb" d="M1220 316.6l7.7 6 7.7 5.7 7.7 5.4 7.8 4.8M1220 316.6l-5.4 2"/>
<path class="c205" d="M1250.9 338.5l7.7 4.3 7.7 3.5 7.7 2.8 7.8 1.9-5.5 1.7-7.7-1.9-7.7-2.8-7.7-3.5-7.8-4.2z"/>
<path class="mb" d="M1250.9 338.5l7.7 4.3 7.7 3.5 7.7 2.8 7.8 1.9M1250.9 338.5l-5.5 1.8"/>
<path class="c206" d="M1281.8 351l7.7 1.1 7.7 .2 7.7-.6 7.7-1.3-5.4 1.8-7.7 1.2-7.7 .6-7.7-.3-7.8-1z"/>
<path class="mb" d="M1281.8 351l7.7 1.1 7.7 .2 7.7-.6 7.7-1.3M1281.8 351l-5.5 1.7"/>
<path class="c207" d="M1312.6 350.4l7.8-1.9 7.7-2.3 7.7-2.8 7.7-3-5.4 2-7.7 3-7.7 2.7-7.8 2.3-7.7 1.8z"/>
<path class="mb" d="M1312.6 350.4l7.8-1.9 7.7-2.3 7.7-2.8 7.7-3M1312.6 350.4l-5.4 1.8"/>
<path class="c208" d="M1343.5 340.4l7.8-3.2 7.7-3.3 7.7-3.3 7.7-3.2-5.4 2.2-7.7 3.2-7.7 3.2-7.8 3.3-7.7 3.1z"/>
<path class="mb" d="M1343.5 340.4l7.8-3.2 7.7-3.3 7.7-3.3 7.7-3.2M1343.5 340.4l-5.4 2"/>
<path class="c209" d="M1374.4 327.4l7.7-3 7.8-2.8 7.7-2.3 7.7-1.9-5.4 2.4-7.7 1.9-7.7 2.3-7.8 2.7-7.7 2.9z"/>
<path class="mb" d="M1374.4 327.4l7.7-3 7.8-2.8 7.7-2.3 7.7-1.9M1374.4 327.4l-5.4 2.2"/>
<path class="c210" d="M1405.3 317.4l7.7-1.3 7.8-.6 7.7 .2 7.7 1.1-5.4 2.6-7.7-1.1-7.8-.2-7.7 .5-7.7 1.2z"/>
<path class="mb" d="M1405.3 317.4l7.7-1.3 7.8-.6 7.7 .2 7.7 1.1M1405.3 317.4l-5.4 2.4M1436.2 316.8l-5.4 2.6"/>
<path class="c201" d="M1121.9 259.9l7.7 1.9 7.7 2.7 7.8 3.5 7.7 4.2-5.4 3.1-7.8-4-7.7-3.5-7.7-2.7-7.7-1.9z"/>
<path class="mb" d="M1121.9 259.9l-5.4 3.3"/>
<path class="c202" d="M1152.8 272.2l7.7 4.8 7.7 5.3 7.7 5.7 7.8 5.9-5.4 2.5-7.8-5.8-7.7-5.5-7.7-5.1-7.7-4.7z"/>
<path class="mb" d="M1152.8 272.2l-5.4 3.1"/>
<path class="c203" d="M1183.7 293.9l7.7 6.2 7.7 6.2 7.7 6.2 7.8 6.1-5.5 1.8-7.7-6-7.7-6-7.7-6-7.7-6z"/>
<path class="mb" d="M1183.7 293.9l-5.4 2.5"/>
<path class="c204" d="M1214.6 318.6l7.7 5.9 7.7 5.7 7.7 5.3 7.7 4.8-5.4 1.1-7.7-4.6-7.7-5.2-7.7-5.5-7.8-5.7z"/>
<path class="mb" d="M1214.6 318.6l-5.5 1.8"/>
<path class="c205" d="M1245.4 340.3l7.8 4.2 7.7 3.5 7.7 2.8 7.7 1.9-5.4 .8-7.7-1.9-7.7-2.7-7.7-3.4-7.8-4.1z"/>
<path class="mb" d="M1245.4 340.3l-5.4 1.1"/>
<path class="c206" d="M1276.3 352.7l7.8 1 7.7 .3 7.7-.6 7.7-1.2-5.4 1.1-7.7 1.1-7.7 .5-7.8-.3-7.7-1.1z"/>
<path class="mb" d="M1276.3 352.7l-5.4 .8"/>
<path class="c207" d="M1307.2 352.2l7.7-1.8 7.8-2.3 7.7-2.7 7.7-3-5.4 1.8-7.7 2.8-7.7 2.5-7.8 2.1-7.7 1.7z"/>
<path class="mb" d="M1307.2 352.2l-5.4 1.1"/>
<path class="c208" d="M1338.1 342.4l7.7-3.1 7.8-3.3 7.7-3.2 7.7-3.2-5.4 2.5-7.7 3-7.7 3-7.8 3.1-7.7 3z"/>
<path class="mb" d="M1338.1 342.4l-5.4 1.8"/>
<path class="c209" d="M1369 329.6l7.7-2.9 7.8-2.7 7.7-2.3 7.7-1.9-5.4 3.1-7.7 1.7-7.8 2.2-7.7 2.5-7.7 2.8z"/>
<path class="mb" d="M1369 329.6l-5.4 2.5"/>
<path class="c210" d="M1399.9 319.8l7.7-1.2 7.7-.5 7.8 .2 7.7 1.1-5.4 3.3-7.7-1-7.8-.3-7.7 .4-7.7 1.1z"/>
<path class="mb" d="M1399.9 319.8l-5.4 3.1M1430.8 319.4l-5.4 3.3"/>
<path class="c201" d="M1116.5 263.2l7.7 1.9 7.7 2.7 7.7 3.5 7.8 4-5.4 3.8-7.8-3.9-7.7-3.3-7.7-2.6-7.7-1.9z"/>
<path class="mb" d="M1116.5 263.2l-5.4 4.2"/>
<path class="c202" d="M1147.4 275.3l7.7 4.7 7.7 5.1 7.7 5.5 7.8 5.8-5.5 2.7-7.7-5.5-7.7-5.2-7.7-4.9-7.7-4.4z"/>
<path class="mb" d="M1147.4 275.3l-5.4 3.8"/>
<path class="c203" d="M1178.3 296.4l7.7 6 7.7 6 7.7 6 7.7 6-5.4 1.5-7.7-5.7-7.7-5.7-7.7-5.7-7.8-5.7z"/>
<path class="mb" d="M1178.3 296.4l-5.5 2.7"/>
<path class="c204" d="M1209.1 320.4l7.8 5.7 7.7 5.5 7.7 5.2 7.7 4.6-5.4 .5-7.7-4.4-7.7-4.9-7.7-5.2-7.8-5.5z"/>
<path class="mb" d="M1209.1 320.4l-5.4 1.5"/>
<path class="c205" d="M1240 341.4l7.8 4.1 7.7 3.4 7.7 2.7 7.7 1.9-5.4 .1-7.7-1.9-7.7-2.6-7.8-3.3-7.7-3.9z"/>
<path class="mb" d="M1240 341.4l-5.4 .5"/>
<path class="c206" d="M1270.9 353.5l7.7 1.1 7.8 .3 7.7-.5 7.7-1.1-5.4 .5-7.7 1-7.7 .3-7.8-.4-7.7-1.1z"/>
<path class="mb" d="M1270.9 353.5l-5.4 .1"/>
<path class="c207" d="M1301.8 353.3l7.7-1.7 7.8-2.1 7.7-2.5 7.7-2.8-5.4 1.5-7.7 2.5-7.8 2.3-7.7 1.9-7.7 1.4z"/>
<path class="mb" d="M1301.8 353.3l-5.4 .5"/>
<path class="c208" d="M1332.7 344.2l7.7-3 7.8-3.1 7.7-3 7.7-3-5.4 2.7-7.7 2.7-7.8 2.8-7.7 2.7-7.7 2.7z"/>
<path class="mb" d="M1332.7 344.2l-5.4 1.5"/>
<path class="c209" d="M1363.6 332.1l7.7-2.8 7.7-2.5 7.8-2.2 7.7-1.7-5.4 3.8-7.7 1.4-7.8 1.9-7.7 2.3-7.7 2.5z"/>
<path class="mb" d="M1363.6 332.1l-5.4 2.7"/>
<path class="c210" d="M1394.5 322.9l7.7-1.1 7.7-.4 7.8 .3 7.7 1-5.4 4.2-7.8-1.1-7.7-.4-7.7 .3-7.7 1z"/>
<path class="mb" d="M1394.5 322.9l-5.4 3.8M1425.4 322.7l-5.4 4.2"/>
<path class="c201" d="M1111.1 267.4l7.7 1.9 7.7 2.6 7.7 3.3 7.8 3.9-5.5 4.2-7.7-3.6-7.7-3.1-7.7-2.5-7.8-1.8z"/>
<path class="mb" d="M1111.1 267.4l-5.5 4.9"/>
<path class="c202" d="M1142 279.1l7.7 4.4 7.7 4.9 7.7 5.2 7.7 5.5-5.4 2.9-7.7-5.1-7.7-4.9-7.7-4.5-7.8-4.2z"/>
<path class="mb" d="M1142 279.1l-5.5 4.2"/>
<path class="c203" d="M1172.8 299.1l7.8 5.7 7.7 5.7 7.7 5.7 7.7 5.7-5.4 1.3-7.7-5.2-7.7-5.4-7.7-5.3-7.8-5.3z"/>
<path class="mb" d="M1172.8 299.1l-5.4 2.9"/>
<path class="c204" d="M1203.7 321.9l7.8 5.5 7.7 5.2 7.7 4.9 7.7 4.4-5.4 0-7.7-4.1-7.7-4.6-7.8-4.8-7.7-5.2z"/>
<path class="mb" d="M1203.7 321.9l-5.4 1.3"/>
<path class="c205" d="M1234.6 341.9l7.7 3.9 7.8 3.3 7.7 2.6 7.7 1.9-5.4-.7-7.7-1.8-7.7-2.5-7.8-3.1-7.7-3.6z"/>
<path class="mb" d="M1234.6 341.9l-5.4 0"/>
<path class="c206" d="M1265.5 353.6l7.7 1.1 7.8 .4 7.7-.3 7.7-1-5.4 0-7.7 .7-7.8 .1-7.7-.5-7.7-1.2z"/>
<path class="mb" d="M1265.5 353.6l-5.4-.7"/>
<path class="c207" d="M1296.4 353.8l7.7-1.4 7.7-1.9 7.8-2.3 7.7-2.5-5.4 1.3-7.7 2.2-7.8 1.9-7.7 1.5-7.7 1.2z"/>
<path class="mb" d="M1296.4 353.8l-5.4 0"/>
<path class="c208" d="M1327.3 345.7l7.7-2.7 7.7-2.7 7.8-2.8 7.7-2.7-5.4 2.9-7.8 2.3-7.7 2.4-7.7 2.3-7.7 2.3z"/>
<path class="mb" d="M1327.3 345.7l-5.4 1.3"/>
<path class="c209" d="M1358.2 334.8l7.7-2.5 7.7-2.3 7.8-1.9 7.7-1.4-5.4 4.2-7.8 1.2-7.7 1.6-7.7 1.9-7.7 2.1z"/>
<path class="mb" d="M1358.2 334.8l-5.4 2.9"/>
<path class="c210" d="M1389.1 326.7l7.7-1 7.7-.3 7.7 .4 7.8 1.1-5.4 4.9-7.8-1.1-7.7-.5-7.7 .1-7.7 .6z"/>
<path class="mb" d="M1389.1 326.7l-5.4 4.2M1420 326.9l-5.4 4.9"/>
<path class="c211" d="M1105.6 272.3l7.8 1.8 7.7 2.5 7.7 3.1 7.7 3.6-5.4 4.8-7.7-3.3-7.7-2.9-7.7-2.3-7.8-1.8z"/>
<path class="mb" d="M1105.6 272.3l7.8 1.8 7.7 2.5 7.7 3.1 7.7 3.6M1105.6 272.3l-5.4 5.5"/>
<path class="c212" d="M1136.5 283.3l7.8 4.2 7.7 4.5 7.7 4.9 7.7 5.1-5.4 3.1-7.7-4.7-7.7-4.4-7.8-4.1-7.7-3.8z"/>
<path class="mb" d="M1136.5 283.3l7.8 4.2 7.7 4.5 7.7 4.9 7.7 5.1M1136.5 283.3l-5.4 4.8"/>
<path class="c213" d="M1167.4 302l7.8 5.3 7.7 5.3 7.7 5.4 7.7 5.2-5.4 1.2-7.7-4.8-7.7-4.9-7.8-4.8-7.7-4.8z"/>
<path class="mb" d="M1167.4 302l7.8 5.3 7.7 5.3 7.7 5.4 7.7 5.2M1167.4 302l-5.4 3.1"/>
<path class="c214" d="M1198.3 323.2l7.7 5.2 7.8 4.8 7.7 4.6 7.7 4.1-5.4-.5-7.7-3.8-7.7-4.1-7.8-4.5-7.7-4.6z"/>
<path class="mb" d="M1198.3 323.2l7.7 5.2 7.8 4.8 7.7 4.6 7.7 4.1M1198.3 323.2l-5.4 1.2"/>
<path class="c215" d="M1229.2 341.9l7.7 3.6 7.8 3.1 7.7 2.5 7.7 1.8-5.4-1.2-7.7-1.8-7.8-2.3-7.7-2.9-7.7-3.3z"/>
<path class="mb" d="M1229.2 341.9l7.7 3.6 7.8 3.1 7.7 2.5 7.7 1.8M1229.2 341.9l-5.4-.5"/>
<path class="c216" d="M1260.1 352.9l7.7 1.2 7.7 .5 7.8-.1 7.7-.7-5.4-.5-7.7 .3-7.8-.1-7.7-.6-7.7-1.2z"/>
<path class="mb" d="M1260.1 352.9l7.7 1.2 7.7 .5 7.8-.1 7.7-.7M1260.1 352.9l-5.4-1.2"/>
<path class="c217" d="M1291 353.8l7.7-1.2 7.7-1.5 7.8-1.9 7.7-2.2-5.4 1.2-7.8 1.7-7.7 1.4-7.7 1.2-7.7 .8z"/>
<path class="mb" d="M1291 353.8l7.7-1.2 7.7-1.5 7.8-1.9 7.7-2.2M1291 353.8l-5.4-.5"/>
<path class="c218" d="M1321.9 347l7.7-2.3 7.7-2.3 7.7-2.4 7.8-2.3-5.4 3.1-7.8 1.8-7.7 1.9-7.7 1.9-7.7 1.8z"/>
<path class="mb" d="M1321.9 347l7.7-2.3 7.7-2.3 7.7-2.4 7.8-2.3M1321.9 347l-5.4 1.2"/>
<path class="c219" d="M1352.8 337.7l7.7-2.1 7.7-1.9 7.7-1.6 7.8-1.2-5.5 4.8-7.7 .8-7.7 1.2-7.7 1.4-7.7 1.7z"/>
<path class="mb" d="M1352.8 337.7l7.7-2.1 7.7-1.9 7.7-1.6 7.8-1.2M1352.8 337.7l-5.4 3.1"/>
<path class="c220" d="M1383.7 330.9l7.7-.6 7.7-.1 7.7 .5 7.8 1.1-5.5 5.5-7.7-1.2-7.7-.7-7.7-.1-7.8 .4z"/>
<path class="mb" d="M1383.7 330.9l7.7-.6 7.7-.1 7.7 .5 7.8 1.1M1383.7 330.9l-5.5 4.8M1414.6 331.8l-5.5 5.5"/>
<path class="c211" d="M1100.2 277.8l7.8 1.8 7.7 2.3 7.7 2.9 7.7 3.3-5.4 5.2-7.7-3-7.7-2.6-7.8-2.2-7.7-1.7z"/>
<path class="mb" d="M1100.2 277.8l-5.4 6"/>
<path class="c212" d="M1131.1 288.1l7.7 3.8 7.8 4.1 7.7 4.4 7.7 4.7-5.4 3.2-7.7-4.1-7.7-3.9-7.8-3.7-7.7-3.3z"/>
<path class="mb" d="M1131.1 288.1l-5.4 5.2"/>
<path class="c213" d="M1162 305.1l7.7 4.8 7.8 4.8 7.7 4.9 7.7 4.8-5.4 1-7.7-4.2-7.8-4.3-7.7-4.3-7.7-4.3z"/>
<path class="mb" d="M1162 305.1l-5.4 3.2"/>
<path class="c214" d="M1192.9 324.4l7.7 4.6 7.8 4.5 7.7 4.1 7.7 3.8-5.4-1-7.7-3.3-7.8-3.7-7.7-3.9-7.7-4.1z"/>
<path class="mb" d="M1192.9 324.4l-5.4 1"/>
<path class="c215" d="M1223.8 341.4l7.7 3.3 7.7 2.9 7.8 2.3 7.7 1.8-5.4-1.8-7.7-1.7-7.8-2.1-7.7-2.7-7.7-3z"/>
<path class="mb" d="M1223.8 341.4l-5.4-1"/>
<path class="c216" d="M1254.7 351.7l7.7 1.2 7.7 .6 7.8 .1 7.7-.3-5.4-1-7.8 .1-7.7-.4-7.7-.8-7.7-1.3z"/>
<path class="mb" d="M1254.7 351.7l-5.4-1.8"/>
<path class="c217" d="M1285.6 353.3l7.7-.8 7.7-1.2 7.7-1.4 7.8-1.7-5.4 1-7.8 1.1-7.7 1-7.7 .7-7.7 .3z"/>
<path class="mb" d="M1285.6 353.3l-5.4-1"/>
<path class="c218" d="M1316.5 348.2l7.7-1.8 7.7-1.9 7.7-1.9 7.8-1.8-5.5 3.2-7.7 1.3-7.7 1.3-7.7 1.3-7.7 1.3z"/>
<path class="mb" d="M1316.5 348.2l-5.4 1"/>
<path class="c219" d="M1347.4 340.8l7.7-1.7 7.7-1.4 7.7-1.2 7.7-.8-5.4 5.2-7.7 .4-7.7 .7-7.7 .9-7.8 1.1z"/>
<path class="mb" d="M1347.4 340.8l-5.5 3.2"/>
<path class="c220" d="M1378.2 335.7l7.8-.4 7.7 .1 7.7 .7 7.7 1.2-5.4 6-7.7-1.3-7.7-.8-7.7-.4-7.8 .1z"/>
<path class="mb" d="M1378.2 335.7l-5.4 5.2M1409.1 337.3l-5.4 6"/>
<path class="c211" d="M1094.8 283.8l7.7 1.7 7.8 2.2 7.7 2.6 7.7 3-5.4 5.5-7.7-2.7-7.7-2.3-7.8-2-7.7-1.7z"/>
<path class="mb" d="M1094.8 283.8l-5.4 6.3"/>
<path class="c212" d="M1125.7 293.3l7.7 3.3 7.8 3.7 7.7 3.9 7.7 4.1-5.4 3.4-7.7-3.5-7.8-3.3-7.7-3.2-7.7-2.9z"/>
<path class="mb" d="M1125.7 293.3l-5.4 5.5"/>
<path class="c213" d="M1156.6 308.3l7.7 4.3 7.7 4.3 7.8 4.3 7.7 4.2-5.4 .8-7.7-3.6-7.8-3.6-7.7-3.7-7.7-3.6z"/>
<path class="mb" d="M1156.6 308.3l-5.4 3.4"/>
<path class="c214" d="M1187.5 325.4l7.7 4.1 7.7 3.9 7.8 3.7 7.7 3.3-5.4-1.2-7.8-2.9-7.7-3.2-7.7-3.4-7.7-3.5z"/>
<path class="mb" d="M1187.5 325.4l-5.4 .8"/>
<path class="c215" d="M1218.4 340.4l7.7 3 7.7 2.7 7.8 2.1 7.7 1.7-5.4-2.1-7.8-1.6-7.7-2-7.7-2.4-7.7-2.6z"/>
<path class="mb" d="M1218.4 340.4l-5.4-1.2"/>
<path class="c216" d="M1249.3 349.9l7.7 1.3 7.7 .8 7.7 .4 7.8-.1-5.4-1.2-7.8-.4-7.7-.6-7.7-1-7.7-1.3z"/>
<path class="mb" d="M1249.3 349.9l-5.4-2.1"/>
<path class="c217" d="M1280.2 352.3l7.7-.3 7.7-.7 7.7-1 7.8-1.1-5.5 .8-7.7 .6-7.7 .3-7.7 .2-7.7 0z"/>
<path class="mb" d="M1280.2 352.3l-5.4-1.2"/>
<path class="c218" d="M1311.1 349.2l7.7-1.3 7.7-1.3 7.7-1.3 7.7-1.3-5.4 3.4-7.7 .6-7.7 .7-7.7 .7-7.8 .6z"/>
<path class="mb" d="M1311.1 349.2l-5.5 .8"/>
<path class="c219" d="M1341.9 344l7.8-1.1 7.7-.9 7.7-.7 7.7-.4-5.4 5.5-7.7-.1-7.7 .2-7.7 .4-7.8 .5z"/>
<path class="mb" d="M1341.9 344l-5.4 3.4"/>
<path class="c220" d="M1372.8 340.9l7.8-.1 7.7 .4 7.7 .8 7.7 1.3-5.4 6.3-7.7-1.3-7.7-1-7.8-.6-7.7-.3z"/>
<path class="mb" d="M1372.8 340.9l-5.4 5.5M1403.7 343.3l-5.4 6.3"/>
<path class="c211" d="M1089.4 290.1l7.7 1.7 7.8 2 7.7 2.3 7.7 2.7-5.4 5.7-7.7-2.3-7.8-2-7.7-1.9-7.7-1.6z"/>
<path class="mb" d="M1089.4 290.1l-5.4 6.6"/>
<path class="c212" d="M1120.3 298.8l7.7 2.9 7.7 3.2 7.8 3.3 7.7 3.5-5.4 3.5-7.7-2.9-7.8-2.7-7.7-2.6-7.7-2.5z"/>
<path class="mb" d="M1120.3 298.8l-5.4 5.7"/>
<path class="c213" d="M1151.2 311.7l7.7 3.6 7.7 3.7 7.8 3.6 7.7 3.6-5.4 .8-7.8-2.9-7.7-3-7.7-3-7.7-2.9z"/>
<path class="mb" d="M1151.2 311.7l-5.4 3.5"/>
<path class="c214" d="M1182.1 326.2l7.7 3.5 7.7 3.4 7.7 3.2 7.8 2.9-5.4-1.5-7.8-2.5-7.7-2.6-7.7-2.8-7.7-2.8z"/>
<path class="mb" d="M1182.1 326.2l-5.4 .8"/>
<path class="c215" d="M1213 339.2l7.7 2.6 7.7 2.4 7.7 2 7.8 1.6-5.5-2.4-7.7-1.6-7.7-1.8-7.7-2.1-7.7-2.2z"/>
<path class="mb" d="M1213 339.2l-5.4-1.5"/>
<path class="c216" d="M1243.9 347.8l7.7 1.3 7.7 1 7.7 .6 7.8 .4-5.5-1.5-7.7-.7-7.7-1-7.7-1.1-7.8-1.4z"/>
<path class="mb" d="M1243.9 347.8l-5.5-2.4"/>
<path class="c217" d="M1274.8 351.1l7.7 0 7.7-.2 7.7-.3 7.7-.6-5.4 .8-7.7-.1-7.7-.3-7.7-.3-7.8-.5z"/>
<path class="mb" d="M1274.8 351.1l-5.5-1.5"/>
<path class="c218" d="M1305.6 350l7.8-.6 7.7-.7 7.7-.7 7.7-.6-5.4 3.5-7.7 0-7.7-.1-7.7 0-7.8 0z"/>
<path class="mb" d="M1305.6 350l-5.4 .8"/>
<path class="c219" d="M1336.5 347.4l7.8-.5 7.7-.4 7.7-.2 7.7 .1-5.4 5.7-7.7-.5-7.7-.4-7.8-.2-7.7-.1z"/>
<path class="mb" d="M1336.5 347.4l-5.4 3.5"/>
<path class="c220" d="M1367.4 346.4l7.7 .3 7.8 .6 7.7 1 7.7 1.3-5.4 6.6-7.7-1.3-7.7-1.2-7.8-.9-7.7-.7z"/>
<path class="mb" d="M1367.4 346.4l-5.4 5.7M1398.3 349.6l-5.4 6.6"/>
<path class="c221" d="M1084 296.7l7.7 1.6 7.7 1.9 7.8 2 7.7 2.3-5.4 5.9-7.7-1.9-7.8-1.7-7.7-1.7-7.7-1.5z"/>
<path class="mb" d="M1084 296.7l7.7 1.6 7.7 1.9 7.8 2 7.7 2.3M1084 296.7l-5.4 6.9"/>
<path class="c222" d="M1114.9 304.5l7.7 2.5 7.7 2.6 7.8 2.7 7.7 2.9-5.4 3.6-7.8-2.2-7.7-2.2-7.7-2-7.7-2z"/>
<path class="mb" d="M1114.9 304.5l7.7 2.5 7.7 2.6 7.8 2.7 7.7 2.9M1114.9 304.5l-5.4 5.9"/>
<path class="c223" d="M1145.8 315.2l7.7 2.9 7.7 3 7.7 3 7.8 2.9-5.4 .7-7.8-2.3-7.7-2.2-7.7-2.2-7.7-2.2z"/>
<path class="mb" d="M1145.8 315.2l7.7 2.9 7.7 3 7.7 3 7.8 2.9M1145.8 315.2l-5.4 3.6"/>
<path class="c224" d="M1176.7 327l7.7 2.8 7.7 2.8 7.7 2.6 7.8 2.5-5.5-1.7-7.7-2-7.7-2-7.7-2.2-7.7-2.1z"/>
<path class="mb" d="M1176.7 327l7.7 2.8 7.7 2.8 7.7 2.6 7.8 2.5M1176.7 327l-5.4 .7"/>
<path class="c225" d="M1207.6 337.7l7.7 2.2 7.7 2.1 7.7 1.8 7.7 1.6-5.4-2.5-7.7-1.6-7.7-1.6-7.7-1.8-7.8-1.9z"/>
<path class="mb" d="M1207.6 337.7l7.7 2.2 7.7 2.1 7.7 1.8 7.7 1.6M1207.6 337.7l-5.5-1.7"/>
<path class="c226" d="M1238.4 345.4l7.8 1.4 7.7 1.1 7.7 1 7.7 .7-5.4-1.7-7.7-1.1-7.7-1.2-7.7-1.3-7.8-1.4z"/>
<path class="mb" d="M1238.4 345.4l7.8 1.4 7.7 1.1 7.7 1 7.7 .7M1238.4 345.4l-5.4-2.5"/>
<path class="c227" d="M1269.3 349.6l7.8 .5 7.7 .3 7.7 .3 7.7 .1-5.4 .7-7.7-.8-7.7-.9-7.8-.9-7.7-1z"/>
<path class="mb" d="M1269.3 349.6l7.8 .5 7.7 .3 7.7 .3 7.7 .1M1269.3 349.6l-5.4-1.7"/>
<path class="c228" d="M1300.2 350.8l7.8 0 7.7 0 7.7 .1 7.7 0-5.4 3.6-7.7-.8-7.7-.7-7.8-.8-7.7-.7z"/>
<path class="mb" d="M1300.2 350.8l7.8 0 7.7 0 7.7 .1 7.7 0M1300.2 350.8l-5.4 .7"/>
<path class="c229" d="M1331.1 350.9l7.7 .1 7.8 .2 7.7 .4 7.7 .5-5.4 5.9-7.7-1-7.7-.9-7.8-.8-7.7-.8z"/>
<path class="mb" d="M1331.1 350.9l7.7 .1 7.8 .2 7.7 .4 7.7 .5M1331.1 350.9l-5.4 3.6"/>
<path class="c230" d="M1362 352.1l7.7 .7 7.8 .9 7.7 1.2 7.7 1.3-5.4 6.9-7.7-1.5-7.8-1.3-7.7-1.2-7.7-1.1z"/>
<path class="mb" d="M1362 352.1l7.7 .7 7.8 .9 7.7 1.2 7.7 1.3M1362 352.1l-5.4 5.9M1392.9 356.2l-5.4 6.9"/>
<path class="c221" d="M1078.6 303.6l7.7 1.5 7.7 1.7 7.8 1.7 7.7 1.9-5.4 6-7.8-1.5-7.7-1.5-7.7-1.5-7.7-1.5z"/>
<path class="mb" d="M1078.6 303.6l-5.4 6.8"/>
<path class="c222" d="M1109.5 310.4l7.7 2 7.7 2 7.7 2.2 7.8 2.2-5.4 3.5-7.8-1.4-7.7-1.5-7.7-1.5-7.7-1.5z"/>
<path class="mb" d="M1109.5 310.4l-5.4 6"/>
<path class="c223" d="M1140.4 318.8l7.7 2.2 7.7 2.2 7.7 2.2 7.8 2.3-5.5 .6-7.7-1.5-7.7-1.5-7.7-1.5-7.7-1.5z"/>
<path class="mb" d="M1140.4 318.8l-5.4 3.5"/>
<path class="c224" d="M1171.3 327.7l7.7 2.1 7.7 2.2 7.7 2 7.7 2-5.4-1.8-7.7-1.4-7.7-1.5-7.7-1.5-7.8-1.5z"/>
<path class="mb" d="M1171.3 327.7l-5.5 .6"/>
<path class="c225" d="M1202.1 336l7.8 1.9 7.7 1.8 7.7 1.6 7.7 1.6-5.4-2.7-7.7-1.5-7.7-1.5-7.7-1.5-7.8-1.5z"/>
<path class="mb" d="M1202.1 336l-5.4-1.8"/>
<path class="c226" d="M1233 342.9l7.8 1.4 7.7 1.3 7.7 1.2 7.7 1.1-5.4-1.8-7.7-1.4-7.7-1.5-7.8-1.5-7.7-1.5z"/>
<path class="mb" d="M1233 342.9l-5.4-2.7"/>
<path class="c227" d="M1263.9 347.9l7.7 1 7.8 .9 7.7 .9 7.7 .8-5.4 .6-7.7-1.5-7.7-1.5-7.8-1.5-7.7-1.5z"/>
<path class="mb" d="M1263.9 347.9l-5.4-1.8"/>
<path class="c228" d="M1294.8 351.5l7.7 .7 7.8 .8 7.7 .7 7.7 .8-5.4 3.5-7.7-1.4-7.8-1.5-7.7-1.5-7.7-1.5z"/>
<path class="mb" d="M1294.8 351.5l-5.4 .6"/>
<path class="c229" d="M1325.7 354.5l7.7 .8 7.8 .8 7.7 .9 7.7 1-5.4 6-7.7-1.5-7.8-1.5-7.7-1.5-7.7-1.5z"/>
<path class="mb" d="M1325.7 354.5l-5.4 3.5"/>
<path class="c230" d="M1356.6 358l7.7 1.1 7.7 1.2 7.8 1.3 7.7 1.5-5.4 6.8-7.7-1.4-7.8-1.5-7.7-1.5-7.7-1.5z"/>
<path class="mb" d="M1356.6 358l-5.4 6M1387.5 363.1l-5.4 6.8"/>
<path class="c221" d="M1073.2 310.4l7.7 1.5 7.7 1.5 7.7 1.5 7.8 1.5-5.4 6-7.8-1.1-7.7-1.2-7.7-1.3-7.7-1.5z"/>
<path class="mb" d="M1073.2 310.4l-5.4 6.9"/>
<path class="c222" d="M1104.1 316.4l7.7 1.5 7.7 1.5 7.7 1.5 7.8 1.4-5.5 3.6-7.7-.8-7.7-.8-7.7-.9-7.7-1z"/>
<path class="mb" d="M1104.1 316.4l-5.4 6"/>
<path class="c223" d="M1135 322.3l7.7 1.5 7.7 1.5 7.7 1.5 7.7 1.5-5.4 .6-7.7-.7-7.7-.8-7.7-.7-7.8-.8z"/>
<path class="mb" d="M1135 322.3l-5.5 3.6"/>
<path class="c224" d="M1165.8 328.3l7.8 1.5 7.7 1.5 7.7 1.5 7.7 1.4-5.4-1.7-7.7-1-7.7-.9-7.7-.9-7.8-.8z"/>
<path class="mb" d="M1165.8 328.3l-5.4 .6"/>
<path class="c225" d="M1196.7 334.2l7.8 1.5 7.7 1.5 7.7 1.5 7.7 1.5-5.4-2.7-7.7-1.4-7.7-1.3-7.8-1.2-7.7-1.1z"/>
<path class="mb" d="M1196.7 334.2l-5.4-1.7"/>
<path class="c226" d="M1227.6 340.2l7.7 1.5 7.8 1.5 7.7 1.5 7.7 1.4-5.4-1.7-7.7-1.9-7.7-1.8-7.8-1.6-7.7-1.6z"/>
<path class="mb" d="M1227.6 340.2l-5.4-2.7"/>
<path class="c227" d="M1258.5 346.1l7.7 1.5 7.8 1.5 7.7 1.5 7.7 1.5-5.4 .6-7.7-2.1-7.8-2.2-7.7-2-7.7-2z"/>
<path class="mb" d="M1258.5 346.1l-5.4-1.7"/>
<path class="c228" d="M1289.4 352.1l7.7 1.5 7.7 1.5 7.8 1.5 7.7 1.4-5.4 3.6-7.7-2.2-7.8-2.2-7.7-2.2-7.7-2.3z"/>
<path class="mb" d="M1289.4 352.1l-5.4 .6"/>
<path class="c229" d="M1320.3 358l7.7 1.5 7.7 1.5 7.8 1.5 7.7 1.5-5.4 6-7.8-2-7.7-2-7.7-2.2-7.7-2.2z"/>
<path class="mb" d="M1320.3 358l-5.4 3.6"/>
<path class="c230" d="M1351.2 364l7.7 1.5 7.7 1.5 7.8 1.5 7.7 1.4-5.4 6.9-7.8-1.5-7.7-1.7-7.7-1.7-7.7-1.9z"/>
<path class="mb" d="M1351.2 364l-5.4 6M1382.1 369.9l-5.4 6.9"/>
<path class="c221" d="M1067.8 317.3l7.7 1.5 7.7 1.3 7.7 1.2 7.8 1.1-5.5 5.9-7.7-.7-7.7-.9-7.7-1.2-7.7-1.3z"/>
<path class="mb" d="M1067.8 317.3l-5.4 6.9"/>
<path class="c222" d="M1098.7 322.4l7.7 1 7.7 .9 7.7 .8 7.7 .8-5.4 3.6-7.7-.1-7.7-.2-7.7-.4-7.8-.5z"/>
<path class="mb" d="M1098.7 322.4l-5.5 5.9"/>
<path class="c223" d="M1129.5 325.9l7.8 .8 7.7 .7 7.7 .8 7.7 .7-5.4 .7-7.7 0-7.7 0-7.7-.1-7.8 0z"/>
<path class="mb" d="M1129.5 325.9l-5.4 3.6"/>
<path class="c224" d="M1160.4 328.9l7.8 .8 7.7 .9 7.7 .9 7.7 1-5.4-1.7-7.7-.5-7.7-.3-7.8-.3-7.7-.1z"/>
<path class="mb" d="M1160.4 328.9l-5.4 .7"/>
<path class="c225" d="M1191.3 332.5l7.7 1.1 7.8 1.2 7.7 1.3 7.7 1.4-5.4-2.5-7.7-1.4-7.7-1.1-7.8-1-7.7-.7z"/>
<path class="mb" d="M1191.3 332.5l-5.4-1.7"/>
<path class="c226" d="M1222.2 337.5l7.7 1.6 7.8 1.6 7.7 1.8 7.7 1.9-5.4-1.7-7.7-2.2-7.8-2.1-7.7-1.8-7.7-1.6z"/>
<path class="mb" d="M1222.2 337.5l-5.4-2.5"/>
<path class="c227" d="M1253.1 344.4l7.7 2 7.7 2 7.8 2.2 7.7 2.1-5.4 .7-7.7-2.8-7.8-2.8-7.7-2.6-7.7-2.5z"/>
<path class="mb" d="M1253.1 344.4l-5.4-1.7"/>
<path class="c228" d="M1284 352.7l7.7 2.3 7.7 2.2 7.8 2.2 7.7 2.2-5.4 3.6-7.8-2.9-7.7-3-7.7-3-7.7-2.9z"/>
<path class="mb" d="M1284 352.7l-5.4 .7"/>
<path class="c229" d="M1314.9 361.6l7.7 2.2 7.7 2.2 7.7 2 7.8 2-5.4 5.9-7.8-2.5-7.7-2.6-7.7-2.7-7.7-2.9z"/>
<path class="mb" d="M1314.9 361.6l-5.4 3.6"/>
<path class="c230" d="M1345.8 370l7.7 1.9 7.7 1.7 7.7 1.7 7.8 1.5-5.5 6.9-7.7-1.6-7.7-1.9-7.7-2-7.7-2.3z"/>
<path class="mb" d="M1345.8 370l-5.4 5.9M1376.7 376.8l-5.5 6.9"/>
<path class="c231" d="M1062.4 324.2l7.7 1.3 7.7 1.2 7.7 .9 7.7 .7-5.4 5.7-7.7-.3-7.7-.6-7.7-1-7.8-1.3z"/>
<path class="mb" d="M1062.4 324.2l7.7 1.3 7.7 1.2 7.7 .9 7.7 .7M1062.4 324.2l-5.5 6.6"/>
<path class="c232" d="M1093.2 328.3l7.8 .5 7.7 .4 7.7 .2 7.7 .1-5.4 3.5-7.7 .5-7.7 .4-7.7 .2-7.8-.1z"/>
<path class="mb" d="M1093.2 328.3l7.8 .5 7.7 .4 7.7 .2 7.7 .1M1093.2 328.3l-5.4 5.7"/>
<path class="c233" d="M1124.1 329.5l7.8 0 7.7 .1 7.7 0 7.7 0-5.4 .8-7.7 .6-7.7 .7-7.8 .7-7.7 .6z"/>
<path class="mb" d="M1124.1 329.5l7.8 0 7.7 .1 7.7 0 7.7 0M1124.1 329.5l-5.4 3.5"/>
<path class="c234" d="M1155 329.6l7.7 .1 7.8 .3 7.7 .3 7.7 .5-5.4-1.5-7.7 0-7.7 .2-7.8 .3-7.7 .6z"/>
<path class="mb" d="M1155 329.6l7.7 .1 7.8 .3 7.7 .3 7.7 .5M1155 329.6l-5.4 .8"/>
<path class="c235" d="M1185.9 330.8l7.7 .7 7.8 1 7.7 1.1 7.7 1.4-5.4-2.4-7.7-1.3-7.8-1-7.7-.6-7.7-.4z"/>
<path class="mb" d="M1185.9 330.8l7.7 .7 7.8 1 7.7 1.1 7.7 1.4M1185.9 330.8l-5.4-1.5"/>
<path class="c236" d="M1216.8 335l7.7 1.6 7.7 1.8 7.8 2.1 7.7 2.2-5.4-1.5-7.7-2.6-7.8-2.4-7.7-2-7.7-1.6z"/>
<path class="mb" d="M1216.8 335l7.7 1.6 7.7 1.8 7.8 2.1 7.7 2.2M1216.8 335l-5.4-2.4"/>
<path class="c237" d="M1247.7 342.7l7.7 2.5 7.7 2.6 7.8 2.8 7.7 2.8-5.4 .8-7.8-3.5-7.7-3.4-7.7-3.2-7.7-2.9z"/>
<path class="mb" d="M1247.7 342.7l7.7 2.5 7.7 2.6 7.8 2.8 7.7 2.8M1247.7 342.7l-5.4-1.5"/>
<path class="c238" d="M1278.6 353.4l7.7 2.9 7.7 3 7.7 3 7.8 2.9-5.4 3.5-7.8-3.6-7.7-3.7-7.7-3.6-7.7-3.6z"/>
<path class="mb" d="M1278.6 353.4l7.7 2.9 7.7 3 7.7 3 7.8 2.9M1278.6 353.4l-5.4 .8"/>
<path class="c239" d="M1309.5 365.2l7.7 2.9 7.7 2.7 7.7 2.6 7.8 2.5-5.5 5.7-7.7-2.9-7.7-3.2-7.7-3.3-7.7-3.5z"/>
<path class="mb" d="M1309.5 365.2l7.7 2.9 7.7 2.7 7.7 2.6 7.8 2.5M1309.5 365.2l-5.4 3.5"/>
<path class="c240" d="M1340.4 375.9l7.7 2.3 7.7 2 7.7 1.9 7.7 1.6-5.4 6.6-7.7-1.7-7.7-2-7.7-2.3-7.8-2.7z"/>
<path class="mb" d="M1340.4 375.9l7.7 2.3 7.7 2 7.7 1.9 7.7 1.6M1340.4 375.9l-5.5 5.7M1371.2 383.7l-5.4 6.6"/>
<path class="c231" d="M1056.9 330.8l7.8 1.3 7.7 1 7.7 .6 7.7 .3-5.4 5.5-7.7 .1-7.7-.4-7.8-.8-7.7-1.3z"/>
<path class="mb" d="M1056.9 330.8l-5.4 6.3"/>
<path class="c232" d="M1087.8 334l7.8 .1 7.7-.2 7.7-.4 7.7-.5-5.4 3.4-7.7 1.1-7.7 .9-7.8 .7-7.7 .4z"/>
<path class="mb" d="M1087.8 334l-5.4 5.5"/>
<path class="c233" d="M1118.7 333l7.7-.6 7.8-.7 7.7-.7 7.7-.6-5.4 .8-7.7 1.3-7.7 1.3-7.8 1.3-7.7 1.3z"/>
<path class="mb" d="M1118.7 333l-5.4 3.4"/>
<path class="c234" d="M1149.6 330.4l7.7-.6 7.8-.3 7.7-.2 7.7 0-5.4-1.2-7.7 .3-7.8 .7-7.7 1-7.7 1.1z"/>
<path class="mb" d="M1149.6 330.4l-5.4 .8"/>
<path class="c235" d="M1180.5 329.3l7.7 .4 7.7 .6 7.8 1 7.7 1.3-5.4-2.1-7.7-1.3-7.8-.8-7.7-.4-7.7 .1z"/>
<path class="mb" d="M1180.5 329.3l-5.4-1.2"/>
<path class="c236" d="M1211.4 332.6l7.7 1.6 7.7 2 7.8 2.4 7.7 2.6-5.4-1.2-7.8-3-7.7-2.7-7.7-2.1-7.7-1.7z"/>
<path class="mb" d="M1211.4 332.6l-5.4-2.1"/>
<path class="c237" d="M1242.3 341.2l7.7 2.9 7.7 3.2 7.7 3.4 7.8 3.5-5.4 .8-7.8-4.1-7.7-3.9-7.7-3.7-7.7-3.3z"/>
<path class="mb" d="M1242.3 341.2l-5.4-1.2"/>
<path class="c238" d="M1273.2 354.2l7.7 3.6 7.7 3.6 7.7 3.7 7.8 3.6-5.5 3.4-7.7-4.3-7.7-4.3-7.7-4.3-7.7-4.2z"/>
<path class="mb" d="M1273.2 354.2l-5.4 .8"/>
<path class="c239" d="M1304.1 368.7l7.7 3.5 7.7 3.3 7.7 3.2 7.7 2.9-5.4 5.5-7.7-3.3-7.7-3.7-7.7-3.9-7.8-4.1z"/>
<path class="mb" d="M1304.1 368.7l-5.5 3.4"/>
<path class="c240" d="M1334.9 381.6l7.8 2.7 7.7 2.3 7.7 2 7.7 1.7-5.4 6.3-7.7-1.7-7.7-2.2-7.7-2.6-7.8-3z"/>
<path class="mb" d="M1334.9 381.6l-5.4 5.5M1365.8 390.3l-5.4 6.3"/>
<path class="c231" d="M1051.5 337.1l7.7 1.3 7.8 .8 7.7 .4 7.7-.1-5.4 5.2-7.7 .4-7.7-.1-7.8-.7-7.7-1.2z"/>
<path class="mb" d="M1051.5 337.1l-5.4 6"/>
<path class="c232" d="M1082.4 339.5l7.7-.4 7.8-.7 7.7-.9 7.7-1.1-5.4 3.2-7.7 1.7-7.8 1.4-7.7 1.2-7.7 .8z"/>
<path class="mb" d="M1082.4 339.5l-5.4 5.2"/>
<path class="c233" d="M1113.3 336.4l7.7-1.3 7.8-1.3 7.7-1.3 7.7-1.3-5.4 1-7.7 1.8-7.8 1.9-7.7 1.9-7.7 1.8z"/>
<path class="mb" d="M1113.3 336.4l-5.4 3.2"/>
<path class="c234" d="M1144.2 331.2l7.7-1.1 7.7-1 7.8-.7 7.7-.3-5.4-1-7.7 .8-7.8 1.2-7.7 1.4-7.7 1.7z"/>
<path class="mb" d="M1144.2 331.2l-5.4 1"/>
<path class="c235" d="M1175.1 328.1l7.7-.1 7.7 .4 7.8 .8 7.7 1.3-5.4-1.8-7.8-1.2-7.7-.6-7.7-.1-7.7 .3z"/>
<path class="mb" d="M1175.1 328.1l-5.4-1"/>
<path class="c236" d="M1206 330.5l7.7 1.7 7.7 2.1 7.7 2.7 7.8 3-5.4-1-7.8-3.3-7.7-2.9-7.7-2.3-7.7-1.8z"/>
<path class="mb" d="M1206 330.5l-5.4-1.8"/>
<path class="c237" d="M1236.9 340l7.7 3.3 7.7 3.7 7.7 3.9 7.8 4.1-5.5 1-7.7-4.6-7.7-4.5-7.7-4.1-7.7-3.8z"/>
<path class="mb" d="M1236.9 340l-5.4-1"/>
<path class="c238" d="M1267.8 355l7.7 4.2 7.7 4.3 7.7 4.3 7.7 4.3-5.4 3.2-7.7-4.8-7.7-4.8-7.7-4.9-7.8-4.8z"/>
<path class="mb" d="M1267.8 355l-5.5 1"/>
<path class="c239" d="M1298.6 372.1l7.8 4.1 7.7 3.9 7.7 3.7 7.7 3.3-5.4 5.2-7.7-3.8-7.7-4.1-7.7-4.4-7.8-4.7z"/>
<path class="mb" d="M1298.6 372.1l-5.4 3.2"/>
<path class="c240" d="M1329.5 387.1l7.8 3 7.7 2.6 7.7 2.2 7.7 1.7-5.4 6-7.7-1.8-7.7-2.3-7.8-2.9-7.7-3.3z"/>
<path class="mb" d="M1329.5 387.1l-5.4 5.2M1360.4 396.6l-5.4 6"/>
<path class="c231" d="M1046.1 343.1l7.7 1.2 7.8 .7 7.7 .1 7.7-.4-5.4 4.8-7.7 .6-7.8 .1-7.7-.5-7.7-1.1z"/>
<path class="mb" d="M1046.1 343.1l-5.4 5.5"/>
<path class="c232" d="M1077 344.7l7.7-.8 7.7-1.2 7.8-1.4 7.7-1.7-5.4 3.1-7.7 2.1-7.8 1.9-7.7 1.6-7.7 1.2z"/>
<path class="mb" d="M1077 344.7l-5.4 4.8"/>
<path class="c233" d="M1107.9 339.6l7.7-1.8 7.7-1.9 7.8-1.9 7.7-1.8-5.4 1.2-7.8 2.3-7.7 2.3-7.7 2.4-7.7 2.3z"/>
<path class="mb" d="M1107.9 339.6l-5.4 3.1"/>
<path class="c234" d="M1138.8 332.2l7.7-1.7 7.7-1.4 7.8-1.2 7.7-.8-5.4-.5-7.8 1.2-7.7 1.5-7.7 1.9-7.7 2.2z"/>
<path class="mb" d="M1138.8 332.2l-5.4 1.2"/>
<path class="c235" d="M1169.7 327.1l7.7-.3 7.7 .1 7.7 .6 7.8 1.2-5.4-1.2-7.8-1.2-7.7-.5-7.7 .1-7.7 .7z"/>
<path class="mb" d="M1169.7 327.1l-5.4-.5"/>
<path class="c236" d="M1200.6 328.7l7.7 1.8 7.7 2.3 7.7 2.9 7.8 3.3-5.5-.5-7.7-3.6-7.7-3.1-7.7-2.5-7.7-1.8z"/>
<path class="mb" d="M1200.6 328.7l-5.4-1.2"/>
<path class="c237" d="M1231.5 339l7.7 3.8 7.7 4.1 7.7 4.5 7.7 4.6-5.4 1.2-7.7-5.2-7.7-4.8-7.7-4.6-7.8-4.1z"/>
<path class="mb" d="M1231.5 339l-5.5-.5"/>
<path class="c238" d="M1262.3 356l7.8 4.8 7.7 4.9 7.7 4.8 7.7 4.8-5.4 3.1-7.7-5.3-7.7-5.3-7.7-5.4-7.8-5.2z"/>
<path class="mb" d="M1262.3 356l-5.4 1.2"/>
<path class="c239" d="M1293.2 375.3l7.8 4.7 7.7 4.4 7.7 4.1 7.7 3.8-5.4 4.8-7.7-4.2-7.7-4.5-7.8-4.9-7.7-5.1z"/>
<path class="mb" d="M1293.2 375.3l-5.4 3.1"/>
<path class="c240" d="M1324.1 392.3l7.7 3.3 7.8 2.9 7.7 2.3 7.7 1.8-5.4 5.5-7.7-1.8-7.7-2.5-7.8-3.1-7.7-3.6z"/>
<path class="mb" d="M1324.1 392.3l-5.4 4.8M1355 402.6l-5.4 5.5"/>
<path class="c241" d="M1040.7 348.6l7.7 1.1 7.7 .5 7.8-.1 7.7-.6-5.4 4.2-7.7 1-7.8 .3-7.7-.4-7.7-1.1z"/>
<path class="mb" d="M1040.7 348.6l7.7 1.1 7.7 .5 7.8-.1 7.7-.6M1040.7 348.6l-5.4 4.9"/>
<path class="c242" d="M1071.6 349.5l7.7-1.2 7.7-1.6 7.8-1.9 7.7-2.1-5.4 2.9-7.8 2.5-7.7 2.3-7.7 1.9-7.7 1.4z"/>
<path class="mb" d="M1071.6 349.5l7.7-1.2 7.7-1.6 7.8-1.9 7.7-2.1M1071.6 349.5l-5.4 4.2"/>
<path class="c243" d="M1102.5 342.7l7.7-2.3 7.7-2.4 7.7-2.3 7.8-2.3-5.4 1.3-7.8 2.7-7.7 2.7-7.7 2.8-7.7 2.7z"/>
<path class="mb" d="M1102.5 342.7l7.7-2.3 7.7-2.4 7.7-2.3 7.8-2.3M1102.5 342.7l-5.4 2.9"/>
<path class="c244" d="M1133.4 333.4l7.7-2.2 7.7-1.9 7.7-1.5 7.8-1.2-5.5 0-7.7 1.4-7.7 1.9-7.7 2.3-7.7 2.5z"/>
<path class="mb" d="M1133.4 333.4l7.7-2.2 7.7-1.9 7.7-1.5 7.8-1.2M1133.4 333.4l-5.4 1.3"/>
<path class="c245" d="M1164.3 326.6l7.7-.7 7.7-.1 7.7 .5 7.8 1.2-5.5-.7-7.7-1.1-7.7-.4-7.7 .3-7.8 1z"/>
<path class="mb" d="M1164.3 326.6l7.7-.7 7.7-.1 7.7 .5 7.8 1.2M1164.3 326.6l-5.5 0"/>
<path class="c246" d="M1195.2 327.5l7.7 1.8 7.7 2.5 7.7 3.1 7.7 3.6-5.4 0-7.7-3.9-7.7-3.3-7.7-2.6-7.8-1.9z"/>
<path class="mb" d="M1195.2 327.5l7.7 1.8 7.7 2.5 7.7 3.1 7.7 3.6M1195.2 327.5l-5.5-.7"/>
<path class="c247" d="M1226 338.5l7.8 4.1 7.7 4.6 7.7 4.8 7.7 5.2-5.4 1.3-7.7-5.5-7.7-5.2-7.7-4.9-7.8-4.4z"/>
<path class="mb" d="M1226 338.5l7.8 4.1 7.7 4.6 7.7 4.8 7.7 5.2M1226 338.5l-5.4 0"/>
<path class="c248" d="M1256.9 357.2l7.8 5.2 7.7 5.4 7.7 5.3 7.7 5.3-5.4 2.9-7.7-5.7-7.7-5.7-7.8-5.7-7.7-5.7z"/>
<path class="mb" d="M1256.9 357.2l7.8 5.2 7.7 5.4 7.7 5.3 7.7 5.3M1256.9 357.2l-5.4 1.3"/>
<path class="c249" d="M1287.8 378.4l7.7 5.1 7.8 4.9 7.7 4.5 7.7 4.2-5.4 4.2-7.7-4.4-7.7-4.9-7.8-5.2-7.7-5.5z"/>
<path class="mb" d="M1287.8 378.4l7.7 5.1 7.8 4.9 7.7 4.5 7.7 4.2M1287.8 378.4l-5.4 2.9"/>
<path class="c250" d="M1318.7 397.1l7.7 3.6 7.8 3.1 7.7 2.5 7.7 1.8-5.4 4.9-7.7-1.9-7.8-2.6-7.7-3.3-7.7-3.9z"/>
<path class="mb" d="M1318.7 397.1l7.7 3.6 7.8 3.1 7.7 2.5 7.7 1.8M1318.7 397.1l-5.4 4.2M1349.6 408.1l-5.4 4.9"/>
<path class="c241" d="M1035.3 353.5l7.7 1.1 7.7 .4 7.8-.3 7.7-1-5.4 3.8-7.8 1.1-7.7 .4-7.7-.3-7.7-1z"/>
<path class="mb" d="M1035.3 353.5l-5.4 4.2"/>
<path class="c242" d="M1066.2 353.7l7.7-1.4 7.7-1.9 7.7-2.3 7.8-2.5-5.4 2.7-7.8 2.8-7.7 2.5-7.7 2.2-7.7 1.7z"/>
<path class="mb" d="M1066.2 353.7l-5.4 3.8"/>
<path class="c243" d="M1097.1 345.6l7.7-2.7 7.7-2.8 7.7-2.7 7.8-2.7-5.5 1.5-7.7 3-7.7 3.1-7.7 3-7.7 3z"/>
<path class="mb" d="M1097.1 345.6l-5.4 2.7"/>
<path class="c244" d="M1128 334.7l7.7-2.5 7.7-2.3 7.7-1.9 7.7-1.4-5.4 .5-7.7 1.7-7.7 2.1-7.7 2.5-7.8 2.8z"/>
<path class="mb" d="M1128 334.7l-5.5 1.5"/>
<path class="c245" d="M1158.8 326.6l7.8-1 7.7-.3 7.7 .4 7.7 1.1-5.4 .1-7.7-1.1-7.7-.3-7.7 .5-7.8 1.1z"/>
<path class="mb" d="M1158.8 326.6l-5.4 .5"/>
<path class="c246" d="M1189.7 326.8l7.8 1.9 7.7 2.6 7.7 3.3 7.7 3.9-5.4 .5-7.7-4.1-7.7-3.4-7.8-2.7-7.7-1.9z"/>
<path class="mb" d="M1189.7 326.8l-5.4 .1"/>
<path class="c247" d="M1220.6 338.5l7.8 4.4 7.7 4.9 7.7 5.2 7.7 5.5-5.4 1.5-7.7-5.7-7.7-5.5-7.8-5.2-7.7-4.6z"/>
<path class="mb" d="M1220.6 338.5l-5.4 .5"/>
<path class="c248" d="M1251.5 358.5l7.7 5.7 7.8 5.7 7.7 5.7 7.7 5.7-5.4 2.7-7.7-6-7.7-6-7.8-6-7.7-6z"/>
<path class="mb" d="M1251.5 358.5l-5.4 1.5"/>
<path class="c249" d="M1282.4 381.3l7.7 5.5 7.8 5.2 7.7 4.9 7.7 4.4-5.4 3.8-7.7-4.7-7.8-5.1-7.7-5.5-7.7-5.8z"/>
<path class="mb" d="M1282.4 381.3l-5.4 2.7"/>
<path class="c250" d="M1313.3 401.3l7.7 3.9 7.7 3.3 7.8 2.6 7.7 1.9-5.4 4.2-7.7-1.9-7.8-2.7-7.7-3.5-7.7-4z"/>
<path class="mb" d="M1313.3 401.3l-5.4 3.8M1344.2 413l-5.4 4.2"/>
<path class="c241" d="M1029.9 357.7l7.7 1 7.7 .3 7.7-.4 7.8-1.1-5.4 3.1-7.8 1.2-7.7 .5-7.7-.2-7.7-1.1z"/>
<path class="mb" d="M1029.9 357.7l-5.4 3.3"/>
<path class="c242" d="M1060.8 357.5l7.7-1.7 7.7-2.2 7.7-2.5 7.8-2.8-5.5 2.5-7.7 2.9-7.7 2.7-7.7 2.3-7.7 1.9z"/>
<path class="mb" d="M1060.8 357.5l-5.4 3.1"/>
<path class="c243" d="M1091.7 348.3l7.7-3 7.7-3 7.7-3.1 7.7-3-5.4 1.8-7.7 3.1-7.7 3.3-7.7 3.2-7.8 3.2z"/>
<path class="mb" d="M1091.7 348.3l-5.5 2.5"/>
<path class="c244" d="M1122.5 336.2l7.8-2.8 7.7-2.5 7.7-2.1 7.7-1.7-5.4 1.1-7.7 1.8-7.7 2.3-7.7 2.7-7.8 3z"/>
<path class="mb" d="M1122.5 336.2l-5.4 1.8"/>
<path class="c245" d="M1153.4 327.1l7.8-1.1 7.7-.5 7.7 .3 7.7 1.1-5.4 .8-7.7-1-7.7-.3-7.8 .6-7.7 1.2z"/>
<path class="mb" d="M1153.4 327.1l-5.4 1.1"/>
<path class="c246" d="M1184.3 326.9l7.7 1.9 7.8 2.7 7.7 3.4 7.7 4.1-5.4 1.1-7.7-4.2-7.7-3.5-7.8-2.8-7.7-1.9z"/>
<path class="mb" d="M1184.3 326.9l-5.4 .8"/>
<path class="c247" d="M1215.2 339l7.7 4.6 7.8 5.2 7.7 5.5 7.7 5.7-5.4 1.8-7.7-5.9-7.8-5.7-7.7-5.3-7.7-4.8z"/>
<path class="mb" d="M1215.2 339l-5.4 1.1"/>
<path class="c248" d="M1246.1 360l7.7 6 7.8 6 7.7 6 7.7 6-5.4 2.5-7.7-6.2-7.8-6.2-7.7-6.2-7.7-6.1z"/>
<path class="mb" d="M1246.1 360l-5.4 1.8"/>
<path class="c249" d="M1277 384l7.7 5.8 7.7 5.5 7.8 5.1 7.7 4.7-5.4 3.1-7.7-4.8-7.8-5.3-7.7-5.7-7.7-5.9z"/>
<path class="mb" d="M1277 384l-5.4 2.5"/>
<path class="c250" d="M1307.9 405.1l7.7 4 7.7 3.5 7.8 2.7 7.7 1.9-5.4 3.3-7.8-1.9-7.7-2.7-7.7-3.5-7.7-4.2z"/>
<path class="mb" d="M1307.9 405.1l-5.4 3.1M1338.8 417.2l-5.4 3.3"/>
<path class="c241" d="M1024.5 361l7.7 1.1 7.7 .2 7.7-.5 7.8-1.2-5.5 2.4-7.7 1.3-7.7 .6-7.7-.2-7.8-1.1z"/>
<path class="mb" d="M1024.5 361l-5.5 2.6"/>
<path class="c242" d="M1055.4 360.6l7.7-1.9 7.7-2.3 7.7-2.7 7.7-2.9-5.4 2.2-7.7 3-7.7 2.8-7.7 2.3-7.8 1.9z"/>
<path class="mb" d="M1055.4 360.6l-5.5 2.4"/>
<path class="c243" d="M1086.2 350.8l7.8-3.2 7.7-3.2 7.7-3.3 7.7-3.1-5.4 2-7.7 3.2-7.7 3.3-7.7 3.3-7.8 3.2z"/>
<path class="mb" d="M1086.2 350.8l-5.4 2.2"/>
<path class="c244" d="M1117.1 338l7.8-3 7.7-2.7 7.7-2.3 7.7-1.8-5.4 1.8-7.7 1.9-7.7 2.3-7.8 2.8-7.7 3z"/>
<path class="mb" d="M1117.1 338l-5.4 2"/>
<path class="c245" d="M1148 328.2l7.7-1.2 7.8-.6 7.7 .3 7.7 1-5.4 1.7-7.7-1.1-7.7-.2-7.8 .6-7.7 1.3z"/>
<path class="mb" d="M1148 328.2l-5.4 1.8"/>
<path class="c246" d="M1178.9 327.7l7.7 1.9 7.8 2.8 7.7 3.5 7.7 4.2-5.4 1.8-7.7-4.3-7.8-3.5-7.7-2.8-7.7-1.9z"/>
<path class="mb" d="M1178.9 327.7l-5.4 1.7"/>
<path class="c247" d="M1209.8 340.1l7.7 4.8 7.7 5.3 7.8 5.7 7.7 5.9-5.4 2-7.7-6-7.8-5.7-7.7-5.4-7.7-4.8z"/>
<path class="mb" d="M1209.8 340.1l-5.4 1.8"/>
<path class="c248" d="M1240.7 361.8l7.7 6.1 7.7 6.2 7.8 6.2 7.7 6.2-5.4 2.2-7.8-6.2-7.7-6.3-7.7-6.2-7.7-6.2z"/>
<path class="mb" d="M1240.7 361.8l-5.4 2"/>
<path class="c249" d="M1271.6 386.5l7.7 5.9 7.7 5.7 7.8 5.3 7.7 4.8-5.4 2.4-7.8-4.8-7.7-5.4-7.7-5.7-7.7-6z"/>
<path class="mb" d="M1271.6 386.5l-5.4 2.2"/>
<path class="c250" d="M1302.5 408.2l7.7 4.2 7.7 3.5 7.7 2.7 7.8 1.9-5.4 2.6-7.8-1.9-7.7-2.8-7.7-3.5-7.7-4.3z"/>
<path class="mb" d="M1302.5 408.2l-5.4 2.4M1333.4 420.5l-5.4 2.6"/>
<path class="c251" d="M1019 363.6l7.8 1.1 7.7 .2 7.7-.6 7.7-1.3-5.4 1.8-7.7 1.2-7.7 .6-7.7-.3-7.8-1z"/>
<path class="mb" d="M1019 363.6l7.8 1.1 7.7 .2 7.7-.6 7.7-1.3M1019 363.6l-5.4 1.7"/>
<path class="c252" d="M1049.9 363l7.8-1.9 7.7-2.3 7.7-2.8 7.7-3-5.4 2-7.7 3-7.7 2.7-7.8 2.3-7.7 1.8z"/>
<path class="mb" d="M1049.9 363l7.8-1.9 7.7-2.3 7.7-2.8 7.7-3M1049.9 363l-5.4 1.8"/>
<path class="c253" d="M1080.8 353l7.8-3.2 7.7-3.3 7.7-3.3 7.7-3.2-5.4 2.2-7.7 3.2-7.7 3.2-7.8 3.3-7.7 3.1z"/>
<path class="mb" d="M1080.8 353l7.8-3.2 7.7-3.3 7.7-3.3 7.7-3.2M1080.8 353l-5.4 2"/>
<path class="c254" d="M1111.7 340l7.7-3 7.8-2.8 7.7-2.3 7.7-1.9-5.4 2.4-7.7 1.9-7.7 2.3-7.8 2.7-7.7 2.9z"/>
<path class="mb" d="M1111.7 340l7.7-3 7.8-2.8 7.7-2.3 7.7-1.9M1111.7 340l-5.4 2.2"/>
<path class="c255" d="M1142.6 330l7.7-1.3 7.8-.6 7.7 .2 7.7 1.1-5.4 2.6-7.7-1.1-7.8-.2-7.7 .5-7.7 1.2z"/>
<path class="mb" d="M1142.6 330l7.7-1.3 7.8-.6 7.7 .2 7.7 1.1M1142.6 330l-5.4 2.4"/>
<path class="c256" d="M1173.5 329.4l7.7 1.9 7.7 2.8 7.8 3.5 7.7 4.3-5.4 2.4-7.7-4.2-7.8-3.5-7.7-2.7-7.7-1.9z"/>
<path class="mb" d="M1173.5 329.4l7.7 1.9 7.7 2.8 7.8 3.5 7.7 4.3M1173.5 329.4l-5.4 2.6"/>
<path class="c257" d="M1204.4 341.9l7.7 4.8 7.7 5.4 7.8 5.7 7.7 6-5.4 2.2-7.8-5.9-7.7-5.7-7.7-5.3-7.7-4.8z"/>
<path class="mb" d="M1204.4 341.9l7.7 4.8 7.7 5.4 7.8 5.7 7.7 6M1204.4 341.9l-5.4 2.4"/>
<path class="c258" d="M1235.3 363.8l7.7 6.2 7.7 6.2 7.7 6.3 7.8 6.2-5.4 2-7.8-6.1-7.7-6.2-7.7-6.2-7.7-6.2z"/>
<path class="mb" d="M1235.3 363.8l7.7 6.2 7.7 6.2 7.7 6.3 7.8 6.2M1235.3 363.8l-5.4 2.2"/>
<path class="c259" d="M1266.2 388.7l7.7 6 7.7 5.7 7.7 5.4 7.8 4.8-5.5 1.8-7.7-4.8-7.7-5.3-7.7-5.7-7.7-5.9z"/>
<path class="mb" d="M1266.2 388.7l7.7 6 7.7 5.7 7.7 5.4 7.8 4.8M1266.2 388.7l-5.4 2"/>
<path class="c260" d="M1297.1 410.6l7.7 4.3 7.7 3.5 7.7 2.8 7.8 1.9-5.5 1.7-7.7-1.9-7.7-2.8-7.7-3.5-7.8-4.2z"/>
<path class="mb" d="M1297.1 410.6l7.7 4.3 7.7 3.5 7.7 2.8 7.8 1.9M1297.1 410.6l-5.5 1.8M1328 423.1l-5.5 1.7"/>
<path class="c251" d="M1013.6 365.3l7.8 1 7.7 .3 7.7-.6 7.7-1.2-5.4 1.1-7.7 1.1-7.7 .5-7.8-.3-7.7-1.1z"/>
<path class="mb" d="M1013.6 365.3l-5.4 .8"/>
<path class="c252" d="M1044.5 364.8l7.7-1.8 7.8-2.3 7.7-2.7 7.7-3-5.4 1.8-7.7 2.8-7.7 2.5-7.8 2.1-7.7 1.7z"/>
<path class="mb" d="M1044.5 364.8l-5.4 1.1"/>
<path class="c253" d="M1075.4 355l7.7-3.1 7.8-3.3 7.7-3.2 7.7-3.2-5.4 2.5-7.7 3-7.8 3-7.7 3.1-7.7 3z"/>
<path class="mb" d="M1075.4 355l-5.4 1.8"/>
<path class="c254" d="M1106.3 342.2l7.7-2.9 7.8-2.7 7.7-2.3 7.7-1.9-5.4 3.1-7.7 1.7-7.8 2.2-7.7 2.5-7.7 2.8z"/>
<path class="mb" d="M1106.3 342.2l-5.4 2.5"/>
<path class="c255" d="M1137.2 332.4l7.7-1.2 7.7-.5 7.8 .2 7.7 1.1-5.4 3.3-7.7-1-7.8-.3-7.7 .4-7.7 1.1z"/>
<path class="mb" d="M1137.2 332.4l-5.4 3.1"/>
<path class="c256" d="M1168.1 332l7.7 1.9 7.7 2.7 7.8 3.5 7.7 4.2-5.4 3.1-7.8-4-7.7-3.5-7.7-2.7-7.7-1.9z"/>
<path class="mb" d="M1168.1 332l-5.4 3.3"/>
<path class="c257" d="M1199 344.3l7.7 4.8 7.7 5.3 7.7 5.7 7.8 5.9-5.4 2.5-7.8-5.8-7.7-5.5-7.7-5.1-7.7-4.7z"/>
<path class="mb" d="M1199 344.3l-5.4 3.1"/>
<path class="c258" d="M1229.9 366l7.7 6.2 7.7 6.2 7.7 6.2 7.8 6.1-5.5 1.8-7.7-6-7.7-6-7.7-6-7.7-6z"/>
<path class="mb" d="M1229.9 366l-5.4 2.5"/>
<path class="c259" d="M1260.8 390.7l7.7 5.9 7.7 5.7 7.7 5.3 7.7 4.8-5.4 1.1-7.7-4.6-7.7-5.2-7.7-5.5-7.8-5.7z"/>
<path class="mb" d="M1260.8 390.7l-5.5 1.8"/>
<path class="c260" d="M1291.6 412.4l7.8 4.2 7.7 3.5 7.7 2.8 7.7 1.9-5.4 .8-7.7-1.9-7.7-2.7-7.7-3.4-7.8-4.1z"/>
<path class="mb" d="M1291.6 412.4l-5.4 1.1M1322.5 424.8l-5.4 .8"/>
<path class="c251" d="M1008.2 366.1l7.7 1.1 7.8 .3 7.7-.5 7.7-1.1-5.4 .5-7.7 1-7.7 .3-7.8-.4-7.7-1.1z"/>
<path class="mb" d="M1008.2 366.1l-5.4 .1"/>
<path class="c252" d="M1039.1 365.9l7.7-1.7 7.8-2.1 7.7-2.5 7.7-2.8-5.4 1.5-7.7 2.5-7.8 2.3-7.7 1.9-7.7 1.4z"/>
<path class="mb" d="M1039.1 365.9l-5.4 .5"/>
<path class="c253" d="M1070 356.8l7.7-3 7.7-3.1 7.8-3 7.7-3-5.4 2.7-7.7 2.7-7.8 2.8-7.7 2.7-7.7 2.7z"/>
<path class="mb" d="M1070 356.8l-5.4 1.5"/>
<path class="c254" d="M1100.9 344.7l7.7-2.8 7.7-2.5 7.8-2.2 7.7-1.7-5.4 3.8-7.8 1.4-7.7 1.9-7.7 2.3-7.7 2.5z"/>
<path class="mb" d="M1100.9 344.7l-5.4 2.7"/>
<path class="c255" d="M1131.8 335.5l7.7-1.1 7.7-.4 7.8 .3 7.7 1-5.4 4.2-7.8-1.1-7.7-.4-7.7 .3-7.7 1z"/>
<path class="mb" d="M1131.8 335.5l-5.4 3.8"/>
<path class="c256" d="M1162.7 335.3l7.7 1.9 7.7 2.7 7.7 3.5 7.8 4-5.4 3.8-7.8-3.9-7.7-3.3-7.7-2.6-7.7-1.9z"/>
<path class="mb" d="M1162.7 335.3l-5.4 4.2"/>
<path class="c257" d="M1193.6 347.4l7.7 4.7 7.7 5.1 7.7 5.5 7.8 5.8-5.5 2.7-7.7-5.5-7.7-5.2-7.7-4.9-7.7-4.4z"/>
<path class="mb" d="M1193.6 347.4l-5.4 3.8"/>
<path class="c258" d="M1224.5 368.5l7.7 6 7.7 6 7.7 6 7.7 6-5.4 1.5-7.7-5.7-7.7-5.7-7.7-5.7-7.8-5.7z"/>
<path class="mb" d="M1224.5 368.5l-5.5 2.7"/>
<path class="c259" d="M1255.3 392.5l7.8 5.7 7.7 5.5 7.7 5.2 7.7 4.6-5.4 .5-7.7-4.4-7.7-4.9-7.7-5.2-7.8-5.5z"/>
<path class="mb" d="M1255.3 392.5l-5.4 1.5"/>
<path class="c260" d="M1286.2 413.5l7.8 4.1 7.7 3.4 7.7 2.7 7.7 1.9-5.4 .1-7.7-1.9-7.7-2.6-7.8-3.3-7.7-3.9z"/>
<path class="mb" d="M1286.2 413.5l-5.4 .5M1317.1 425.6l-5.4 .1"/>
<path class="c251" d="M1002.8 366.2l7.7 1.1 7.8 .4 7.7-.3 7.7-1-5.4 0-7.7 .7-7.8 .1-7.7-.5-7.7-1.2z"/>
<path class="mb" d="M1002.8 366.2l-5.4-.7"/>
<path class="c252" d="M1033.7 366.4l7.7-1.4 7.7-1.9 7.8-2.3 7.7-2.5-5.4 1.3-7.7 2.2-7.8 1.9-7.7 1.5-7.7 1.2z"/>
<path class="mb" d="M1033.7 366.4l-5.4 0"/>
<path class="c253" d="M1064.6 358.3l7.7-2.7 7.7-2.7 7.8-2.8 7.7-2.7-5.4 2.9-7.8 2.3-7.7 2.4-7.7 2.3-7.7 2.3z"/>
<path class="mb" d="M1064.6 358.3l-5.4 1.3"/>
<path class="c254" d="M1095.5 347.4l7.7-2.5 7.7-2.3 7.7-1.9 7.8-1.4-5.4 4.2-7.8 1.2-7.7 1.6-7.7 1.9-7.7 2.1z"/>
<path class="mb" d="M1095.5 347.4l-5.4 2.9"/>
<path class="c255" d="M1126.4 339.3l7.7-1 7.7-.3 7.7 .4 7.8 1.1-5.5 4.9-7.7-1.1-7.7-.5-7.7 .1-7.7 .6z"/>
<path class="mb" d="M1126.4 339.3l-5.4 4.2"/>
<path class="c256" d="M1157.3 339.5l7.7 1.9 7.7 2.6 7.7 3.3 7.8 3.9-5.5 4.2-7.7-3.6-7.7-3.1-7.7-2.5-7.8-1.8z"/>
<path class="mb" d="M1157.3 339.5l-5.5 4.9"/>
<path class="c257" d="M1188.2 351.2l7.7 4.4 7.7 4.9 7.7 5.2 7.7 5.5-5.4 2.9-7.7-5.1-7.7-4.9-7.7-4.5-7.8-4.2z"/>
<path class="mb" d="M1188.2 351.2l-5.5 4.2"/>
<path class="c258" d="M1219 371.2l7.8 5.7 7.7 5.7 7.7 5.7 7.7 5.7-5.4 1.3-7.7-5.2-7.7-5.4-7.7-5.3-7.8-5.3z"/>
<path class="mb" d="M1219 371.2l-5.4 2.9"/>
<path class="c259" d="M1249.9 394l7.8 5.5 7.7 5.2 7.7 4.9 7.7 4.4-5.4 0-7.7-4.1-7.7-4.6-7.8-4.8-7.7-5.2z"/>
<path class="mb" d="M1249.9 394l-5.4 1.3"/>
<path class="c260" d="M1280.8 414l7.7 3.9 7.8 3.3 7.7 2.6 7.7 1.9-5.4-.7-7.7-1.8-7.7-2.5-7.8-3.1-7.7-3.6z"/>
<path class="mb" d="M1280.8 414l-5.4 0M1311.7 425.7l-5.4-.7"/>
<path class="c261" d="M997.4 365.5l7.7 1.2 7.7 .5 7.8-.1 7.7-.7-5.4-.5-7.7 .3-7.8-.1-7.7-.6-7.7-1.2z"/>
<path class="mb" d="M997.4 365.5l7.7 1.2 7.7 .5 7.8-.1 7.7-.7M997.4 365.5l-5.4-1.2"/>
<path class="c262" d="M1028.3 366.4l7.7-1.2 7.7-1.5 7.8-1.9 7.7-2.2-5.4 1.2-7.8 1.7-7.7 1.4-7.7 1.2-7.7 .8z"/>
<path class="mb" d="M1028.3 366.4l7.7-1.2 7.7-1.5 7.8-1.9 7.7-2.2M1028.3 366.4l-5.4-.5"/>
<path class="c263" d="M1059.2 359.6l7.7-2.3 7.7-2.3 7.7-2.4 7.8-2.3-5.4 3.1-7.8 1.8-7.7 1.9-7.7 1.9-7.7 1.8z"/>
<path class="mb" d="M1059.2 359.6l7.7-2.3 7.7-2.3 7.7-2.4 7.8-2.3M1059.2 359.6l-5.4 1.2"/>
<path class="c264" d="M1090.1 350.3l7.7-2.1 7.7-1.9 7.7-1.6 7.8-1.2-5.5 4.8-7.7 .8-7.7 1.2-7.7 1.4-7.7 1.7z"/>
<path class="mb" d="M1090.1 350.3l7.7-2.1 7.7-1.9 7.7-1.6 7.8-1.2M1090.1 350.3l-5.4 3.1"/>
<path class="c265" d="M1121 343.5l7.7-.6 7.7-.1 7.7 .5 7.7 1.1-5.4 5.5-7.7-1.2-7.7-.7-7.7-.1-7.8 .4z"/>
<path class="mb" d="M1121 343.5l7.7-.6 7.7-.1 7.7 .5 7.7 1.1M1121 343.5l-5.5 4.8"/>
<path class="c266" d="M1151.8 344.4l7.8 1.8 7.7 2.5 7.7 3.1 7.7 3.6-5.4 4.8-7.7-3.3-7.7-2.9-7.7-2.3-7.8-1.8z"/>
<path class="mb" d="M1151.8 344.4l7.8 1.8 7.7 2.5 7.7 3.1 7.7 3.6M1151.8 344.4l-5.4 5.5"/>
<path class="c267" d="M1182.7 355.4l7.8 4.2 7.7 4.5 7.7 4.9 7.7 5.1-5.4 3.1-7.7-4.7-7.7-4.4-7.8-4.1-7.7-3.8z"/>
<path class="mb" d="M1182.7 355.4l7.8 4.2 7.7 4.5 7.7 4.9 7.7 5.1M1182.7 355.4l-5.4 4.8"/>
<path class="c268" d="M1213.6 374.1l7.8 5.3 7.7 5.3 7.7 5.4 7.7 5.2-5.4 1.2-7.7-4.8-7.7-4.9-7.8-4.8-7.7-4.8z"/>
<path class="mb" d="M1213.6 374.1l7.8 5.3 7.7 5.3 7.7 5.4 7.7 5.2M1213.6 374.1l-5.4 3.1"/>
<path class="c269" d="M1244.5 395.3l7.7 5.2 7.8 4.8 7.7 4.6 7.7 4.1-5.4-.5-7.7-3.8-7.7-4.1-7.8-4.5-7.7-4.6z"/>
<path class="mb" d="M1244.5 395.3l7.7 5.2 7.8 4.8 7.7 4.6 7.7 4.1M1244.5 395.3l-5.4 1.2"/>
<path class="c270" d="M1275.4 414l7.7 3.6 7.8 3.1 7.7 2.5 7.7 1.8-5.4-1.2-7.7-1.8-7.8-2.3-7.7-2.9-7.7-3.3z"/>
<path class="mb" d="M1275.4 414l7.7 3.6 7.8 3.1 7.7 2.5 7.7 1.8M1275.4 414l-5.4-.5M1306.3 425l-5.4-1.2"/>
<path class="c261" d="M992 364.3l7.7 1.2 7.7 .6 7.8 .1 7.7-.3-5.4-1-7.8 .1-7.7-.4-7.7-.8-7.7-1.3z"/>
<path class="mb" d="M992 364.3l-5.4-1.8"/>
<path class="c262" d="M1022.9 365.9l7.7-.8 7.7-1.2 7.7-1.4 7.8-1.7-5.4 1-7.8 1.1-7.7 1-7.7 .7-7.7 .3z"/>
<path class="mb" d="M1022.9 365.9l-5.4-1"/>
<path class="c263" d="M1053.8 360.8l7.7-1.8 7.7-1.9 7.7-1.9 7.8-1.8-5.5 3.2-7.7 1.3-7.7 1.3-7.7 1.3-7.7 1.3z"/>
<path class="mb" d="M1053.8 360.8l-5.4 1"/>
<path class="c264" d="M1084.7 353.4l7.7-1.7 7.7-1.4 7.7-1.2 7.7-.8-5.4 5.2-7.7 .4-7.7 .7-7.7 .9-7.8 1.1z"/>
<path class="mb" d="M1084.7 353.4l-5.5 3.2"/>
<path class="c265" d="M1115.5 348.3l7.8-.4 7.7 .1 7.7 .7 7.7 1.2-5.4 6-7.7-1.3-7.7-.8-7.7-.4-7.8 .1z"/>
<path class="mb" d="M1115.5 348.3l-5.4 5.2"/>
<path class="c266" d="M1146.4 349.9l7.8 1.8 7.7 2.3 7.7 2.9 7.7 3.3-5.4 5.2-7.7-3-7.7-2.6-7.8-2.2-7.7-1.7z"/>
<path class="mb" d="M1146.4 349.9l-5.4 6"/>
<path class="c267" d="M1177.3 360.2l7.7 3.8 7.8 4.1 7.7 4.4 7.7 4.7-5.4 3.2-7.7-4.1-7.7-3.9-7.8-3.7-7.7-3.3z"/>
<path class="mb" d="M1177.3 360.2l-5.4 5.2"/>
<path class="c268" d="M1208.2 377.2l7.7 4.8 7.8 4.8 7.7 4.9 7.7 4.8-5.4 1-7.7-4.2-7.8-4.3-7.7-4.3-7.7-4.3z"/>
<path class="mb" d="M1208.2 377.2l-5.4 3.2"/>
<path class="c269" d="M1239.1 396.5l7.7 4.6 7.8 4.5 7.7 4.1 7.7 3.8-5.4-1-7.7-3.3-7.8-3.7-7.7-3.9-7.7-4.1z"/>
<path class="mb" d="M1239.1 396.5l-5.4 1"/>
<path class="c270" d="M1270 413.5l7.7 3.3 7.7 2.9 7.8 2.3 7.7 1.8-5.4-1.8-7.7-1.7-7.8-2.1-7.7-2.7-7.7-3z"/>
<path class="mb" d="M1270 413.5l-5.4-1M1300.9 423.8l-5.4-1.8"/>
<path class="c261" d="M986.6 362.5l7.7 1.3 7.7 .8 7.7 .4 7.8-.1-5.4-1.2-7.8-.4-7.7-.6-7.7-1-7.7-1.3z"/>
<path class="mb" d="M986.6 362.5l-5.4-2.1"/>
<path class="c262" d="M1017.5 364.9l7.7-.3 7.7-.7 7.7-1 7.8-1.1-5.5 .8-7.7 .6-7.7 .3-7.7 .2-7.7 0z"/>
<path class="mb" d="M1017.5 364.9l-5.4-1.2"/>
<path class="c263" d="M1048.4 361.8l7.7-1.3 7.7-1.3 7.7-1.3 7.7-1.3-5.4 3.4-7.7 .6-7.7 .7-7.7 .7-7.8 .6z"/>
<path class="mb" d="M1048.4 361.8l-5.5 .8"/>
<path class="c264" d="M1079.2 356.6l7.8-1.1 7.7-.9 7.7-.7 7.7-.4-5.4 5.5-7.7-.1-7.7 .2-7.7 .4-7.8 .5z"/>
<path class="mb" d="M1079.2 356.6l-5.4 3.4"/>
<path class="c265" d="M1110.1 353.5l7.8-.1 7.7 .4 7.7 .8 7.7 1.3-5.4 6.3-7.7-1.3-7.7-1-7.8-.6-7.7-.3z"/>
<path class="mb" d="M1110.1 353.5l-5.4 5.5"/>
<path class="c266" d="M1141 355.9l7.7 1.7 7.8 2.2 7.7 2.6 7.7 3-5.4 5.5-7.7-2.7-7.7-2.3-7.8-2-7.7-1.7z"/>
<path class="mb" d="M1141 355.9l-5.4 6.3"/>
<path class="c267" d="M1171.9 365.4l7.7 3.3 7.8 3.7 7.7 3.9 7.7 4.1-5.4 3.4-7.7-3.5-7.8-3.3-7.7-3.2-7.7-2.9z"/>
<path class="mb" d="M1171.9 365.4l-5.4 5.5"/>
<path class="c268" d="M1202.8 380.4l7.7 4.3 7.7 4.3 7.8 4.3 7.7 4.2-5.4 .8-7.7-3.6-7.8-3.6-7.7-3.7-7.7-3.6z"/>
<path class="mb" d="M1202.8 380.4l-5.4 3.4"/>
<path class="c269" d="M1233.7 397.5l7.7 4.1 7.7 3.9 7.8 3.7 7.7 3.3-5.4-1.2-7.8-2.9-7.7-3.2-7.7-3.4-7.7-3.5z"/>
<path class="mb" d="M1233.7 397.5l-5.4 .8"/>
<path class="c270" d="M1264.6 412.5l7.7 3 7.7 2.7 7.8 2.1 7.7 1.7-5.4-2.1-7.8-1.6-7.7-2-7.7-2.4-7.7-2.6z"/>
<path class="mb" d="M1264.6 412.5l-5.4-1.2M1295.5 422l-5.4-2.1"/>
<path class="c261" d="M981.2 360.4l7.7 1.3 7.7 1 7.7 .6 7.8 .4-5.5-1.5-7.7-.7-7.7-1-7.7-1.1-7.7-1.4z"/>
<path class="mb" d="M981.2 360.4l-5.4-2.4"/>
<path class="c262" d="M1012.1 363.7l7.7 0 7.7-.2 7.7-.3 7.7-.6-5.4 .8-7.7-.1-7.7-.3-7.7-.3-7.8-.5z"/>
<path class="mb" d="M1012.1 363.7l-5.5-1.5"/>
<path class="c263" d="M1042.9 362.6l7.8-.6 7.7-.7 7.7-.7 7.7-.6-5.4 3.5-7.7 0-7.7-.1-7.7 0-7.8 0z"/>
<path class="mb" d="M1042.9 362.6l-5.4 .8"/>
<path class="c264" d="M1073.8 360l7.8-.5 7.7-.4 7.7-.2 7.7 .1-5.4 5.7-7.7-.5-7.7-.4-7.8-.2-7.7-.1z"/>
<path class="mb" d="M1073.8 360l-5.4 3.5"/>
<path class="c265" d="M1104.7 359l7.7 .3 7.8 .6 7.7 1 7.7 1.3-5.4 6.6-7.7-1.3-7.7-1.2-7.8-.9-7.7-.7z"/>
<path class="mb" d="M1104.7 359l-5.4 5.7"/>
<path class="c266" d="M1135.6 362.2l7.7 1.7 7.8 2 7.7 2.3 7.7 2.7-5.4 5.7-7.7-2.3-7.8-2-7.7-1.9-7.7-1.6z"/>
<path class="mb" d="M1135.6 362.2l-5.4 6.6"/>
<path class="c267" d="M1166.5 370.9l7.7 2.9 7.7 3.2 7.8 3.3 7.7 3.5-5.4 3.5-7.7-2.9-7.8-2.7-7.7-2.6-7.7-2.5z"/>
<path class="mb" d="M1166.5 370.9l-5.4 5.7"/>
<path class="c268" d="M1197.4 383.8l7.7 3.6 7.7 3.7 7.8 3.6 7.7 3.6-5.4 .8-7.8-2.9-7.7-3-7.7-3-7.7-2.9z"/>
<path class="mb" d="M1197.4 383.8l-5.4 3.5"/>
<path class="c269" d="M1228.3 398.3l7.7 3.5 7.7 3.4 7.7 3.2 7.8 2.9-5.4-1.5-7.8-2.5-7.7-2.6-7.7-2.8-7.7-2.8z"/>
<path class="mb" d="M1228.3 398.3l-5.4 .8"/>
<path class="c270" d="M1259.2 411.3l7.7 2.6 7.7 2.4 7.7 2 7.8 1.6-5.5-2.4-7.7-1.6-7.7-1.8-7.7-2.1-7.7-2.2z"/>
<path class="mb" d="M1259.2 411.3l-5.4-1.5M1290.1 419.9l-5.5-2.4"/>
<path class="c271" d="M975.8 358l7.7 1.4 7.7 1.1 7.7 1 7.7 .7-5.4-1.7-7.7-1.1-7.7-1.2-7.7-1.3-7.8-1.4z"/>
<path class="mb" d="M975.8 358l7.7 1.4 7.7 1.1 7.7 1 7.7 .7M975.8 358l-5.5-2.5"/>
<path class="c272" d="M1006.6 362.2l7.8 .5 7.7 .3 7.7 .3 7.7 .1-5.4 .7-7.7-.8-7.7-.9-7.7-.9-7.8-1z"/>
<path class="mb" d="M1006.6 362.2l7.8 .5 7.7 .3 7.7 .3 7.7 .1M1006.6 362.2l-5.4-1.7"/>
<path class="c273" d="M1037.5 363.4l7.8 0 7.7 0 7.7 .1 7.7 0-5.4 3.6-7.7-.8-7.7-.7-7.8-.8-7.7-.7z"/>
<path class="mb" d="M1037.5 363.4l7.8 0 7.7 0 7.7 .1 7.7 0M1037.5 363.4l-5.4 .7"/>
<path class="c274" d="M1068.4 363.5l7.7 .1 7.8 .2 7.7 .4 7.7 .5-5.4 5.9-7.7-1-7.7-.9-7.8-.8-7.7-.8z"/>
<path class="mb" d="M1068.4 363.5l7.7 .1 7.8 .2 7.7 .4 7.7 .5M1068.4 363.5l-5.4 3.6"/>
<path class="c275" d="M1099.3 364.7l7.7 .7 7.8 .9 7.7 1.2 7.7 1.3-5.4 6.9-7.7-1.5-7.8-1.3-7.7-1.2-7.7-1.1z"/>
<path class="mb" d="M1099.3 364.7l7.7 .7 7.8 .9 7.7 1.2 7.7 1.3M1099.3 364.7l-5.4 5.9"/>
<path class="c276" d="M1130.2 368.8l7.7 1.6 7.7 1.9 7.8 2 7.7 2.3-5.4 5.9-7.7-1.9-7.8-1.7-7.7-1.7-7.7-1.5z"/>
<path class="mb" d="M1130.2 368.8l7.7 1.6 7.7 1.9 7.8 2 7.7 2.3M1130.2 368.8l-5.4 6.9"/>
<path class="c277" d="M1161.1 376.6l7.7 2.5 7.7 2.6 7.8 2.7 7.7 2.9-5.4 3.6-7.8-2.2-7.7-2.2-7.7-2-7.7-2z"/>
<path class="mb" d="M1161.1 376.6l7.7 2.5 7.7 2.6 7.8 2.7 7.7 2.9M1161.1 376.6l-5.4 5.9"/>
<path class="c278" d="M1192 387.3l7.7 2.9 7.7 3 7.7 3 7.8 2.9-5.4 .7-7.8-2.3-7.7-2.2-7.7-2.2-7.7-2.2z"/>
<path class="mb" d="M1192 387.3l7.7 2.9 7.7 3 7.7 3 7.8 2.9M1192 387.3l-5.4 3.6"/>
<path class="c279" d="M1222.9 399.1l7.7 2.8 7.7 2.8 7.7 2.6 7.8 2.5-5.5-1.7-7.7-2-7.7-2-7.7-2.2-7.7-2.1z"/>
<path class="mb" d="M1222.9 399.1l7.7 2.8 7.7 2.8 7.7 2.6 7.8 2.5M1222.9 399.1l-5.4 .7"/>
<path class="c280" d="M1253.8 409.8l7.7 2.2 7.7 2.1 7.7 1.8 7.7 1.6-5.4-2.5-7.7-1.6-7.7-1.6-7.7-1.8-7.8-1.9z"/>
<path class="mb" d="M1253.8 409.8l7.7 2.2 7.7 2.1 7.7 1.8 7.7 1.6M1253.8 409.8l-5.5-1.7M1284.6 417.5l-5.4-2.5"/>
<path class="c271" d="M970.3 355.5l7.8 1.4 7.7 1.3 7.7 1.2 7.7 1.1-5.4-1.8-7.7-1.4-7.7-1.5-7.8-1.5-7.7-1.5z"/>
<path class="mb" d="M970.3 355.5l-5.4-2.7"/>
<path class="c272" d="M1001.2 360.5l7.8 1 7.7 .9 7.7 .9 7.7 .8-5.4 .6-7.7-1.5-7.7-1.5-7.8-1.5-7.7-1.5z"/>
<path class="mb" d="M1001.2 360.5l-5.4-1.8"/>
<path class="c273" d="M1032.1 364.1l7.7 .7 7.8 .8 7.7 .7 7.7 .8-5.4 3.5-7.7-1.4-7.7-1.5-7.8-1.5-7.7-1.5z"/>
<path class="mb" d="M1032.1 364.1l-5.4 .6"/>
<path class="c274" d="M1063 367.1l7.7 .8 7.8 .8 7.7 .9 7.7 1-5.4 6-7.7-1.5-7.8-1.5-7.7-1.5-7.7-1.5z"/>
<path class="mb" d="M1063 367.1l-5.4 3.5"/>
<path class="c275" d="M1093.9 370.6l7.7 1.1 7.7 1.2 7.8 1.3 7.7 1.5-5.4 6.8-7.7-1.4-7.8-1.5-7.7-1.5-7.7-1.5z"/>
<path class="mb" d="M1093.9 370.6l-5.4 6"/>
<path class="c276" d="M1124.8 375.7l7.7 1.5 7.7 1.7 7.8 1.7 7.7 1.9-5.4 6-7.8-1.5-7.7-1.5-7.7-1.5-7.7-1.5z"/>
<path class="mb" d="M1124.8 375.7l-5.4 6.8"/>
<path class="c277" d="M1155.7 382.5l7.7 2 7.7 2 7.7 2.2 7.8 2.2-5.4 3.5-7.8-1.4-7.7-1.5-7.7-1.5-7.7-1.5z"/>
<path class="mb" d="M1155.7 382.5l-5.4 6"/>
<path class="c278" d="M1186.6 390.9l7.7 2.2 7.7 2.2 7.7 2.2 7.8 2.3-5.5 .6-7.7-1.5-7.7-1.5-7.7-1.5-7.7-1.5z"/>
<path class="mb" d="M1186.6 390.9l-5.4 3.5"/>
<path class="c279" d="M1217.5 399.8l7.7 2.1 7.7 2.2 7.7 2 7.7 2-5.4-1.8-7.7-1.4-7.7-1.5-7.7-1.5-7.8-1.5z"/>
<path class="mb" d="M1217.5 399.8l-5.5 .6"/>
<path class="c280" d="M1248.3 408.1l7.8 1.9 7.7 1.8 7.7 1.6 7.7 1.6-5.4-2.7-7.7-1.5-7.7-1.5-7.7-1.5-7.8-1.5z"/>
<path class="mb" d="M1248.3 408.1l-5.4-1.8M1279.2 415l-5.4-2.7"/>
<path class="c271" d="M964.9 352.8l7.7 1.5 7.8 1.5 7.7 1.5 7.7 1.4-5.4-1.7-7.7-1.9-7.7-1.8-7.8-1.6-7.7-1.6z"/>
<path class="mb" d="M964.9 352.8l-5.4-2.7"/>
<path class="c272" d="M995.8 358.7l7.7 1.5 7.8 1.5 7.7 1.5 7.7 1.5-5.4 .6-7.7-2.1-7.8-2.2-7.7-2-7.7-2z"/>
<path class="mb" d="M995.8 358.7l-5.4-1.7"/>
<path class="c273" d="M1026.7 364.7l7.7 1.5 7.8 1.5 7.7 1.5 7.7 1.4-5.4 3.6-7.7-2.2-7.8-2.2-7.7-2.2-7.7-2.3z"/>
<path class="mb" d="M1026.7 364.7l-5.4 .6"/>
<path class="c274" d="M1057.6 370.6l7.7 1.5 7.7 1.5 7.8 1.5 7.7 1.5-5.4 6-7.7-2-7.8-2-7.7-2.2-7.7-2.2z"/>
<path class="mb" d="M1057.6 370.6l-5.4 3.6"/>
<path class="c275" d="M1088.5 376.6l7.7 1.5 7.7 1.5 7.8 1.5 7.7 1.4-5.4 6.9-7.8-1.5-7.7-1.7-7.7-1.7-7.7-1.9z"/>
<path class="mb" d="M1088.5 376.6l-5.4 6"/>
<path class="c276" d="M1119.4 382.5l7.7 1.5 7.7 1.5 7.7 1.5 7.8 1.5-5.4 6-7.8-1.1-7.7-1.2-7.7-1.3-7.7-1.5z"/>
<path class="mb" d="M1119.4 382.5l-5.4 6.9"/>
<path class="c277" d="M1150.3 388.5l7.7 1.5 7.7 1.5 7.7 1.5 7.8 1.4-5.5 3.6-7.7-.8-7.7-.8-7.7-.9-7.7-1z"/>
<path class="mb" d="M1150.3 388.5l-5.4 6"/>
<path class="c278" d="M1181.2 394.4l7.7 1.5 7.7 1.5 7.7 1.5 7.7 1.5-5.4 .6-7.7-.7-7.7-.8-7.7-.7-7.8-.8z"/>
<path class="mb" d="M1181.2 394.4l-5.5 3.6"/>
<path class="c279" d="M1212 400.4l7.8 1.5 7.7 1.5 7.7 1.5 7.7 1.4-5.4-1.7-7.7-1-7.7-.9-7.7-.9-7.8-.8z"/>
<path class="mb" d="M1212 400.4l-5.4 .6"/>
<path class="c280" d="M1242.9 406.3l7.8 1.5 7.7 1.5 7.7 1.5 7.7 1.5-5.4-2.7-7.7-1.4-7.7-1.3-7.8-1.2-7.7-1.1z"/>
<path class="mb" d="M1242.9 406.3l-5.4-1.7M1273.8 412.3l-5.4-2.7"/>
<path class="c271" d="M959.5 350.1l7.7 1.6 7.8 1.6 7.7 1.8 7.7 1.9-5.4-1.7-7.7-2.2-7.8-2.1-7.7-1.8-7.7-1.6z"/>
<path class="mb" d="M959.5 350.1l-5.4-2.5"/>
<path class="c272" d="M990.4 357l7.7 2 7.7 2 7.8 2.2 7.7 2.1-5.4 .7-7.7-2.8-7.8-2.8-7.7-2.6-7.7-2.5z"/>
<path class="mb" d="M990.4 357l-5.4-1.7"/>
<path class="c273" d="M1021.3 365.3l7.7 2.3 7.7 2.2 7.8 2.2 7.7 2.2-5.4 3.6-7.8-2.9-7.7-3-7.7-3-7.7-2.9z"/>
<path class="mb" d="M1021.3 365.3l-5.4 .7"/>
<path class="c274" d="M1052.2 374.2l7.7 2.2 7.7 2.2 7.8 2 7.7 2-5.4 5.9-7.8-2.5-7.7-2.6-7.7-2.7-7.7-2.9z"/>
<path class="mb" d="M1052.2 374.2l-5.4 3.6"/>
<path class="c275" d="M1083.1 382.6l7.7 1.9 7.7 1.7 7.7 1.7 7.8 1.5-5.4 6.9-7.8-1.6-7.7-1.9-7.7-2-7.7-2.3z"/>
<path class="mb" d="M1083.1 382.6l-5.4 5.9"/>
<path class="c276" d="M1114 389.4l7.7 1.5 7.7 1.3 7.7 1.2 7.8 1.1-5.5 5.9-7.7-.7-7.7-.9-7.7-1.2-7.7-1.3z"/>
<path class="mb" d="M1114 389.4l-5.4 6.9"/>
<path class="c277" d="M1144.9 394.5l7.7 1 7.7 .9 7.7 .8 7.7 .8-5.4 3.6-7.7-.1-7.7-.2-7.7-.4-7.8-.5z"/>
<path class="mb" d="M1144.9 394.5l-5.5 5.9"/>
<path class="c278" d="M1175.7 398l7.8 .8 7.7 .7 7.7 .8 7.7 .7-5.4 .7-7.7 0-7.7 0-7.7-.1-7.8 0z"/>
<path class="mb" d="M1175.7 398l-5.4 3.6"/>
<path class="c279" d="M1206.6 401l7.8 .8 7.7 .9 7.7 .9 7.7 1-5.4-1.7-7.7-.5-7.7-.3-7.8-.3-7.7-.1z"/>
<path class="mb" d="M1206.6 401l-5.4 .7"/>
<path class="c280" d="M1237.5 404.6l7.7 1.1 7.8 1.2 7.7 1.3 7.7 1.4-5.4-2.5-7.7-1.4-7.7-1.1-7.8-1-7.7-.7z"/>
<path class="mb" d="M1237.5 404.6l-5.4-1.7M1268.4 409.6l-5.4-2.5"/>
<path class="c281" d="M954.1 347.6l7.7 1.6 7.7 1.8 7.8 2.1 7.7 2.2-5.4-1.5-7.7-2.6-7.8-2.4-7.7-2-7.7-1.6z"/>
<path class="mb" d="M954.1 347.6l7.7 1.6 7.7 1.8 7.8 2.1 7.7 2.2M954.1 347.6l-5.4-2.4"/>
<path class="c282" d="M985 355.3l7.7 2.5 7.7 2.6 7.8 2.8 7.7 2.8-5.4 .8-7.8-3.5-7.7-3.4-7.7-3.2-7.7-2.9z"/>
<path class="mb" d="M985 355.3l7.7 2.5 7.7 2.6 7.8 2.8 7.7 2.8M985 355.3l-5.4-1.5"/>
<path class="c283" d="M1015.9 366l7.7 2.9 7.7 3 7.7 3 7.8 2.9-5.4 3.5-7.8-3.6-7.7-3.7-7.7-3.6-7.7-3.6z"/>
<path class="mb" d="M1015.9 366l7.7 2.9 7.7 3 7.7 3 7.8 2.9M1015.9 366l-5.4 .8"/>
<path class="c284" d="M1046.8 377.8l7.7 2.9 7.7 2.7 7.7 2.6 7.8 2.5-5.5 5.7-7.7-2.9-7.7-3.2-7.7-3.3-7.7-3.5z"/>
<path class="mb" d="M1046.8 377.8l7.7 2.9 7.7 2.7 7.7 2.6 7.8 2.5M1046.8 377.8l-5.4 3.5"/>
<path class="c285" d="M1077.7 388.5l7.7 2.3 7.7 2 7.7 1.9 7.8 1.6-5.5 6.6-7.7-1.7-7.7-2-7.7-2.3-7.8-2.7z"/>
<path class="mb" d="M1077.7 388.5l7.7 2.3 7.7 2 7.7 1.9 7.8 1.6M1077.7 388.5l-5.5 5.7"/>
<path class="c286" d="M1108.6 396.3l7.7 1.3 7.7 1.2 7.7 .9 7.7 .7-5.4 5.7-7.7-.3-7.7-.6-7.7-1-7.8-1.3z"/>
<path class="mb" d="M1108.6 396.3l7.7 1.3 7.7 1.2 7.7 .9 7.7 .7M1108.6 396.3l-5.5 6.6"/>
<path class="c287" d="M1139.4 400.4l7.8 .5 7.7 .4 7.7 .2 7.7 .1-5.4 3.5-7.7 .5-7.7 .4-7.7 .2-7.8-.1z"/>
<path class="mb" d="M1139.4 400.4l7.8 .5 7.7 .4 7.7 .2 7.7 .1M1139.4 400.4l-5.4 5.7"/>
<path class="c288" d="M1170.3 401.6l7.8 0 7.7 .1 7.7 0 7.7 0-5.4 .8-7.7 .6-7.7 .7-7.8 .7-7.7 .6z"/>
<path class="mb" d="M1170.3 401.6l7.8 0 7.7 .1 7.7 0 7.7 0M1170.3 401.6l-5.4 3.5"/>
<path class="c289" d="M1201.2 401.7l7.7 .1 7.8 .3 7.7 .3 7.7 .5-5.4-1.5-7.7 0-7.7 .2-7.8 .3-7.7 .6z"/>
<path class="mb" d="M1201.2 401.7l7.7 .1 7.8 .3 7.7 .3 7.7 .5M1201.2 401.7l-5.4 .8"/>
<path class="c290" d="M1232.1 402.9l7.7 .7 7.8 1 7.7 1.1 7.7 1.4-5.4-2.4-7.7-1.3-7.8-1-7.7-.6-7.7-.4z"/>
<path class="mb" d="M1232.1 402.9l7.7 .7 7.8 1 7.7 1.1 7.7 1.4M1232.1 402.9l-5.4-1.5M1263 407.1l-5.4-2.4"/>
<path class="c281" d="M948.7 345.2l7.7 1.6 7.7 2 7.8 2.4 7.7 2.6-5.4-1.2-7.8-3-7.7-2.7-7.7-2.1-7.7-1.7z"/>
<path class="mb" d="M948.7 345.2l-5.4-2.1"/>
<path class="c282" d="M979.6 353.8l7.7 2.9 7.7 3.2 7.7 3.4 7.8 3.5-5.4 .8-7.8-4.1-7.7-3.9-7.7-3.7-7.7-3.3z"/>
<path class="mb" d="M979.6 353.8l-5.4-1.2"/>
<path class="c283" d="M1010.5 366.8l7.7 3.6 7.7 3.6 7.7 3.7 7.8 3.6-5.5 3.4-7.7-4.3-7.7-4.3-7.7-4.3-7.7-4.2z"/>
<path class="mb" d="M1010.5 366.8l-5.4 .8"/>
<path class="c284" d="M1041.4 381.3l7.7 3.5 7.7 3.3 7.7 3.2 7.7 2.9-5.4 5.5-7.7-3.3-7.7-3.7-7.7-3.9-7.8-4.1z"/>
<path class="mb" d="M1041.4 381.3l-5.5 3.4"/>
<path class="c285" d="M1072.2 394.2l7.8 2.7 7.7 2.3 7.7 2 7.7 1.7-5.4 6.3-7.7-1.7-7.7-2.2-7.7-2.6-7.8-3z"/>
<path class="mb" d="M1072.2 394.2l-5.4 5.5"/>
<path class="c286" d="M1103.1 402.9l7.8 1.3 7.7 1 7.7 .6 7.7 .3-5.4 5.5-7.7 .1-7.7-.4-7.8-.8-7.7-1.3z"/>
<path class="mb" d="M1103.1 402.9l-5.4 6.3"/>
<path class="c287" d="M1134 406.1l7.8 .1 7.7-.2 7.7-.4 7.7-.5-5.4 3.4-7.7 1.1-7.7 .9-7.8 .7-7.7 .4z"/>
<path class="mb" d="M1134 406.1l-5.4 5.5"/>
<path class="c288" d="M1164.9 405.1l7.7-.6 7.8-.7 7.7-.7 7.7-.6-5.4 .8-7.7 1.3-7.8 1.3-7.7 1.3-7.7 1.3z"/>
<path class="mb" d="M1164.9 405.1l-5.4 3.4"/>
<path class="c289" d="M1195.8 402.5l7.7-.6 7.8-.3 7.7-.2 7.7 0-5.4-1.2-7.7 .3-7.8 .7-7.7 1-7.7 1.1z"/>
<path class="mb" d="M1195.8 402.5l-5.4 .8"/>
<path class="c290" d="M1226.7 401.4l7.7 .4 7.7 .6 7.8 1 7.7 1.3-5.4-2.1-7.7-1.3-7.8-.8-7.7-.4-7.7 .1z"/>
<path class="mb" d="M1226.7 401.4l-5.4-1.2M1257.6 404.7l-5.4-2.1"/>
<path class="c281" d="M943.3 343.1l7.7 1.7 7.7 2.1 7.7 2.7 7.8 3-5.4-1-7.8-3.3-7.7-2.9-7.7-2.3-7.7-1.8z"/>
<path class="mb" d="M943.3 343.1l-5.4-1.8"/>
<path class="c282" d="M974.2 352.6l7.7 3.3 7.7 3.7 7.7 3.9 7.8 4.1-5.5 1-7.7-4.6-7.7-4.5-7.7-4.1-7.7-3.8z"/>
<path class="mb" d="M974.2 352.6l-5.4-1"/>
<path class="c283" d="M1005.1 367.6l7.7 4.2 7.7 4.3 7.7 4.3 7.7 4.3-5.4 3.2-7.7-4.8-7.7-4.8-7.7-4.9-7.8-4.8z"/>
<path class="mb" d="M1005.1 367.6l-5.5 1"/>
<path class="c284" d="M1035.9 384.7l7.8 4.1 7.7 3.9 7.7 3.7 7.7 3.3-5.4 5.2-7.7-3.8-7.7-4.1-7.7-4.4-7.8-4.7z"/>
<path class="mb" d="M1035.9 384.7l-5.4 3.2"/>
<path class="c285" d="M1066.8 399.7l7.8 3 7.7 2.6 7.7 2.2 7.7 1.7-5.4 6-7.7-1.8-7.7-2.3-7.8-2.9-7.7-3.3z"/>
<path class="mb" d="M1066.8 399.7l-5.4 5.2"/>
<path class="c286" d="M1097.7 409.2l7.7 1.3 7.8 .8 7.7 .4 7.7-.1-5.4 5.2-7.7 .4-7.7-.1-7.8-.7-7.7-1.2z"/>
<path class="mb" d="M1097.7 409.2l-5.4 6"/>
<path class="c287" d="M1128.6 411.6l7.7-.4 7.8-.7 7.7-.9 7.7-1.1-5.4 3.2-7.7 1.7-7.8 1.4-7.7 1.2-7.7 .8z"/>
<path class="mb" d="M1128.6 411.6l-5.4 5.2"/>
<path class="c288" d="M1159.5 408.5l7.7-1.3 7.7-1.3 7.8-1.3 7.7-1.3-5.4 1-7.7 1.8-7.8 1.9-7.7 1.9-7.7 1.8z"/>
<path class="mb" d="M1159.5 408.5l-5.4 3.2"/>
<path class="c289" d="M1190.4 403.3l7.7-1.1 7.7-1 7.8-.7 7.7-.3-5.4-1-7.7 .8-7.8 1.2-7.7 1.4-7.7 1.7z"/>
<path class="mb" d="M1190.4 403.3l-5.4 1"/>
<path class="c290" d="M1221.3 400.2l7.7-.1 7.7 .4 7.8 .8 7.7 1.3-5.4-1.8-7.8-1.2-7.7-.6-7.7-.1-7.7 .3z"/>
<path class="mb" d="M1221.3 400.2l-5.4-1M1252.2 402.6l-5.4-1.8"/>
<path class="c281" d="M937.9 341.3l7.7 1.8 7.7 2.3 7.7 2.9 7.8 3.3-5.5-.5-7.7-3.6-7.7-3.1-7.7-2.5-7.8-1.8z"/>
<path class="mb" d="M937.9 341.3l-5.5-1.2"/>
<path class="c282" d="M968.8 351.6l7.7 3.8 7.7 4.1 7.7 4.5 7.7 4.6-5.4 1.2-7.7-5.2-7.7-4.8-7.7-4.6-7.8-4.1z"/>
<path class="mb" d="M968.8 351.6l-5.5-.5"/>
<path class="c283" d="M999.6 368.6l7.8 4.8 7.7 4.9 7.7 4.8 7.7 4.8-5.4 3.1-7.7-5.3-7.7-5.3-7.7-5.4-7.8-5.2z"/>
<path class="mb" d="M999.6 368.6l-5.4 1.2"/>
<path class="c284" d="M1030.5 387.9l7.8 4.7 7.7 4.4 7.7 4.1 7.7 3.8-5.4 4.8-7.7-4.2-7.7-4.5-7.8-4.9-7.7-5.1z"/>
<path class="mb" d="M1030.5 387.9l-5.4 3.1"/>
<path class="c285" d="M1061.4 404.9l7.7 3.3 7.8 2.9 7.7 2.3 7.7 1.8-5.4 5.5-7.7-1.8-7.7-2.5-7.8-3.1-7.7-3.6z"/>
<path class="mb" d="M1061.4 404.9l-5.4 4.8"/>
<path class="c286" d="M1092.3 415.2l7.7 1.2 7.8 .7 7.7 .1 7.7-.4-5.4 4.8-7.7 .6-7.8 .1-7.7-.5-7.7-1.1z"/>
<path class="mb" d="M1092.3 415.2l-5.4 5.5"/>
<path class="c287" d="M1123.2 416.8l7.7-.8 7.7-1.2 7.8-1.4 7.7-1.7-5.4 3.1-7.7 2.1-7.8 1.9-7.7 1.6-7.7 1.2z"/>
<path class="mb" d="M1123.2 416.8l-5.4 4.8"/>
<path class="c288" d="M1154.1 411.7l7.7-1.8 7.7-1.9 7.8-1.9 7.7-1.8-5.4 1.2-7.8 2.3-7.7 2.3-7.7 2.4-7.7 2.3z"/>
<path class="mb" d="M1154.1 411.7l-5.4 3.1"/>
<path class="c289" d="M1185 404.3l7.7-1.7 7.7-1.4 7.8-1.2 7.7-.8-5.4-.5-7.8 1.2-7.7 1.5-7.7 1.9-7.7 2.2z"/>
<path class="mb" d="M1185 404.3l-5.4 1.2"/>
<path class="c290" d="M1215.9 399.2l7.7-.3 7.7 .1 7.7 .6 7.8 1.2-5.4-1.2-7.8-1.2-7.7-.5-7.7 .1-7.7 .7z"/>
<path class="mb" d="M1215.9 399.2l-5.4-.5M1246.8 400.8l-5.4-1.2"/>
<path class="c291" d="M932.4 340.1l7.8 1.8 7.7 2.5 7.7 3.1 7.7 3.6-5.4 0-7.7-3.9-7.7-3.3-7.7-2.6-7.8-1.9z"/>
<path class="mb" d="M932.4 340.1l7.8 1.8 7.7 2.5 7.7 3.1 7.7 3.6M932.4 340.1l-5.4-.7"/>
<path class="c292" d="M963.3 351.1l7.8 4.1 7.7 4.6 7.7 4.8 7.7 5.2-5.4 1.3-7.7-5.5-7.7-5.2-7.8-4.9-7.7-4.4z"/>
<path class="mb" d="M963.3 351.1l7.8 4.1 7.7 4.6 7.7 4.8 7.7 5.2M963.3 351.1l-5.4 0"/>
<path class="c293" d="M994.2 369.8l7.8 5.2 7.7 5.4 7.7 5.3 7.7 5.3-5.4 2.9-7.7-5.7-7.7-5.7-7.8-5.7-7.7-5.7z"/>
<path class="mb" d="M994.2 369.8l7.8 5.2 7.7 5.4 7.7 5.3 7.7 5.3M994.2 369.8l-5.4 1.3"/>
<path class="c294" d="M1025.1 391l7.7 5.1 7.8 4.9 7.7 4.5 7.7 4.2-5.4 4.2-7.7-4.4-7.7-4.9-7.8-5.2-7.7-5.5z"/>
<path class="mb" d="M1025.1 391l7.7 5.1 7.8 4.9 7.7 4.5 7.7 4.2M1025.1 391l-5.4 2.9"/>
<path class="c295" d="M1056 409.7l7.7 3.6 7.8 3.1 7.7 2.5 7.7 1.8-5.4 4.9-7.7-1.9-7.8-2.6-7.7-3.3-7.7-3.9z"/>
<path class="mb" d="M1056 409.7l7.7 3.6 7.8 3.1 7.7 2.5 7.7 1.8M1056 409.7l-5.4 4.2"/>
<path class="c296" d="M1086.9 420.7l7.7 1.1 7.7 .5 7.8-.1 7.7-.6-5.4 4.2-7.7 1-7.8 .3-7.7-.4-7.7-1.1z"/>
<path class="mb" d="M1086.9 420.7l7.7 1.1 7.7 .5 7.8-.1 7.7-.6M1086.9 420.7l-5.4 4.9"/>
<path class="c297" d="M1117.8 421.6l7.7-1.2 7.7-1.6 7.8-1.9 7.7-2.1-5.4 2.9-7.8 2.5-7.7 2.3-7.7 1.9-7.7 1.4z"/>
<path class="mb" d="M1117.8 421.6l7.7-1.2 7.7-1.6 7.8-1.9 7.7-2.1M1117.8 421.6l-5.4 4.2"/>
<path class="c298" d="M1148.7 414.8l7.7-2.3 7.7-2.4 7.7-2.3 7.8-2.3-5.4 1.3-7.8 2.7-7.7 2.7-7.7 2.8-7.7 2.7z"/>
<path class="mb" d="M1148.7 414.8l7.7-2.3 7.7-2.4 7.7-2.3 7.8-2.3M1148.7 414.8l-5.4 2.9"/>
<path class="c299" d="M1179.6 405.5l7.7-2.2 7.7-1.9 7.7-1.5 7.8-1.2-5.5 0-7.7 1.4-7.7 1.9-7.7 2.3-7.7 2.5z"/>
<path class="mb" d="M1179.6 405.5l7.7-2.2 7.7-1.9 7.7-1.5 7.8-1.2M1179.6 405.5l-5.4 1.3"/>
<path class="c300" d="M1210.5 398.7l7.7-.7 7.7-.1 7.7 .5 7.8 1.2-5.5-.7-7.7-1.1-7.7-.4-7.7 .3-7.8 1z"/>
<path class="mb" d="M1210.5 398.7l7.7-.7 7.7-.1 7.7 .5 7.8 1.2M1210.5 398.7l-5.5 0M1241.4 399.6l-5.5-.7"/>
<path class="c291" d="M927 339.4l7.8 1.9 7.7 2.6 7.7 3.3 7.7 3.9-5.4 .5-7.7-4.1-7.7-3.4-7.8-2.7-7.7-1.9z"/>
<path class="mb" d="M927 339.4l-5.4 .1"/>
<path class="c292" d="M957.9 351.1l7.7 4.4 7.8 4.9 7.7 5.2 7.7 5.5-5.4 1.5-7.7-5.7-7.7-5.5-7.8-5.2-7.7-4.6z"/>
<path class="mb" d="M957.9 351.1l-5.4 .5"/>
<path class="c293" d="M988.8 371.1l7.7 5.7 7.8 5.7 7.7 5.7 7.7 5.7-5.4 2.7-7.7-6-7.8-6-7.7-6-7.7-6z"/>
<path class="mb" d="M988.8 371.1l-5.4 1.5"/>
<path class="c294" d="M1019.7 393.9l7.7 5.5 7.8 5.2 7.7 4.9 7.7 4.4-5.4 3.8-7.7-4.7-7.8-5.1-7.7-5.5-7.7-5.8z"/>
<path class="mb" d="M1019.7 393.9l-5.4 2.7"/>
<path class="c295" d="M1050.6 413.9l7.7 3.9 7.7 3.3 7.8 2.6 7.7 1.9-5.4 4.2-7.7-1.9-7.8-2.7-7.7-3.5-7.7-4z"/>
<path class="mb" d="M1050.6 413.9l-5.4 3.8"/>
<path class="c296" d="M1081.5 425.6l7.7 1.1 7.7 .4 7.8-.3 7.7-1-5.4 3.8-7.8 1.1-7.7 .4-7.7-.3-7.7-1z"/>
<path class="mb" d="M1081.5 425.6l-5.4 4.2"/>
<path class="c297" d="M1112.4 425.8l7.7-1.4 7.7-1.9 7.7-2.3 7.8-2.5-5.4 2.7-7.8 2.8-7.7 2.5-7.7 2.2-7.7 1.7z"/>
<path class="mb" d="M1112.4 425.8l-5.4 3.8"/>
<path class="c298" d="M1143.3 417.7l7.7-2.7 7.7-2.8 7.7-2.7 7.8-2.7-5.5 1.5-7.7 3-7.7 3.1-7.7 3-7.7 3z"/>
<path class="mb" d="M1143.3 417.7l-5.4 2.7"/>
<path class="c299" d="M1174.2 406.8l7.7-2.5 7.7-2.3 7.7-1.9 7.7-1.4-5.4 .5-7.7 1.7-7.7 2.1-7.7 2.5-7.8 2.8z"/>
<path class="mb" d="M1174.2 406.8l-5.5 1.5"/>
<path class="c300" d="M1205 398.7l7.8-1 7.7-.3 7.7 .4 7.7 1.1-5.4 .1-7.7-1.1-7.7-.3-7.7 .5-7.8 1.1z"/>
<path class="mb" d="M1205 398.7l-5.4 .5M1235.9 398.9l-5.4 .1"/>
<path class="c291" d="M921.6 339.5l7.7 1.9 7.8 2.7 7.7 3.4 7.7 4.1-5.4 1.1-7.7-4.2-7.7-3.5-7.8-2.8-7.7-1.9z"/>
<path class="mb" d="M921.6 339.5l-5.4 .8"/>
<path class="c292" d="M952.5 351.6l7.7 4.6 7.8 5.2 7.7 5.5 7.7 5.7-5.4 1.8-7.7-5.9-7.8-5.7-7.7-5.3-7.7-4.8z"/>
<path class="mb" d="M952.5 351.6l-5.4 1.1"/>
<path class="c293" d="M983.4 372.6l7.7 6 7.7 6 7.8 6 7.7 6-5.4 2.5-7.7-6.2-7.8-6.2-7.7-6.2-7.7-6.1z"/>
<path class="mb" d="M983.4 372.6l-5.4 1.8"/>
<path class="c294" d="M1014.3 396.6l7.7 5.8 7.7 5.5 7.8 5.1 7.7 4.7-5.4 3.1-7.8-4.8-7.7-5.3-7.7-5.7-7.7-5.9z"/>
<path class="mb" d="M1014.3 396.6l-5.4 2.5"/>
<path class="c295" d="M1045.2 417.7l7.7 4 7.7 3.5 7.8 2.7 7.7 1.9-5.4 3.3-7.8-1.9-7.7-2.7-7.7-3.5-7.7-4.2z"/>
<path class="mb" d="M1045.2 417.7l-5.4 3.1"/>
<path class="c296" d="M1076.1 429.8l7.7 1 7.7 .3 7.7-.4 7.8-1.1-5.4 3.1-7.8 1.2-7.7 .5-7.7-.2-7.7-1.1z"/>
<path class="mb" d="M1076.1 429.8l-5.4 3.3"/>
<path class="c297" d="M1107 429.6l7.7-1.7 7.7-2.2 7.7-2.5 7.8-2.8-5.5 2.5-7.7 2.9-7.7 2.7-7.7 2.3-7.7 1.9z"/>
<path class="mb" d="M1107 429.6l-5.4 3.1"/>
<path class="c298" d="M1137.9 420.4l7.7-3 7.7-3 7.7-3.1 7.7-3-5.4 1.8-7.7 3.1-7.7 3.3-7.7 3.2-7.8 3.2z"/>
<path class="mb" d="M1137.9 420.4l-5.5 2.5"/>
<path class="c299" d="M1168.7 408.3l7.8-2.8 7.7-2.5 7.7-2.1 7.7-1.7-5.4 1.1-7.7 1.8-7.7 2.3-7.7 2.7-7.8 3z"/>
<path class="mb" d="M1168.7 408.3l-5.4 1.8"/>
<path class="c300" d="M1199.6 399.2l7.8-1.1 7.7-.5 7.7 .3 7.7 1.1-5.4 .8-7.7-1-7.7-.3-7.8 .6-7.7 1.2z"/>
<path class="mb" d="M1199.6 399.2l-5.4 1.1M1230.5 399l-5.4 .8"/>
<path class="c291" d="M916.2 340.3l7.7 1.9 7.8 2.8 7.7 3.5 7.7 4.2-5.4 1.8-7.7-4.3-7.8-3.5-7.7-2.8-7.7-1.9z"/>
<path class="mb" d="M916.2 340.3l-5.4 1.7M910.8 342l7.7 1.9 7.7 2.8 7.8 3.5 7.7 4.3"/>
<path class="c292" d="M947.1 352.7l7.7 4.8 7.7 5.3 7.8 5.7 7.7 5.9-5.4 2-7.7-6-7.8-5.7-7.7-5.4-7.7-4.8z"/>
<path class="mb" d="M947.1 352.7l-5.4 1.8M941.7 354.5l7.7 4.8 7.7 5.4 7.8 5.7 7.7 6"/>
<path class="c293" d="M978 374.4l7.7 6.1 7.7 6.2 7.8 6.2 7.7 6.2-5.4 2.2-7.8-6.2-7.7-6.3-7.7-6.2-7.7-6.2z"/>
<path class="mb" d="M978 374.4l-5.4 2M972.6 376.4l7.7 6.2 7.7 6.2 7.7 6.3 7.8 6.2"/>
<path class="c294" d="M1008.9 399.1l7.7 5.9 7.7 5.7 7.7 5.3 7.8 4.8-5.4 2.4-7.8-4.8-7.7-5.4-7.7-5.7-7.7-6z"/>
<path class="mb" d="M1008.9 399.1l-5.4 2.2M1003.5 401.3l7.7 6 7.7 5.7 7.7 5.4 7.8 4.8"/>
<path class="c295" d="M1039.8 420.8l7.7 4.2 7.7 3.5 7.7 2.7 7.8 1.9-5.5 2.6-7.7-1.9-7.7-2.8-7.7-3.5-7.7-4.3z"/>
<path class="mb" d="M1039.8 420.8l-5.4 2.4M1034.4 423.2l7.7 4.3 7.7 3.5 7.7 2.8 7.7 1.9"/>
<path class="c296" d="M1070.7 433.1l7.7 1.1 7.7 .2 7.7-.5 7.8-1.2-5.5 2.4-7.7 1.3-7.7 .6-7.7-.2-7.8-1.1z"/>
<path class="mb" d="M1070.7 433.1l-5.5 2.6M1065.2 435.7l7.8 1.1 7.7 .2 7.7-.6 7.7-1.3"/>
<path class="c297" d="M1101.6 432.7l7.7-1.9 7.7-2.3 7.7-2.7 7.7-2.9-5.4 2.2-7.7 3-7.7 2.8-7.7 2.3-7.8 1.9z"/>
<path class="mb" d="M1101.6 432.7l-5.5 2.4M1096.1 435.1l7.8-1.9 7.7-2.3 7.7-2.8 7.7-3"/>
<path class="c298" d="M1132.4 422.9l7.8-3.2 7.7-3.2 7.7-3.3 7.7-3.1-5.4 2-7.7 3.2-7.7 3.3-7.7 3.3-7.8 3.2z"/>
<path class="mb" d="M1132.4 422.9l-5.4 2.2M1127 425.1l7.8-3.2 7.7-3.3 7.7-3.3 7.7-3.2"/>
<path class="c299" d="M1163.3 410.1l7.8-3 7.7-2.7 7.7-2.3 7.7-1.8-5.4 1.8-7.7 1.9-7.7 2.3-7.8 2.8-7.7 3z"/>
<path class="mb" d="M1163.3 410.1l-5.4 2M1157.9 412.1l7.7-3 7.8-2.8 7.7-2.3 7.7-1.9"/>
<path class="c300" d="M1194.2 400.3l7.7-1.2 7.8-.6 7.7 .3 7.7 1-5.4 1.7-7.7-1.1-7.7-.2-7.8 .6-7.7 1.3z"/>
<path class="mb" d="M1194.2 400.3l-5.4 1.8M1225.1 399.8l-5.4 1.7M1188.8 402.1l7.7-1.3 7.8-.6 7.7 .2 7.7 1.1"/>
<path class="c301" d="M1127.3 129.4l7.7 1.1 7.7 .2 7.8-.6 7.7-1.3-5.4 1.8-7.7 1.2-7.8 .6-7.7-.3-7.7-1z"/>
<path class="mu" d="M1127.3 129.4l7.7 1.1 7.7 .2 7.8-.6 7.7-1.3M1127.3 129.4l-5.4 1.7"/>
<path class="c302" d="M1158.2 128.8l7.7-1.9 7.7-2.3 7.8-2.8 7.7-3-5.4 2-7.8 3-7.7 2.7-7.7 2.3-7.7 1.8z"/>
<path class="mu" d="M1158.2 128.8l7.7-1.9 7.7-2.3 7.8-2.8 7.7-3M1158.2 128.8l-5.4 1.8"/>
<path class="c303" d="M1189.1 118.8l7.7-3.2 7.7-3.3 7.7-3.3 7.8-3.2-5.4 2.2-7.8 3.2-7.7 3.2-7.7 3.3-7.7 3.1z"/>
<path class="mu" d="M1189.1 118.8l7.7-3.2 7.7-3.3 7.7-3.3 7.8-3.2M1189.1 118.8l-5.4 2"/>
<path class="c304" d="M1220 105.8l7.7-3 7.7-2.8 7.7-2.3 7.8-1.9-5.5 2.4-7.7 1.9-7.7 2.3-7.7 2.7-7.7 2.9z"/>
<path class="mu" d="M1220 105.8l7.7-3 7.7-2.8 7.7-2.3 7.8-1.9M1220 105.8l-5.4 2.2"/>
<path class="c305" d="M1250.9 95.8l7.7-1.3 7.7-.6 7.7 .2 7.8 1.1-5.5 2.6-7.7-1.1-7.7-.2-7.7 .5-7.8 1.2z"/>
<path class="mu" d="M1250.9 95.8l7.7-1.3 7.7-.6 7.7 .2 7.8 1.1M1250.9 95.8l-5.5 2.4"/>
<path class="c306" d="M1281.8 95.2l7.7 1.9 7.7 2.8 7.7 3.5 7.7 4.3-5.4 2.4-7.7-4.2-7.7-3.5-7.7-2.7-7.8-1.9z"/>
<path class="mu" d="M1281.8 95.2l7.7 1.9 7.7 2.8 7.7 3.5 7.7 4.3M1281.8 95.2l-5.5 2.6"/>
<path class="c307" d="M1312.6 107.7l7.8 4.8 7.7 5.4 7.7 5.7 7.7 6-5.4 2.2-7.7-5.9-7.7-5.7-7.8-5.3-7.7-4.8z"/>
<path class="mu" d="M1312.6 107.7l7.8 4.8 7.7 5.4 7.7 5.7 7.7 6M1312.6 107.7l-5.4 2.4"/>
<path class="c308" d="M1343.5 129.6l7.8 6.2 7.7 6.2 7.7 6.3 7.7 6.2-5.4 2-7.7-6.1-7.7-6.2-7.8-6.2-7.7-6.2z"/>
<path class="mu" d="M1343.5 129.6l7.8 6.2 7.7 6.2 7.7 6.3 7.7 6.2M1343.5 129.6l-5.4 2.2"/>
<path class="c309" d="M1374.4 154.5l7.7 6 7.8 5.7 7.7 5.4 7.7 4.8-5.4 1.8-7.7-4.8-7.7-5.3-7.8-5.7-7.7-5.9z"/>
<path class="mu" d="M1374.4 154.5l7.7 6 7.8 5.7 7.7 5.4 7.7 4.8M1374.4 154.5l-5.4 2"/>
<path class="c310" d="M1405.3 176.4l7.7 4.3 7.8 3.5 7.7 2.8 7.7 1.9-5.4 1.7-7.7-1.9-7.8-2.8-7.7-3.5-7.7-4.2z"/>
<path class="mu" d="M1405.3 176.4l7.7 4.3 7.8 3.5 7.7 2.8 7.7 1.9M1405.3 176.4l-5.4 1.8M1436.2 188.9l-5.4 1.7"/>
<path class="c301" d="M1121.9 131.1l7.7 1 7.7 .3 7.8-.6 7.7-1.2-5.4 1.1-7.8 1.1-7.7 .5-7.7-.3-7.7-1.1z"/>
<path class="mu" d="M1121.9 131.1l-5.4 .8"/>
<path class="c302" d="M1152.8 130.6l7.7-1.8 7.7-2.3 7.7-2.7 7.8-3-5.4 1.8-7.8 2.8-7.7 2.5-7.7 2.1-7.7 1.7z"/>
<path class="mu" d="M1152.8 130.6l-5.4 1.1"/>
<path class="c303" d="M1183.7 120.8l7.7-3.1 7.7-3.3 7.7-3.2 7.8-3.2-5.5 2.5-7.7 3-7.7 3-7.7 3.1-7.7 3z"/>
<path class="mu" d="M1183.7 120.8l-5.4 1.8"/>
<path class="c304" d="M1214.6 108l7.7-2.9 7.7-2.7 7.7-2.3 7.7-1.9-5.4 3.1-7.7 1.7-7.7 2.2-7.7 2.5-7.8 2.8z"/>
<path class="mu" d="M1214.6 108l-5.5 2.5"/>
<path class="c305" d="M1245.4 98.2l7.8-1.2 7.7-.5 7.7 .2 7.7 1.1-5.4 3.3-7.7-1-7.7-.3-7.7 .4-7.8 1.1z"/>
<path class="mu" d="M1245.4 98.2l-5.4 3.1"/>
<path class="c306" d="M1276.3 97.8l7.8 1.9 7.7 2.7 7.7 3.5 7.7 4.2-5.4 3.1-7.7-4-7.7-3.5-7.8-2.7-7.7-1.9z"/>
<path class="mu" d="M1276.3 97.8l-5.4 3.3"/>
<path class="c307" d="M1307.2 110.1l7.7 4.8 7.8 5.3 7.7 5.7 7.7 5.9-5.4 2.5-7.7-5.8-7.7-5.5-7.8-5.1-7.7-4.7z"/>
<path class="mu" d="M1307.2 110.1l-5.4 3.1"/>
<path class="c308" d="M1338.1 131.8l7.7 6.2 7.8 6.2 7.7 6.2 7.7 6.1-5.4 1.8-7.7-6-7.7-6-7.8-6-7.7-6z"/>
<path class="mu" d="M1338.1 131.8l-5.4 2.5"/>
<path class="c309" d="M1369 156.5l7.7 5.9 7.8 5.7 7.7 5.3 7.7 4.8-5.4 1.1-7.7-4.6-7.8-5.2-7.7-5.5-7.7-5.7z"/>
<path class="mu" d="M1369 156.5l-5.4 1.8"/>
<path class="c310" d="M1399.9 178.2l7.7 4.2 7.7 3.5 7.8 2.8 7.7 1.9-5.4 .8-7.7-1.9-7.8-2.7-7.7-3.4-7.7-4.1z"/>
<path class="mu" d="M1399.9 178.2l-5.4 1.1M1430.8 190.6l-5.4 .8"/>
<path class="c301" d="M1116.5 131.9l7.7 1.1 7.7 .3 7.7-.5 7.8-1.1-5.4 .5-7.8 1-7.7 .3-7.7-.4-7.7-1.1z"/>
<path class="mu" d="M1116.5 131.9l-5.4 .1"/>
<path class="c302" d="M1147.4 131.7l7.7-1.7 7.7-2.1 7.7-2.5 7.8-2.8-5.5 1.5-7.7 2.5-7.7 2.3-7.7 1.9-7.7 1.4z"/>
<path class="mu" d="M1147.4 131.7l-5.4 .5"/>
<path class="c303" d="M1178.3 122.6l7.7-3 7.7-3.1 7.7-3 7.7-3-5.4 2.7-7.7 2.7-7.7 2.8-7.7 2.7-7.8 2.7z"/>
<path class="mu" d="M1178.3 122.6l-5.5 1.5"/>
<path class="c304" d="M1209.1 110.5l7.8-2.8 7.7-2.5 7.7-2.2 7.7-1.7-5.4 3.8-7.7 1.4-7.7 1.9-7.7 2.3-7.8 2.5z"/>
<path class="mu" d="M1209.1 110.5l-5.4 2.7"/>
<path class="c305" d="M1240 101.3l7.8-1.1 7.7-.4 7.7 .3 7.7 1-5.4 4.2-7.7-1.1-7.7-.4-7.8 .3-7.7 1z"/>
<path class="mu" d="M1240 101.3l-5.4 3.8"/>
<path class="c306" d="M1270.9 101.1l7.7 1.9 7.8 2.7 7.7 3.5 7.7 4-5.4 3.8-7.7-3.9-7.7-3.3-7.8-2.6-7.7-1.9z"/>
<path class="mu" d="M1270.9 101.1l-5.4 4.2"/>
<path class="c307" d="M1301.8 113.2l7.7 4.7 7.8 5.1 7.7 5.5 7.7 5.8-5.4 2.7-7.7-5.5-7.8-5.2-7.7-4.9-7.7-4.4z"/>
<path class="mu" d="M1301.8 113.2l-5.4 3.8"/>
<path class="c308" d="M1332.7 134.3l7.7 6 7.8 6 7.7 6 7.7 6-5.4 1.5-7.7-5.7-7.8-5.7-7.7-5.7-7.7-5.7z"/>
<path class="mu" d="M1332.7 134.3l-5.4 2.7"/>
<path class="c309" d="M1363.6 158.3l7.7 5.7 7.7 5.5 7.8 5.2 7.7 4.6-5.4 .5-7.7-4.4-7.8-4.9-7.7-5.2-7.7-5.5z"/>
<path class="mu" d="M1363.6 158.3l-5.4 1.5"/>
<path class="c310" d="M1394.5 179.3l7.7 4.1 7.7 3.4 7.8 2.7 7.7 1.9-5.4 .1-7.8-1.9-7.7-2.6-7.7-3.3-7.7-3.9z"/>
<path class="mu" d="M1394.5 179.3l-5.4 .5M1425.4 191.4l-5.4 .1"/>
<path class="c301" d="M1111.1 132l7.7 1.1 7.7 .4 7.7-.3 7.8-1-5.5 0-7.7 .7-7.7 .1-7.7-.5-7.8-1.2z"/>
<path class="mu" d="M1111.1 132l-5.5-.7"/>
<path class="c302" d="M1142 132.2l7.7-1.4 7.7-1.9 7.7-2.3 7.7-2.5-5.4 1.3-7.7 2.2-7.7 1.9-7.7 1.5-7.8 1.2z"/>
<path class="mu" d="M1142 132.2l-5.5 0"/>
<path class="c303" d="M1172.8 124.1l7.8-2.7 7.7-2.7 7.7-2.8 7.7-2.7-5.4 2.9-7.7 2.3-7.7 2.4-7.7 2.3-7.8 2.3z"/>
<path class="mu" d="M1172.8 124.1l-5.4 1.3"/>
<path class="c304" d="M1203.7 113.2l7.8-2.5 7.7-2.3 7.7-1.9 7.7-1.4-5.4 4.2-7.7 1.2-7.7 1.6-7.8 1.9-7.7 2.1z"/>
<path class="mu" d="M1203.7 113.2l-5.4 2.9"/>
<path class="c305" d="M1234.6 105.1l7.7-1 7.8-.3 7.7 .4 7.7 1.1-5.4 4.9-7.7-1.1-7.7-.5-7.8 .1-7.7 .6z"/>
<path class="mu" d="M1234.6 105.1l-5.4 4.2"/>
<path class="c306" d="M1265.5 105.3l7.7 1.9 7.8 2.6 7.7 3.3 7.7 3.9-5.4 4.2-7.7-3.6-7.8-3.1-7.7-2.5-7.7-1.8z"/>
<path class="mu" d="M1265.5 105.3l-5.4 4.9"/>
<path class="c307" d="M1296.4 117l7.7 4.4 7.7 4.9 7.8 5.2 7.7 5.5-5.4 2.9-7.7-5.1-7.8-4.9-7.7-4.5-7.7-4.2z"/>
<path class="mu" d="M1296.4 117l-5.4 4.2"/>
<path class="c308" d="M1327.3 137l7.7 5.7 7.7 5.7 7.8 5.7 7.7 5.7-5.4 1.3-7.8-5.2-7.7-5.4-7.7-5.3-7.7-5.3z"/>
<path class="mu" d="M1327.3 137l-5.4 2.9"/>
<path class="c309" d="M1358.2 159.8l7.7 5.5 7.7 5.2 7.8 4.9 7.7 4.4-5.4 0-7.8-4.1-7.7-4.6-7.7-4.8-7.7-5.2z"/>
<path class="mu" d="M1358.2 159.8l-5.4 1.3"/>
<path class="c310" d="M1389.1 179.8l7.7 3.9 7.7 3.3 7.7 2.6 7.8 1.9-5.4-.7-7.8-1.8-7.7-2.5-7.7-3.1-7.7-3.6z"/>
<path class="mu" d="M1389.1 179.8l-5.4 0M1420 191.5l-5.4-.7"/>
<path class="c311" d="M1105.6 131.3l7.8 1.2 7.7 .5 7.7-.1 7.7-.7-5.4-.5-7.7 .3-7.7-.1-7.7-.6-7.8-1.2z"/>
<path class="mu" d="M1105.6 131.3l7.8 1.2 7.7 .5 7.7-.1 7.7-.7M1105.6 131.3l-5.4-1.2"/>
<path class="c312" d="M1136.5 132.2l7.8-1.2 7.7-1.5 7.7-1.9 7.7-2.2-5.4 1.2-7.7 1.7-7.7 1.4-7.8 1.2-7.7 .8z"/>
<path class="mu" d="M1136.5 132.2l7.8-1.2 7.7-1.5 7.7-1.9 7.7-2.2M1136.5 132.2l-5.4-.5"/>
<path class="c313" d="M1167.4 125.4l7.8-2.3 7.7-2.3 7.7-2.4 7.7-2.3-5.4 3.1-7.7 1.8-7.7 1.9-7.8 1.9-7.7 1.8z"/>
<path class="mu" d="M1167.4 125.4l7.8-2.3 7.7-2.3 7.7-2.4 7.7-2.3M1167.4 125.4l-5.4 1.2"/>
<path class="c314" d="M1198.3 116.1l7.7-2.1 7.8-1.9 7.7-1.6 7.7-1.2-5.4 4.8-7.7 .8-7.7 1.2-7.8 1.4-7.7 1.7z"/>
<path class="mu" d="M1198.3 116.1l7.7-2.1 7.8-1.9 7.7-1.6 7.7-1.2M1198.3 116.1l-5.4 3.1"/>
<path class="c315" d="M1229.2 109.3l7.7-.6 7.8-.1 7.7 .5 7.7 1.1-5.4 5.5-7.7-1.2-7.8-.7-7.7-.1-7.7 .4z"/>
<path class="mu" d="M1229.2 109.3l7.7-.6 7.8-.1 7.7 .5 7.7 1.1M1229.2 109.3l-5.4 4.8"/>
<path class="c316" d="M1260.1 110.2l7.7 1.8 7.7 2.5 7.8 3.1 7.7 3.6-5.4 4.8-7.7-3.3-7.8-2.9-7.7-2.3-7.7-1.8z"/>
<path class="mu" d="M1260.1 110.2l7.7 1.8 7.7 2.5 7.8 3.1 7.7 3.6M1260.1 110.2l-5.4 5.5"/>
<path class="c317" d="M1291 121.2l7.7 4.2 7.7 4.5 7.8 4.9 7.7 5.1-5.4 3.1-7.8-4.7-7.7-4.4-7.7-4.1-7.7-3.8z"/>
<path class="mu" d="M1291 121.2l7.7 4.2 7.7 4.5 7.8 4.9 7.7 5.1M1291 121.2l-5.4 4.8"/>
<path class="c318" d="M1321.9 139.9l7.7 5.3 7.7 5.3 7.7 5.4 7.8 5.2-5.4 1.2-7.8-4.8-7.7-4.9-7.7-4.8-7.7-4.8z"/>
<path class="mu" d="M1321.9 139.9l7.7 5.3 7.7 5.3 7.7 5.4 7.8 5.2M1321.9 139.9l-5.4 3.1"/>
<path class="c319" d="M1352.8 161.1l7.7 5.2 7.7 4.8 7.7 4.6 7.8 4.1-5.5-.5-7.7-3.8-7.7-4.1-7.7-4.5-7.7-4.6z"/>
<path class="mu" d="M1352.8 161.1l7.7 5.2 7.7 4.8 7.7 4.6 7.8 4.1M1352.8 161.1l-5.4 1.2"/>
<path class="c320" d="M1383.7 179.8l7.7 3.6 7.7 3.1 7.7 2.5 7.8 1.8-5.5-1.2-7.7-1.8-7.7-2.3-7.7-2.9-7.8-3.3z"/>
<path class="mu" d="M1383.7 179.8l7.7 3.6 7.7 3.1 7.7 2.5 7.8 1.8M1383.7 179.8l-5.5-.5M1414.6 190.8l-5.5-1.2"/>
<path class="c311" d="M1100.2 130.1l7.8 1.2 7.7 .6 7.7 .1 7.7-.3-5.4-1-7.7 .1-7.7-.4-7.8-.8-7.7-1.3z"/>
<path class="mu" d="M1100.2 130.1l-5.4-1.8"/>
<path class="c312" d="M1131.1 131.7l7.7-.8 7.8-1.2 7.7-1.4 7.7-1.7-5.4 1-7.7 1.1-7.7 1-7.8 .7-7.7 .3z"/>
<path class="mu" d="M1131.1 131.7l-5.4-1"/>
<path class="c313" d="M1162 126.6l7.7-1.8 7.8-1.9 7.7-1.9 7.7-1.8-5.4 3.2-7.7 1.3-7.8 1.3-7.7 1.3-7.7 1.3z"/>
<path class="mu" d="M1162 126.6l-5.4 1"/>
<path class="c314" d="M1192.9 119.2l7.7-1.7 7.8-1.4 7.7-1.2 7.7-.8-5.4 5.2-7.7 .4-7.8 .7-7.7 .9-7.7 1.1z"/>
<path class="mu" d="M1192.9 119.2l-5.4 3.2"/>
<path class="c315" d="M1223.8 114.1l7.7-.4 7.7 .1 7.8 .7 7.7 1.2-5.4 6-7.7-1.3-7.8-.8-7.7-.4-7.7 .1z"/>
<path class="mu" d="M1223.8 114.1l-5.4 5.2"/>
<path class="c316" d="M1254.7 115.7l7.7 1.8 7.7 2.3 7.8 2.9 7.7 3.3-5.4 5.2-7.8-3-7.7-2.6-7.7-2.2-7.7-1.7z"/>
<path class="mu" d="M1254.7 115.7l-5.4 6"/>
<path class="c317" d="M1285.6 126l7.7 3.8 7.7 4.1 7.7 4.4 7.8 4.7-5.4 3.2-7.8-4.1-7.7-3.9-7.7-3.7-7.7-3.3z"/>
<path class="mu" d="M1285.6 126l-5.4 5.2"/>
<path class="c318" d="M1316.5 143l7.7 4.8 7.7 4.8 7.7 4.9 7.8 4.8-5.5 1-7.7-4.2-7.7-4.3-7.7-4.3-7.7-4.3z"/>
<path class="mu" d="M1316.5 143l-5.4 3.2"/>
<path class="c319" d="M1347.4 162.3l7.7 4.6 7.7 4.5 7.7 4.1 7.7 3.8-5.4-1-7.7-3.3-7.7-3.7-7.7-3.9-7.8-4.1z"/>
<path class="mu" d="M1347.4 162.3l-5.5 1"/>
<path class="c320" d="M1378.2 179.3l7.8 3.3 7.7 2.9 7.7 2.3 7.7 1.8-5.4-1.8-7.7-1.7-7.7-2.1-7.7-2.7-7.8-3z"/>
<path class="mu" d="M1378.2 179.3l-5.4-1M1409.1 189.6l-5.4-1.8"/>
<path class="c311" d="M1094.8 128.3l7.7 1.3 7.8 .8 7.7 .4 7.7-.1-5.4-1.2-7.7-.4-7.7-.6-7.8-1-7.7-1.3z"/>
<path class="mu" d="M1094.8 128.3l-5.4-2.1"/>
<path class="c312" d="M1125.7 130.7l7.7-.3 7.8-.7 7.7-1 7.7-1.1-5.4 .8-7.7 .6-7.8 .3-7.7 .2-7.7 0z"/>
<path class="mu" d="M1125.7 130.7l-5.4-1.2"/>
<path class="c313" d="M1156.6 127.6l7.7-1.3 7.7-1.3 7.8-1.3 7.7-1.3-5.4 3.4-7.7 .6-7.8 .7-7.7 .7-7.7 .6z"/>
<path class="mu" d="M1156.6 127.6l-5.4 .8"/>
<path class="c314" d="M1187.5 122.4l7.7-1.1 7.7-.9 7.8-.7 7.7-.4-5.4 5.5-7.8-.1-7.7 .2-7.7 .4-7.7 .5z"/>
<path class="mu" d="M1187.5 122.4l-5.4 3.4"/>
<path class="c315" d="M1218.4 119.3l7.7-.1 7.7 .4 7.8 .8 7.7 1.3-5.4 6.3-7.8-1.3-7.7-1-7.7-.6-7.7-.3z"/>
<path class="mu" d="M1218.4 119.3l-5.4 5.5"/>
<path class="c316" d="M1249.3 121.7l7.7 1.7 7.7 2.2 7.7 2.6 7.8 3-5.4 5.5-7.8-2.7-7.7-2.3-7.7-2-7.7-1.7z"/>
<path class="mu" d="M1249.3 121.7l-5.4 6.3"/>
<path class="c317" d="M1280.2 131.2l7.7 3.3 7.7 3.7 7.7 3.9 7.8 4.1-5.5 3.4-7.7-3.5-7.7-3.3-7.7-3.2-7.7-2.9z"/>
<path class="mu" d="M1280.2 131.2l-5.4 5.5"/>
<path class="c318" d="M1311.1 146.2l7.7 4.3 7.7 4.3 7.7 4.3 7.7 4.2-5.4 .8-7.7-3.6-7.7-3.6-7.7-3.7-7.8-3.6z"/>
<path class="mu" d="M1311.1 146.2l-5.5 3.4"/>
<path class="c319" d="M1341.9 163.3l7.8 4.1 7.7 3.9 7.7 3.7 7.7 3.3-5.4-1.2-7.7-2.9-7.7-3.2-7.7-3.4-7.8-3.5z"/>
<path class="mu" d="M1341.9 163.3l-5.4 .8"/>
<path class="c320" d="M1372.8 178.3l7.8 3 7.7 2.7 7.7 2.1 7.7 1.7-5.4-2.1-7.7-1.6-7.7-2-7.8-2.4-7.7-2.6z"/>
<path class="mu" d="M1372.8 178.3l-5.4-1.2M1403.7 187.8l-5.4-2.1"/>
<path class="c311" d="M1089.4 126.2l7.7 1.3 7.8 1 7.7 .6 7.7 .4-5.4-1.5-7.7-.7-7.8-1-7.7-1.1-7.7-1.4z"/>
<path class="mu" d="M1089.4 126.2l-5.4-2.4"/>
<path class="c312" d="M1120.3 129.5l7.7 0 7.7-.2 7.8-.3 7.7-.6-5.4 .8-7.7-.1-7.8-.3-7.7-.3-7.7-.5z"/>
<path class="mu" d="M1120.3 129.5l-5.4-1.5"/>
<path class="c313" d="M1151.2 128.4l7.7-.6 7.7-.7 7.8-.7 7.7-.6-5.4 3.5-7.8 0-7.7-.1-7.7 0-7.7 0z"/>
<path class="mu" d="M1151.2 128.4l-5.4 .8"/>
<path class="c314" d="M1182.1 125.8l7.7-.5 7.7-.4 7.7-.2 7.8 .1-5.4 5.7-7.8-.5-7.7-.4-7.7-.2-7.7-.1z"/>
<path class="mu" d="M1182.1 125.8l-5.4 3.5"/>
<path class="c315" d="M1213 124.8l7.7 .3 7.7 .6 7.7 1 7.8 1.3-5.5 6.6-7.7-1.3-7.7-1.2-7.7-.9-7.7-.7z"/>
<path class="mu" d="M1213 124.8l-5.4 5.7"/>
<path class="c316" d="M1243.9 128l7.7 1.7 7.7 2 7.7 2.3 7.8 2.7-5.5 5.7-7.7-2.3-7.7-2-7.7-1.9-7.8-1.6z"/>
<path class="mu" d="M1243.9 128l-5.5 6.6"/>
<path class="c317" d="M1274.8 136.7l7.7 2.9 7.7 3.2 7.7 3.3 7.7 3.5-5.4 3.5-7.7-2.9-7.7-2.7-7.7-2.6-7.8-2.5z"/>
<path class="mu" d="M1274.8 136.7l-5.5 5.7"/>
<path class="c318" d="M1305.6 149.6l7.8 3.6 7.7 3.7 7.7 3.6 7.7 3.6-5.4 .8-7.7-2.9-7.7-3-7.7-3-7.8-2.9z"/>
<path class="mu" d="M1305.6 149.6l-5.4 3.5"/>
<path class="c319" d="M1336.5 164.1l7.8 3.5 7.7 3.4 7.7 3.2 7.7 2.9-5.4-1.5-7.7-2.5-7.7-2.6-7.8-2.8-7.7-2.8z"/>
<path class="mu" d="M1336.5 164.1l-5.4 .8"/>
<path class="c320" d="M1367.4 177.1l7.7 2.6 7.8 2.4 7.7 2 7.7 1.6-5.4-2.4-7.7-1.6-7.7-1.8-7.8-2.1-7.7-2.2z"/>
<path class="mu" d="M1367.4 177.1l-5.4-1.5M1398.3 185.7l-5.4-2.4"/>
<path class="c321" d="M1084 123.8l7.7 1.4 7.7 1.1 7.8 1 7.7 .7-5.4-1.7-7.7-1.1-7.8-1.2-7.7-1.3-7.7-1.4z"/>
<path class="mu" d="M1084 123.8l7.7 1.4 7.7 1.1 7.8 1 7.7 .7M1084 123.8l-5.4-2.5"/>
<path class="c322" d="M1114.9 128l7.7 .5 7.7 .3 7.8 .3 7.7 .1-5.4 .7-7.8-.8-7.7-.9-7.7-.9-7.7-1z"/>
<path class="mu" d="M1114.9 128l7.7 .5 7.7 .3 7.8 .3 7.7 .1M1114.9 128l-5.4-1.7"/>
<path class="c323" d="M1145.8 129.2l7.7 0 7.7 0 7.7 .1 7.8 0-5.4 3.6-7.8-.8-7.7-.7-7.7-.8-7.7-.7z"/>
<path class="mu" d="M1145.8 129.2l7.7 0 7.7 0 7.7 .1 7.8 0M1145.8 129.2l-5.4 .7"/>
<path class="c324" d="M1176.7 129.3l7.7 .1 7.7 .2 7.7 .4 7.8 .5-5.5 5.9-7.7-1-7.7-.9-7.7-.8-7.7-.8z"/>
<path class="mu" d="M1176.7 129.3l7.7 .1 7.7 .2 7.7 .4 7.8 .5M1176.7 129.3l-5.4 3.6"/>
<path class="c325" d="M1207.6 130.5l7.7 .7 7.7 .9 7.7 1.2 7.7 1.3-5.4 6.9-7.7-1.5-7.7-1.3-7.7-1.2-7.8-1.1z"/>
<path class="mu" d="M1207.6 130.5l7.7 .7 7.7 .9 7.7 1.2 7.7 1.3M1207.6 130.5l-5.5 5.9"/>
<path class="c326" d="M1238.4 134.6l7.8 1.6 7.7 1.9 7.7 2 7.7 2.3-5.4 5.9-7.7-1.9-7.7-1.7-7.7-1.7-7.8-1.5z"/>
<path class="mu" d="M1238.4 134.6l7.8 1.6 7.7 1.9 7.7 2 7.7 2.3M1238.4 134.6l-5.4 6.9"/>
<path class="c327" d="M1269.3 142.4l7.8 2.5 7.7 2.6 7.7 2.7 7.7 2.9-5.4 3.6-7.7-2.2-7.7-2.2-7.8-2-7.7-2z"/>
<path class="mu" d="M1269.3 142.4l7.8 2.5 7.7 2.6 7.7 2.7 7.7 2.9M1269.3 142.4l-5.4 5.9"/>
<path class="c328" d="M1300.2 153.1l7.8 2.9 7.7 3 7.7 3 7.7 2.9-5.4 .7-7.7-2.3-7.7-2.2-7.8-2.2-7.7-2.2z"/>
<path class="mu" d="M1300.2 153.1l7.8 2.9 7.7 3 7.7 3 7.7 2.9M1300.2 153.1l-5.4 3.6"/>
<path class="c329" d="M1331.1 164.9l7.7 2.8 7.8 2.8 7.7 2.6 7.7 2.5-5.4-1.7-7.7-2-7.7-2-7.8-2.2-7.7-2.1z"/>
<path class="mu" d="M1331.1 164.9l7.7 2.8 7.8 2.8 7.7 2.6 7.7 2.5M1331.1 164.9l-5.4 .7"/>
<path class="c330" d="M1362 175.6l7.7 2.2 7.8 2.1 7.7 1.8 7.7 1.6-5.4-2.5-7.7-1.6-7.8-1.6-7.7-1.8-7.7-1.9z"/>
<path class="mu" d="M1362 175.6l7.7 2.2 7.8 2.1 7.7 1.8 7.7 1.6M1362 175.6l-5.4-1.7M1392.9 183.3l-5.4-2.5"/>
<path class="c321" d="M1078.6 121.3l7.7 1.4 7.7 1.3 7.8 1.2 7.7 1.1-5.4-1.8-7.8-1.4-7.7-1.5-7.7-1.5-7.7-1.5z"/>
<path class="mu" d="M1078.6 121.3l-5.4-2.7"/>
<path class="c322" d="M1109.5 126.3l7.7 1 7.7 .9 7.7 .9 7.8 .8-5.4 .6-7.8-1.5-7.7-1.5-7.7-1.5-7.7-1.5z"/>
<path class="mu" d="M1109.5 126.3l-5.4-1.8"/>
<path class="c323" d="M1140.4 129.9l7.7 .7 7.7 .8 7.7 .7 7.8 .8-5.5 3.5-7.7-1.4-7.7-1.5-7.7-1.5-7.7-1.5z"/>
<path class="mu" d="M1140.4 129.9l-5.4 .6"/>
<path class="c324" d="M1171.3 132.9l7.7 .8 7.7 .8 7.7 .9 7.7 1-5.4 6-7.7-1.5-7.7-1.5-7.7-1.5-7.8-1.5z"/>
<path class="mu" d="M1171.3 132.9l-5.5 3.5"/>
<path class="c325" d="M1202.1 136.4l7.8 1.1 7.7 1.2 7.7 1.3 7.7 1.5-5.4 6.8-7.7-1.4-7.7-1.5-7.7-1.5-7.8-1.5z"/>
<path class="mu" d="M1202.1 136.4l-5.4 6"/>
<path class="c326" d="M1233 141.5l7.8 1.5 7.7 1.7 7.7 1.7 7.7 1.9-5.4 6-7.7-1.5-7.7-1.5-7.8-1.5-7.7-1.5z"/>
<path class="mu" d="M1233 141.5l-5.4 6.8"/>
<path class="c327" d="M1263.9 148.3l7.7 2 7.8 2 7.7 2.2 7.7 2.2-5.4 3.5-7.7-1.4-7.7-1.5-7.8-1.5-7.7-1.5z"/>
<path class="mu" d="M1263.9 148.3l-5.4 6"/>
<path class="c328" d="M1294.8 156.7l7.7 2.2 7.8 2.2 7.7 2.2 7.7 2.3-5.4 .6-7.7-1.5-7.8-1.5-7.7-1.5-7.7-1.5z"/>
<path class="mu" d="M1294.8 156.7l-5.4 3.5"/>
<path class="c329" d="M1325.7 165.6l7.7 2.1 7.8 2.2 7.7 2 7.7 2-5.4-1.8-7.7-1.4-7.8-1.5-7.7-1.5-7.7-1.5z"/>
<path class="mu" d="M1325.7 165.6l-5.4 .6"/>
<path class="c330" d="M1356.6 173.9l7.7 1.9 7.7 1.8 7.8 1.6 7.7 1.6-5.4-2.7-7.7-1.5-7.8-1.5-7.7-1.5-7.7-1.5z"/>
<path class="mu" d="M1356.6 173.9l-5.4-1.8M1387.5 180.8l-5.4-2.7"/>
<path class="c321" d="M1073.2 118.6l7.7 1.5 7.7 1.5 7.7 1.5 7.8 1.4-5.4-1.7-7.8-1.9-7.7-1.8-7.7-1.6-7.7-1.6z"/>
<path class="mu" d="M1073.2 118.6l-5.4-2.7"/>
<path class="c322" d="M1104.1 124.5l7.7 1.5 7.7 1.5 7.7 1.5 7.8 1.5-5.5 .6-7.7-2.1-7.7-2.2-7.7-2-7.7-2z"/>
<path class="mu" d="M1104.1 124.5l-5.4-1.7"/>
<path class="c323" d="M1135 130.5l7.7 1.5 7.7 1.5 7.7 1.5 7.7 1.4-5.4 3.6-7.7-2.2-7.7-2.2-7.7-2.2-7.8-2.3z"/>
<path class="mu" d="M1135 130.5l-5.5 .6"/>
<path class="c324" d="M1165.8 136.4l7.8 1.5 7.7 1.5 7.7 1.5 7.7 1.5-5.4 6-7.7-2-7.7-2-7.7-2.2-7.8-2.2z"/>
<path class="mu" d="M1165.8 136.4l-5.4 3.6"/>
<path class="c325" d="M1196.7 142.4l7.8 1.5 7.7 1.5 7.7 1.5 7.7 1.4-5.4 6.9-7.7-1.5-7.7-1.7-7.8-1.7-7.7-1.9z"/>
<path class="mu" d="M1196.7 142.4l-5.4 6"/>
<path class="c326" d="M1227.6 148.3l7.7 1.5 7.8 1.5 7.7 1.5 7.7 1.5-5.4 6-7.7-1.1-7.7-1.2-7.8-1.3-7.7-1.5z"/>
<path class="mu" d="M1227.6 148.3l-5.4 6.9"/>
<path class="c327" d="M1258.5 154.3l7.7 1.5 7.8 1.5 7.7 1.5 7.7 1.4-5.4 3.6-7.7-.8-7.8-.8-7.7-.9-7.7-1z"/>
<path class="mu" d="M1258.5 154.3l-5.4 6"/>
<path class="c328" d="M1289.4 160.2l7.7 1.5 7.7 1.5 7.8 1.5 7.7 1.5-5.4 .6-7.7-.7-7.8-.8-7.7-.7-7.7-.8z"/>
<path class="mu" d="M1289.4 160.2l-5.4 3.6"/>
<path class="c329" d="M1320.3 166.2l7.7 1.5 7.7 1.5 7.8 1.5 7.7 1.4-5.4-1.7-7.8-1-7.7-.9-7.7-.9-7.7-.8z"/>
<path class="mu" d="M1320.3 166.2l-5.4 .6"/>
<path class="c330" d="M1351.2 172.1l7.7 1.5 7.7 1.5 7.8 1.5 7.7 1.5-5.4-2.7-7.8-1.4-7.7-1.3-7.7-1.2-7.7-1.1z"/>
<path class="mu" d="M1351.2 172.1l-5.4-1.7M1382.1 178.1l-5.4-2.7"/>
<path class="c321" d="M1067.8 115.9l7.7 1.6 7.7 1.6 7.7 1.8 7.8 1.9-5.5-1.7-7.7-2.2-7.7-2.1-7.7-1.8-7.7-1.6z"/>
<path class="mu" d="M1067.8 115.9l-5.4-2.5"/>
<path class="c322" d="M1098.7 122.8l7.7 2 7.7 2 7.7 2.2 7.7 2.1-5.4 .7-7.7-2.8-7.7-2.8-7.7-2.6-7.8-2.5z"/>
<path class="mu" d="M1098.7 122.8l-5.5-1.7"/>
<path class="c323" d="M1129.5 131.1l7.8 2.3 7.7 2.2 7.7 2.2 7.7 2.2-5.4 3.6-7.7-2.9-7.7-3-7.7-3-7.8-2.9z"/>
<path class="mu" d="M1129.5 131.1l-5.4 .7"/>
<path class="c324" d="M1160.4 140l7.8 2.2 7.7 2.2 7.7 2 7.7 2-5.4 5.9-7.7-2.5-7.7-2.6-7.8-2.7-7.7-2.9z"/>
<path class="mu" d="M1160.4 140l-5.4 3.6"/>
<path class="c325" d="M1191.3 148.4l7.7 1.9 7.8 1.7 7.7 1.7 7.7 1.5-5.4 6.9-7.7-1.6-7.7-1.9-7.8-2-7.7-2.3z"/>
<path class="mu" d="M1191.3 148.4l-5.4 5.9"/>
<path class="c326" d="M1222.2 155.2l7.7 1.5 7.8 1.3 7.7 1.2 7.7 1.1-5.4 5.9-7.7-.7-7.8-.9-7.7-1.2-7.7-1.3z"/>
<path class="mu" d="M1222.2 155.2l-5.4 6.9"/>
<path class="c327" d="M1253.1 160.3l7.7 1 7.7 .9 7.8 .8 7.7 .8-5.4 3.6-7.7-.1-7.8-.2-7.7-.4-7.7-.5z"/>
<path class="mu" d="M1253.1 160.3l-5.4 5.9"/>
<path class="c328" d="M1284 163.8l7.7 .8 7.7 .7 7.8 .8 7.7 .7-5.4 .7-7.8 0-7.7 0-7.7-.1-7.7 0z"/>
<path class="mu" d="M1284 163.8l-5.4 3.6"/>
<path class="c329" d="M1314.9 166.8l7.7 .8 7.7 .9 7.7 .9 7.8 1-5.4-1.7-7.8-.5-7.7-.3-7.7-.3-7.7-.1z"/>
<path class="mu" d="M1314.9 166.8l-5.4 .7"/>
<path class="c330" d="M1345.8 170.4l7.7 1.1 7.7 1.2 7.7 1.3 7.8 1.4-5.5-2.5-7.7-1.4-7.7-1.1-7.7-1-7.7-.7z"/>
<path class="mu" d="M1345.8 170.4l-5.4-1.7M1376.7 175.4l-5.5-2.5"/>
<path class="c331" d="M1062.4 113.4l7.7 1.6 7.7 1.8 7.7 2.1 7.7 2.2-5.4-1.5-7.7-2.6-7.7-2.4-7.7-2-7.8-1.6z"/>
<path class="mu" d="M1062.4 113.4l7.7 1.6 7.7 1.8 7.7 2.1 7.7 2.2M1062.4 113.4l-5.5-2.4"/>
<path class="c332" d="M1093.2 121.1l7.8 2.5 7.7 2.6 7.7 2.8 7.7 2.8-5.4 .8-7.7-3.5-7.7-3.4-7.7-3.2-7.8-2.9z"/>
<path class="mu" d="M1093.2 121.1l7.8 2.5 7.7 2.6 7.7 2.8 7.7 2.8M1093.2 121.1l-5.4-1.5"/>
<path class="c333" d="M1124.1 131.8l7.8 2.9 7.7 3 7.7 3 7.7 2.9-5.4 3.5-7.7-3.6-7.7-3.7-7.8-3.6-7.7-3.6z"/>
<path class="mu" d="M1124.1 131.8l7.8 2.9 7.7 3 7.7 3 7.7 2.9M1124.1 131.8l-5.4 .8"/>
<path class="c334" d="M1155 143.6l7.7 2.9 7.8 2.7 7.7 2.6 7.7 2.5-5.4 5.7-7.7-2.9-7.7-3.2-7.8-3.3-7.7-3.5z"/>
<path class="mu" d="M1155 143.6l7.7 2.9 7.8 2.7 7.7 2.6 7.7 2.5M1155 143.6l-5.4 3.5"/>
<path class="c335" d="M1185.9 154.3l7.7 2.3 7.8 2 7.7 1.9 7.7 1.6-5.4 6.6-7.7-1.7-7.8-2-7.7-2.3-7.7-2.7z"/>
<path class="mu" d="M1185.9 154.3l7.7 2.3 7.8 2 7.7 1.9 7.7 1.6M1185.9 154.3l-5.4 5.7"/>
<path class="c336" d="M1216.8 162.1l7.7 1.3 7.7 1.2 7.8 .9 7.7 .7-5.4 5.7-7.7-.3-7.8-.6-7.7-1-7.7-1.3z"/>
<path class="mu" d="M1216.8 162.1l7.7 1.3 7.7 1.2 7.8 .9 7.7 .7M1216.8 162.1l-5.4 6.6"/>
<path class="c337" d="M1247.7 166.2l7.7 .5 7.7 .4 7.8 .2 7.7 .1-5.4 3.5-7.8 .5-7.7 .4-7.7 .2-7.7-.1z"/>
<path class="mu" d="M1247.7 166.2l7.7 .5 7.7 .4 7.8 .2 7.7 .1M1247.7 166.2l-5.4 5.7"/>
<path class="c338" d="M1278.6 167.4l7.7 0 7.7 .1 7.7 0 7.8 0-5.4 .8-7.8 .6-7.7 .7-7.7 .7-7.7 .6z"/>
<path class="mu" d="M1278.6 167.4l7.7 0 7.7 .1 7.7 0 7.8 0M1278.6 167.4l-5.4 3.5"/>
<path class="c339" d="M1309.5 167.5l7.7 .1 7.7 .3 7.7 .3 7.8 .5-5.5-1.5-7.7 0-7.7 .2-7.7 .3-7.7 .6z"/>
<path class="mu" d="M1309.5 167.5l7.7 .1 7.7 .3 7.7 .3 7.8 .5M1309.5 167.5l-5.4 .8"/>
<path class="c340" d="M1340.4 168.7l7.7 .7 7.7 1 7.7 1.1 7.7 1.4-5.4-2.4-7.7-1.3-7.7-1-7.7-.6-7.8-.4z"/>
<path class="mu" d="M1340.4 168.7l7.7 .7 7.7 1 7.7 1.1 7.7 1.4M1340.4 168.7l-5.5-1.5M1371.2 172.9l-5.4-2.4"/>
<path class="c331" d="M1056.9 111l7.8 1.6 7.7 2 7.7 2.4 7.7 2.6-5.4-1.2-7.7-3-7.7-2.7-7.8-2.1-7.7-1.7z"/>
<path class="mu" d="M1056.9 111l-5.4-2.1"/>
<path class="c332" d="M1087.8 119.6l7.8 2.9 7.7 3.2 7.7 3.4 7.7 3.5-5.4 .8-7.7-4.1-7.7-3.9-7.8-3.7-7.7-3.3z"/>
<path class="mu" d="M1087.8 119.6l-5.4-1.2"/>
<path class="c333" d="M1118.7 132.6l7.7 3.6 7.8 3.6 7.7 3.7 7.7 3.6-5.4 3.4-7.7-4.3-7.7-4.3-7.8-4.3-7.7-4.2z"/>
<path class="mu" d="M1118.7 132.6l-5.4 .8"/>
<path class="c334" d="M1149.6 147.1l7.7 3.5 7.8 3.3 7.7 3.2 7.7 2.9-5.4 5.5-7.7-3.3-7.8-3.7-7.7-3.9-7.7-4.1z"/>
<path class="mu" d="M1149.6 147.1l-5.4 3.4"/>
<path class="c335" d="M1180.5 160l7.7 2.7 7.7 2.3 7.8 2 7.7 1.7-5.4 6.3-7.7-1.7-7.8-2.2-7.7-2.6-7.7-3z"/>
<path class="mu" d="M1180.5 160l-5.4 5.5"/>
<path class="c336" d="M1211.4 168.7l7.7 1.3 7.7 1 7.8 .6 7.7 .3-5.4 5.5-7.8 .1-7.7-.4-7.7-.8-7.7-1.3z"/>
<path class="mu" d="M1211.4 168.7l-5.4 6.3"/>
<path class="c337" d="M1242.3 171.9l7.7 .1 7.7-.2 7.7-.4 7.8-.5-5.4 3.4-7.8 1.1-7.7 .9-7.7 .7-7.7 .4z"/>
<path class="mu" d="M1242.3 171.9l-5.4 5.5"/>
<path class="c338" d="M1273.2 170.9l7.7-.6 7.7-.7 7.7-.7 7.8-.6-5.5 .8-7.7 1.3-7.7 1.3-7.7 1.3-7.7 1.3z"/>
<path class="mu" d="M1273.2 170.9l-5.4 3.4"/>
<path class="c339" d="M1304.1 168.3l7.7-.6 7.7-.3 7.7-.2 7.7 0-5.4-1.2-7.7 .3-7.7 .7-7.7 1-7.8 1.1z"/>
<path class="mu" d="M1304.1 168.3l-5.5 .8"/>
<path class="c340" d="M1334.9 167.2l7.8 .4 7.7 .6 7.7 1 7.7 1.3-5.4-2.1-7.7-1.3-7.7-.8-7.7-.4-7.8 .1z"/>
<path class="mu" d="M1334.9 167.2l-5.4-1.2M1365.8 170.5l-5.4-2.1"/>
<path class="c331" d="M1051.5 108.9l7.7 1.7 7.8 2.1 7.7 2.7 7.7 3-5.4-1-7.7-3.3-7.7-2.9-7.8-2.3-7.7-1.8z"/>
<path class="mu" d="M1051.5 108.9l-5.4-1.8"/>
<path class="c332" d="M1082.4 118.4l7.7 3.3 7.8 3.7 7.7 3.9 7.7 4.1-5.4 1-7.7-4.6-7.8-4.5-7.7-4.1-7.7-3.8z"/>
<path class="mu" d="M1082.4 118.4l-5.4-1"/>
<path class="c333" d="M1113.3 133.4l7.7 4.2 7.8 4.3 7.7 4.3 7.7 4.3-5.4 3.2-7.7-4.8-7.8-4.8-7.7-4.9-7.7-4.8z"/>
<path class="mu" d="M1113.3 133.4l-5.4 1"/>
<path class="c334" d="M1144.2 150.5l7.7 4.1 7.7 3.9 7.8 3.7 7.7 3.3-5.4 5.2-7.7-3.8-7.8-4.1-7.7-4.4-7.7-4.7z"/>
<path class="mu" d="M1144.2 150.5l-5.4 3.2"/>
<path class="c335" d="M1175.1 165.5l7.7 3 7.7 2.6 7.8 2.2 7.7 1.7-5.4 6-7.8-1.8-7.7-2.3-7.7-2.9-7.7-3.3z"/>
<path class="mu" d="M1175.1 165.5l-5.4 5.2"/>
<path class="c336" d="M1206 175l7.7 1.3 7.7 .8 7.7 .4 7.8-.1-5.4 5.2-7.8 .4-7.7-.1-7.7-.7-7.7-1.2z"/>
<path class="mu" d="M1206 175l-5.4 6"/>
<path class="c337" d="M1236.9 177.4l7.7-.4 7.7-.7 7.7-.9 7.8-1.1-5.5 3.2-7.7 1.7-7.7 1.4-7.7 1.2-7.7 .8z"/>
<path class="mu" d="M1236.9 177.4l-5.4 5.2"/>
<path class="c338" d="M1267.8 174.3l7.7-1.3 7.7-1.3 7.7-1.3 7.7-1.3-5.4 1-7.7 1.8-7.7 1.9-7.7 1.9-7.8 1.8z"/>
<path class="mu" d="M1267.8 174.3l-5.5 3.2"/>
<path class="c339" d="M1298.6 169.1l7.8-1.1 7.7-1 7.7-.7 7.7-.3-5.4-1-7.7 .8-7.7 1.2-7.7 1.4-7.8 1.7z"/>
<path class="mu" d="M1298.6 169.1l-5.4 1"/>
<path class="c340" d="M1329.5 166l7.8-.1 7.7 .4 7.7 .8 7.7 1.3-5.4-1.8-7.7-1.2-7.7-.6-7.8-.1-7.7 .3z"/>
<path class="mu" d="M1329.5 166l-5.4-1M1360.4 168.4l-5.4-1.8"/>
<path class="c331" d="M1046.1 107.1l7.7 1.8 7.8 2.3 7.7 2.9 7.7 3.3-5.4-.5-7.7-3.6-7.8-3.1-7.7-2.5-7.7-1.8z"/>
<path class="mu" d="M1046.1 107.1l-5.4-1.2"/>
<path class="c332" d="M1077 117.4l7.7 3.8 7.7 4.1 7.8 4.5 7.7 4.6-5.4 1.2-7.7-5.2-7.8-4.8-7.7-4.6-7.7-4.1z"/>
<path class="mu" d="M1077 117.4l-5.4-.5"/>
<path class="c333" d="M1107.9 134.4l7.7 4.8 7.7 4.9 7.8 4.8 7.7 4.8-5.4 3.1-7.8-5.3-7.7-5.3-7.7-5.4-7.7-5.2z"/>
<path class="mu" d="M1107.9 134.4l-5.4 1.2"/>
<path class="c334" d="M1138.8 153.7l7.7 4.7 7.7 4.4 7.8 4.1 7.7 3.8-5.4 4.8-7.8-4.2-7.7-4.5-7.7-4.9-7.7-5.1z"/>
<path class="mu" d="M1138.8 153.7l-5.4 3.1"/>
<path class="c335" d="M1169.7 170.7l7.7 3.3 7.7 2.9 7.7 2.3 7.8 1.8-5.4 5.5-7.8-1.8-7.7-2.5-7.7-3.1-7.7-3.6z"/>
<path class="mu" d="M1169.7 170.7l-5.4 4.8"/>
<path class="c336" d="M1200.6 181l7.7 1.2 7.7 .7 7.7 .1 7.8-.4-5.5 4.8-7.7 .6-7.7 .1-7.7-.5-7.7-1.1z"/>
<path class="mu" d="M1200.6 181l-5.4 5.5"/>
<path class="c337" d="M1231.5 182.6l7.7-.8 7.7-1.2 7.7-1.4 7.7-1.7-5.4 3.1-7.7 2.1-7.7 1.9-7.7 1.6-7.8 1.2z"/>
<path class="mu" d="M1231.5 182.6l-5.5 4.8"/>
<path class="c338" d="M1262.3 177.5l7.8-1.8 7.7-1.9 7.7-1.9 7.7-1.8-5.4 1.2-7.7 2.3-7.7 2.3-7.7 2.4-7.8 2.3z"/>
<path class="mu" d="M1262.3 177.5l-5.4 3.1"/>
<path class="c339" d="M1293.2 170.1l7.8-1.7 7.7-1.4 7.7-1.2 7.7-.8-5.4-.5-7.7 1.2-7.7 1.5-7.8 1.9-7.7 2.2z"/>
<path class="mu" d="M1293.2 170.1l-5.4 1.2"/>
<path class="c340" d="M1324.1 165l7.7-.3 7.8 .1 7.7 .6 7.7 1.2-5.4-1.2-7.7-1.2-7.7-.5-7.8 .1-7.7 .7z"/>
<path class="mu" d="M1324.1 165l-5.4-.5M1355 166.6l-5.4-1.2"/>
<path class="c341" d="M1040.7 105.9l7.7 1.8 7.7 2.5 7.8 3.1 7.7 3.6-5.4 0-7.7-3.9-7.8-3.3-7.7-2.6-7.7-1.9z"/>
<path class="mu" d="M1040.7 105.9l7.7 1.8 7.7 2.5 7.8 3.1 7.7 3.6M1040.7 105.9l-5.4-.7"/>
<path class="c342" d="M1071.6 116.9l7.7 4.1 7.7 4.6 7.8 4.8 7.7 5.2-5.4 1.3-7.8-5.5-7.7-5.2-7.7-4.9-7.7-4.4z"/>
<path class="mu" d="M1071.6 116.9l7.7 4.1 7.7 4.6 7.8 4.8 7.7 5.2M1071.6 116.9l-5.4 0"/>
<path class="c343" d="M1102.5 135.6l7.7 5.2 7.7 5.4 7.7 5.3 7.8 5.3-5.4 2.9-7.8-5.7-7.7-5.7-7.7-5.7-7.7-5.7z"/>
<path class="mu" d="M1102.5 135.6l7.7 5.2 7.7 5.4 7.7 5.3 7.8 5.3M1102.5 135.6l-5.4 1.3"/>
<path class="c344" d="M1133.4 156.8l7.7 5.1 7.7 4.9 7.7 4.5 7.8 4.2-5.5 4.2-7.7-4.4-7.7-4.9-7.7-5.2-7.7-5.5z"/>
<path class="mu" d="M1133.4 156.8l7.7 5.1 7.7 4.9 7.7 4.5 7.8 4.2M1133.4 156.8l-5.4 2.9"/>
<path class="c345" d="M1164.3 175.5l7.7 3.6 7.7 3.1 7.7 2.5 7.8 1.8-5.5 4.9-7.7-1.9-7.7-2.6-7.7-3.3-7.8-3.9z"/>
<path class="mu" d="M1164.3 175.5l7.7 3.6 7.7 3.1 7.7 2.5 7.8 1.8M1164.3 175.5l-5.5 4.2"/>
<path class="c346" d="M1195.2 186.5l7.7 1.1 7.7 .5 7.7-.1 7.7-.6-5.4 4.2-7.7 1-7.7 .3-7.7-.4-7.8-1.1z"/>
<path class="mu" d="M1195.2 186.5l7.7 1.1 7.7 .5 7.7-.1 7.7-.6M1195.2 186.5l-5.5 4.9"/>
<path class="c347" d="M1226 187.4l7.8-1.2 7.7-1.6 7.7-1.9 7.7-2.1-5.4 2.9-7.7 2.5-7.7 2.3-7.7 1.9-7.8 1.4z"/>
<path class="mu" d="M1226 187.4l7.8-1.2 7.7-1.6 7.7-1.9 7.7-2.1M1226 187.4l-5.4 4.2"/>
<path class="c348" d="M1256.9 180.6l7.8-2.3 7.7-2.4 7.7-2.3 7.7-2.3-5.4 1.3-7.7 2.7-7.7 2.7-7.8 2.8-7.7 2.7z"/>
<path class="mu" d="M1256.9 180.6l7.8-2.3 7.7-2.4 7.7-2.3 7.7-2.3M1256.9 180.6l-5.4 2.9"/>
<path class="c349" d="M1287.8 171.3l7.7-2.2 7.8-1.9 7.7-1.5 7.7-1.2-5.4 0-7.7 1.4-7.7 1.9-7.8 2.3-7.7 2.5z"/>
<path class="mu" d="M1287.8 171.3l7.7-2.2 7.8-1.9 7.7-1.5 7.7-1.2M1287.8 171.3l-5.4 1.3"/>
<path class="c350" d="M1318.7 164.5l7.7-.7 7.8-.1 7.7 .5 7.7 1.2-5.4-.7-7.7-1.1-7.8-.4-7.7 .3-7.7 1z"/>
<path class="mu" d="M1318.7 164.5l7.7-.7 7.8-.1 7.7 .5 7.7 1.2M1318.7 164.5l-5.4 0M1349.6 165.4l-5.4-.7"/>
<path class="c341" d="M1035.3 105.2l7.7 1.9 7.7 2.6 7.8 3.3 7.7 3.9-5.4 .5-7.8-4.1-7.7-3.4-7.7-2.7-7.7-1.9z"/>
<path class="mu" d="M1035.3 105.2l-5.4 .1"/>
<path class="c342" d="M1066.2 116.9l7.7 4.4 7.7 4.9 7.7 5.2 7.8 5.5-5.4 1.5-7.8-5.7-7.7-5.5-7.7-5.2-7.7-4.6z"/>
<path class="mu" d="M1066.2 116.9l-5.4 .5"/>
<path class="c343" d="M1097.1 136.9l7.7 5.7 7.7 5.7 7.7 5.7 7.8 5.7-5.5 2.7-7.7-6-7.7-6-7.7-6-7.7-6z"/>
<path class="mu" d="M1097.1 136.9l-5.4 1.5"/>
<path class="c344" d="M1128 159.7l7.7 5.5 7.7 5.2 7.7 4.9 7.7 4.4-5.4 3.8-7.7-4.7-7.7-5.1-7.7-5.5-7.8-5.8z"/>
<path class="mu" d="M1128 159.7l-5.5 2.7"/>
<path class="c345" d="M1158.8 179.7l7.8 3.9 7.7 3.3 7.7 2.6 7.7 1.9-5.4 4.2-7.7-1.9-7.7-2.7-7.7-3.5-7.8-4z"/>
<path class="mu" d="M1158.8 179.7l-5.4 3.8"/>
<path class="c346" d="M1189.7 191.4l7.8 1.1 7.7 .4 7.7-.3 7.7-1-5.4 3.8-7.7 1.1-7.7 .4-7.8-.3-7.7-1z"/>
<path class="mu" d="M1189.7 191.4l-5.4 4.2"/>
<path class="c347" d="M1220.6 191.6l7.8-1.4 7.7-1.9 7.7-2.3 7.7-2.5-5.4 2.7-7.7 2.8-7.7 2.5-7.8 2.2-7.7 1.7z"/>
<path class="mu" d="M1220.6 191.6l-5.4 3.8"/>
<path class="c348" d="M1251.5 183.5l7.7-2.7 7.8-2.8 7.7-2.7 7.7-2.7-5.4 1.5-7.7 3-7.7 3.1-7.8 3-7.7 3z"/>
<path class="mu" d="M1251.5 183.5l-5.4 2.7"/>
<path class="c349" d="M1282.4 172.6l7.7-2.5 7.8-2.3 7.7-1.9 7.7-1.4-5.4 .5-7.7 1.7-7.8 2.1-7.7 2.5-7.7 2.8z"/>
<path class="mu" d="M1282.4 172.6l-5.4 1.5"/>
<path class="c350" d="M1313.3 164.5l7.7-1 7.7-.3 7.8 .4 7.7 1.1-5.4 .1-7.7-1.1-7.8-.3-7.7 .5-7.7 1.1z"/>
<path class="mu" d="M1313.3 164.5l-5.4 .5M1344.2 164.7l-5.4 .1"/>
<path class="c341" d="M1029.9 105.3l7.7 1.9 7.7 2.7 7.7 3.4 7.8 4.1-5.4 1.1-7.8-4.2-7.7-3.5-7.7-2.8-7.7-1.9z"/>
<path class="mu" d="M1029.9 105.3l-5.4 .8"/>
<path class="c342" d="M1060.8 117.4l7.7 4.6 7.7 5.2 7.7 5.5 7.8 5.7-5.5 1.8-7.7-5.9-7.7-5.7-7.7-5.3-7.7-4.8z"/>
<path class="mu" d="M1060.8 117.4l-5.4 1.1"/>
<path class="c343" d="M1091.7 138.4l7.7 6 7.7 6 7.7 6 7.7 6-5.4 2.5-7.7-6.2-7.7-6.2-7.7-6.2-7.8-6.1z"/>
<path class="mu" d="M1091.7 138.4l-5.5 1.8"/>
<path class="c344" d="M1122.5 162.4l7.8 5.8 7.7 5.5 7.7 5.1 7.7 4.7-5.4 3.1-7.7-4.8-7.7-5.3-7.7-5.7-7.8-5.9z"/>
<path class="mu" d="M1122.5 162.4l-5.4 2.5"/>
<path class="c345" d="M1153.4 183.5l7.8 4 7.7 3.5 7.7 2.7 7.7 1.9-5.4 3.3-7.7-1.9-7.7-2.7-7.8-3.5-7.7-4.2z"/>
<path class="mu" d="M1153.4 183.5l-5.4 3.1"/>
<path class="c346" d="M1184.3 195.6l7.7 1 7.8 .3 7.7-.4 7.7-1.1-5.4 3.1-7.7 1.2-7.7 .5-7.8-.2-7.7-1.1z"/>
<path class="mu" d="M1184.3 195.6l-5.4 3.3"/>
<path class="c347" d="M1215.2 195.4l7.7-1.7 7.8-2.2 7.7-2.5 7.7-2.8-5.4 2.5-7.7 2.9-7.8 2.7-7.7 2.3-7.7 1.9z"/>
<path class="mu" d="M1215.2 195.4l-5.4 3.1"/>
<path class="c348" d="M1246.1 186.2l7.7-3 7.8-3 7.7-3.1 7.7-3-5.4 1.8-7.7 3.1-7.8 3.3-7.7 3.2-7.7 3.2z"/>
<path class="mu" d="M1246.1 186.2l-5.4 2.5"/>
<path class="c349" d="M1277 174.1l7.7-2.8 7.7-2.5 7.8-2.1 7.7-1.7-5.4 1.1-7.7 1.8-7.8 2.3-7.7 2.7-7.7 3z"/>
<path class="mu" d="M1277 174.1l-5.4 1.8"/>
<path class="c350" d="M1307.9 165l7.7-1.1 7.7-.5 7.8 .3 7.7 1.1-5.4 .8-7.8-1-7.7-.3-7.7 .6-7.7 1.2z"/>
<path class="mu" d="M1307.9 165l-5.4 1.1M1338.8 164.8l-5.4 .8"/>
<path class="c341" d="M1024.5 106.1l7.7 1.9 7.7 2.8 7.7 3.5 7.8 4.2-5.5 1.8-7.7-4.3-7.7-3.5-7.7-2.8-7.8-1.9z"/>
<path class="mu" d="M1024.5 106.1l-5.5 1.7"/>
<path class="c342" d="M1055.4 118.5l7.7 4.8 7.7 5.3 7.7 5.7 7.7 5.9-5.4 2-7.7-6-7.7-5.7-7.7-5.4-7.8-4.8z"/>
<path class="mu" d="M1055.4 118.5l-5.5 1.8"/>
<path class="c343" d="M1086.2 140.2l7.8 6.1 7.7 6.2 7.7 6.2 7.7 6.2-5.4 2.2-7.7-6.2-7.7-6.3-7.7-6.2-7.8-6.2z"/>
<path class="mu" d="M1086.2 140.2l-5.4 2"/>
<path class="c344" d="M1117.1 164.9l7.8 5.9 7.7 5.7 7.7 5.3 7.7 4.8-5.4 2.4-7.7-4.8-7.7-5.4-7.8-5.7-7.7-6z"/>
<path class="mu" d="M1117.1 164.9l-5.4 2.2"/>
<path class="c345" d="M1148 186.6l7.7 4.2 7.8 3.5 7.7 2.7 7.7 1.9-5.4 2.6-7.7-1.9-7.7-2.8-7.8-3.5-7.7-4.3z"/>
<path class="mu" d="M1148 186.6l-5.4 2.4"/>
<path class="c346" d="M1178.9 198.9l7.7 1.1 7.8 .2 7.7-.5 7.7-1.2-5.4 2.4-7.7 1.3-7.8 .6-7.7-.2-7.7-1.1z"/>
<path class="mu" d="M1178.9 198.9l-5.4 2.6"/>
<path class="c347" d="M1209.8 198.5l7.7-1.9 7.7-2.3 7.8-2.7 7.7-2.9-5.4 2.2-7.7 3-7.8 2.8-7.7 2.3-7.7 1.9z"/>
<path class="mu" d="M1209.8 198.5l-5.4 2.4"/>
<path class="c348" d="M1240.7 188.7l7.7-3.2 7.7-3.2 7.8-3.3 7.7-3.1-5.4 2-7.8 3.2-7.7 3.3-7.7 3.3-7.7 3.2z"/>
<path class="mu" d="M1240.7 188.7l-5.4 2.2"/>
<path class="c349" d="M1271.6 175.9l7.7-3 7.7-2.7 7.8-2.3 7.7-1.8-5.4 1.8-7.8 1.9-7.7 2.3-7.7 2.8-7.7 3z"/>
<path class="mu" d="M1271.6 175.9l-5.4 2"/>
<path class="c350" d="M1302.5 166.1l7.7-1.2 7.7-.6 7.7 .3 7.8 1-5.4 1.7-7.8-1.1-7.7-.2-7.7 .6-7.7 1.3z"/>
<path class="mu" d="M1302.5 166.1l-5.4 1.8M1333.4 165.6l-5.4 1.7"/>
<path class="c351" d="M1019 107.8l7.8 1.9 7.7 2.8 7.7 3.5 7.7 4.3-5.4 2.4-7.7-4.2-7.7-3.5-7.7-2.7-7.8-1.9z"/>
<path class="mu" d="M1019 107.8l7.8 1.9 7.7 2.8 7.7 3.5 7.7 4.3M1019 107.8l-5.4 2.6"/>
<path class="c352" d="M1049.9 120.3l7.8 4.8 7.7 5.4 7.7 5.7 7.7 6-5.4 2.2-7.7-5.9-7.7-5.7-7.8-5.3-7.7-4.8z"/>
<path class="mu" d="M1049.9 120.3l7.8 4.8 7.7 5.4 7.7 5.7 7.7 6M1049.9 120.3l-5.4 2.4"/>
<path class="c353" d="M1080.8 142.2l7.8 6.2 7.7 6.2 7.7 6.3 7.7 6.2-5.4 2-7.7-6.1-7.7-6.2-7.8-6.2-7.7-6.2z"/>
<path class="mu" d="M1080.8 142.2l7.8 6.2 7.7 6.2 7.7 6.3 7.7 6.2M1080.8 142.2l-5.4 2.2"/>
<path class="c354" d="M1111.7 167.1l7.7 6 7.8 5.7 7.7 5.4 7.7 4.8-5.4 1.8-7.7-4.8-7.7-5.3-7.8-5.7-7.7-5.9z"/>
<path class="mu" d="M1111.7 167.1l7.7 6 7.8 5.7 7.7 5.4 7.7 4.8M1111.7 167.1l-5.4 2"/>
<path class="c355" d="M1142.6 189l7.7 4.3 7.8 3.5 7.7 2.8 7.7 1.9-5.4 1.7-7.7-1.9-7.8-2.8-7.7-3.5-7.7-4.2z"/>
<path class="mu" d="M1142.6 189l7.7 4.3 7.8 3.5 7.7 2.8 7.7 1.9M1142.6 189l-5.4 1.8"/>
<path class="c356" d="M1173.5 201.5l7.7 1.1 7.7 .2 7.8-.6 7.7-1.3-5.4 1.8-7.7 1.2-7.8 .6-7.7-.3-7.7-1z"/>
<path class="mu" d="M1173.5 201.5l7.7 1.1 7.7 .2 7.8-.6 7.7-1.3M1173.5 201.5l-5.4 1.7"/>
<path class="c357" d="M1204.4 200.9l7.7-1.9 7.7-2.3 7.8-2.8 7.7-3-5.4 2-7.8 3-7.7 2.7-7.7 2.3-7.7 1.8z"/>
<path class="mu" d="M1204.4 200.9l7.7-1.9 7.7-2.3 7.8-2.8 7.7-3M1204.4 200.9l-5.4 1.8"/>
<path class="c358" d="M1235.3 190.9l7.7-3.2 7.7-3.3 7.7-3.3 7.8-3.2-5.4 2.2-7.8 3.2-7.7 3.2-7.7 3.3-7.7 3.1z"/>
<path class="mu" d="M1235.3 190.9l7.7-3.2 7.7-3.3 7.7-3.3 7.8-3.2M1235.3 190.9l-5.4 2"/>
<path class="c359" d="M1266.2 177.9l7.7-3 7.7-2.8 7.7-2.3 7.8-1.9-5.5 2.4-7.7 1.9-7.7 2.3-7.7 2.7-7.7 2.9z"/>
<path class="mu" d="M1266.2 177.9l7.7-3 7.7-2.8 7.7-2.3 7.8-1.9M1266.2 177.9l-5.4 2.2"/>
<path class="c360" d="M1297.1 167.9l7.7-1.3 7.7-.6 7.7 .2 7.8 1.1-5.5 2.6-7.7-1.1-7.7-.2-7.7 .5-7.8 1.2z"/>
<path class="mu" d="M1297.1 167.9l7.7-1.3 7.7-.6 7.7 .2 7.8 1.1M1297.1 167.9l-5.5 2.4M1328 167.3l-5.5 2.6"/>
<path class="c351" d="M1013.6 110.4l7.8 1.9 7.7 2.7 7.7 3.5 7.7 4.2-5.4 3.1-7.7-4-7.7-3.5-7.8-2.7-7.7-1.9z"/>
<path class="mu" d="M1013.6 110.4l-5.4 3.3"/>
<path class="c352" d="M1044.5 122.7l7.7 4.8 7.8 5.3 7.7 5.7 7.7 5.9-5.4 2.5-7.7-5.8-7.7-5.5-7.8-5.1-7.7-4.7z"/>
<path class="mu" d="M1044.5 122.7l-5.4 3.1"/>
<path class="c353" d="M1075.4 144.4l7.7 6.2 7.8 6.2 7.7 6.2 7.7 6.1-5.4 1.8-7.7-6-7.8-6-7.7-6-7.7-6z"/>
<path class="mu" d="M1075.4 144.4l-5.4 2.5"/>
<path class="c354" d="M1106.3 169.1l7.7 5.9 7.8 5.7 7.7 5.3 7.7 4.8-5.4 1.1-7.7-4.6-7.8-5.2-7.7-5.5-7.7-5.7z"/>
<path class="mu" d="M1106.3 169.1l-5.4 1.8"/>
<path class="c355" d="M1137.2 190.8l7.7 4.2 7.7 3.5 7.8 2.8 7.7 1.9-5.4 .8-7.7-1.9-7.8-2.7-7.7-3.4-7.7-4.1z"/>
<path class="mu" d="M1137.2 190.8l-5.4 1.1"/>
<path class="c356" d="M1168.1 203.2l7.7 1 7.7 .3 7.8-.6 7.7-1.2-5.4 1.1-7.8 1.1-7.7 .5-7.7-.3-7.7-1.1z"/>
<path class="mu" d="M1168.1 203.2l-5.4 .8"/>
<path class="c357" d="M1199 202.7l7.7-1.8 7.7-2.3 7.7-2.7 7.8-3-5.4 1.8-7.8 2.8-7.7 2.5-7.7 2.1-7.7 1.7z"/>
<path class="mu" d="M1199 202.7l-5.4 1.1"/>
<path class="c358" d="M1229.9 192.9l7.7-3.1 7.7-3.3 7.7-3.2 7.8-3.2-5.5 2.5-7.7 3-7.7 3-7.7 3.1-7.7 3z"/>
<path class="mu" d="M1229.9 192.9l-5.4 1.8"/>
<path class="c359" d="M1260.8 180.1l7.7-2.9 7.7-2.7 7.7-2.3 7.7-1.9-5.4 3.1-7.7 1.7-7.7 2.2-7.7 2.5-7.8 2.8z"/>
<path class="mu" d="M1260.8 180.1l-5.5 2.5"/>
<path class="c360" d="M1291.6 170.3l7.8-1.2 7.7-.5 7.7 .2 7.7 1.1-5.4 3.3-7.7-1-7.7-.3-7.7 .4-7.8 1.1z"/>
<path class="mu" d="M1291.6 170.3l-5.4 3.1M1322.5 169.9l-5.4 3.3"/>
<path class="c351" d="M1008.2 113.7l7.7 1.9 7.8 2.7 7.7 3.5 7.7 4-5.4 3.8-7.7-3.9-7.7-3.3-7.8-2.6-7.7-1.9z"/>
<path class="mu" d="M1008.2 113.7l-5.4 4.2"/>
<path class="c352" d="M1039.1 125.8l7.7 4.7 7.8 5.1 7.7 5.5 7.7 5.8-5.4 2.7-7.7-5.5-7.8-5.2-7.7-4.9-7.7-4.4z"/>
<path class="mu" d="M1039.1 125.8l-5.4 3.8"/>
<path class="c353" d="M1070 146.9l7.7 6 7.7 6 7.8 6 7.7 6-5.4 1.5-7.7-5.7-7.8-5.7-7.7-5.7-7.7-5.7z"/>
<path class="mu" d="M1070 146.9l-5.4 2.7"/>
<path class="c354" d="M1100.9 170.9l7.7 5.7 7.7 5.5 7.8 5.2 7.7 4.6-5.4 .5-7.8-4.4-7.7-4.9-7.7-5.2-7.7-5.5z"/>
<path class="mu" d="M1100.9 170.9l-5.4 1.5"/>
<path class="c355" d="M1131.8 191.9l7.7 4.1 7.7 3.4 7.8 2.7 7.7 1.9-5.4 .1-7.8-1.9-7.7-2.6-7.7-3.3-7.7-3.9z"/>
<path class="mu" d="M1131.8 191.9l-5.4 .5"/>
<path class="c356" d="M1162.7 204l7.7 1.1 7.7 .3 7.7-.5 7.8-1.1-5.4 .5-7.8 1-7.7 .3-7.7-.4-7.7-1.1z"/>
<path class="mu" d="M1162.7 204l-5.4 .1"/>
<path class="c357" d="M1193.6 203.8l7.7-1.7 7.7-2.1 7.7-2.5 7.8-2.8-5.5 1.5-7.7 2.5-7.7 2.3-7.7 1.9-7.7 1.4z"/>
<path class="mu" d="M1193.6 203.8l-5.4 .5"/>
<path class="c358" d="M1224.5 194.7l7.7-3 7.7-3.1 7.7-3 7.7-3-5.4 2.7-7.7 2.7-7.7 2.8-7.7 2.7-7.8 2.7z"/>
<path class="mu" d="M1224.5 194.7l-5.5 1.5"/>
<path class="c359" d="M1255.3 182.6l7.8-2.8 7.7-2.5 7.7-2.2 7.7-1.7-5.4 3.8-7.7 1.4-7.7 1.9-7.7 2.3-7.8 2.5z"/>
<path class="mu" d="M1255.3 182.6l-5.4 2.7"/>
<path class="c360" d="M1286.2 173.4l7.8-1.1 7.7-.4 7.7 .3 7.7 1-5.4 4.2-7.7-1.1-7.7-.4-7.8 .3-7.7 1z"/>
<path class="mu" d="M1286.2 173.4l-5.4 3.8M1317.1 173.2l-5.4 4.2"/>
<path class="c351" d="M1002.8 117.9l7.7 1.9 7.8 2.6 7.7 3.3 7.7 3.9-5.4 4.2-7.7-3.6-7.8-3.1-7.7-2.5-7.7-1.8z"/>
<path class="mu" d="M1002.8 117.9l-5.4 4.9"/>
<path class="c352" d="M1033.7 129.6l7.7 4.4 7.7 4.9 7.8 5.2 7.7 5.5-5.4 2.9-7.7-5.1-7.8-4.9-7.7-4.5-7.7-4.2z"/>
<path class="mu" d="M1033.7 129.6l-5.4 4.2"/>
<path class="c353" d="M1064.6 149.6l7.7 5.7 7.7 5.7 7.8 5.7 7.7 5.7-5.4 1.3-7.8-5.2-7.7-5.4-7.7-5.3-7.7-5.3z"/>
<path class="mu" d="M1064.6 149.6l-5.4 2.9"/>
<path class="c354" d="M1095.5 172.4l7.7 5.5 7.7 5.2 7.7 4.9 7.8 4.4-5.4 0-7.8-4.1-7.7-4.6-7.7-4.8-7.7-5.2z"/>
<path class="mu" d="M1095.5 172.4l-5.4 1.3"/>
<path class="c355" d="M1126.4 192.4l7.7 3.9 7.7 3.3 7.7 2.6 7.8 1.9-5.5-.7-7.7-1.8-7.7-2.5-7.7-3.1-7.7-3.6z"/>
<path class="mu" d="M1126.4 192.4l-5.4 0"/>
<path class="c356" d="M1157.3 204.1l7.7 1.1 7.7 .4 7.7-.3 7.8-1-5.5 0-7.7 .7-7.7 .1-7.7-.5-7.8-1.2z"/>
<path class="mu" d="M1157.3 204.1l-5.5-.7"/>
<path class="c357" d="M1188.2 204.3l7.7-1.4 7.7-1.9 7.7-2.3 7.7-2.5-5.4 1.3-7.7 2.2-7.7 1.9-7.7 1.5-7.8 1.2z"/>
<path class="mu" d="M1188.2 204.3l-5.5 0"/>
<path class="c358" d="M1219 196.2l7.8-2.7 7.7-2.7 7.7-2.8 7.7-2.7-5.4 2.9-7.7 2.3-7.7 2.4-7.7 2.3-7.8 2.3z"/>
<path class="mu" d="M1219 196.2l-5.4 1.3"/>
<path class="c359" d="M1249.9 185.3l7.8-2.5 7.7-2.3 7.7-1.9 7.7-1.4-5.4 4.2-7.7 1.2-7.7 1.6-7.8 1.9-7.7 2.1z"/>
<path class="mu" d="M1249.9 185.3l-5.4 2.9"/>
<path class="c360" d="M1280.8 177.2l7.7-1 7.8-.3 7.7 .4 7.7 1.1-5.4 4.9-7.7-1.1-7.7-.5-7.8 .1-7.7 .6z"/>
<path class="mu" d="M1280.8 177.2l-5.4 4.2M1311.7 177.4l-5.4 4.9"/>
<path class="c361" d="M997.4 122.8l7.7 1.8 7.7 2.5 7.8 3.1 7.7 3.6-5.4 4.8-7.7-3.3-7.8-2.9-7.7-2.3-7.7-1.8z"/>
<path class="mu" d="M997.4 122.8l7.7 1.8 7.7 2.5 7.8 3.1 7.7 3.6M997.4 122.8l-5.4 5.5"/>
<path class="c362" d="M1028.3 133.8l7.7 4.2 7.7 4.5 7.8 4.9 7.7 5.1-5.4 3.1-7.8-4.7-7.7-4.4-7.7-4.1-7.7-3.8z"/>
<path class="mu" d="M1028.3 133.8l7.7 4.2 7.7 4.5 7.8 4.9 7.7 5.1M1028.3 133.8l-5.4 4.8"/>
<path class="c363" d="M1059.2 152.5l7.7 5.3 7.7 5.3 7.7 5.4 7.8 5.2-5.4 1.2-7.8-4.8-7.7-4.9-7.7-4.8-7.7-4.8z"/>
<path class="mu" d="M1059.2 152.5l7.7 5.3 7.7 5.3 7.7 5.4 7.8 5.2M1059.2 152.5l-5.4 3.1"/>
<path class="c364" d="M1090.1 173.7l7.7 5.2 7.7 4.8 7.7 4.6 7.8 4.1-5.5-.5-7.7-3.8-7.7-4.1-7.7-4.5-7.7-4.6z"/>
<path class="mu" d="M1090.1 173.7l7.7 5.2 7.7 4.8 7.7 4.6 7.8 4.1M1090.1 173.7l-5.4 1.2"/>
<path class="c365" d="M1121 192.4l7.7 3.6 7.7 3.1 7.7 2.5 7.7 1.8-5.4-1.2-7.7-1.8-7.7-2.3-7.7-2.9-7.8-3.3z"/>
<path class="mu" d="M1121 192.4l7.7 3.6 7.7 3.1 7.7 2.5 7.7 1.8M1121 192.4l-5.5-.5"/>
<path class="c366" d="M1151.8 203.4l7.8 1.2 7.7 .5 7.7-.1 7.7-.7-5.4-.5-7.7 .3-7.7-.1-7.7-.6-7.8-1.2z"/>
<path class="mu" d="M1151.8 203.4l7.8 1.2 7.7 .5 7.7-.1 7.7-.7M1151.8 203.4l-5.4-1.2"/>
<path class="c367" d="M1182.7 204.3l7.8-1.2 7.7-1.5 7.7-1.9 7.7-2.2-5.4 1.2-7.7 1.7-7.7 1.4-7.8 1.2-7.7 .8z"/>
<path class="mu" d="M1182.7 204.3l7.8-1.2 7.7-1.5 7.7-1.9 7.7-2.2M1182.7 204.3l-5.4-.5"/>
<path class="c368" d="M1213.6 197.5l7.8-2.3 7.7-2.3 7.7-2.4 7.7-2.3-5.4 3.1-7.7 1.8-7.7 1.9-7.8 1.9-7.7 1.8z"/>
<path class="mu" d="M1213.6 197.5l7.8-2.3 7.7-2.3 7.7-2.4 7.7-2.3M1213.6 197.5l-5.4 1.2"/>
<path class="c369" d="M1244.5 188.2l7.7-2.1 7.8-1.9 7.7-1.6 7.7-1.2-5.4 4.8-7.7 .8-7.7 1.2-7.8 1.4-7.7 1.7z"/>
<path class="mu" d="M1244.5 188.2l7.7-2.1 7.8-1.9 7.7-1.6 7.7-1.2M1244.5 188.2l-5.4 3.1"/>
<path class="c370" d="M1275.4 181.4l7.7-.6 7.8-.1 7.7 .5 7.7 1.1-5.4 5.5-7.7-1.2-7.8-.7-7.7-.1-7.7 .4z"/>
<path class="mu" d="M1275.4 181.4l7.7-.6 7.8-.1 7.7 .5 7.7 1.1M1275.4 181.4l-5.4 4.8M1306.3 182.3l-5.4 5.5"/>
<path class="c361" d="M992 128.3l7.7 1.8 7.7 2.3 7.8 2.9 7.7 3.3-5.4 5.2-7.8-3-7.7-2.6-7.7-2.2-7.7-1.7z"/>
<path class="mu" d="M992 128.3l-5.4 6"/>
<path class="c362" d="M1022.9 138.6l7.7 3.8 7.7 4.1 7.7 4.4 7.8 4.7-5.4 3.2-7.8-4.1-7.7-3.9-7.7-3.7-7.7-3.3z"/>
<path class="mu" d="M1022.9 138.6l-5.4 5.2"/>
<path class="c363" d="M1053.8 155.6l7.7 4.8 7.7 4.8 7.7 4.9 7.8 4.8-5.5 1-7.7-4.2-7.7-4.3-7.7-4.3-7.7-4.3z"/>
<path class="mu" d="M1053.8 155.6l-5.4 3.2"/>
<path class="c364" d="M1084.7 174.9l7.7 4.6 7.7 4.5 7.7 4.1 7.7 3.8-5.4-1-7.7-3.3-7.7-3.7-7.7-3.9-7.8-4.1z"/>
<path class="mu" d="M1084.7 174.9l-5.5 1"/>
<path class="c365" d="M1115.5 191.9l7.8 3.3 7.7 2.9 7.7 2.3 7.7 1.8-5.4-1.8-7.7-1.7-7.7-2.1-7.7-2.7-7.8-3z"/>
<path class="mu" d="M1115.5 191.9l-5.4-1"/>
<path class="c366" d="M1146.4 202.2l7.8 1.2 7.7 .6 7.7 .1 7.7-.3-5.4-1-7.7 .1-7.7-.4-7.8-.8-7.7-1.3z"/>
<path class="mu" d="M1146.4 202.2l-5.4-1.8"/>
<path class="c367" d="M1177.3 203.8l7.7-.8 7.8-1.2 7.7-1.4 7.7-1.7-5.4 1-7.7 1.1-7.7 1-7.8 .7-7.7 .3z"/>
<path class="mu" d="M1177.3 203.8l-5.4-1"/>
<path class="c368" d="M1208.2 198.7l7.7-1.8 7.8-1.9 7.7-1.9 7.7-1.8-5.4 3.2-7.7 1.3-7.8 1.3-7.7 1.3-7.7 1.3z"/>
<path class="mu" d="M1208.2 198.7l-5.4 1"/>
<path class="c369" d="M1239.1 191.3l7.7-1.7 7.8-1.4 7.7-1.2 7.7-.8-5.4 5.2-7.7 .4-7.8 .7-7.7 .9-7.7 1.1z"/>
<path class="mu" d="M1239.1 191.3l-5.4 3.2"/>
<path class="c370" d="M1270 186.2l7.7-.4 7.7 .1 7.8 .7 7.7 1.2-5.4 6-7.7-1.3-7.8-.8-7.7-.4-7.7 .1z"/>
<path class="mu" d="M1270 186.2l-5.4 5.2M1300.9 187.8l-5.4 6"/>
<path class="c361" d="M986.6 134.3l7.7 1.7 7.7 2.2 7.7 2.6 7.8 3-5.4 5.5-7.8-2.7-7.7-2.3-7.7-2-7.7-1.7z"/>
<path class="mu" d="M986.6 134.3l-5.4 6.3"/>
<path class="c362" d="M1017.5 143.8l7.7 3.3 7.7 3.7 7.7 3.9 7.8 4.1-5.5 3.4-7.7-3.5-7.7-3.3-7.7-3.2-7.7-2.9z"/>
<path class="mu" d="M1017.5 143.8l-5.4 5.5"/>
<path class="c363" d="M1048.4 158.8l7.7 4.3 7.7 4.3 7.7 4.3 7.7 4.2-5.4 .8-7.7-3.6-7.7-3.6-7.7-3.7-7.8-3.6z"/>
<path class="mu" d="M1048.4 158.8l-5.5 3.4"/>
<path class="c364" d="M1079.2 175.9l7.8 4.1 7.7 3.9 7.7 3.7 7.7 3.3-5.4-1.2-7.7-2.9-7.7-3.2-7.7-3.4-7.8-3.5z"/>
<path class="mu" d="M1079.2 175.9l-5.4 .8"/>
<path class="c365" d="M1110.1 190.9l7.8 3 7.7 2.7 7.7 2.1 7.7 1.7-5.4-2.1-7.7-1.6-7.7-2-7.8-2.4-7.7-2.6z"/>
<path class="mu" d="M1110.1 190.9l-5.4-1.2"/>
<path class="c366" d="M1141 200.4l7.7 1.3 7.8 .8 7.7 .4 7.7-.1-5.4-1.2-7.7-.4-7.7-.6-7.8-1-7.7-1.3z"/>
<path class="mu" d="M1141 200.4l-5.4-2.1"/>
<path class="c367" d="M1171.9 202.8l7.7-.3 7.8-.7 7.7-1 7.7-1.1-5.4 .8-7.7 .6-7.8 .3-7.7 .2-7.7 0z"/>
<path class="mu" d="M1171.9 202.8l-5.4-1.2"/>
<path class="c368" d="M1202.8 199.7l7.7-1.3 7.7-1.3 7.8-1.3 7.7-1.3-5.4 3.4-7.7 .6-7.8 .7-7.7 .7-7.7 .6z"/>
<path class="mu" d="M1202.8 199.7l-5.4 .8"/>
<path class="c369" d="M1233.7 194.5l7.7-1.1 7.7-.9 7.8-.7 7.7-.4-5.4 5.5-7.8-.1-7.7 .2-7.7 .4-7.7 .5z"/>
<path class="mu" d="M1233.7 194.5l-5.4 3.4"/>
<path class="c370" d="M1264.6 191.4l7.7-.1 7.7 .4 7.8 .8 7.7 1.3-5.4 6.3-7.8-1.3-7.7-1-7.7-.6-7.7-.3z"/>
<path class="mu" d="M1264.6 191.4l-5.4 5.5M1295.5 193.8l-5.4 6.3"/>
<path class="c361" d="M981.2 140.6l7.7 1.7 7.7 2 7.7 2.3 7.8 2.7-5.5 5.7-7.7-2.3-7.7-2-7.7-1.9-7.7-1.6z"/>
<path class="mu" d="M981.2 140.6l-5.4 6.6"/>
<path class="c362" d="M1012.1 149.3l7.7 2.9 7.7 3.2 7.7 3.3 7.7 3.5-5.4 3.5-7.7-2.9-7.7-2.7-7.7-2.6-7.8-2.5z"/>
<path class="mu" d="M1012.1 149.3l-5.5 5.7"/>
<path class="c363" d="M1042.9 162.2l7.8 3.6 7.7 3.7 7.7 3.6 7.7 3.6-5.4 .8-7.7-2.9-7.7-3-7.7-3-7.8-2.9z"/>
<path class="mu" d="M1042.9 162.2l-5.4 3.5"/>
<path class="c364" d="M1073.8 176.7l7.8 3.5 7.7 3.4 7.7 3.2 7.7 2.9-5.4-1.5-7.7-2.5-7.7-2.6-7.8-2.8-7.7-2.8z"/>
<path class="mu" d="M1073.8 176.7l-5.4 .8"/>
<path class="c365" d="M1104.7 189.7l7.7 2.6 7.8 2.4 7.7 2 7.7 1.6-5.4-2.4-7.7-1.6-7.7-1.8-7.8-2.1-7.7-2.2z"/>
<path class="mu" d="M1104.7 189.7l-5.4-1.5"/>
<path class="c366" d="M1135.6 198.3l7.7 1.3 7.8 1 7.7 .6 7.7 .4-5.4-1.5-7.7-.7-7.8-1-7.7-1.1-7.7-1.4z"/>
<path class="mu" d="M1135.6 198.3l-5.4-2.4"/>
<path class="c367" d="M1166.5 201.6l7.7 0 7.7-.2 7.8-.3 7.7-.6-5.4 .8-7.7-.1-7.8-.3-7.7-.3-7.7-.5z"/>
<path class="mu" d="M1166.5 201.6l-5.4-1.5"/>
<path class="c368" d="M1197.4 200.5l7.7-.6 7.7-.7 7.8-.7 7.7-.6-5.4 3.5-7.8 0-7.7-.1-7.7 0-7.7 0z"/>
<path class="mu" d="M1197.4 200.5l-5.4 .8"/>
<path class="c369" d="M1228.3 197.9l7.7-.5 7.7-.4 7.7-.2 7.8 .1-5.4 5.7-7.8-.5-7.7-.4-7.7-.2-7.7-.1z"/>
<path class="mu" d="M1228.3 197.9l-5.4 3.5"/>
<path class="c370" d="M1259.2 196.9l7.7 .3 7.7 .6 7.7 1 7.8 1.3-5.5 6.6-7.7-1.3-7.7-1.2-7.7-.9-7.7-.7z"/>
<path class="mu" d="M1259.2 196.9l-5.4 5.7M1290.1 200.1l-5.5 6.6"/>
<path class="c371" d="M975.8 147.2l7.7 1.6 7.7 1.9 7.7 2 7.7 2.3-5.4 5.9-7.7-1.9-7.7-1.7-7.7-1.7-7.8-1.5z"/>
<path class="mu" d="M975.8 147.2l7.7 1.6 7.7 1.9 7.7 2 7.7 2.3M975.8 147.2l-5.5 6.9"/>
<path class="c372" d="M1006.6 155l7.8 2.5 7.7 2.6 7.7 2.7 7.7 2.9-5.4 3.6-7.7-2.2-7.7-2.2-7.7-2-7.8-2z"/>
<path class="mu" d="M1006.6 155l7.8 2.5 7.7 2.6 7.7 2.7 7.7 2.9M1006.6 155l-5.4 5.9"/>
<path class="c373" d="M1037.5 165.7l7.8 2.9 7.7 3 7.7 3 7.7 2.9-5.4 .7-7.7-2.3-7.7-2.2-7.8-2.2-7.7-2.2z"/>
<path class="mu" d="M1037.5 165.7l7.8 2.9 7.7 3 7.7 3 7.7 2.9M1037.5 165.7l-5.4 3.6"/>
<path class="c374" d="M1068.4 177.5l7.7 2.8 7.8 2.8 7.7 2.6 7.7 2.5-5.4-1.7-7.7-2-7.7-2-7.8-2.2-7.7-2.1z"/>
<path class="mu" d="M1068.4 177.5l7.7 2.8 7.8 2.8 7.7 2.6 7.7 2.5M1068.4 177.5l-5.4 .7"/>
<path class="c375" d="M1099.3 188.2l7.7 2.2 7.8 2.1 7.7 1.8 7.7 1.6-5.4-2.5-7.7-1.6-7.8-1.6-7.7-1.8-7.7-1.9z"/>
<path class="mu" d="M1099.3 188.2l7.7 2.2 7.8 2.1 7.7 1.8 7.7 1.6M1099.3 188.2l-5.4-1.7"/>
<path class="c376" d="M1130.2 195.9l7.7 1.4 7.7 1.1 7.8 1 7.7 .7-5.4-1.7-7.7-1.1-7.8-1.2-7.7-1.3-7.7-1.4z"/>
<path class="mu" d="M1130.2 195.9l7.7 1.4 7.7 1.1 7.8 1 7.7 .7M1130.2 195.9l-5.4-2.5"/>
<path class="c377" d="M1161.1 200.1l7.7 .5 7.7 .3 7.8 .3 7.7 .1-5.4 .7-7.8-.8-7.7-.9-7.7-.9-7.7-1z"/>
<path class="mu" d="M1161.1 200.1l7.7 .5 7.7 .3 7.8 .3 7.7 .1M1161.1 200.1l-5.4-1.7"/>
<path class="c378" d="M1192 201.3l7.7 0 7.7 0 7.7 .1 7.8 0-5.4 3.6-7.8-.8-7.7-.7-7.7-.8-7.7-.7z"/>
<path class="mu" d="M1192 201.3l7.7 0 7.7 0 7.7 .1 7.8 0M1192 201.3l-5.4 .7"/>
<path class="c379" d="M1222.9 201.4l7.7 .1 7.7 .2 7.7 .4 7.8 .5-5.5 5.9-7.7-1-7.7-.9-7.7-.8-7.7-.8z"/>
<path class="mu" d="M1222.9 201.4l7.7 .1 7.7 .2 7.7 .4 7.8 .5M1222.9 201.4l-5.4 3.6"/>
<path class="c380" d="M1253.8 202.6l7.7 .7 7.7 .9 7.7 1.2 7.7 1.3-5.4 6.9-7.7-1.5-7.7-1.3-7.7-1.2-7.8-1.1z"/>
<path class="mu" d="M1253.8 202.6l7.7 .7 7.7 .9 7.7 1.2 7.7 1.3M1253.8 202.6l-5.5 5.9M1284.6 206.7l-5.4 6.9"/>
<path class="c371" d="M970.3 154.1l7.8 1.5 7.7 1.7 7.7 1.7 7.7 1.9-5.4 6-7.7-1.5-7.7-1.5-7.8-1.5-7.7-1.5z"/>
<path class="mu" d="M970.3 154.1l-5.4 6.8"/>
<path class="c372" d="M1001.2 160.9l7.8 2 7.7 2 7.7 2.2 7.7 2.2-5.4 3.5-7.7-1.4-7.7-1.5-7.8-1.5-7.7-1.5z"/>
<path class="mu" d="M1001.2 160.9l-5.4 6"/>
<path class="c373" d="M1032.1 169.3l7.7 2.2 7.8 2.2 7.7 2.2 7.7 2.3-5.4 .6-7.7-1.5-7.7-1.5-7.8-1.5-7.7-1.5z"/>
<path class="mu" d="M1032.1 169.3l-5.4 3.5"/>
<path class="c374" d="M1063 178.2l7.7 2.1 7.8 2.2 7.7 2 7.7 2-5.4-1.8-7.7-1.4-7.8-1.5-7.7-1.5-7.7-1.5z"/>
<path class="mu" d="M1063 178.2l-5.4 .6"/>
<path class="c375" d="M1093.9 186.5l7.7 1.9 7.7 1.8 7.8 1.6 7.7 1.6-5.4-2.7-7.7-1.5-7.8-1.5-7.7-1.5-7.7-1.5z"/>
<path class="mu" d="M1093.9 186.5l-5.4-1.8"/>
<path class="c376" d="M1124.8 193.4l7.7 1.4 7.7 1.3 7.8 1.2 7.7 1.1-5.4-1.8-7.8-1.4-7.7-1.5-7.7-1.5-7.7-1.5z"/>
<path class="mu" d="M1124.8 193.4l-5.4-2.7"/>
<path class="c377" d="M1155.7 198.4l7.7 1 7.7 .9 7.7 .9 7.8 .8-5.4 .6-7.8-1.5-7.7-1.5-7.7-1.5-7.7-1.5z"/>
<path class="mu" d="M1155.7 198.4l-5.4-1.8"/>
<path class="c378" d="M1186.6 202l7.7 .7 7.7 .8 7.7 .7 7.8 .8-5.5 3.5-7.7-1.4-7.7-1.5-7.7-1.5-7.7-1.5z"/>
<path class="mu" d="M1186.6 202l-5.4 .6"/>
<path class="c379" d="M1217.5 205l7.7 .8 7.7 .8 7.7 .9 7.7 1-5.4 6-7.7-1.5-7.7-1.5-7.7-1.5-7.8-1.5z"/>
<path class="mu" d="M1217.5 205l-5.5 3.5"/>
<path class="c380" d="M1248.3 208.5l7.8 1.1 7.7 1.2 7.7 1.3 7.7 1.5-5.4 6.8-7.7-1.4-7.7-1.5-7.7-1.5-7.8-1.5z"/>
<path class="mu" d="M1248.3 208.5l-5.4 6M1279.2 213.6l-5.4 6.8"/>
<path class="c371" d="M964.9 160.9l7.7 1.5 7.8 1.5 7.7 1.5 7.7 1.5-5.4 6-7.7-1.1-7.7-1.2-7.8-1.3-7.7-1.5z"/>
<path class="mu" d="M964.9 160.9l-5.4 6.9"/>
<path class="c372" d="M995.8 166.9l7.7 1.5 7.8 1.5 7.7 1.5 7.7 1.4-5.4 3.6-7.7-.8-7.8-.8-7.7-.9-7.7-1z"/>
<path class="mu" d="M995.8 166.9l-5.4 6"/>
<path class="c373" d="M1026.7 172.8l7.7 1.5 7.8 1.5 7.7 1.5 7.7 1.5-5.4 .6-7.7-.7-7.8-.8-7.7-.7-7.7-.8z"/>
<path class="mu" d="M1026.7 172.8l-5.4 3.6"/>
<path class="c374" d="M1057.6 178.8l7.7 1.5 7.7 1.5 7.8 1.5 7.7 1.4-5.4-1.7-7.7-1-7.8-.9-7.7-.9-7.7-.8z"/>
<path class="mu" d="M1057.6 178.8l-5.4 .6"/>
<path class="c375" d="M1088.5 184.7l7.7 1.5 7.7 1.5 7.8 1.5 7.7 1.5-5.4-2.7-7.8-1.4-7.7-1.3-7.7-1.2-7.7-1.1z"/>
<path class="mu" d="M1088.5 184.7l-5.4-1.7"/>
<path class="c376" d="M1119.4 190.7l7.7 1.5 7.7 1.5 7.7 1.5 7.8 1.4-5.4-1.7-7.8-1.9-7.7-1.8-7.7-1.6-7.7-1.6z"/>
<path class="mu" d="M1119.4 190.7l-5.4-2.7"/>
<path class="c377" d="M1150.3 196.6l7.7 1.5 7.7 1.5 7.7 1.5 7.8 1.5-5.5 .6-7.7-2.1-7.7-2.2-7.7-2-7.7-2z"/>
<path class="mu" d="M1150.3 196.6l-5.4-1.7"/>
<path class="c378" d="M1181.2 202.6l7.7 1.5 7.7 1.5 7.7 1.5 7.7 1.4-5.4 3.6-7.7-2.2-7.7-2.2-7.7-2.2-7.8-2.3z"/>
<path class="mu" d="M1181.2 202.6l-5.5 .6"/>
<path class="c379" d="M1212 208.5l7.8 1.5 7.7 1.5 7.7 1.5 7.7 1.5-5.4 6-7.7-2-7.7-2-7.7-2.2-7.8-2.2z"/>
<path class="mu" d="M1212 208.5l-5.4 3.6"/>
<path class="c380" d="M1242.9 214.5l7.8 1.5 7.7 1.5 7.7 1.5 7.7 1.4-5.4 6.9-7.7-1.5-7.7-1.7-7.8-1.7-7.7-1.9z"/>
<path class="mu" d="M1242.9 214.5l-5.4 6M1273.8 220.4l-5.4 6.9"/>
<path class="c371" d="M959.5 167.8l7.7 1.5 7.8 1.3 7.7 1.2 7.7 1.1-5.4 5.9-7.7-.7-7.8-.9-7.7-1.2-7.7-1.3z"/>
<path class="mu" d="M959.5 167.8l-5.4 6.9"/>
<path class="c372" d="M990.4 172.9l7.7 1 7.7 .9 7.8 .8 7.7 .8-5.4 3.6-7.7-.1-7.8-.2-7.7-.4-7.7-.5z"/>
<path class="mu" d="M990.4 172.9l-5.4 5.9"/>
<path class="c373" d="M1021.3 176.4l7.7 .8 7.7 .7 7.8 .8 7.7 .7-5.4 .7-7.8 0-7.7 0-7.7-.1-7.7 0z"/>
<path class="mu" d="M1021.3 176.4l-5.4 3.6"/>
<path class="c374" d="M1052.2 179.4l7.7 .8 7.7 .9 7.8 .9 7.7 1-5.4-1.7-7.8-.5-7.7-.3-7.7-.3-7.7-.1z"/>
<path class="mu" d="M1052.2 179.4l-5.4 .7"/>
<path class="c375" d="M1083.1 183l7.7 1.1 7.7 1.2 7.7 1.3 7.8 1.4-5.4-2.5-7.8-1.4-7.7-1.1-7.7-1-7.7-.7z"/>
<path class="mu" d="M1083.1 183l-5.4-1.7"/>
<path class="c376" d="M1114 188l7.7 1.6 7.7 1.6 7.7 1.8 7.8 1.9-5.5-1.7-7.7-2.2-7.7-2.1-7.7-1.8-7.7-1.6z"/>
<path class="mu" d="M1114 188l-5.4-2.5"/>
<path class="c377" d="M1144.9 194.9l7.7 2 7.7 2 7.7 2.2 7.7 2.1-5.4 .7-7.7-2.8-7.7-2.8-7.7-2.6-7.8-2.5z"/>
<path class="mu" d="M1144.9 194.9l-5.5-1.7"/>
<path class="c378" d="M1175.7 203.2l7.8 2.3 7.7 2.2 7.7 2.2 7.7 2.2-5.4 3.6-7.7-2.9-7.7-3-7.7-3-7.8-2.9z"/>
<path class="mu" d="M1175.7 203.2l-5.4 .7"/>
<path class="c379" d="M1206.6 212.1l7.8 2.2 7.7 2.2 7.7 2 7.7 2-5.4 5.9-7.7-2.5-7.7-2.6-7.8-2.7-7.7-2.9z"/>
<path class="mu" d="M1206.6 212.1l-5.4 3.6"/>
<path class="c380" d="M1237.5 220.5l7.7 1.9 7.8 1.7 7.7 1.7 7.7 1.5-5.4 6.9-7.7-1.6-7.7-1.9-7.8-2-7.7-2.3z"/>
<path class="mu" d="M1237.5 220.5l-5.4 5.9M1268.4 227.3l-5.4 6.9"/>
<path class="c381" d="M954.1 174.7l7.7 1.3 7.7 1.2 7.8 .9 7.7 .7-5.4 5.7-7.7-.3-7.8-.6-7.7-1-7.7-1.3z"/>
<path class="mu" d="M954.1 174.7l7.7 1.3 7.7 1.2 7.8 .9 7.7 .7M954.1 174.7l-5.4 6.6"/>
<path class="c382" d="M985 178.8l7.7 .5 7.7 .4 7.8 .2 7.7 .1-5.4 3.5-7.8 .5-7.7 .4-7.7 .2-7.7-.1z"/>
<path class="mu" d="M985 178.8l7.7 .5 7.7 .4 7.8 .2 7.7 .1M985 178.8l-5.4 5.7"/>
<path class="c383" d="M1015.9 180l7.7 0 7.7 .1 7.7 0 7.8 0-5.4 .8-7.8 .6-7.7 .7-7.7 .7-7.7 .6z"/>
<path class="mu" d="M1015.9 180l7.7 0 7.7 .1 7.7 0 7.8 0M1015.9 180l-5.4 3.5"/>
<path class="c384" d="M1046.8 180.1l7.7 .1 7.7 .3 7.7 .3 7.8 .5-5.5-1.5-7.7 0-7.7 .2-7.7 .3-7.7 .6z"/>
<path class="mu" d="M1046.8 180.1l7.7 .1 7.7 .3 7.7 .3 7.8 .5M1046.8 180.1l-5.4 .8"/>
<path class="c385" d="M1077.7 181.3l7.7 .7 7.7 1 7.7 1.1 7.8 1.4-5.5-2.4-7.7-1.3-7.7-1-7.7-.6-7.8-.4z"/>
<path class="mu" d="M1077.7 181.3l7.7 .7 7.7 1 7.7 1.1 7.8 1.4M1077.7 181.3l-5.5-1.5"/>
<path class="c386" d="M1108.6 185.5l7.7 1.6 7.7 1.8 7.7 2.1 7.7 2.2-5.4-1.5-7.7-2.6-7.7-2.4-7.7-2-7.8-1.6z"/>
<path class="mu" d="M1108.6 185.5l7.7 1.6 7.7 1.8 7.7 2.1 7.7 2.2M1108.6 185.5l-5.5-2.4"/>
<path class="c387" d="M1139.4 193.2l7.8 2.5 7.7 2.6 7.7 2.8 7.7 2.8-5.4 .8-7.7-3.5-7.7-3.4-7.7-3.2-7.8-2.9z"/>
<path class="mu" d="M1139.4 193.2l7.8 2.5 7.7 2.6 7.7 2.8 7.7 2.8M1139.4 193.2l-5.4-1.5"/>
<path class="c388" d="M1170.3 203.9l7.8 2.9 7.7 3 7.7 3 7.7 2.9-5.4 3.5-7.7-3.6-7.7-3.7-7.8-3.6-7.7-3.6z"/>
<path class="mu" d="M1170.3 203.9l7.8 2.9 7.7 3 7.7 3 7.7 2.9M1170.3 203.9l-5.4 .8"/>
<path class="c389" d="M1201.2 215.7l7.7 2.9 7.8 2.7 7.7 2.6 7.7 2.5-5.4 5.7-7.7-2.9-7.7-3.2-7.8-3.3-7.7-3.5z"/>
<path class="mu" d="M1201.2 215.7l7.7 2.9 7.8 2.7 7.7 2.6 7.7 2.5M1201.2 215.7l-5.4 3.5"/>
<path class="c390" d="M1232.1 226.4l7.7 2.3 7.8 2 7.7 1.9 7.7 1.6-5.4 6.6-7.7-1.7-7.8-2-7.7-2.3-7.7-2.7z"/>
<path class="mu" d="M1232.1 226.4l7.7 2.3 7.8 2 7.7 1.9 7.7 1.6M1232.1 226.4l-5.4 5.7M1263 234.2l-5.4 6.6"/>
<path class="c381" d="M948.7 181.3l7.7 1.3 7.7 1 7.8 .6 7.7 .3-5.4 5.5-7.8 .1-7.7-.4-7.7-.8-7.7-1.3z"/>
<path class="mu" d="M948.7 181.3l-5.4 6.3"/>
<path class="c382" d="M979.6 184.5l7.7 .1 7.7-.2 7.7-.4 7.8-.5-5.4 3.4-7.8 1.1-7.7 .9-7.7 .7-7.7 .4z"/>
<path class="mu" d="M979.6 184.5l-5.4 5.5"/>
<path class="c383" d="M1010.5 183.5l7.7-.6 7.7-.7 7.7-.7 7.8-.6-5.5 .8-7.7 1.3-7.7 1.3-7.7 1.3-7.7 1.3z"/>
<path class="mu" d="M1010.5 183.5l-5.4 3.4"/>
<path class="c384" d="M1041.4 180.9l7.7-.6 7.7-.3 7.7-.2 7.7 0-5.4-1.2-7.7 .3-7.7 .7-7.7 1-7.8 1.1z"/>
<path class="mu" d="M1041.4 180.9l-5.5 .8"/>
<path class="c385" d="M1072.2 179.8l7.8 .4 7.7 .6 7.7 1 7.7 1.3-5.4-2.1-7.7-1.3-7.7-.8-7.7-.4-7.8 .1z"/>
<path class="mu" d="M1072.2 179.8l-5.4-1.2"/>
<path class="c386" d="M1103.1 183.1l7.8 1.6 7.7 2 7.7 2.4 7.7 2.6-5.4-1.2-7.7-3-7.7-2.7-7.8-2.1-7.7-1.7z"/>
<path class="mu" d="M1103.1 183.1l-5.4-2.1"/>
<path class="c387" d="M1134 191.7l7.8 2.9 7.7 3.2 7.7 3.4 7.7 3.5-5.4 .8-7.7-4.1-7.7-3.9-7.8-3.7-7.7-3.3z"/>
<path class="mu" d="M1134 191.7l-5.4-1.2"/>
<path class="c388" d="M1164.9 204.7l7.7 3.6 7.8 3.6 7.7 3.7 7.7 3.6-5.4 3.4-7.7-4.3-7.8-4.3-7.7-4.3-7.7-4.2z"/>
<path class="mu" d="M1164.9 204.7l-5.4 .8"/>
<path class="c389" d="M1195.8 219.2l7.7 3.5 7.8 3.3 7.7 3.2 7.7 2.9-5.4 5.5-7.7-3.3-7.8-3.7-7.7-3.9-7.7-4.1z"/>
<path class="mu" d="M1195.8 219.2l-5.4 3.4"/>
<path class="c390" d="M1226.7 232.1l7.7 2.7 7.7 2.3 7.8 2 7.7 1.7-5.4 6.3-7.7-1.7-7.8-2.2-7.7-2.6-7.7-3z"/>
<path class="mu" d="M1226.7 232.1l-5.4 5.5M1257.6 240.8l-5.4 6.3"/>
<path class="c381" d="M943.3 187.6l7.7 1.3 7.7 .8 7.7 .4 7.8-.1-5.4 5.2-7.8 .4-7.7-.1-7.7-.7-7.7-1.2z"/>
<path class="mu" d="M943.3 187.6l-5.4 6"/>
<path class="c382" d="M974.2 190l7.7-.4 7.7-.7 7.7-.9 7.8-1.1-5.5 3.2-7.7 1.7-7.7 1.4-7.7 1.2-7.7 .8z"/>
<path class="mu" d="M974.2 190l-5.4 5.2"/>
<path class="c383" d="M1005.1 186.9l7.7-1.3 7.7-1.3 7.7-1.3 7.7-1.3-5.4 1-7.7 1.8-7.7 1.9-7.7 1.9-7.8 1.8z"/>
<path class="mu" d="M1005.1 186.9l-5.5 3.2"/>
<path class="c384" d="M1035.9 181.7l7.8-1.1 7.7-1 7.7-.7 7.7-.3-5.4-1-7.7 .8-7.7 1.2-7.7 1.4-7.8 1.7z"/>
<path class="mu" d="M1035.9 181.7l-5.4 1"/>
<path class="c385" d="M1066.8 178.6l7.8-.1 7.7 .4 7.7 .8 7.7 1.3-5.4-1.8-7.7-1.2-7.7-.6-7.8-.1-7.7 .3z"/>
<path class="mu" d="M1066.8 178.6l-5.4-1"/>
<path class="c386" d="M1097.7 181l7.7 1.7 7.8 2.1 7.7 2.7 7.7 3-5.4-1-7.7-3.3-7.7-2.9-7.8-2.3-7.7-1.8z"/>
<path class="mu" d="M1097.7 181l-5.4-1.8"/>
<path class="c387" d="M1128.6 190.5l7.7 3.3 7.8 3.7 7.7 3.9 7.7 4.1-5.4 1-7.7-4.6-7.8-4.5-7.7-4.1-7.7-3.8z"/>
<path class="mu" d="M1128.6 190.5l-5.4-1"/>
<path class="c388" d="M1159.5 205.5l7.7 4.2 7.7 4.3 7.8 4.3 7.7 4.3-5.4 3.2-7.7-4.8-7.8-4.8-7.7-4.9-7.7-4.8z"/>
<path class="mu" d="M1159.5 205.5l-5.4 1"/>
<path class="c389" d="M1190.4 222.6l7.7 4.1 7.7 3.9 7.8 3.7 7.7 3.3-5.4 5.2-7.7-3.8-7.8-4.1-7.7-4.4-7.7-4.7z"/>
<path class="mu" d="M1190.4 222.6l-5.4 3.2"/>
<path class="c390" d="M1221.3 237.6l7.7 3 7.7 2.6 7.8 2.2 7.7 1.7-5.4 6-7.8-1.8-7.7-2.3-7.7-2.9-7.7-3.3z"/>
<path class="mu" d="M1221.3 237.6l-5.4 5.2M1252.2 247.1l-5.4 6"/>
<path class="c381" d="M937.9 193.6l7.7 1.2 7.7 .7 7.7 .1 7.8-.4-5.5 4.8-7.7 .6-7.7 .1-7.7-.5-7.8-1.1z"/>
<path class="mu" d="M937.9 193.6l-5.5 5.5"/>
<path class="c382" d="M968.8 195.2l7.7-.8 7.7-1.2 7.7-1.4 7.7-1.7-5.4 3.1-7.7 2.1-7.7 1.9-7.7 1.6-7.8 1.2z"/>
<path class="mu" d="M968.8 195.2l-5.5 4.8"/>
<path class="c383" d="M999.6 190.1l7.8-1.8 7.7-1.9 7.7-1.9 7.7-1.8-5.4 1.2-7.7 2.3-7.7 2.3-7.7 2.4-7.8 2.3z"/>
<path class="mu" d="M999.6 190.1l-5.4 3.1"/>
<path class="c384" d="M1030.5 182.7l7.8-1.7 7.7-1.4 7.7-1.2 7.7-.8-5.4-.5-7.7 1.2-7.7 1.5-7.8 1.9-7.7 2.2z"/>
<path class="mu" d="M1030.5 182.7l-5.4 1.2"/>
<path class="c385" d="M1061.4 177.6l7.7-.3 7.8 .1 7.7 .6 7.7 1.2-5.4-1.2-7.7-1.2-7.7-.5-7.8 .1-7.7 .7z"/>
<path class="mu" d="M1061.4 177.6l-5.4-.5"/>
<path class="c386" d="M1092.3 179.2l7.7 1.8 7.8 2.3 7.7 2.9 7.7 3.3-5.4-.5-7.7-3.6-7.8-3.1-7.7-2.5-7.7-1.8z"/>
<path class="mu" d="M1092.3 179.2l-5.4-1.2"/>
<path class="c387" d="M1123.2 189.5l7.7 3.8 7.7 4.1 7.8 4.5 7.7 4.6-5.4 1.2-7.7-5.2-7.8-4.8-7.7-4.6-7.7-4.1z"/>
<path class="mu" d="M1123.2 189.5l-5.4-.5"/>
<path class="c388" d="M1154.1 206.5l7.7 4.8 7.7 4.9 7.8 4.8 7.7 4.8-5.4 3.1-7.8-5.3-7.7-5.3-7.7-5.4-7.7-5.2z"/>
<path class="mu" d="M1154.1 206.5l-5.4 1.2"/>
<path class="c389" d="M1185 225.8l7.7 4.7 7.7 4.4 7.8 4.1 7.7 3.8-5.4 4.8-7.8-4.2-7.7-4.5-7.7-4.9-7.7-5.1z"/>
<path class="mu" d="M1185 225.8l-5.4 3.1"/>
<path class="c390" d="M1215.9 242.8l7.7 3.3 7.7 2.9 7.7 2.3 7.8 1.8-5.4 5.5-7.8-1.8-7.7-2.5-7.7-3.1-7.7-3.6z"/>
<path class="mu" d="M1215.9 242.8l-5.4 4.8M1246.8 253.1l-5.4 5.5"/>
<path class="c391" d="M932.4 199.1l7.8 1.1 7.7 .5 7.7-.1 7.7-.6-5.4 4.2-7.7 1-7.7 .3-7.7-.4-7.8-1.1z"/>
<path class="mu" d="M932.4 199.1l7.8 1.1 7.7 .5 7.7-.1 7.7-.6M932.4 199.1l-5.4 4.9"/>
<path class="c392" d="M963.3 200l7.8-1.2 7.7-1.6 7.7-1.9 7.7-2.1-5.4 2.9-7.7 2.5-7.7 2.3-7.8 1.9-7.7 1.4z"/>
<path class="mu" d="M963.3 200l7.8-1.2 7.7-1.6 7.7-1.9 7.7-2.1M963.3 200l-5.4 4.2"/>
<path class="c393" d="M994.2 193.2l7.8-2.3 7.7-2.4 7.7-2.3 7.7-2.3-5.4 1.3-7.7 2.7-7.7 2.7-7.8 2.8-7.7 2.7z"/>
<path class="mu" d="M994.2 193.2l7.8-2.3 7.7-2.4 7.7-2.3 7.7-2.3M994.2 193.2l-5.4 2.9"/>
<path class="c394" d="M1025.1 183.9l7.7-2.2 7.8-1.9 7.7-1.5 7.7-1.2-5.4 0-7.7 1.4-7.7 1.9-7.8 2.3-7.7 2.5z"/>
<path class="mu" d="M1025.1 183.9l7.7-2.2 7.8-1.9 7.7-1.5 7.7-1.2M1025.1 183.9l-5.4 1.3"/>
<path class="c395" d="M1056 177.1l7.7-.7 7.8-.1 7.7 .5 7.7 1.2-5.4-.7-7.7-1.1-7.8-.4-7.7 .3-7.7 1z"/>
<path class="mu" d="M1056 177.1l7.7-.7 7.8-.1 7.7 .5 7.7 1.2M1056 177.1l-5.4 0"/>
<path class="c396" d="M1086.9 178l7.7 1.8 7.7 2.5 7.8 3.1 7.7 3.6-5.4 0-7.7-3.9-7.8-3.3-7.7-2.6-7.7-1.9z"/>
<path class="mu" d="M1086.9 178l7.7 1.8 7.7 2.5 7.8 3.1 7.7 3.6M1086.9 178l-5.4-.7"/>
<path class="c397" d="M1117.8 189l7.7 4.1 7.7 4.6 7.8 4.8 7.7 5.2-5.4 1.3-7.8-5.5-7.7-5.2-7.7-4.9-7.7-4.4z"/>
<path class="mu" d="M1117.8 189l7.7 4.1 7.7 4.6 7.8 4.8 7.7 5.2M1117.8 189l-5.4 0"/>
<path class="c398" d="M1148.7 207.7l7.7 5.2 7.7 5.4 7.7 5.3 7.8 5.3-5.4 2.9-7.8-5.7-7.7-5.7-7.7-5.7-7.7-5.7z"/>
<path class="mu" d="M1148.7 207.7l7.7 5.2 7.7 5.4 7.7 5.3 7.8 5.3M1148.7 207.7l-5.4 1.3"/>
<path class="c399" d="M1179.6 228.9l7.7 5.1 7.7 4.9 7.7 4.5 7.8 4.2-5.5 4.2-7.7-4.4-7.7-4.9-7.7-5.2-7.7-5.5z"/>
<path class="mu" d="M1179.6 228.9l7.7 5.1 7.7 4.9 7.7 4.5 7.8 4.2M1179.6 228.9l-5.4 2.9"/>
<path class="c400" d="M1210.5 247.6l7.7 3.6 7.7 3.1 7.7 2.5 7.8 1.8-5.5 4.9-7.7-1.9-7.7-2.6-7.7-3.3-7.8-3.9z"/>
<path class="mu" d="M1210.5 247.6l7.7 3.6 7.7 3.1 7.7 2.5 7.8 1.8M1210.5 247.6l-5.5 4.2M1241.4 258.6l-5.5 4.9"/>
<path class="c391" d="M927 204l7.8 1.1 7.7 .4 7.7-.3 7.7-1-5.4 3.8-7.7 1.1-7.7 .4-7.8-.3-7.7-1z"/>
<path class="mu" d="M927 204l-5.4 4.2"/>
<path class="c392" d="M957.9 204.2l7.7-1.4 7.8-1.9 7.7-2.3 7.7-2.5-5.4 2.7-7.7 2.8-7.7 2.5-7.8 2.2-7.7 1.7z"/>
<path class="mu" d="M957.9 204.2l-5.4 3.8"/>
<path class="c393" d="M988.8 196.1l7.7-2.7 7.8-2.8 7.7-2.7 7.7-2.7-5.4 1.5-7.7 3-7.8 3.1-7.7 3-7.7 3z"/>
<path class="mu" d="M988.8 196.1l-5.4 2.7"/>
<path class="c394" d="M1019.7 185.2l7.7-2.5 7.8-2.3 7.7-1.9 7.7-1.4-5.4 .5-7.7 1.7-7.8 2.1-7.7 2.5-7.7 2.8z"/>
<path class="mu" d="M1019.7 185.2l-5.4 1.5"/>
<path class="c395" d="M1050.6 177.1l7.7-1 7.7-.3 7.8 .4 7.7 1.1-5.4 .1-7.7-1.1-7.8-.3-7.7 .5-7.7 1.1z"/>
<path class="mu" d="M1050.6 177.1l-5.4 .5"/>
<path class="c396" d="M1081.5 177.3l7.7 1.9 7.7 2.6 7.8 3.3 7.7 3.9-5.4 .5-7.8-4.1-7.7-3.4-7.7-2.7-7.7-1.9z"/>
<path class="mu" d="M1081.5 177.3l-5.4 .1"/>
<path class="c397" d="M1112.4 189l7.7 4.4 7.7 4.9 7.7 5.2 7.8 5.5-5.4 1.5-7.8-5.7-7.7-5.5-7.7-5.2-7.7-4.6z"/>
<path class="mu" d="M1112.4 189l-5.4 .5"/>
<path class="c398" d="M1143.3 209l7.7 5.7 7.7 5.7 7.7 5.7 7.8 5.7-5.5 2.7-7.7-6-7.7-6-7.7-6-7.7-6z"/>
<path class="mu" d="M1143.3 209l-5.4 1.5"/>
<path class="c399" d="M1174.2 231.8l7.7 5.5 7.7 5.2 7.7 4.9 7.7 4.4-5.4 3.8-7.7-4.7-7.7-5.1-7.7-5.5-7.8-5.8z"/>
<path class="mu" d="M1174.2 231.8l-5.5 2.7"/>
<path class="c400" d="M1205 251.8l7.8 3.9 7.7 3.3 7.7 2.6 7.7 1.9-5.4 4.2-7.7-1.9-7.7-2.7-7.7-3.5-7.8-4z"/>
<path class="mu" d="M1205 251.8l-5.4 3.8M1235.9 263.5l-5.4 4.2"/>
<path class="c391" d="M921.6 208.2l7.7 1 7.8 .3 7.7-.4 7.7-1.1-5.4 3.1-7.7 1.2-7.7 .5-7.8-.2-7.7-1.1z"/>
<path class="mu" d="M921.6 208.2l-5.4 3.3"/>
<path class="c392" d="M952.5 208l7.7-1.7 7.8-2.2 7.7-2.5 7.7-2.8-5.4 2.5-7.7 2.9-7.8 2.7-7.7 2.3-7.7 1.9z"/>
<path class="mu" d="M952.5 208l-5.4 3.1"/>
<path class="c393" d="M983.4 198.8l7.7-3 7.7-3 7.8-3.1 7.7-3-5.4 1.8-7.7 3.1-7.8 3.3-7.7 3.2-7.7 3.2z"/>
<path class="mu" d="M983.4 198.8l-5.4 2.5"/>
<path class="c394" d="M1014.3 186.7l7.7-2.8 7.7-2.5 7.8-2.1 7.7-1.7-5.4 1.1-7.8 1.8-7.7 2.3-7.7 2.7-7.7 3z"/>
<path class="mu" d="M1014.3 186.7l-5.4 1.8"/>
<path class="c395" d="M1045.2 177.6l7.7-1.1 7.7-.5 7.8 .3 7.7 1.1-5.4 .8-7.8-1-7.7-.3-7.7 .6-7.7 1.2z"/>
<path class="mu" d="M1045.2 177.6l-5.4 1.1"/>
<path class="c396" d="M1076.1 177.4l7.7 1.9 7.7 2.7 7.7 3.4 7.8 4.1-5.4 1.1-7.8-4.2-7.7-3.5-7.7-2.8-7.7-1.9z"/>
<path class="mu" d="M1076.1 177.4l-5.4 .8"/>
<path class="c397" d="M1107 189.5l7.7 4.6 7.7 5.2 7.7 5.5 7.8 5.7-5.5 1.8-7.7-5.9-7.7-5.7-7.7-5.3-7.7-4.8z"/>
<path class="mu" d="M1107 189.5l-5.4 1.1"/>
<path class="c398" d="M1137.9 210.5l7.7 6 7.7 6 7.7 6 7.7 6-5.4 2.5-7.7-6.2-7.7-6.2-7.7-6.2-7.8-6.1z"/>
<path class="mu" d="M1137.9 210.5l-5.5 1.8"/>
<path class="c399" d="M1168.7 234.5l7.8 5.8 7.7 5.5 7.7 5.1 7.7 4.7-5.4 3.1-7.7-4.8-7.7-5.3-7.7-5.7-7.8-5.9z"/>
<path class="mu" d="M1168.7 234.5l-5.4 2.5"/>
<path class="c400" d="M1199.6 255.6l7.8 4 7.7 3.5 7.7 2.7 7.7 1.9-5.4 3.3-7.7-1.9-7.7-2.7-7.8-3.5-7.7-4.2z"/>
<path class="mu" d="M1199.6 255.6l-5.4 3.1M1230.5 267.7l-5.4 3.3"/>
<path class="c391" d="M916.2 211.5l7.7 1.1 7.8 .2 7.7-.5 7.7-1.2-5.4 2.4-7.7 1.3-7.8 .6-7.7-.2-7.7-1.1z"/>
<path class="mu" d="M916.2 211.5l-5.4 2.6M910.8 214.1l7.7 1.1 7.7 .2 7.8-.6 7.7-1.3"/>
<path class="c392" d="M947.1 211.1l7.7-1.9 7.7-2.3 7.8-2.7 7.7-2.9-5.4 2.2-7.7 3-7.8 2.8-7.7 2.3-7.7 1.9z"/>
<path class="mu" d="M947.1 211.1l-5.4 2.4M941.7 213.5l7.7-1.9 7.7-2.3 7.8-2.8 7.7-3"/>
<path class="c393" d="M978 201.3l7.7-3.2 7.7-3.2 7.8-3.3 7.7-3.1-5.4 2-7.8 3.2-7.7 3.3-7.7 3.3-7.7 3.2z"/>
<path class="mu" d="M978 201.3l-5.4 2.2M972.6 203.5l7.7-3.2 7.7-3.3 7.7-3.3 7.8-3.2"/>
<path class="c394" d="M1008.9 188.5l7.7-3 7.7-2.7 7.7-2.3 7.8-1.8-5.4 1.8-7.8 1.9-7.7 2.3-7.7 2.8-7.7 3z"/>
<path class="mu" d="M1008.9 188.5l-5.4 2M1003.5 190.5l7.7-3 7.7-2.8 7.7-2.3 7.8-1.9"/>
<path class="c395" d="M1039.8 178.7l7.7-1.2 7.7-.6 7.7 .3 7.8 1-5.5 1.7-7.7-1.1-7.7-.2-7.7 .6-7.7 1.3z"/>
<path class="mu" d="M1039.8 178.7l-5.4 1.8M1034.4 180.5l7.7-1.3 7.7-.6 7.7 .2 7.7 1.1"/>
<path class="c396" d="M1070.7 178.2l7.7 1.9 7.7 2.8 7.7 3.5 7.8 4.2-5.5 1.8-7.7-4.3-7.7-3.5-7.7-2.8-7.8-1.9z"/>
<path class="mu" d="M1070.7 178.2l-5.5 1.7M1065.2 179.9l7.8 1.9 7.7 2.8 7.7 3.5 7.7 4.3"/>
<path class="c397" d="M1101.6 190.6l7.7 4.8 7.7 5.3 7.7 5.7 7.7 5.9-5.4 2-7.7-6-7.7-5.7-7.7-5.4-7.8-4.8z"/>
<path class="mu" d="M1101.6 190.6l-5.5 1.8M1096.1 192.4l7.8 4.8 7.7 5.4 7.7 5.7 7.7 6"/>
<path class="c398" d="M1132.4 212.3l7.8 6.1 7.7 6.2 7.7 6.2 7.7 6.2-5.4 2.2-7.7-6.2-7.7-6.3-7.7-6.2-7.8-6.2z"/>
<path class="mu" d="M1132.4 212.3l-5.4 2M1127 214.3l7.8 6.2 7.7 6.2 7.7 6.3 7.7 6.2"/>
<path class="c399" d="M1163.3 237l7.8 5.9 7.7 5.7 7.7 5.3 7.7 4.8-5.4 2.4-7.7-4.8-7.7-5.4-7.8-5.7-7.7-6z"/>
<path class="mu" d="M1163.3 237l-5.4 2.2M1157.9 239.2l7.7 6 7.8 5.7 7.7 5.4 7.7 4.8"/>
<path class="c400" d="M1194.2 258.7l7.7 4.2 7.8 3.5 7.7 2.7 7.7 1.9-5.4 2.6-7.7-1.9-7.7-2.8-7.8-3.5-7.7-4.3z"/>
<path class="mu" d="M1194.2 258.7l-5.4 2.4M1225.1 271l-5.4 2.6M1188.8 261.1l7.7 4.3 7.8 3.5 7.7 2.8 7.7 1.9"/>
<ellipse cx="1171.6" cy="193.2" rx="25.3" ry="7.8" fill="#ed1c24" stroke="#0a0a0a" stroke-width="1.2" stroke-dasharray="3 2.6"/>
<path class="az" d="M135.1 85.4L135.1 469.9"/>
<path class="ax" d="M135.1 469.9L444 529.4L660.5 444.7"/>
<path class="ax" d="M135.1 469.9L124.3 467.8"/>
<path class="ax" d="M135.1 374L124.3 371.9"/>
<path class="ax" d="M135.1 278L124.3 276"/>
<path class="ax" d="M135.1 182.1L124.3 180"/>
<path class="ax" d="M135.1 86.2L124.3 84.1"/>
<path class="ax" d="M135.1 469.9L124.9 473.9"/>
<path class="ax" d="M660.5 444.7L671.3 446.8"/>
<path class="ax" d="M289.5 499.6L279.3 503.7"/>
<path class="ax" d="M552.2 487L563.1 489.1"/>
<path class="ax" d="M444 529.4L433.8 533.4"/>
<path class="ax" d="M444 529.4L454.8 531.5"/>
<path class="az" d="M910.8 85.4L910.8 469.9"/>
<path class="ax" d="M910.8 469.9L1219.7 529.4L1436.2 444.7"/>
<path class="ax" d="M910.8 469.9L900 467.8"/>
<path class="ax" d="M910.8 374L900 371.9"/>
<path class="ax" d="M910.8 278L900 276"/>
<path class="ax" d="M910.8 182.1L900 180"/>
<path class="ax" d="M910.8 86.2L900 84.1"/>
<path class="ax" d="M910.8 469.9L900.6 473.9"/>
<path class="ax" d="M1436.2 444.7L1447 446.8"/>
<path class="ax" d="M1065.2 499.6L1055 503.7"/>
<path class="ax" d="M1328 487L1338.8 489.1"/>
<path class="ax" d="M1219.7 529.4L1209.5 533.4"/>
<path class="ax" d="M1219.7 529.4L1230.5 531.5"/>
<g opacity=".999">
<text class="tk" transform="translate(95.3 92.0) scale(1.000 1)" font-size="37">1</text>
<text class="tk" transform="translate(67.6 186.6) scale(0.957 1)" font-size="37">0.5</text>
<text class="tk" transform="translate(95.2 284.0) scale(0.989 1)" font-size="37">0</text>
<text class="tk" transform="translate(56.9 383.5) scale(0.980 1)" font-size="37">-0.5</text>
<text class="tk" transform="translate(82.8 468.3) scale(1.007 1)" font-size="37">-1</text>
<text class="tk" transform="translate(93.4 510.0) scale(1.007 1)" font-size="37">-1</text>
<text class="tk" transform="translate(249.7 539.7) scale(0.994 1)" font-size="37">0</text>
<text class="tk" transform="translate(402.5 561.1) scale(1.000 1)" font-size="37">1</text>
<text class="tk" transform="translate(451.5 562.8) scale(1.000 1)" font-size="37">1</text>
<text class="tk" transform="translate(567.6 516.7) scale(0.978 1)" font-size="37">0</text>
<text class="tk" transform="translate(676.6 465.7) scale(0.986 1)" font-size="37">-1</text>
<text class="tk" transform="translate(871.1 94.6) scale(1.000 1)" font-size="37">1</text>
<text class="tk" transform="translate(843.3 189.2) scale(0.957 1)" font-size="37">0.5</text>
<text class="tk" transform="translate(870.9 286.6) scale(0.989 1)" font-size="37">0</text>
<text class="tk" transform="translate(832.6 386.1) scale(0.980 1)" font-size="37">-0.5</text>
<text class="tk" transform="translate(858.5 470.9) scale(1.007 1)" font-size="37">-1</text>
<text class="tk" transform="translate(869.1 512.6) scale(1.007 1)" font-size="37">-1</text>
<text class="tk" transform="translate(1025.4 542.3) scale(0.994 1)" font-size="37">0</text>
<text class="tk" transform="translate(1178.2 563.7) scale(1.000 1)" font-size="37">1</text>
<text class="tk" transform="translate(1227.2 565.4) scale(1.000 1)" font-size="37">1</text>
<text class="tk" transform="translate(1343.3 519.3) scale(0.978 1)" font-size="37">0</text>
<text class="tk" transform="translate(1452.3 468.3) scale(0.986 1)" font-size="37">-1</text>
<text transform="translate(169.9 577.0) scale(0.955 1)" font-size="40" font-style="italic" class="th">k</text>
<text transform="translate(192.2 585.7) scale(0.987 1)" font-size="30" font-style="normal" class="th">y</text>
<path class="sl" d="M212.3 582.0L225.2 546.8"/>
<text transform="translate(226.6 577.3) scale(1.091 1)" font-size="37" font-style="italic" class="th">π</text>
<text transform="translate(580.9 558.9) scale(0.940 1)" font-size="40" font-style="italic" class="th">k</text>
<text transform="translate(602.9 567.3) scale(0.950 1)" font-size="30" font-style="normal" class="th">x</text>
<path class="sl" d="M622.8 564.2L636.0 528.6"/>
<text transform="translate(634.7 559.1) scale(1.061 1)" font-size="37" font-style="italic" class="th">π</text>
<text transform="translate(945.6 579.6) scale(0.955 1)" font-size="40" font-style="italic" class="th">k</text>
<text transform="translate(967.9 588.3) scale(0.987 1)" font-size="30" font-style="normal" class="th">y</text>
<path class="sl" d="M988.0 584.6L1000.9 549.4"/>
<text transform="translate(1002.3 579.9) scale(1.091 1)" font-size="37" font-style="italic" class="th">π</text>
<text transform="translate(1356.6 561.5) scale(0.940 1)" font-size="40" font-style="italic" class="th">k</text>
<text transform="translate(1378.7 569.9) scale(0.950 1)" font-size="30" font-style="normal" class="th">x</text>
<path class="sl" d="M1398.5 566.8L1411.7 531.2"/>
<text transform="translate(1410.4 561.7) scale(1.061 1)" font-size="37" font-style="italic" class="th">π</text>
<text transform="translate(32.6 305.3) rotate(-90) scale(0.859 1)" font-size="44" font-style="italic" class="th">θ</text>
<path class="sl" d="M38.3 281.2L2.3 268.8"/>
<text transform="translate(32.6 269.4) rotate(-90) scale(1.043 1)" font-size="37" font-style="italic" class="th">π</text>
<text transform="translate(806.6 308.0) rotate(-90) scale(0.859 1)" font-size="44" font-style="italic" class="th">θ</text>
<path class="sl" d="M812.3 283.9L776.3 271.5"/>
<text transform="translate(806.6 272.1) rotate(-90) scale(1.043 1)" font-size="37" font-style="italic" class="th">π</text>
<text transform="translate(151.9 55.6) scale(.92 1)" font-size="47" font-weight="bold" style="fill:#000">a</text>
<text transform="translate(928.6 61.2) scale(.94 1)" font-size="49" font-weight="bold" style="fill:#000">b</text>
</g>
</svg>
</body></html>
